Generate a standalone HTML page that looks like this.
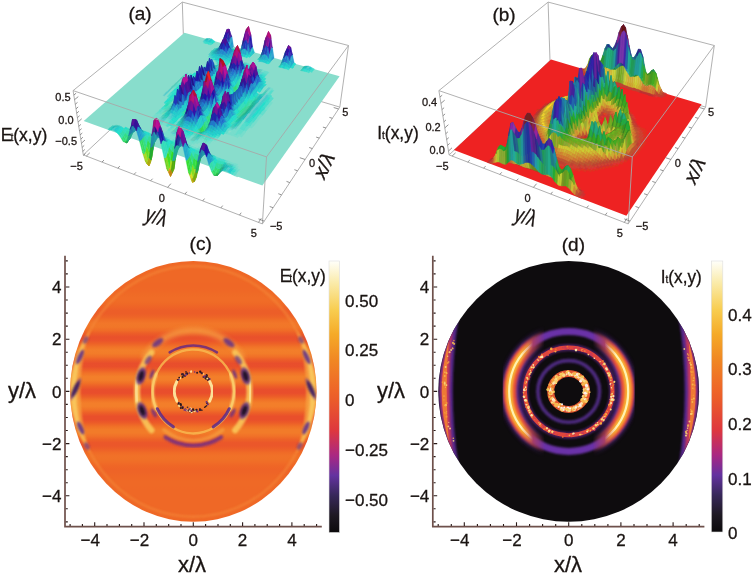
<!DOCTYPE html>
<html><head><meta charset="utf-8"><style>
html,body{margin:0;padding:0;background:#fff;overflow:hidden}
svg{display:block}
text{stroke:#1a1412;stroke-width:.3px}
.a0{fill:#3cb;stroke:#3cb}.a1{fill:#2bb;stroke:#2bb}.a2{fill:#4bb;stroke:#4bb}.a3{fill:#4cc;stroke:#4cc}.a4{fill:#2cc;stroke:#2cc}.a5{fill:#2dc;stroke:#2dc}.a6{fill:#5cc;stroke:#5cc}.a7{fill:#3cc;stroke:#3cc}.a8{fill:#4dc;stroke:#4dc}.a9{fill:#3dc;stroke:#3dc}.aa{fill:#2aa;stroke:#2aa}.ab{fill:#27a;stroke:#27a}.ac{fill:#2cb;stroke:#2cb}.ad{fill:#28a;stroke:#28a}.ae{fill:#29a;stroke:#29a}.af{fill:#29c;stroke:#29c}.ag{fill:#2ac;stroke:#2ac}.ah{fill:#218;stroke:#218}.ai{fill:#4cb;stroke:#4cb}.aj{fill:#27b;stroke:#27b}.ak{fill:#239;stroke:#239}.al{fill:#26c;stroke:#26c}.am{fill:#27c;stroke:#27c}.an{fill:#319;stroke:#319}.ao{fill:#2ab;stroke:#2ab}.ap{fill:#5dc;stroke:#5dc}.aq{fill:#518;stroke:#518}.ar{fill:#23a;stroke:#23a}.as{fill:#419;stroke:#419}.at{fill:#31a;stroke:#31a}.au{fill:#2bc;stroke:#2bc}.av{fill:#619;stroke:#619}.aw{fill:#29b;stroke:#29b}.ax{fill:#26a;stroke:#26a}.ay{fill:#6cc;stroke:#6cc}.az{fill:#259;stroke:#259}.a10{fill:#6dc;stroke:#6dc}.a11{fill:#22a;stroke:#22a}.a12{fill:#229;stroke:#229}.a13{fill:#24b;stroke:#24b}.a14{fill:#28c;stroke:#28c}.a15{fill:#21a;stroke:#21a}.a16{fill:#23b;stroke:#23b}.a17{fill:#318;stroke:#318}.a18{fill:#24a;stroke:#24a}.a19{fill:#28b;stroke:#28b}.a1a{fill:#228;stroke:#228}.a1b{fill:#916;stroke:#916}.a1c{fill:#918;stroke:#918}.a1d{fill:#719;stroke:#719}.a1e{fill:#819;stroke:#819}.a1f{fill:#519;stroke:#519}.a1g{fill:#b18;stroke:#b18}.a1h{fill:#7dc;stroke:#7dc}.a1i{fill:#5cb;stroke:#5cb}.a1j{fill:#7cc;stroke:#7cc}.a1k{fill:#2ba;stroke:#2ba}.a1l{fill:#3bb;stroke:#3bb}.a1m{fill:#618;stroke:#618}.a1n{fill:#6db;stroke:#6db}.a1o{fill:#917;stroke:#917}.a1p{fill:#5db;stroke:#5db}.a1q{fill:#4db;stroke:#4db}.a1r{fill:#b17;stroke:#b17}.a1s{fill:#219;stroke:#219}.a1t{fill:#3db;stroke:#3db}.a1u{fill:#5bb;stroke:#5bb}.a1v{fill:#9d2;stroke:#9d2}.a1w{fill:#8a1;stroke:#8a1}.a1x{fill:#2db;stroke:#2db}.a1y{fill:#ad2;stroke:#ad2}.a1z{fill:#9a1;stroke:#9a1}.a20{fill:#4d2;stroke:#4d2}.a21{fill:#4b2;stroke:#4b2}.a22{fill:#7d2;stroke:#7d2}.a23{fill:#7db;stroke:#7db}.a24{fill:#6cb;stroke:#6cb}.a25{fill:#4ca;stroke:#4ca}.a26{fill:#3d6;stroke:#3d6}.a27{fill:#2c5;stroke:#2c5}.a28{fill:#6b2;stroke:#6b2}.a29{fill:#3d9;stroke:#3d9}.a2a{fill:#2a9;stroke:#2a9}.a2b{fill:#3d3;stroke:#3d3}.a2c{fill:#3d4;stroke:#3d4}.a2d{fill:#3a1;stroke:#3a1}.a2e{fill:#3d7;stroke:#3d7}.a2f{fill:#3c9;stroke:#3c9}.a2g{fill:#6a1;stroke:#6a1}.a2h{fill:#5a1;stroke:#5a1}.a2i{fill:#4a1;stroke:#4a1}.a2j{fill:#249;stroke:#249}.a2k{fill:#2a4;stroke:#2a4}.a2l{fill:#3ca;stroke:#3ca}.a2m{fill:#2a3;stroke:#2a3}.a2n{fill:#3d8;stroke:#3d8}.a2o{fill:#2a5;stroke:#2a5}.a2p{fill:#3d5;stroke:#3d5}.a2q{fill:#4da;stroke:#4da}.a2r{fill:#8dc;stroke:#8dc}.a2s{fill:#2a8;stroke:#2a8}.a2t{fill:#2b8;stroke:#2b8}.a2u{fill:#2a2;stroke:#2a2}.a2v{fill:#3c5;stroke:#3c5}.a2w{fill:#3da;stroke:#3da}.a2x{fill:#2b3;stroke:#2b3}.a2y{fill:#25a;stroke:#25a}.a2z{fill:#3c8;stroke:#3c8}.a30{fill:#26b;stroke:#26b}.a31{fill:#25c;stroke:#25c}.a32{fill:#5b2;stroke:#5b2}.a33{fill:#2b4;stroke:#2b4}.a34{fill:#2b6;stroke:#2b6}.a35{fill:#2b2;stroke:#2b2}.a36{fill:#5d2;stroke:#5d2}.a37{fill:#2a6;stroke:#2a6}.a38{fill:#3b2;stroke:#3b2}.a39{fill:#3c2;stroke:#3c2}.a3a{fill:#2c9;stroke:#2c9}.a3b{fill:#2a7;stroke:#2a7}.a3c{fill:#25b;stroke:#25b}.a3d{fill:#818;stroke:#818}.a3e{fill:#4c2;stroke:#4c2}.a3f{fill:#2b5;stroke:#2b5}.a3g{fill:#915;stroke:#915}.a3h{fill:#a19;stroke:#a19}.a3i{fill:#7a1;stroke:#7a1}.a3j{fill:#7c2;stroke:#7c2}.a3k{fill:#a16;stroke:#a16}.a3l{fill:#913;stroke:#913}.a3m{fill:#2c8;stroke:#2c8}.a3n{fill:#b14;stroke:#b14}.a3o{fill:#2b7;stroke:#2b7}.a3p{fill:#2b9;stroke:#2b9}.a3q{fill:#7b1;stroke:#7b1}.a3r{fill:#3c4;stroke:#3c4}.a3s{fill:#3d2;stroke:#3d2}.a3t{fill:#418;stroke:#418}.a3u{fill:#3c3;stroke:#3c3}.a3v{fill:#b19;stroke:#b19}.a3w{fill:#2ca;stroke:#2ca}.a3x{fill:#9c2;stroke:#9c2}.a3y{fill:#919;stroke:#919}.a3z{fill:#4c9;stroke:#4c9}.a40{fill:#3c6;stroke:#3c6}.a41{fill:#912;stroke:#912}.a42{fill:#718;stroke:#718}.a43{fill:#a18;stroke:#a18}.a44{fill:#b12;stroke:#b12}.a45{fill:#7b2;stroke:#7b2}.a46{fill:#2c3;stroke:#2c3}.a47{fill:#8d2;stroke:#8d2}.a48{fill:#b16;stroke:#b16}.a49{fill:#e22;stroke:#e22}.a4a{fill:#ea2;stroke:#ea2}.a4b{fill:#bd2;stroke:#bd2}.a4c{fill:#b91;stroke:#b91}.a4d{fill:#ba1;stroke:#ba1}.a4e{fill:#6d2;stroke:#6d2}.a4f{fill:#aa1;stroke:#aa1}.a4g{fill:#e92;stroke:#e92}.a4h{fill:#b71;stroke:#b71}.a4i{fill:#c92;stroke:#c92}.a4j{fill:#ac2;stroke:#ac2}.a4k{fill:#b81;stroke:#b81}.a4l{fill:#b13;stroke:#b13}.a4m{fill:#6c2;stroke:#6c2}.a4n{fill:#d92;stroke:#d92}.a4o{fill:#dd2;stroke:#dd2}.a4p{fill:#bc2;stroke:#bc2}.a4q{fill:#a17;stroke:#a17}.b0{fill:#c32;stroke:#c32}.b1{fill:#a32;stroke:#a32}.b2{fill:#c33;stroke:#c33}.b3{fill:#a42;stroke:#a42}.b4{fill:#a43;stroke:#a43}.b5{fill:#b43;stroke:#b43}.b6{fill:#b73;stroke:#b73}.b7{fill:#b63;stroke:#b63}.b8{fill:#b53;stroke:#b53}.b9{fill:#b93;stroke:#b93}.ba{fill:#d33;stroke:#d33}.bb{fill:#b83;stroke:#b83}.bc{fill:#b33;stroke:#b33}.bd{fill:#9b3;stroke:#9b3}.be{fill:#c73;stroke:#c73}.bf{fill:#c83;stroke:#c83}.bg{fill:#bb3;stroke:#bb3}.bh{fill:#682;stroke:#682}.bi{fill:#ab3;stroke:#ab3}.bj{fill:#c63;stroke:#c63}.bk{fill:#792;stroke:#792}.bl{fill:#382;stroke:#382}.bm{fill:#bc3;stroke:#bc3}.bn{fill:#7a2;stroke:#7a2}.bo{fill:#592;stroke:#592}.bp{fill:#5a2;stroke:#5a2}.bq{fill:#c93;stroke:#c93}.br{fill:#8a3;stroke:#8a3}.bs{fill:#392;stroke:#392}.bt{fill:#283;stroke:#283}.bu{fill:#482;stroke:#482}.bv{fill:#ca3;stroke:#ca3}.bw{fill:#294;stroke:#294}.bx{fill:#cb3;stroke:#cb3}.by{fill:#cc3;stroke:#cc3}.bz{fill:#284;stroke:#284}.b10{fill:#293;stroke:#293}.b11{fill:#288;stroke:#288}.b12{fill:#286;stroke:#286}.b13{fill:#296;stroke:#296}.b14{fill:#2a8;stroke:#2a8}.b15{fill:#2a7;stroke:#2a7}.b16{fill:#d32;stroke:#d32}.b17{fill:#297;stroke:#297}.b18{fill:#282;stroke:#282}.b19{fill:#258;stroke:#258}.b1a{fill:#a33;stroke:#a33}.b1b{fill:#285;stroke:#285}.b1c{fill:#238;stroke:#238}.b1d{fill:#582;stroke:#582}.b1e{fill:#249;stroke:#249}.b1f{fill:#299;stroke:#299}.b1g{fill:#a52;stroke:#a52}.b1h{fill:#248;stroke:#248}.b1i{fill:#2a6;stroke:#2a6}.b1j{fill:#295;stroke:#295}.b1k{fill:#4a2;stroke:#4a2}.b1l{fill:#2a9;stroke:#2a9}.b1m{fill:#ba3;stroke:#ba3}.b1n{fill:#259;stroke:#259}.b1o{fill:#428;stroke:#428}.b1p{fill:#2a5;stroke:#2a5}.b1q{fill:#6a2;stroke:#6a2}.b1r{fill:#278;stroke:#278}.b1s{fill:#279;stroke:#279}.b1t{fill:#26a;stroke:#26a}.b1u{fill:#492;stroke:#492}.b1v{fill:#3a2;stroke:#3a2}.b1w{fill:#429;stroke:#429}.b1x{fill:#42a;stroke:#42a}.b1y{fill:#329;stroke:#329}.b1z{fill:#289;stroke:#289}.b20{fill:#828;stroke:#828}.b21{fill:#73a;stroke:#73a}.b22{fill:#228;stroke:#228}.b23{fill:#229;stroke:#229}.b24{fill:#929;stroke:#929}.b25{fill:#ec3;stroke:#ec3}.b26{fill:#a53;stroke:#a53}.b27{fill:#2a4;stroke:#2a4}.b28{fill:#723;stroke:#723}.b29{fill:#ed2;stroke:#ed2}.b2a{fill:#dc3;stroke:#dc3}.b2b{fill:#db3;stroke:#db3}.b2c{fill:#c53;stroke:#c53}.b2d{fill:#611;stroke:#611}.b2e{fill:#c43;stroke:#c43}.b2f{fill:#287;stroke:#287}.b2g{fill:#ed3;stroke:#ed3}.b2h{fill:#9a3;stroke:#9a3}.b2i{fill:#e32;stroke:#e32}.b2j{fill:#27a;stroke:#27a}.b2k{fill:#d42;stroke:#d42}.b2l{fill:#692;stroke:#692}.b2m{fill:#24a;stroke:#24a}.b2n{fill:#fd2;stroke:#fd2}.b2o{fill:#268;stroke:#268}.b2p{fill:#298;stroke:#298}.b2q{fill:#8a2;stroke:#8a2}.b2r{fill:#29a;stroke:#29a}.b2s{fill:#328;stroke:#328}.b2t{fill:#239;stroke:#239}.b2u{fill:#892;stroke:#892}.b2v{fill:#292;stroke:#292}.b2w{fill:#2a3;stroke:#2a3}.b2x{fill:#269;stroke:#269}.b2y{fill:#23a;stroke:#23a}.b2z{fill:#25a;stroke:#25a}.b30{fill:#729;stroke:#729}.b31{fill:#529;stroke:#529}.b32{fill:#528;stroke:#528}.b33{fill:#9b2;stroke:#9b2}.b34{fill:#629;stroke:#629}.b35{fill:#32a;stroke:#32a}.b36{fill:#c42;stroke:#c42}.b37{fill:#22a;stroke:#22a}.b38{fill:#28a;stroke:#28a}.b39{fill:#8b3;stroke:#8b3}.b3a{fill:#6b2;stroke:#6b2}.b3b{fill:#de3;stroke:#de3}.b3c{fill:#6c2;stroke:#6c2}.b3d{fill:#2aa;stroke:#2aa}.b3e{fill:#ac3;stroke:#ac3}.b3f{fill:#2a2;stroke:#2a2}.b3g{fill:#83a;stroke:#83a}.b3h{fill:#82a;stroke:#82a}.b3i{fill:#724;stroke:#724}.b3j{fill:#824;stroke:#824}.b3k{fill:#722;stroke:#722}
</style></head><body>
<svg width="754" height="576" viewBox="0 0 754 576">
<rect width="754" height="576" fill="#fff"/>
<path d="M548.1 2.1L438.9 90.6" stroke="#a8a8a8" stroke-width="0.9" fill="none"/><path d="M548.1 2.1L714.3 45.5" stroke="#a8a8a8" stroke-width="0.9" fill="none"/><path d="M548.1 2.1L550.0 60.7" stroke="#a8a8a8" stroke-width="0.9" fill="none"/><path d="M550.0 60.7L449.1 154.9" stroke="#a8a8a8" stroke-width="0.9" fill="none"/><path d="M550.0 60.7L705.6 107.1" stroke="#a8a8a8" stroke-width="0.9" fill="none"/><polygon points="453.9,150.0 626.4,215.7 701.6,104.2 551.0,59.4" fill="#e22"/><g stroke-width=".8" transform="scale(.5)"><path class="b0" d="M1163 139l 2-2 4 1-2 1z"/><path class="b1" d="M1167 139l 2-1 3 1-2-1z"/><path class="b2" d="M1161 141l 2-2 4 0-2 2z"/><path class="b3" d="M1170 138l 2 1 4-1-2-4z"/><path class="b4" d="M1165 141l 2-2 3-1-2 2z"/><path class="b2" d="M1159 143l 2-2 4 0-2 3z"/><path class="b5" d="M1163 144l 2-3 3-1-2 4z"/><path class="b6" d="M1174 134l 2 4 3-1-1-9z"/><path class="b7" d="M1168 140l 2-2 4-4-2 1z"/><path class="b2" d="M1161 146l 2-2 3 0-2 3z"/><path class="b8" d="M1166 144l 2-4 4-5-2 8z"/><path class="b5" d="M1164 147l 2-3 4-1-2 5z"/><path class="b9" d="M1178 128l 1 9 4-2-2-16z"/><path class="b5" d="M1168 148l 2-5 4-2-2 8z"/><path class="ba" d="M1166 151l 2-3 4 1-2 3z"/><path class="b9" d="M1172 135l 2-1 4-6-2 0z"/><path class="b2" d="M1170 152l 2-3 3 1-2 3z"/><path class="bb" d="M1170 143l 2-8 4-7-2 13z"/><path class="b8" d="M1172 149l 2-8 3-3-2 12z"/><path class="bc" d="M1173 153l 2-3 4 0-2 4z"/><path class="bd" d="M1181 119l 2 16 4-1-2-21z"/><path class="bc" d="M1177 154l 2-4 4 1-2 4z"/><path class="be" d="M1175 150l 2-12 4-2-2 14z"/><path class="bc" d="M1181 155l 2-4 3 1-2 4z"/><path class="bf" d="M1179 150l 2-14 4 0-2 15z"/><path class="bc" d="M1184 156l 2-4 4 2-2 3z"/><path class="bg" d="M1174 141l 2-13 3-10-2 20z"/><path class="bh" d="M1176 128l 2 0 3-9-2-1z"/><path class="bf" d="M1183 151l 2-15 3 3-2 13z"/><path class="bh" d="M1185 113l 2 21 3 0-1-23z"/><path class="be" d="M1186 152l 2-13 4 3-2 12z"/><path class="b2" d="M1188 157l 2-3 4 1-2 3z"/><path class="bi" d="M1196 123l 2 16 3 2-1-15z"/><path class="bj" d="M1190 154l 2-12 4 2-2 11z"/><path class="bd" d="M1193 116l 1 20 4 3-2-16z"/><path class="bh" d="M1189 111l 1 23 4 2-1-20z"/><path class="bi" d="M1200 126l 1 15 4 0-1-18z"/><path class="b2" d="M1192 158l 2-3 3 1-2 4z"/><path class="be" d="M1194 155l 2-11 3-1-2 13z"/><path class="bc" d="M1195 160l 2-4 4 1-2 4z"/><path class="bk" d="M1177 138l 2-20 4-7-2 25z"/><path class="b5" d="M1199 161l 2-4 4 0-2 5z"/><path class="bh" d="M1204 123l 1 18 4-3-1-26z"/><path class="be" d="M1197 156l 2-13 4-3-2 17z"/><path class="b5" d="M1203 162l 2-5 3 1-1 5z"/><path class="bl" d="M1179 118l 2 1 4-6-2-2z"/><path class="bm" d="M1192 142l 2-21 4 4-2 19z"/><path class="bn" d="M1188 139l 3-25 3 7-2 21z"/><path class="b5" d="M1207 163l 1-5 4 1-2 5z"/><path class="bo" d="M1181 136l 2-25 4-2-2 27z"/><path class="bp" d="M1185 136l 2-27 4 5-3 25z"/><path class="bq" d="M1201 157l 2-17 4-4-2 21z"/><path class="b5" d="M1210 164l 2-5 4 1-2 5z"/><path class="bo" d="M1194 121l 2 2 4 3-2-1z"/><path class="br" d="M1196 144l 2-19 4-4-3 22z"/><path class="b5" d="M1214 165l 2-5 4 1-2 5z"/><path class="bs" d="M1191 114l 2 2 3 7-2-2z"/><path class="bt" d="M1183 111l 2 2 4-2-2-2z"/><path class="bu" d="M1198 125l 2 1 4-3-2-2z"/><path class="bl" d="M1208 112l 1 26 4-2-1-35z"/><path class="bv" d="M1205 157l 2-21 4-2-3 24z"/><path class="b5" d="M1218 166l 2-5 3 1-2 5z"/><path class="bw" d="M1187 109l 2 2 4 5-2-2z"/><path class="bx" d="M1208 158l 3-24 4 1-3 24z"/><path class="b5" d="M1221 167l 2-5 4 1-2 5z"/><path class="bx" d="M1212 159l 3-24 3 2-2 23z"/><path class="b5" d="M1225 168l 2-5 4 0-2 7z"/><path class="bv" d="M1216 160l 2-23 4 2-2 22z"/><path class="bo" d="M1199 143l 3-22 4-11-3 30z"/><path class="b5" d="M1229 170l 2-7 4 1-2 7z"/><path class="bx" d="M1220 161l 2-22 4-1-3 24z"/><path class="bt" d="M1212 101l 1 35 3-1 0-41zM1202 121l 2 2 4-11-2-2z"/><path class="b5" d="M1233 171l 2-7 4 1-2 7zM1237 172l 2-7 3 1-2 7z"/><path class="by" d="M1223 162l 3-24 4-4-3 29z"/><path class="b5" d="M1240 173l 2-7 4 2-2 6z"/><path class="bz" d="M1216 94l 0 41 4 1 0-41z"/><path class="b5" d="M1244 174l 2-6 4 2-2 5z"/><path class="bz" d="M1220 95l 0 41 4 2-1-39z"/><path class="b10" d="M1203 140l 3-30 4-13-3 39z"/><path class="bt" d="M1223 99l 1 39 4 1-1-38z"/><path class="b5" d="M1248 175l 2-5 4 1-2 5z"/><path class="bm" d="M1227 163l 3-29 4-5-3 34z"/><path class="b5" d="M1252 176l 2-5 4 2-2 5z"/><path class="bz" d="M1227 101l 1 38 3 0 0-42z"/><path class="b5" d="M1256 178l 2-5 3 1-2 5z"/><path class="br" d="M1231 163l 3-34 4-3-3 38z"/><path class="b5" d="M1259 179l 2-5 4 1-2 5z"/><path class="b11" d="M1206 110l 2 2 4-11-2-4z"/><path class="bx" d="M1250 170l 3-28 4 6-3 23z"/><path class="bv" d="M1254 171l 3-23 3 5-2 20z"/><path class="b12" d="M1231 97l 0 42 4-3 0-50z"/><path class="b13" d="M1207 136l 3-39 4-8-3 45z"/><path class="b5" d="M1263 180l 2-5 4 0-2 6z"/><path class="bm" d="M1246 168l 3-34 4 8-3 28z"/><path class="bk" d="M1235 164l 3-38 4-1-3 40z"/><path class="br" d="M1242 166l 4-38 3 6-3 34z"/><path class="bv" d="M1258 173l 2-20 4 0-3 21z"/><path class="bn" d="M1239 165l 3-40 4 3-4 38z"/><path class="b5" d="M1267 181l 2-6 4 2-2 5z"/><path class="b14" d="M1211 134l 3-45 4 0-3 46z"/><path class="b5" d="M1271 182l 2-5 4 1-2 5z"/><path class="b14" d="M1215 135l 3-46 4 5-4 43z"/><path class="b15" d="M1218 137l 4-43 3 3-3 42z"/><path class="bv" d="M1261 174l 3-21 4-2-3 24z"/><path class="b5" d="M1275 183l 2-5 4 2-2 5z"/><path class="b0" d="M1178 184l 2-2 3 1-2 1z"/><path class="b16" d="M1187 184l 2-2 4 1-2 1z"/><path class="b0" d="M1197 184l 2-2 3 1-2 2z"/><path class="bc" d="M1279 185l 2-5 4 2-2 4z"/><path class="b1" d="M1181 184l 2-1 4 1-2-1z"/><path class="bc" d="M1191 184l 2-1 4 1-2 1z"/><path class="b2" d="M1200 185l 2-2 4 1-2 1z"/><path class="b11" d="M1235 86l 0 50 4-3 1-60z"/><path class="bc" d="M1283 186l 2-4 3 1-1 4z"/><path class="bx" d="M1265 175l 3-24 4-2-3 26z"/><path class="b17" d="M1222 139l 3-42 4-5-3 46z"/><path class="b18" d="M1266 119l-1 33 4 1 1-34z"/><path class="b2" d="M1176 186l 2-2 3 0-2 2z"/><path class="b19" d="M1210 97l 2 4 4-7-2-5z"/><path class="bf" d="M1281 180l 3-18 3 6-2 14z"/><path class="bc" d="M1204 185l 2-1 4 2-2 0z"/><path class="bt" d="M1262 111l 0 38 3 3 1-33z"/><path class="bv" d="M1277 178l 3-23 4 7-3 18z"/><path class="be" d="M1285 182l 2-14 4 3-3 12z"/><path class="b1a" d="M1195 185l 2-1 3 1-1 0z"/><path class="bc" d="M1287 187l 1-4 4 1-2 4z"/><path class="b16" d="M1170 187l 2-2 4 1-2 1z"/><path class="by" d="M1269 175l 3-26 4 1-3 27z"/><path class="b3" d="M1185 183l 2 1 4 0-2-5z"/><path class="bx" d="M1273 177l 3-27 4 5-3 23z"/><path class="bd" d="M1292 145l 0 20 4 3 0-18z"/><path class="bc" d="M1208 186l 2 0 4 1-2 1z"/><path class="bd" d="M1296 150l 0 18 4 0 0-20z"/><path class="b5" d="M1325 184l 2 1 4 1-2 2z"/><path class="bt" d="M1270 119l-1 34 4-1 1-40z"/><path class="bc" d="M1290 188l 2-4 4 1-2 4z"/><path class="b4" d="M1179 186l 2-2 4-1-2 2z"/><path class="be" d="M1288 183l 3-12 4 0-3 13z"/><path class="b4" d="M1199 185l 1 0 4 0-2 0z"/><path class="b5" d="M1322 178l 1 4 4 3-2-1z"/><path class="b1a" d="M1174 187l 2-1 3 0-2 1z"/><path class="ba" d="M1329 188l 2-2 3 2-1 2z"/><path class="bc" d="M1212 188l 2-1 4 1-2 1z"/><path class="b0" d="M1168 189l 2-2 4 0-2 2z"/><path class="bc" d="M1294 189l 2-4 4 1-2 5z"/><path class="b1b" d="M1259 95l-1 49 4 5 0-38z"/><path class="b7" d="M1189 179l 2 5 4 1-2-12z"/><path class="b4" d="M1202 185l 2 0 4 1-2 0z"/><path class="b6" d="M1318 169l 1 9 4 4-1-4z"/><path class="b1c" d="M1214 89l 2 5 4 1-2-6z"/><path class="b1d" d="M1289 132l-1 29 4 4 0-20z"/><path class="b2" d="M1216 189l 2-1 3 1-1 2z"/><path class="b19" d="M1222 94l 1 5 4 2-2-4z"/><path class="be" d="M1292 184l 3-13 4-2-3 16z"/><path class="b0" d="M1162 190l 2-2 4 1-2 1z"/><path class="b1e" d="M1218 89l 2 6 3 4-1-5z"/><path class="bh" d="M1300 148l 0 20 4-1 0-24z"/><path class="bc" d="M1298 191l 2-5 4 2-2 4z"/><path class="b5" d="M1324 186l 1-2 4 4-2 2z"/><path class="b3" d="M1177 187l 2-1 4-1-2-1z"/><path class="b2" d="M1327 190l 2-2 4 2-2 2z"/><path class="b1f" d="M1226 138l 3-46 5-12-4 54z"/><path class="b0" d="M1147 191l 2-2 3 1-2 1z"/><path class="b4" d="M1206 186l 2 0 4 2-2-1zM1172 189l 2-2 3 0-2 2z"/><path class="b1g" d="M1183 185l 2-2 4-4-2 2z"/><path class="b19" d="M1240 73l-1 60 4-2 1-68z"/><path class="b0" d="M1156 191l 2-2 4 1-2 1z"/><path class="bj" d="M1320 180l 2-2 3 6-1 2z"/><path class="bc" d="M1302 192l 2-4 4 1-2 4z"/><path class="bf" d="M1296 185l 3-16 4 1-3 16z"/><path class="bc" d="M1166 190l 2-1 4 0-2 1z"/><path class="b5" d="M1210 187l 2 1 4 1-2 0z"/><path class="b0" d="M1141 192l 2-2 4 1-3 1z"/><path class="b1b" d="M1274 112l-1 40 4-2 1-46z"/><path class="b9" d="M1315 157l 0 17 4 4-1-9z"/><path class="b5" d="M1322 191l 2-5 3 4-1 3z"/><path class="b8" d="M1318 188l 2-8 4 6-2 5z"/><path class="b1h" d="M1225 97l 2 4 4-4-2-5z"/><path class="b8" d="M1308 189l 3-12 3 6-2 8z"/><path class="bf" d="M1300 186l 3-16 4 2-3 16z"/><path class="b5" d="M1312 191l 2-8 4 5-2 5z"/><path class="bc" d="M1150 191l 2-1 4 1-2 1z"/><path class="be" d="M1304 188l 3-16 4 5-3 12z"/><path class="b2" d="M1306 193l 2-4 4 2-2 3zM1326 193l 1-3 4 2-2 2z"/><path class="bc" d="M1160 191l 2-1 4 0-2 1z"/><path class="b5" d="M1214 189l 2 0 4 2-2 0z"/><path class="b1i" d="M1257 148l 4-42 3 9-4 38z"/><path class="b5" d="M1316 193l 2-5 4 3-2 3z"/><path class="bn" d="M1287 168l 3-25 4 6-3 22z"/><path class="b0" d="M1135 193l 2-2 4 1-2 1z"/><path class="bb" d="M1193 173l 2 12 4 0-2-20z"/><path class="b1d" d="M1304 143l 0 24 4 1 0-26z"/><path class="bf" d="M1314 183l 3-14 3 11-2 8z"/><path class="b11" d="M1256 79l-2 59 4 6 1-49z"/><path class="bc" d="M1144 192l 3-1 3 0-2 1z"/><path class="ba" d="M1310 194l 2-3 4 2-2 2z"/><path class="b18" d="M1286 115l-1 40 3 6 1-29z"/><path class="b4" d="M1170 190l 2-1 3 0-2 1z"/><path class="b1j" d="M1260 153l 4-38 4 0-4 38z"/><path class="bc" d="M1218 191l 2 0 3 1-1 2z"/><path class="b2" d="M1320 194l 2-3 4 2-2 3z"/><path class="b1g" d="M1175 189l 2-2 4-3-2 2z"/><path class="b1a" d="M1154 192l 2-1 4 0-2 1z"/><path class="bv" d="M1317 169l 1 0 4 9-2 2z"/><path class="b0" d="M1129 194l 2-2 4 1-2 1z"/><path class="bk" d="M1312 147l 0 23 3 4 0-17z"/><path class="b6" d="M1181 184l 2 1 4-4-2-4z"/><path class="b1k" d="M1284 162l 3-34 3 15-3 25z"/><path class="b4" d="M1164 191l 2-1 4 0-3 1z"/><path class="b2" d="M1222 194l 1-2 4 2-2 1z"/><path class="bc" d="M1139 193l 2-1 3 0-2 1z"/><path class="bk" d="M1291 171l 3-22 4-2-3 24z"/><path class="b1d" d="M1308 142l 0 26 4 2 0-23z"/><path class="b0" d="M1123 195l 2-2 4 1-2 1z"/><path class="b4" d="M1148 192l 2-1 4 1-2 0z"/><path class="b12" d="M1278 104l-1 46 4 1 1-46z"/><path class="b1l" d="M1253 142l 4-53 4 17-4 42z"/><path class="bb" d="M1187 181l 2-2 4-6-2 2z"/><path class="b1c" d="M1244 63l-1 68 4 0 1-71z"/><path class="bc" d="M1133 194l 2-1 4 0-3 1z"/><path class="b4" d="M1158 192l 2-1 4 0-2 0z"/><path class="by" d="M1311 177l 3-20 3 12-3 14z"/><path class="bs" d="M1290 143l 2 2 4 5-2-1z"/><path class="b1b" d="M1282 105l-1 46 4 4 1-40z"/><path class="b1g" d="M1173 190l 2-1 4-3-2 0z"/><path class="b4" d="M1142 193l 2-1 4 0-2 1z"/><path class="bc" d="M1127 195l 2-1 4 0-2 1z"/><path class="b19" d="M1252 65l-1 69 3 4 2-59z"/><path class="bl" d="M1294 149l 2 1 4-2-2-1z"/><path class="b3" d="M1167 191l 3-1 3 0-2-1z"/><path class="b1m" d="M1197 165l 2 20 3 0-1-28z"/><path class="b3" d="M1152 192l 2 0 4 0-2-1z"/><path class="b13" d="M1264 153l 4-38 5-8-5 44z"/><path class="b1n" d="M1230 134l 4-54 4-15-4 64z"/><path class="b4" d="M1136 194l 3-1 3 0-2 1z"/><path class="bc" d="M1121 197l 2-2 4 0-2 2z"/><path class="b1c" d="M1248 60l-1 71 4 3 1-69z"/><path class="b3" d="M1162 191l 2 0 3 0-2-1z"/><path class="bo" d="M1295 171l 3-24 5-6-4 28z"/><path class="b1o" d="M1229 92l 2 5 4-11-1-6z"/><path class="bn" d="M1314 157l 1 0 3 12-1 0z"/><path class="bb" d="M1179 186l 2-2 4-7-2 3z"/><path class="b0" d="M1115 198l 2-2 4 1-2 1z"/><path class="b3" d="M1146 193l 2-1 4 0-2 0z"/><path class="b4" d="M1131 195l 2-1 3 0-2 1z"/><path class="b1p" d="M1280 155l 5-44 2 17-3 34z"/><path class="b1q" d="M1307 172l 4-27 3 12-3 20z"/><path class="b5" d="M1224 193l 1 2 4 2-2 0z"/><path class="b1r" d="M1264 115l 2 4 4 0-2-4z"/><path class="b1g" d="M1156 191l 2 1 4-1-2-1z"/><path class="b4" d="M1125 197l 2-2 4 0-3 1z"/><path class="b0" d="M1109 199l 2-2 4 1-2 2z"/><path class="bc" d="M1227 197l 2 0 4 1-2 2z"/><path class="b3" d="M1220 186l 2 8 3 1-1-2z"/><path class="b1p" d="M1287 128l 2 4 3 13-2-2z"/><path class="b3" d="M1140 194l 2-1 4 0-2-1z"/><path class="bi" d="M1185 177l 2 4 4-6-2-11z"/><path class="b1s" d="M1261 106l 1 5 4 8-2-4z"/><path class="b6" d="M1171 189l 2 1 4-4-2-1z"/><path class="b1t" d="M1249 134l 5-64 3 19-4 53z"/><path class="b1a" d="M1119 198l 2-1 4 0-3 1z"/><path class="b7" d="M1165 190l 2 1 4-2-2 0z"/><path class="bt" d="M1298 147l 2 1 4-5-1-2z"/><path class="b3" d="M1134 195l 2-1 4 0-2-1z"/><path class="b1u" d="M1299 169l 4-28 4-2-4 31z"/><path class="bb" d="M1177 186l 2 0 4-6-2-1z"/><path class="b7" d="M1150 192l 2 0 4-1-2 0z"/><path class="b6" d="M1216 176l 2 15 4 3-2-8z"/><path class="bd" d="M1201 157l 1 28 4 1-1-32z"/><path class="bc" d="M1113 200l 2-2 4 0-2 2z"/><path class="b1k" d="M1303 170l 4-31 4 6-4 27z"/><path class="bk" d="M1191 175l 2-2 4-8-2 2z"/><path class="b3" d="M1128 196l 3-1 3 0-2 0z"/><path class="b7" d="M1160 190l 2 1 3-1-2-1z"/><path class="b2" d="M1107 201l 2-2 4 1-2 1z"/><path class="b5" d="M1225 199l 2-2 4 3-2 2z"/><path class="b1f" d="M1268 151l 5-44 4-9-5 51z"/><path class="b8" d="M1222 195l 2-2 3 4-2 2z"/><path class="b7" d="M1144 192l 2 1 4-1-2-1z"/><path class="b3" d="M1122 198l 3-1 3-1-2 1z"/><path class="b9" d="M1213 165l 1 24 4 2-2-15z"/><path class="b0" d="M1101 202l 2-2 4 1-2 2z"/><path class="b16" d="M1229 202l 2-2 4 2-2 1z"/><path class="b1v" d="M1311 145l 1 2 3 10-1 0z"/><path class="b1l" d="M1276 150l 5-51 4 12-5 44z"/><path class="b4" d="M1117 200l 2-2 3 0-2 1z"/><path class="b19" d="M1268 115l 2 4 4-7-1-5z"/><path class="b7" d="M1138 193l 2 1 4-2-2 0z"/><path class="bf" d="M1218 188l 2-2 4 7-2 2z"/><path class="bk" d="M1205 154l 1 32 4 1-1-30z"/><path class="b6" d="M1154 191l 2 0 4-1-3-1z"/><path class="b1w" d="M1234 129l 4-64 5-12-5 73z"/><path class="b4" d="M1111 201l 2-1 4 0-3 1z"/><path class="bi" d="M1209 157l 1 30 4 2-1-24z"/><path class="b1m" d="M1169 189l 2 0 4-4-2-18z"/><path class="b7" d="M1132 195l 2 0 4-2-2 0z"/><path class="bc" d="M1105 203l 2-2 4 0-3 2z"/><path class="b1f" d="M1272 149l 5-51 4 1-5 51z"/><path class="b1b" d="M1303 141l 1 2 4-1-1-3z"/><path class="bb" d="M1163 189l 2 1 4-1-2-3z"/><path class="b6" d="M1148 191l 2 1 4-1-2-1z"/><path class="b1x" d="M1246 128l 5-73 3 15-5 64z"/><path class="b1y" d="M1257 89l 2 6 3 16-1-5z"/><path class="b1m" d="M1175 185l 2 1 4-7-2-3z"/><path class="b7" d="M1126 197l 2-1 4-1-2 0z"/><path class="b0" d="M1099 205l 2-3 4 1-3 2z"/><path class="b5" d="M1224 199l 1 0 4 3-2 0z"/><path class="bk" d="M1183 180l 2-3 4-13-2 6z"/><path class="b1j" d="M1307 139l 1 3 4 5-1-2z"/><path class="b5" d="M1227 202l 2 0 4 1-2 2z"/><path class="b1g" d="M1120 199l 2-1 4-1-2 0z"/><path class="bj" d="M1220 192l 2 3 3 4-1 0z"/><path class="bb" d="M1157 189l 3 1 3-1-2-1z"/><path class="by" d="M1214 178l 2-2 4 10-2 2z"/><path class="b6" d="M1142 192l 2 0 4-1-2-1z"/><path class="b3" d="M1114 201l 3-1 3-1-2 0z"/><path class="b1z" d="M1285 111l 1 4 3 17-2-4z"/><path class="b2" d="M1231 205l 2-2 4 2-2 1z"/><path class="b4" d="M1108 203l 3-2 3 0-2 1z"/><path class="b20" d="M1234 80l 1 6 5-13-2-8z"/><path class="b4" d="M1102 205l 3-2 3 0-2 1z"/><path class="b6" d="M1136 193l 2 0 4-1-2-1z"/><path class="b21" d="M1238 126l 5-73 4-4-5 76z"/><path class="b0" d="M1235 206l 2-1 4 1-2 2z"/><path class="bk" d="M1181 179l 2 1 4-10-2-2z"/><path class="bb" d="M1152 190l 2 1 3-2-2 0z"/><path class="bu" d="M1189 164l 2 11 4-8-2-19z"/><path class="bc" d="M1096 207l 3-2 3 0-2 2z"/><path class="b21" d="M1242 125l 5-76 4 6-5 73z"/><path class="bu" d="M1195 167l 2-2 4-8-2 2z"/><path class="b6" d="M1130 195l 2 0 4-2-2 0z"/><path class="b0" d="M1090 208l 3-2 3 1-2 2z"/><path class="b8" d="M1222 199l 2 0 3 3-1 0z"/><path class="b9" d="M1216 180l 2 8 4 7-2-3z"/><path class="b6" d="M1124 197l 2 0 4-2-2 0z"/><path class="b5" d="M1226 202l 1 0 4 3-2 0z"/><path class="bb" d="M1146 190l 2 1 4-1-3-1z"/><path class="b7" d="M1118 199l 2 0 4-2-2 0z"/><path class="b9" d="M1161 188l 2 1 4-3-2 1z"/><path class="b22" d="M1273 107l 1 5 4-8-1-6z"/><path class="bf" d="M1218 193l 2-1 4 7-2 0z"/><path class="b1g" d="M1112 202l 2-1 4-2-2 1z"/><path class="b5" d="M1229 205l 2 0 4 1-2 1z"/><path class="b3" d="M1106 204l 2-1 4-1-2 0z"/><path class="b4" d="M1100 207l 2-2 4-1-2 1z"/><path class="b1q" d="M1211 167l 2-2 3 11-2 2z"/><path class="b9" d="M1155 189l 2 0 4-1-2 0z"/><path class="bb" d="M1140 191l 2 1 4-2-3 0z"/><path class="bc" d="M1094 209l 2-2 4 0-2 1z"/><path class="b5" d="M1233 207l 2-1 4 2-2 1z"/><path class="b0" d="M1088 210l 2-2 4 1-2 2z"/><path class="bb" d="M1134 193l 2 0 4-2-3 0z"/><path class="b9" d="M1149 189l 3 1 3-1-2 1z"/><path class="b2" d="M1237 209l 2-1 4 2-2 1z"/><path class="bb" d="M1128 195l 2 0 4-2-3 0z"/><path class="b23" d="M1281 99l 1 6 4 10-1-4z"/><path class="by" d="M1214 183l 2-3 4 12-2 1z"/><path class="bb" d="M1122 197l 2 0 4-2-3 0z"/><path class="b24" d="M1254 70l 2 9 3 16-2-6z"/><path class="b2" d="M1241 211l 2-1 4 1-2 2z"/><path class="b1m" d="M1159 188l 2 0 4-1-2 0zM1143 190l 3 0 3-1-2 2z"/><path class="b6" d="M1116 200l 2-1 4-2-3 0z"/><path class="b1g" d="M1104 205l 2-1 4-2-2 1z"/><path class="b7" d="M1110 202l 2 0 4-2-3 0z"/><path class="b3" d="M1098 208l 2-1 4-2-2 2z"/><path class="b1d" d="M1179 176l 2 3 4-11-2-6z"/><path class="b4" d="M1092 211l 2-2 4-1-2 2z"/><path class="bi" d="M1165 187l 2-1 4-5-2 4z"/><path class="bt" d="M1199 159l 2-2 4-3-2 1z"/><path class="b1o" d="M1277 98l 1 6 4 1-1-6z"/><path class="bk" d="M1213 164l 1 14 4 10-2-8z"/><path class="b2" d="M1086 212l 2-2 4 1-2 2z"/><path class="bx" d="M1153 190l 2-1 4-1-2 3z"/><path class="bd" d="M1167 186l 2 3 4-22-2 14z"/><path class="b16" d="M1245 213l 2-2 4 1-2 2z"/><path class="b1m" d="M1137 191l 3 0 3-1-2 2z"/><path class="b1v" d="M1207 158l 2-1 4 8-2 2z"/><path class="bb" d="M1220 192l 2 7 4 3-2-12z"/><path class="b25" d="M1147 191l 2-2 4 1-2 2z"/><path class="b9" d="M1131 193l 3 0 3-2-2 2z"/><path class="bu" d="M1173 167l 2 18 4-9-2-23z"/><path class="bt" d="M1187 170l 2-6 4-16-2 9z"/><path class="b7" d="M1228 199l 1 6 4 2-1-4z"/><path class="b26" d="M1232 203l 1 4 4 2-1-2z"/><path class="b27" d="M1203 155l 2-1 4 3-2 1z"/><path class="b5" d="M1236 207l 1 2 4 2-2 0z"/><path class="b28" d="M1238 65l 2 8 4-10-1-10z"/><path class="b9" d="M1125 195l 3 0 3-2-2 1z"/><path class="bd" d="M1163 187l 2 0 4-2-2-2z"/><path class="b3" d="M1096 210l 2-2 4-1-3 1z"/><path class="b29" d="M1141 192l 2-2 4 1-2 2z"/><path class="by" d="M1157 191l 2-3 4-1-2 5z"/><path class="b4" d="M1090 213l 2-2 4-1-3 2z"/><path class="b2a" d="M1151 192l 2-2 4 1-2 3z"/><path class="b7" d="M1102 207l 2-2 4-2-3 1z"/><path class="b5" d="M1239 211l 2 0 4 2-2 0z"/><path class="bb" d="M1119 197l 3 0 3-2-2 1z"/><path class="bc" d="M1084 215l 2-3 4 1-3 2z"/><path class="b6" d="M1108 203l 2-1 3-2-2 1z"/><path class="bb" d="M1113 200l 3 0 3-3-2 1z"/><path class="b6" d="M1224 190l 2 12 3 3-1-6z"/><path class="bk" d="M1212 181l 2 2 4 10-1-16z"/><path class="b1b" d="M1193 148l 2 19 4-8-1-27z"/><path class="b5" d="M1243 213l 2 0 4 1-2 1z"/><path class="bx" d="M1145 193l 2-2 4 1-2 4z"/><path class="b29" d="M1135 193l 2-2 4 1-2 2z"/><path class="bt" d="M1185 168l 2 2 4-13-2-4z"/><path class="b2a" d="M1155 194l 2-3 4 1-2 3z"/><path class="bv" d="M1149 196l 2-4 4 2-2 6z"/><path class="b2" d="M1247 215l 2-1 4 2-2 1z"/><path class="bp" d="M1211 170l 2-6 3 16-2 3z"/><path class="bx" d="M1139 194l 2-2 4 1-2 5z"/><path class="b2a" d="M1129 194l 2-1 4 0-2 2z"/><path class="bg" d="M1217 177l 1 16 4 6-2-7z"/><path class="bq" d="M1147 201l 2-5 4 4-2 5z"/><path class="bv" d="M1153 200l 2-6 4 1-2 8zM1143 198l 2-5 4 3-2 5z"/><path class="bf" d="M1151 205l 2-5 4 3-2 3z"/><path class="bg" d="M1159 195l 2-3 4 1-2 0z"/><path class="b4" d="M1087 215l 3-2 3-1-2 1z"/><path class="bm" d="M1161 192l 2-5 4-4-2 10z"/><path class="b1g" d="M1093 212l 3-2 3-2-2 2z"/><path class="bc" d="M1081 217l 3-2 3 0-2 2z"/><path class="be" d="M1145 207l 2-6 4 4-2 5z"/><path class="b1m" d="M1123 196l 2-1 4-1-2 2z"/><path class="b16" d="M1251 217l 2-1 4 1-2 2z"/><path class="bq" d="M1141 202l 2-4 4 3-2 6z"/><path class="b7" d="M1099 208l 3-1 3-3-2 1z"/><path class="b2b" d="M1133 195l 2-2 4 1-2 4z"/><path class="bv" d="M1137 198l 2-4 4 4-2 4z"/><path class="be" d="M1149 210l 2-5 4 1-3 6z"/><path class="b9" d="M1117 198l 2-1 4-1-2 1z"/><path class="bb" d="M1155 206l 2-3 4 1-3 0z"/><path class="b28" d="M1251 55l 1 10 4 14-2-9z"/><path class="b6" d="M1105 204l 3-1 3-2-2 1z"/><path class="b7" d="M1143 211l 2-4 4 3-3 4z"/><path class="bb" d="M1111 201l 2-1 4-2-2 1z"/><path class="be" d="M1139 207l 2-5 4 5-2 4z"/><path class="bv" d="M1157 203l 2-8 4-2-2 11z"/><path class="bt" d="M1209 145l 2 22 3 11-1-14z"/><path class="b2c" d="M1146 214l 3-4 3 2-2 3z"/><path class="b25" d="M1127 196l 2-2 4 1-2 4z"/><path class="bq" d="M1135 203l 2-5 4 4-2 5z"/><path class="bv" d="M1131 199l 2-4 4 3-2 5z"/><path class="b7" d="M1137 212l 2-5 4 4-3 4z"/><path class="b8" d="M1140 215l 3-4 3 3-2 4zM1242 211l 1 2 4 2-2 0z"/><path class="b5" d="M1245 215l 2 0 4 2-2 1z"/><path class="b4" d="M1085 217l 2-2 4-2-2 2z"/><path class="bc" d="M1079 219l 2-2 4 0-2 2z"/><path class="b7" d="M1238 205l 1 6 4 2-1-2z"/><path class="bz" d="M1171 181l 2-14 4-14-2-3z"/><path class="bf" d="M1133 207l 2-4 4 4-2 5z"/><path class="be" d="M1152 212l 3-6 3-2-2 8z"/><path class="b1g" d="M1091 213l 2-1 4-2-2 1z"/><path class="b29" d="M1121 197l 2-1 4 0-2 3z"/><path class="bd" d="M1163 193l 2 0 4-2-2-6z"/><path class="b2d" d="M1243 53l 1 10 4-3-1-11z"/><path class="b1u" d="M1209 166l 2 4 3 13-2-2z"/><path class="b0" d="M1073 221l 2-3 4 1-2 2z"/><path class="b5" d="M1249 218l 2-1 4 2-2 1z"/><path class="b1d" d="M1167 183l 2 2 4-11-2 0z"/><path class="bq" d="M1129 203l 2-4 4 4-2 4z"/><path class="b6" d="M1097 210l 2-2 4-3-2 2z"/><path class="b1g" d="M1150 215l 2-3 4 0-2 0z"/><path class="b5" d="M1144 218l 2-4 4 1-2 4z"/><path class="b8" d="M1134 216l 3-4 3 3-2 4z"/><path class="bx" d="M1125 199l 2-3 4 3-2 4z"/><path class="b1m" d="M1115 199l 2-1 4-1-2 2z"/><path class="be" d="M1131 212l 2-5 4 5-3 4z"/><path class="bb" d="M1103 205l 2-1 4-2-2 1z"/><path class="b2e" d="M1138 219l 2-4 4 3-2 3z"/><path class="b9" d="M1158 204l 3 0 3-2-2-7z"/><path class="b2" d="M1253 220l 2-1 4 2-2 1z"/><path class="bb" d="M1234 196l 2 11 3 4-1-6z"/><path class="b9" d="M1109 202l 2-1 4-2-2 2z"/><path class="bk" d="M1165 193l 2-10 4-9-2 17z"/><path class="b2d" d="M1247 49l 1 11 4 5-1-10z"/><path class="bf" d="M1127 207l 2-4 4 4-2 5z"/><path class="b1b" d="M1183 162l 2 6 4-15-2-9z"/><path class="b4" d="M1083 219l 2-2 4-2-3 3z"/><path class="bc" d="M1077 221l 2-2 4 0-3 2z"/><path class="b2a" d="M1119 199l 2-2 4 2-2 3z"/><path class="b2e" d="M1142 221l 2-3 4 1-2 2z"/><path class="bv" d="M1123 202l 2-3 4 4-2 4z"/><path class="b5" d="M1132 219l 2-3 4 3-2 3z"/><path class="b8" d="M1128 215l 3-3 3 4-2 3z"/><path class="bg" d="M1161 204l 2-11 4-8-3 17z"/><path class="b11" d="M1198 132l 1 27 4-4-1-30z"/><path class="b16" d="M1071 223l 2-2 4 0-3 3z"/><path class="b7" d="M1089 215l 2-2 4-2-3 2z"/><path class="bl" d="M1169 185l 2-4 4-31-2 24z"/><path class="be" d="M1124 211l 3-4 4 5-3 3z"/><path class="ba" d="M1136 222l 2-3 4 2-2 2z"/><path class="b26" d="M1148 219l 2-4 4-3-2 5z"/><path class="b6" d="M1095 211l 2-1 4-3-3 1z"/><path class="b1b" d="M1177 153l 2 23 4-14-2-16z"/><path class="b29" d="M1113 201l 2-2 4 0-2 3z"/><path class="b1m" d="M1231 184l 1 19 4 4-2-11z"/><path class="b1i" d="M1207 154l 2-9 4 19-2 6z"/><path class="b2f" d="M1206 130l 1 28 4 9-2-22z"/><path class="b11" d="M1191 157l 2-9 5-16-3 12z"/><path class="bq" d="M1120 206l 3-4 4 5-3 4z"/><path class="bk" d="M1227 180l 1 19 4 4-1-19z"/><path class="bb" d="M1101 207l 2-2 4-2-3 2z"/><path class="b1m" d="M1107 203l 2-1 4-1-3 2z"/><path class="b8" d="M1126 219l 2-4 4 4-2 3z"/><path class="bx" d="M1117 202l 2-3 4 3-3 4z"/><path class="b5" d="M1248 216l 1 2 4 2-2 1zM1251 221l 2-1 4 2-2 2z"/><path class="b26" d="M1244 211l 1 4 4 3-1-2z"/><path class="b2e" d="M1130 222l 2-3 4 3-2 3z"/><path class="bb" d="M1154 212l 2 0 4-4-2-4z"/><path class="b9" d="M1156 212l 2-8 4-9-2 13z"/><path class="bc" d="M1074 224l 3-3 3 0-2 3z"/><path class="be" d="M1122 215l 2-4 4 4-2 4z"/><path class="b4" d="M1080 221l 3-2 3-1-2 2z"/><path class="b5" d="M1140 223l 2-2 4 0-2 2z"/><path class="b3" d="M1146 221l 2-2 4-2-2 2z"/><path class="bt" d="M1171 174l 2 0 4 0-2-16z"/><path class="b2" d="M1255 224l 2-2 4 2-2 2z"/><path class="b16" d="M1134 225l 2-3 4 1-2 3z"/><path class="b7" d="M1086 218l 3-3 3-2-2 2z"/><path class="b11" d="M1189 153l 2 4 4-13-2-5z"/><path class="bq" d="M1118 209l 2-3 4 5-2 4z"/><path class="bl" d="M1219 174l 1 18 4-2-1-31z"/><path class="b1r" d="M1202 125l 1 30 4 3-1-28z"/><path class="bu" d="M1167 185l 2 6 4-4-2-19z"/><path class="b2g" d="M1110 203l 3-2 4 1-3 3z"/><path class="bz" d="M1211 173l 1 8 5-4-1-34z"/><path class="b5" d="M1124 222l 2-3 4 3-2 3z"/><path class="b16" d="M1259 226l 2-2 4 2-2 2z"/><path class="bv" d="M1114 205l 3-3 3 4-2 3z"/><path class="b6" d="M1092 213l 3-2 3-3-2 2z"/><path class="b7" d="M1120 218l 2-3 4 4-2 3z"/><path class="b2" d="M1128 225l 2-3 4 3-2 2z"/><path class="bq" d="M1208 215l 2-9 4 4-2 7z"/><path class="bv" d="M1204 211l 2-13 4 8-2 9z"/><path class="bx" d="M1104 205l 3-2 3 0-2 2z"/><path class="b9" d="M1098 208l 3-1 3-2-2 2z"/><path class="bc" d="M1138 226l 2-3 4 0-2 3z"/><path class="b1i" d="M1173 174l 2-24 4 5-2 19z"/><path class="bc" d="M1072 226l 2-2 4 0-2 2z"/><path class="b2h" d="M1208 198l 2-11 4 6-2 10z"/><path class="b13" d="M1205 149l 2 5 4 16-2-4z"/><path class="b4" d="M1078 224l 2-3 4-1-2 2z"/><path class="bf" d="M1116 213l 2-4 4 6-2 3z"/><path class="bh" d="M1162 195l 2 7 4-5-2-18z"/><path class="b3" d="M1144 223l 2-2 4-2-2 2z"/><path class="bb" d="M1240 196l 2 15 3 4-1-4z"/><path class="b2i" d="M1132 227l 2-2 4 1-2 2z"/><path class="bx" d="M1210 206l 2-3 4-1-2 8z"/><path class="be" d="M1206 217l 2-2 4 2-2 4z"/><path class="b7" d="M1084 220l 2-2 4-3-2 2z"/><path class="bf" d="M1212 217l 2-7 4 1-2 6z"/><path class="by" d="M1206 198l 2 0 4 5-2 3z"/><path class="bv" d="M1112 208l 2-3 4 4-2 4z"/><path class="bb" d="M1152 217l 2-5 4-8-2 8z"/><path class="bx" d="M1108 205l 2-2 4 2-2 3z"/><path class="b5" d="M1122 225l 2-3 4 3-2 3z"/><path class="b8" d="M1118 221l 2-3 4 4-2 3zM1204 224l 2-7 4 4-2 5zM1250 219l 1 2 4 3-1-1z"/><path class="b7" d="M1210 221l 2-4 4 0-2 6z"/><path class="b5" d="M1254 223l 1 1 4 2-1 1z"/><path class="bs" d="M1169 191l 2-17 4-16-2 29z"/><path class="be" d="M1200 220l 2-11 4 8-2 7z"/><path class="bx" d="M1214 210l 2-8 4 0-2 9z"/><path class="bp" d="M1204 191l 3-17 3 13-2 11z"/><path class="bf" d="M1202 209l 2 2 4 4-2 2z"/><path class="ba" d="M1126 228l 2-3 4 2-2 3z"/><path class="be" d="M1114 216l 2-3 4 5-2 3z"/><path class="bb" d="M1090 215l 2-2 4-3-2 2z"/><path class="b2" d="M1258 227l 1-1 4 2-1 1z"/><path class="bi" d="M1237 189l 1 16 4 6-2-15z"/><path class="bm" d="M1200 205l 3-22 3 15-2 13z"/><path class="b8" d="M1208 226l 2-5 4 2-2 4z"/><path class="b6" d="M1150 219l 2-2 4-5-2 0z"/><path class="bc" d="M1136 228l 2-2 4 0-2 2z"/><path class="bu" d="M1223 159l 1 31 4 9-1-19z"/><path class="bc" d="M1070 229l 2-3 4 0-3 3z"/><path class="b2a" d="M1102 207l 2-2 4 0-2 3z"/><path class="b4" d="M1076 226l 2-2 4-2-2 3z"/><path class="b9" d="M1096 210l 2-2 4-1-2 2z"/><path class="b4" d="M1142 226l 2-3 4-2-2 4z"/><path class="bo" d="M1164 202l 3-17 4-17-3 29z"/><path class="ba" d="M1262 229l 1-1 4 1-1 2z"/><path class="bq" d="M1110 211l 2-3 4 5-2 3zM1216 217l 2-6 4-1-2 7z"/><path class="b16" d="M1130 230l 2-3 4 1-3 3z"/><path class="be" d="M1214 223l 2-6 4 0-2 6z"/><path class="b8" d="M1116 224l 2-3 4 4-2 3z"/><path class="b7" d="M1082 222l 2-2 4-3-3 3z"/><path class="bx" d="M1106 208l 2-3 4 3-2 3z"/><path class="b5" d="M1120 228l 2-3 4 3-3 3zM1202 224l 2 0 4 2-2 3z"/><path class="b1r" d="M1179 155l 2-9 4 10-2-22z"/><path class="b2j" d="M1203 142l 3-12 3 15-2 9z"/><path class="b8" d="M1212 227l 2-4 4 0-2 5z"/><path class="be" d="M1112 219l 2-3 4 5-2 3z"/><path class="b2k" d="M1206 229l 2-3 4 1-2 4z"/><path class="bn" d="M1212 203l 2-10 5-11-3 20z"/><path class="b16" d="M1123 231l 3-3 4 2-3 2z"/><path class="bd" d="M1158 204l 2 4 4-7-2-12z"/><path class="by" d="M1196 212l 2-19 4 16-2 11z"/><path class="bb" d="M1246 205l 2 11 3 5-1-2zM1088 217l 2-2 4-3-3 3z"/><path class="b2l" d="M1203 183l 1 8 4 7-2 0z"/><path class="b1n" d="M1195 144l 3-12 4-7-3 13z"/><path class="by" d="M1218 211l 2-9 4-4-2 12z"/><path class="bj" d="M1198 216l 2 4 4 4-2 0z"/><path class="bc" d="M1067 231l 3-2 3 0-2 2z"/><path class="b27" d="M1210 187l 3-34 4 22-3 18z"/><path class="b4" d="M1073 229l 3-3 4-1-3 3z"/><path class="bc" d="M1133 231l 3-3 4 0-3 4z"/><path class="b29" d="M1100 209l 2-2 4 1-2 2z"/><path class="bq" d="M1108 214l 2-3 4 5-2 3z"/><path class="b3" d="M1140 228l 2-2 4-1-3 0z"/><path class="bt" d="M1216 143l 1 34 3 15-1-18z"/><path class="b1m" d="M1242 200l 2 11 4 5-2-11z"/><path class="b5" d="M1200 229l 2-5 4 5-2 3z"/><path class="b1q" d="M1216 202l 3-20 4 3-3 17z"/><path class="b2e" d="M1210 231l 2-4 4 1-2 4z"/><path class="b6" d="M1148 221l 2-2 4-7-2 2z"/><path class="b9" d="M1094 212l 2-2 4-1-2 2z"/><path class="be" d="M1218 223l 2-6 4 0-2 6z"/><path class="b16" d="M1127 232l 3-2 3 1-2 2z"/><path class="b5" d="M1256 227l 2 0 4 2-2 1z"/><path class="b2l" d="M1160 208l 2-13 4-16-2 22z"/><path class="bg" d="M1198 193l 2 12 4 6-2-2z"/><path class="bv" d="M1220 217l 2-7 4-1-2 8z"/><path class="b8" d="M1113 227l 3-3 4 4-3 3z"/><path class="bx" d="M1104 210l 2-2 4 3-2 3z"/><path class="b1f" d="M1175 150l 2 3 4-7-2 9z"/><path class="b7" d="M1080 225l 2-3 3-2-2 2z"/><path class="b2e" d="M1117 231l 3-3 3 3-2 2z"/><path class="b11" d="M1181 146l 2 16 4-18-2 12z"/><path class="b2" d="M1204 232l 2-3 4 2-2 3z"/><path class="b8" d="M1216 228l 2-5 4 0-2 5z"/><path class="b5" d="M1260 230l 2-1 4 2-2 2z"/><path class="be" d="M1196 224l 2-8 4 8-2 5z"/><path class="b1j" d="M1208 137l 1 29 3 15-1-8z"/><path class="b19" d="M1187 144l 2 9 4-14-1-12z"/><path class="be" d="M1109 222l 3-3 4 5-3 3z"/><path class="b19" d="M1193 139l 2 5 4-6-1-6z"/><path class="b1d" d="M1233 173l 1 23 4 9-1-16z"/><path class="b1s" d="M1202 136l 1 6 4 12-2-5z"/><path class="b16" d="M1121 233l 2-2 4 1-2 3z"/><path class="b27" d="M1201 181l 2-27 4 20-3 17z"/><path class="ba" d="M1264 233l 2-2 4 2-2 2z"/><path class="bj" d="M1252 218l 2 5 4 4-2 0z"/><path class="b5" d="M1214 232l 2-4 4 0-2 5z"/><path class="bb" d="M1085 220l 3-3 3-2-2 2z"/><path class="ba" d="M1208 234l 2-3 4 1-2 3z"/><path class="b1a" d="M1131 233l 2-2 4 1-2 1z"/><path class="b2m" d="M1199 138l 3-13 4 5-3 12z"/><path class="b2" d="M1065 234l 2-3 4 0-2 3z"/><path class="b4" d="M1071 231l 2-2 4-1-2 2z"/><path class="bq" d="M1105 217l 3-3 4 5-3 3z"/><path class="b6" d="M1248 213l 2 6 4 4-2-5z"/><path class="b2n" d="M1098 211l 2-2 4 1-3 3z"/><path class="b6" d="M1146 225l 2-4 4-7-3 6z"/><path class="b11" d="M1175 158l 2 16 4-9-2-29z"/><path class="b1v" d="M1196 195l 3-35 4 23-3 22z"/><path class="b1l" d="M1205 153l 3-16 3 36-2 5z"/><path class="b1b" d="M1171 168l 2 19 4-8-2-33z"/><path class="b4" d="M1137 232l 3-4 3-3-2 6z"/><path class="bf" d="M1222 223l 2-6 4-1-2 6z"/><path class="b2o" d="M1203 139l 2 10 4 17-1-29z"/><path class="b1m" d="M1091 215l 3-3 4-1-3 2z"/><path class="b5" d="M1198 230l 2-1 4 3-3 2z"/><path class="bx" d="M1101 213l 3-3 4 4-3 3z"/><path class="b16" d="M1125 235l 2-3 4 1-2 3z"/><path class="b5" d="M1111 229l 2-2 4 4-2 2z"/><path class="b2p" d="M1177 174l 2-19 4-21-2 31z"/><path class="b7" d="M1077 228l 3-3 3-3-2 3z"/><path class="bj" d="M1220 228l 2-5 4-1-2 6z"/><path class="b2" d="M1115 233l 2-2 4 2-2 3z"/><path class="ba" d="M1201 234l 3-2 4 2-3 2z"/><path class="b2q" d="M1222 210l 2-12 5-5-3 16z"/><path class="b1m" d="M1194 201l 2 11 4 8-2-4z"/><path class="bj" d="M1107 224l 2-2 4 5-2 2z"/><path class="bx" d="M1224 217l 2-8 4-3-2 10z"/><path class="b2" d="M1212 235l 2-3 4 1-2 3z"/><path class="bx" d="M1192 216l 2-15 4 15-2 8z"/><path class="b7" d="M1194 222l 2 2 4 5-2 1z"/><path class="b8" d="M1218 233l 2-5 4 0-2 5z"/><path class="b1h" d="M1198 132l 1 6 4 4-1-6z"/><path class="bk" d="M1156 212l 2-8 4-15-2 12z"/><path class="bi" d="M1154 212l 2 0 4-11-2-1z"/><path class="b5" d="M1069 234l 2-3 4-1-2 3z"/><path class="bb" d="M1083 222l 2-2 4-3-2 3z"/><path class="b14" d="M1203 154l 2-1 4 25-2-4z"/><path class="bq" d="M1103 219l 2-2 4 5-2 2z"/><path class="b2" d="M1063 236l 2-2 4 0-3 3z"/><path class="b5" d="M1258 230l 2 0 4 3-2 1z"/><path class="b6" d="M1143 225l 3 0 3-5-2-3z"/><path class="bt" d="M1166 179l 2 18 4-9-2-31z"/><path class="b3" d="M1135 233l 2-1 4-1-2-2z"/><path class="b2e" d="M1262 234l 2-1 4 2-2 2z"/><path class="b19" d="M1185 156l 2-12 5-17-3 15z"/><path class="b8" d="M1254 225l 2 2 4 3-2 0z"/><path class="bc" d="M1129 236l 2-3 4 0-2 4z"/><path class="b2n" d="M1095 213l 3-2 3 2-2 2z"/><path class="b1b" d="M1225 168l 2 12 4 4-2-21z"/><path class="bp" d="M1192 202l 3-32 3 23-2 19z"/><path class="b5" d="M1195 234l 3-4 3 4-2 3z"/><path class="bt" d="M1229 163l 2 21 3 12-1-23z"/><path class="b1g" d="M1075 230l 2-2 4-3-2 3z"/><path class="bv" d="M1099 215l 2-2 4 4-2 2z"/><path class="b16" d="M1123 237l 2-2 4 1-2 2z"/><path class="b1m" d="M1089 217l 2-2 4-2-2 3z"/><path class="b5" d="M1216 236l 2-3 4 0-2 4zM1109 232l 2-3 4 4-2 2z"/><path class="b1u" d="M1220 202l 3-17 4-11-3 24z"/><path class="ba" d="M1266 237l 2-2 4 2-2 2z"/><path class="b2" d="M1199 237l 2-3 4 2-2 3z"/><path class="b16" d="M1209 238l 3-3 4 1-3 3z"/><path class="b2" d="M1113 235l 2-2 4 3-2 2z"/><path class="be" d="M1224 228l 2-6 4-1-2 6z"/><path class="b2f" d="M1209 178l 2-5 5-30-3 10z"/><path class="bj" d="M1105 227l 2-3 4 5-2 3z"/><path class="bq" d="M1226 222l 2-6 4-3-2 8z"/><path class="be" d="M1192 228l 2-6 4 8-3 4z"/><path class="b1l" d="M1213 153l 3-10 3 31-2 1z"/><path class="b2f" d="M1217 175l 2-1 4-15-1-8z"/><path class="b10" d="M1199 160l 2 21 3 10-1-8z"/><path class="b17" d="M1173 187l 2-29 4-22-2 43z"/><path class="b8" d="M1222 233l 2-5 4-1-2 5z"/><path class="b5" d="M1066 237l 3-3 4-1-3 3z"/><path class="b6" d="M1081 225l 2-3 4-2-2 3z"/><path class="b0" d="M1060 239l 3-3 3 1-2 2z"/><path class="bq" d="M1101 221l 2-2 4 5-2 3z"/><path class="bz" d="M1214 193l 3-18 5-24-3 31z"/><path class="b1a" d="M1127 238l 2-2 4 1-2 1z"/><path class="b2l" d="M1226 209l 3-16 4-3-3 16z"/><path class="bo" d="M1239 174l 1 22 4 15-2-11z"/><path class="bu" d="M1195 170l 1 25 4 10-2-12z"/><path class="b2" d="M1213 239l 3-3 4 1-2 3z"/><path class="b26" d="M1073 233l 2-3 4-2-3 4z"/><path class="b2n" d="M1093 216l 2-3 4 2-2 2z"/><path class="bv" d="M1190 209l 2 7 4 8-2-2z"/><path class="b15" d="M1219 182l 3-31 3 17-2 17z"/><path class="b5" d="M1220 237l 2-4 4-1-2 5z"/><path class="b6" d="M1141 231l 2-6 4-8-2 10z"/><path class="b1m" d="M1087 220l 2-3 4-1-2 2z"/><path class="bv" d="M1097 217l 2-2 4 4-2 2z"/><path class="b5" d="M1193 235l 2-1 4 3-2 2zM1133 237l 2-4 4-4-2 7z"/><path class="b16" d="M1121 240l 2-3 4 1-2 3z"/><path class="bk" d="M1152 214l 2-2 4-12-2 2z"/><path class="bw" d="M1207 174l 2 4 4-25-3 34z"/><path class="b5" d="M1260 234l 2 0 4 3-2 1z"/><path class="b1j" d="M1168 197l 3-29 4-22-3 42z"/><path class="ba" d="M1197 239l 2-2 4 2-2 2z"/><path class="b8" d="M1107 234l 2-2 4 3-2 3z"/><path class="b2e" d="M1111 238l 2-3 4 3-3 2z"/><path class="b2" d="M1264 238l 2-1 4 2-2 2z"/><path class="bt" d="M1235 177l 2 12 3 7-1-22z"/><path class="be" d="M1103 229l 2-2 4 5-2 2z"/><path class="bq" d="M1228 227l 2-6 4-2-2 6z"/><path class="bi" d="M1228 216l 2-10 5-9-3 16z"/><path class="b6" d="M1079 228l 2-3 4-2-3 3z"/><path class="b18" d="M1162 189l 2 12 4-11-2-20z"/><path class="bc" d="M1064 239l 2-2 4-1-2 3z"/><path class="b2p" d="M1222 151l 1 8 4 21-2-12z"/><path class="bj" d="M1189 227l 3 1 3 6-2 1z"/><path class="bx" d="M1230 221l 2-8 4-2-2 8z"/><path class="b16" d="M1114 240l 3-2 4 2-3 2z"/><path class="b6" d="M1139 229l 2 2 4-4-2-9z"/><path class="b5" d="M1218 240l 2-3 4 0-2 4z"/><path class="be" d="M1226 232l 2-5 4-2-2 6z"/><path class="b2r" d="M1197 168l 3-38 3 24-2 27z"/><path class="bx" d="M1188 218l 2-9 4 13-2 6z"/><path class="b16" d="M1268 241l 2-2 4 1-2 3z"/><path class="b26" d="M1070 236l 3-3 3-1-2 3z"/><path class="b3" d="M1131 238l 2-1 4-1-2-2z"/><path class="b10" d="M1224 198l 3-24 4-3-2 22z"/><path class="bj" d="M1256 225l 2 5 4 4-2 0z"/><path class="bq" d="M1098 223l 3-2 4 6-2 2z"/><path class="bi" d="M1149 220l 3-6 4-12-3 9z"/><path class="b2n" d="M1091 218l 2-2 4 1-2 3z"/><path class="bc" d="M1125 241l 2-3 4 0-3 4z"/><path class="bp" d="M1188 204l 2-26 4 23-2 15z"/><path class="b8" d="M1224 237l 2-5 4-1-2 5z"/><path class="b2s" d="M1192 127l 1 12 5-7-2-13z"/><path class="bn" d="M1245 184l 1 21 4 14-2-6z"/><path class="b9" d="M1085 223l 2-3 4-2-3 3z"/><path class="b1d" d="M1190 178l 2 24 4 10-2-11z"/><path class="b1m" d="M1251 203l 1 15 4 9-2-2z"/><path class="bl" d="M1241 191l 1 9 4 5-1-21z"/><path class="b2t" d="M1200 123l 2 13 3 13-2-10z"/><path class="b13" d="M1223 185l 2-17 4-5-2 11z"/><path class="bx" d="M1095 220l 2-3 4 4-3 2z"/><path class="bk" d="M1247 205l 1 8 4 5-1-15z"/><path class="b14" d="M1192 184l 3-50 4 26-3 35z"/><path class="b1j" d="M1231 171l 2 2 4 16-2-12z"/><path class="bb" d="M1253 219l 1 6 4 5-2-5z"/><path class="b1n" d="M1201 154l 2-15 5-2-3 16z"/><path class="b22" d="M1183 134l 2 22 4-14-1-28z"/><path class="b6" d="M1076 232l 3-4 3-2-2 3z"/><path class="b8" d="M1104 236l 3-2 4 4-3 2z"/><path class="b5" d="M1108 240l 3-2 3 2-2 3z"/><path class="b2" d="M1215 243l 3-3 4 1-2 3z"/><path class="bc" d="M1062 242l 2-3 4 0-2 3z"/><path class="b2m" d="M1197 143l 3-20 3 16-2 15z"/><path class="b5" d="M1195 240l 2-1 4 2-2 3z"/><path class="b1q" d="M1232 213l 3-16 4 1-3 13z"/><path class="b5" d="M1222 241l 2-4 4-1-2 4z"/><path class="bw" d="M1164 201l 2-22 4-22-2 33z"/><path class="b1p" d="M1229 193l 2-22 4 6-2 13z"/><path class="b4" d="M1068 239l 2-3 4-1-2 3z"/><path class="be" d="M1100 230l 3-1 4 5-3 2z"/><path class="b16" d="M1112 243l 2-3 4 2-2 2z"/><path class="b5" d="M1262 238l 2 0 4 3-2 1z"/><path class="b2u" d="M1147 217l 2 3 4-9-2-11z"/><path class="b1a" d="M1122 243l 3-2 3 1-2 1z"/><path class="b8" d="M1258 233l 2 1 4 4-2 0z"/><path class="b2" d="M1266 242l 2-1 4 2-2 2z"/><path class="b9" d="M1082 226l 3-3 3-2-2 3z"/><path class="bf" d="M1230 231l 2-6 4-2-2 6z"/><path class="b29" d="M1088 221l 3-3 4 2-3 2z"/><path class="b14" d="M1227 174l 2-11 4 10-2-2z"/><path class="bq" d="M1096 225l 2-2 5 6-3 1z"/><path class="bv" d="M1186 215l 2 3 4 10-3-1z"/><path class="b8" d="M1191 230l 2 5 4 4-2 1z"/><path class="b7" d="M1074 235l 2-3 4-3-2 4z"/><path class="be" d="M1228 236l 2-5 4-2-2 6z"/><path class="b5" d="M1128 242l 3-4 4-4-3 7z"/><path class="b1m" d="M1232 225l 2-6 5-6-3 10z"/><path class="b5" d="M1220 244l 2-3 4-1-2 4z"/><path class="bx" d="M1092 222l 3-2 3 3-2 2z"/><path class="b1e" d="M1181 165l 2-31 5-20-3 43z"/><path class="b1c" d="M1179 136l 2 29 4-8-2-42z"/><path class="b1y" d="M1189 142l 3-15 4-8-3 20z"/><path class="b1o" d="M1196 119l 2 13 4 4-2-13z"/><path class="b15" d="M1188 190l 3-47 4 27-3 32z"/><path class="b2" d="M1059 245l 3-3 4 0-3 3z"/><path class="b2o" d="M1175 146l 2 33 4-6-2-49z"/><path class="b5" d="M1066 242l 2-3 4-1-3 4z"/><path class="b6" d="M1137 236l 2-7 4-11-2 14z"/><path class="b5" d="M1106 242l 2-2 4 3-2 2z"/><path class="b2l" d="M1186 189l 2 15 4 12-2-7z"/><path class="b8" d="M1102 237l 2-1 4 4-2 2zM1226 240l 2-4 4-1-2 5z"/><path class="b18" d="M1158 200l 2 1 4-13-2-4z"/><path class="bb" d="M1135 234l 2 2 4-4-3-12z"/><path class="b2v" d="M1230 206l 3-16 5-15-3 22z"/><path class="b2w" d="M1235 197l 3-22 3 16-2 7z"/><path class="b1j" d="M1238 175l 1-1 3 26-1-9z"/><path class="ba" d="M1110 245l 2-2 4 1-2 3z"/><path class="b9" d="M1080 229l 2-3 4-2-2 3z"/><path class="be" d="M1098 232l 2-2 4 6-2 1z"/><path class="b3" d="M1126 243l 2-1 4-1-2-2z"/><path class="b7" d="M1072 238l 2-3 4-2-3 3z"/><path class="b1w" d="M1193 139l 3-20 4 4-3 20z"/><path class="b2a" d="M1086 224l 2-3 4 1-2 2z"/><path class="bc" d="M1197 244l 2 0 4 1-2 3zM1120 246l 2-3 4 0-2 3z"/><path class="b2" d="M1217 247l 3-3 4 0-2 3z"/><path class="b11" d="M1195 134l 2 34 4 13-2-21z"/><path class="bt" d="M1160 201l 2-12 4-19-2 18z"/><path class="b5" d="M1264 243l 2-1 4 3-2 1zM1224 244l 2-4 4 0-2 4z"/><path class="bq" d="M1094 227l 2-2 4 5-2 2z"/><path class="bv" d="M1234 229l 2-6 4-2-2 7z"/><path class="b11" d="M1170 157l 2 31 4-7-1-45z"/><path class="b5" d="M1063 245l 3-3 3 0-2 3z"/><path class="b12" d="M1233 190l 2-13 4-3-1 1z"/><path class="bp" d="M1184 203l 2-14 4 20-2 9z"/><path class="bx" d="M1090 224l 2-2 4 3-2 2z"/><path class="b8" d="M1261 237l 1 1 4 4-2 1z"/><path class="b16" d="M1057 247l 2-2 4 0-2 3z"/><path class="b9" d="M1188 217l 1 10 4 8-2-5z"/><path class="bm" d="M1236 223l 3-10 4 0-3 8z"/><path class="b2" d="M1268 246l 2-1 4 1-2 3z"/><path class="bb" d="M1232 235l 2-6 4-1-2 5z"/><path class="bd" d="M1145 227l 2-10 4-17-2 16z"/><path class="b12" d="M1191 143l 1 41 4 11-1-25z"/><path class="b8" d="M1193 234l 2 6 4 4-2 0z"/><path class="bh" d="M1234 219l 2-8 5-16-2 18z"/><path class="bb" d="M1078 233l 2-4 4-2-3 3z"/><path class="b2x" d="M1177 179l 2-43 4-21-2 58z"/><path class="b26" d="M1069 242l 3-4 3-2-2 4z"/><path class="bv" d="M1255 214l 1 11 4 9-2-1z"/><path class="b5" d="M1104 243l 2-1 4 3-2 2z"/><path class="b7" d="M1100 238l 2-1 4 5-2 1z"/><path class="b19" d="M1200 130l 1 24 4-1-2 1z"/><path class="b6" d="M1230 240l 2-5 4-2-2 5z"/><path class="be" d="M1257 230l 1 3 4 5-1-1z"/><path class="b5" d="M1222 247l 2-3 4 0-2 4z"/><path class="b2y" d="M1193 158l 3-47 4 19-3 38z"/><path class="b2" d="M1108 247l 2-2 4 2-2 2z"/><path class="bc" d="M1118 248l 2-2 4 0-2 2z"/><path class="bx" d="M1084 227l 2-3 4 0-3 2z"/><path class="b16" d="M1215 249l 2-2 5 0-2 3z"/><path class="bp" d="M1239 213l 2-18 4 10-2 8z"/><path class="bd" d="M1251 214l 2 5 3 6-1-11z"/><path class="bf" d="M1095 233l 3-1 4 5-2 1z"/><path class="bc" d="M1061 248l 2-3 4 0-2 4z"/><path class="b10" d="M1244 178l 1 6 3 29-1-8z"/><path class="b1d" d="M1143 218l 2 9 4-11-3-30z"/><path class="b4" d="M1124 246l 2-3 4-4-2 6z"/><path class="b8" d="M1228 244l 2-4 4-2-2 5z"/><path class="b2i" d="M1112 249l 2-2 4 1-3 2z"/><path class="bz" d="M1239 198l 2-7 4-7-1-6z"/><path class="bb" d="M1075 236l 3-3 3-3-2 4z"/><path class="b26" d="M1067 245l 2-3 4-2-2 4z"/><path class="bb" d="M1189 224l 2 6 4 10-2-6z"/><path class="bv" d="M1091 229l 3-2 4 5-3 1z"/><path class="bx" d="M1087 226l 3-2 4 3-3 2z"/><path class="bt" d="M1156 202l 2-2 4-16-3 1z"/><path class="b15" d="M1184 190l 3-37 3 25-2 26z"/><path class="b2l" d="M1182 198l 2 5 4 15-2-3z"/><path class="b1b" d="M1187 153l 1 37 4 12-2-24z"/><path class="b5" d="M1263 244l 1-1 4 3-1 2z"/><path class="bl" d="M1245 205l 2 0 4-2-1-14z"/><path class="bc" d="M1199 248l 2 0 4 1-2 3z"/><path class="b2z" d="M1189 174l 3-62 3 22-3 50z"/><path class="b1s" d="M1172 188l 3-42 4-22-3 57z"/><path class="b2e" d="M1267 248l 1-2 4 3-1 1z"/><path class="b2w" d="M1241 195l 3-17 3 27-2 0z"/><path class="b2l" d="M1250 189l 1 14 3 22-1-6z"/><path class="b6" d="M1130 239l 2 2 4-4-2-8z"/><path class="b2" d="M1220 250l 2-3 4 1-2 3z"/><path class="b30" d="M1188 114l 1 28 4-3-1-34z"/><path class="b1m" d="M1081 230l 3-3 3-1-2 3z"/><path class="bb" d="M1132 241l 3-7 3-14-2 17z"/><path class="b5" d="M1226 248l 2-4 4-1-2 4z"/><path class="bl" d="M1153 211l 3-9 3-17-2 11z"/><path class="b3" d="M1122 248l 2-2 4-1-2 0z"/><path class="b11" d="M1166 170l 2 20 4-10-2-29z"/><path class="b1o" d="M1196 111l 1 32 4 11-1-24z"/><path class="b8" d="M1101 244l 3-1 4 4-3 1z"/><path class="b2" d="M1271 250l 1-1 5 1-2 2zM1058 251l 3-3 4 1-3 3z"/><path class="b6" d="M1073 240l 2-4 4-2-2 4z"/><path class="bc" d="M1115 250l 3-2 4 0-3 3z"/><path class="b2e" d="M1105 248l 3-1 4 2-3 2z"/><path class="b5" d="M1065 249l 2-4 4-1-3 4z"/><path class="b18" d="M1236 211l 3-13 5-20-3 17z"/><path class="be" d="M1097 239l 3-1 4 5-3 1z"/><path class="b31" d="M1185 157l 3-43 4-9-3 49z"/><path class="bb" d="M1234 238l 2-5 4-3-2 6z"/><path class="b1m" d="M1236 233l 2-5 5-6-3 8z"/><path class="be" d="M1259 233l 2 4 3 6-1 1z"/><path class="bm" d="M1185 218l 3-1 3 13-2-6z"/><path class="b16" d="M1109 251l 3-2 3 1-2 3z"/><path class="bq" d="M1093 234l 2-1 5 5-3 1z"/><path class="b2l" d="M1184 200l 2 15 3 12-1-10z"/><path class="b16" d="M1275 252l 2-2 4 2-2 2z"/><path class="b2g" d="M1085 229l 2-3 4 3-2 1z"/><path class="b6" d="M1232 243l 2-5 4-2-2 5z"/><path class="b5" d="M1224 251l 2-3 4-1-2 3z"/><path class="b0" d="M1217 253l 3-3 4 1-2 3z"/><path class="b26" d="M1195 234l 2 10 4 4-2 0z"/><path class="b1m" d="M1079 234l 2-4 4-1-2 3z"/><path class="bv" d="M1089 230l 2-1 4 4-2 1z"/><path class="b7" d="M1071 244l 2-4 4-2-3 4z"/><path class="b31" d="M1189 154l 3-49 4 6-3 47z"/><path class="b1b" d="M1182 166l 2 24 4 14-2-15z"/><path class="b5" d="M1197 248l 2 0 4 4-2 2z"/><path class="b1t" d="M1184 181l 3-60 4 22-3 47z"/><path class="b5" d="M1062 252l 3-3 3-1-2 4z"/><path class="b16" d="M1056 254l 2-3 4 1-2 3z"/><path class="b2u" d="M1238 228l 2-7 5-13-2 14z"/><path class="b32" d="M1183 115l 2 42 4-3-1-49z"/><path class="b5" d="M1265 248l 2 0 4 2-2 1z"/><path class="bj" d="M1179 239l 2 3 4 2-2 2z"/><path class="bc" d="M1113 253l 2-3 4 1-2 2z"/><path class="b22" d="M1179 124l 2 49 4-3-2-57z"/><path class="b8" d="M1261 243l 2 1 4 4-2 0z"/><path class="b1m" d="M1255 226l 2 4 4 7-2-4z"/><path class="b7" d="M1230 247l 2-4 4-2-2 4z"/><path class="b1z" d="M1168 190l 2-33 5-21-3 44z"/><path class="b30" d="M1192 105l 1 34 4 4-1-32z"/><path class="b22" d="M1192 112l 1 46 4 10-2-34z"/><path class="b4" d="M1119 251l 3-3 4-3-3 5z"/><path class="bx" d="M1177 235l 2-17 4 8-2 16z"/><path class="b5" d="M1269 251l 2-1 4 2-2 2z"/><path class="b7" d="M1177 248l 2-9 4 7-2 6z"/><path class="b5" d="M1103 249l 2-1 4 3-2 2z"/><path class="b8" d="M1099 245l 2-1 4 4-2 1z"/><path class="b26" d="M1068 248l 3-4 3-2-2 4z"/><path class="b1y" d="M1181 173l 2-58 5-10-3 65z"/><path class="b9" d="M1077 238l 2-4 4-2-3 4z"/><path class="bz" d="M1151 200l 2 11 4-15-2-28z"/><path class="b5" d="M1222 254l 2-3 4-1-2 4z"/><path class="bm" d="M1240 230l 3-8 4 0-2 6z"/><path class="b6" d="M1128 245l 2-6 4-10-2 13z"/><path class="b19" d="M1187 121l 2 53 3 10-1-41z"/><path class="be" d="M1095 240l 2-1 4 5-2 1z"/><path class="b2g" d="M1083 232l 2-3 4 1-2 3z"/><path class="b1v" d="M1248 192l 2-3 3 30-2-5z"/><path class="ba" d="M1107 253l 2-2 4 2-2 2z"/><path class="b6" d="M1126 245l 2 0 4-3-3-4z"/><path class="b1q" d="M1243 222l 2-14 4 8-2 6z"/><path class="b1m" d="M1238 236l 2-6 5-2-2 6z"/><path class="br" d="M1254 205l 1 9 3 19-1-3z"/><path class="b7" d="M1183 246l 2-2 4-5-2 3z"/><path class="b1x" d="M1185 170l 3-65 4 7-3 62z"/><path class="b2" d="M1273 254l 2-2 4 2-2 1z"/><path class="bv" d="M1181 242l 2-16 4-3-2 21z"/><path class="bc" d="M1060 255l 2-3 4 0-2 3z"/><path class="b26" d="M1228 250l 2-3 4-2-2 4z"/><path class="bu" d="M1249 216l 2-2 4 0-1-9z"/><path class="bf" d="M1193 237l 2-3 4 14-2 0z"/><path class="b15" d="M1180 187l 2-21 4 23-2 14z"/><path class="b33" d="M1183 226l 2-8 4 6-2-1z"/><path class="bt" d="M1243 213l 2-8 5-16-2 3z"/><path class="bq" d="M1091 235l 2-1 4 5-2 1z"/><path class="b1v" d="M1245 208l 3-16 3 22-2 2z"/><path class="b2u" d="M1187 223l 2 1 4 10-1-15z"/><path class="b2f" d="M1162 184l 2 4 4-13-2-5z"/><path class="bx" d="M1087 233l 2-3 4 4-2 1z"/><path class="b1h" d="M1175 136l 1 45 4-4-1-52z"/><path class="bp" d="M1181 212l 3-12 4 17-3 1z"/><path class="b8" d="M1066 252l 2-4 4-2-2 5z"/><path class="b9" d="M1236 241l 2-5 5-2-3 4z"/><path class="bu" d="M1138 220l 3 12 4-15-3-35z"/><path class="b9" d="M1192 219l 1 15 4 10-2-10z"/><path class="bu" d="M1240 221l 3-8 5-21-3 16z"/><path class="b3" d="M1117 253l 2-2 4-1-2 1z"/><path class="bb" d="M1074 242l 3-4 3-2-2 4z"/><path class="bv" d="M1173 241l 2-16 4 14-2 9z"/><path class="bc" d="M1199 254l 2 0 4 1-2 3z"/><path class="b9" d="M1175 225l 2 10 4 7-2-3z"/><path class="b16" d="M1277 255l 2-1 4 1-2 2z"/><path class="b2" d="M1111 255l 2-2 4 0-2 2z"/><path class="b8" d="M1181 252l 2-6 4-4-2 11z"/><path class="bc" d="M1220 256l 2-2 4 0-2 3z"/><path class="b34" d="M1188 105l 1 49 4 4-1-46z"/><path class="by" d="M1189 239l 3-20 3 15-2 3z"/><path class="b2o" d="M1183 132l 1 49 4 9-1-37z"/><path class="b4" d="M1226 254l 2-4 4-1-2 4z"/><path class="bb" d="M1234 245l 2-4 4-3-2 4z"/><path class="b4" d="M1179 252l 2 0 4 1-2 0z"/><path class="bx" d="M1080 236l 3-4 4 1-3 2z"/><path class="bv" d="M1257 228l 2 5 4 11-2-1z"/><path class="b2t" d="M1176 181l 3-57 4-11-3 64z"/><path class="b1j" d="M1178 179l 2 8 4 16-2-5z"/><path class="b8" d="M1263 248l 2 0 4 3-2 1z"/><path class="b2" d="M1057 257l 3-2 4 0-3 3z"/><path class="b2s" d="M1183 113l 2 57 4 4-2-53z"/><path class="b8" d="M1100 250l 3-1 4 4-2 1z"/><path class="b5" d="M1267 252l 2-1 4 3-2 1z"/><path class="bn" d="M1179 218l 2-6 4 6-2 8z"/><path class="b16" d="M1281 257l 2-2 4 2-2 2z"/><path class="b1q" d="M1173 224l 2-24 4 18-2 17z"/><path class="b5" d="M1064 255l 2-3 4-1-3 4z"/><path class="b6" d="M1072 246l 2-4 4-2-2 4z"/><path class="b8" d="M1175 244l 2 4 4 4-2 0z"/><path class="be" d="M1096 245l 3 0 4 4-3 1z"/><path class="b11" d="M1164 188l 2-18 4-19-2 24z"/><path class="by" d="M1185 244l 2-21 5-4-3 20z"/><path class="b1d" d="M1141 232l 2-14 3-32-1 31z"/><path class="b2e" d="M1105 254l 2-1 4 2-2 2zM1271 255l 2-1 4 1-2 2z"/><path class="be" d="M1259 240l 2 3 4 5-2 0z"/><path class="bf" d="M1092 241l 3-1 4 5-3 0z"/><path class="b35" d="M1180 177l 3-64 4 8-3 60z"/><path class="b1t" d="M1180 180l 3-48 4 21-3 37z"/><path class="bc" d="M1197 257l 2-3 4 4-2 2z"/><path class="b2a" d="M1084 235l 3-2 4 2-3 2z"/><path class="b6" d="M1232 249l 2-4 4-3-2 4z"/><path class="b16" d="M1285 259l 2-2 4 1-1 2z"/><path class="b6" d="M1123 250l 3-5 3-7-2 7z"/><path class="bv" d="M1088 237l 3-2 4 5-3 1z"/><path class="b3" d="M1115 255l 2-2 4-2-2 3z"/><path class="b7" d="M1172 253l 3-9 4 8-3 5zM1070 251l 2-5 4-2-2 5z"/><path class="b1m" d="M1187 242l 2-3 4-2-2-13z"/><path class="bi" d="M1253 225l 2 1 4 7-2-5z"/><path class="b36" d="M1109 257l 2-2 4 0-2 3z"/><path class="b4" d="M1224 257l 2-3 4-1-2 3z"/><path class="b1m" d="M1078 240l 2-4 4-1-2 3z"/><path class="b2" d="M1217 259l 3-3 4 1-2 2z"/><path class="b2e" d="M1275 257l 2-2 4 2-2 2z"/><path class="bw" d="M1180 182l 2 16 4 17-2-15z"/><path class="b5" d="M1061 258l 3-3 3 0-2 3z"/><path class="b0" d="M1201 260l 2-2 4 1-2 2z"/><path class="b5" d="M1176 257l 3-5 4 1-3 5z"/><path class="b19" d="M1170 151l 2 29 4-4-2-34z"/><path class="b1c" d="M1179 125l 1 52 4 4-1-49z"/><path class="b1d" d="M1134 229l 2 8 4-14-3-26z"/><path class="bp" d="M1252 206l 2-1 3 25-2-4z"/><path class="b7" d="M1195 237l 2 11 4 6-2 0z"/><path class="b1a" d="M1211 260l 2-2 4 1-2 0z"/><path class="b7" d="M1121 251l 2-1 4-5-2 0z"/><path class="bl" d="M1247 222l 2-6 5-11-2 1z"/><path class="b1r" d="M1178 148l 2 32 4 10-2-24z"/><path class="b16" d="M1279 259l 2-2 4 2-2 2z"/><path class="b8" d="M1067 255l 3-4 4-2-3 5z"/><path class="b7" d="M1230 253l 2-4 4-3-2 4z"/><path class="bf" d="M1193 247l 2-10 4 17-2 3z"/><path class="b9" d="M1076 244l 2-4 4-2-2 4z"/><path class="bn" d="M1169 232l 2-27 4 20-2 16z"/><path class="b9" d="M1171 230l 2 11 4 7-2-4z"/><path class="b6" d="M1183 253l 2 0 4-7-2-10z"/><path class="b8" d="M1265 252l 2 0 4 3-2 1z"/><path class="bi" d="M1240 238l 3-4 4-8-2 8z"/><path class="b7" d="M1098 250l 2 0 5 4-3 1z"/><path class="b11" d="M1159 185l 3-1 4-14-3-2z"/><path class="bv" d="M1168 247l 3-17 4 14-3 9z"/><path class="b8" d="M1102 255l 3-1 4 3-3 1z"/><path class="b29" d="M1082 238l 2-3 4 2-2 2z"/><path class="b1a" d="M1205 261l 2-2 4 1-2 1z"/><path class="be" d="M1261 247l 2 1 4 4-2 0z"/><path class="b2" d="M1059 261l 2-3 4 0-2 4z"/><path class="b16" d="M1283 261l 2-2 5 1-2 3z"/><path class="bf" d="M1094 246l 2-1 4 5-2 0z"/><path class="b4" d="M1113 258l 2-3 4-1-3 3z"/><path class="b8" d="M1269 256l 2-1 4 2-2 1z"/><path class="b9" d="M1238 242l 2-4 5-4-2 5z"/><path class="b3" d="M1222 259l 2-2 4-1-2 1z"/><path class="bk" d="M1243 234l 2-6 5-13-3 11z"/><path class="b2t" d="M1172 180l 3-44 4-11-3 51z"/><path class="b5" d="M1065 258l 2-3 4-1-2 4z"/><path class="bq" d="M1090 241l 2 0 4 4-2 1z"/><path class="bz" d="M1149 216l 2-16 4-32-2 29z"/><path class="bx" d="M1086 239l 2-2 4 4-2 0z"/><path class="b5" d="M1106 258l 3-1 4 1-3 1z"/><path class="b1p" d="M1177 200l 3-18 4 18-3 12z"/><path class="bp" d="M1250 215l 2-9 3 20-2-1z"/><path class="bu" d="M1245 228l 2-6 5-16-2 9z"/><path class="b11" d="M1157 196l 2-11 4-17-2 9z"/><path class="b5" d="M1195 256l 2 1 4 3-2 2z"/><path class="b2l" d="M1171 205l 2 19 4 11-2-10z"/><path class="b2e" d="M1273 258l 2-1 4 2-2 2z"/><path class="bb" d="M1074 249l 2-5 4-2-3 5z"/><path class="b1g" d="M1174 256l 2 1 4 1-2-6zM1228 256l 2-3 4-3-2 4z"/><path class="b4" d="M1215 259l 2 0 5 0-2 0z"/><path class="bi" d="M1129 238l 3 4 4-11-3-9z"/><path class="b8" d="M1170 250l 2 3 4 4-2-1z"/><path class="b1v" d="M1175 200l 2 0 4 12-2 6z"/><path class="b1" d="M1199 262l 2-2 4 1-2-2z"/><path class="b16" d="M1288 263l 2-3 4 2-2 2z"/><path class="bm" d="M1256 224l 1 4 4 15-2-3z"/><path class="b9" d="M1236 246l 2-4 5-3-2 4z"/><path class="bv" d="M1257 238l 2 2 4 8-2-1z"/><path class="b1h" d="M1174 142l 2 34 4 4-2-32z"/><path class="b1q" d="M1247 226l 3-11 3 10-2 3z"/><path class="bg" d="M1191 224l 2 13 4 11-2-11z"/><path class="b2e" d="M1277 261l 2-2 4 2-1 2z"/><path class="b35" d="M1176 176l 3-51 4 7-3 48z"/><path class="b6" d="M1119 254l 2-3 4-6-2 3z"/><path class="bx" d="M1080 242l 2-4 4 1-3 3z"/><path class="b6" d="M1071 254l 3-5 3-2-2 5z"/><path class="b5" d="M1063 262l 2-4 4 0-2 4z"/><path class="b9" d="M1185 253l 2-11 4-18-2 22z"/><path class="b16" d="M1056 264l 3-3 4 1-3 3z"/><path class="b1t" d="M1176 174l 2-26 4 18-2 21z"/><path class="bh" d="M1251 228l 2-3 4 3-1-4z"/><path class="b19" d="M1166 170l 2 5 4-5-2-8z"/><path class="b3" d="M1209 261l 2-1 4-1-1-6z"/><path class="br" d="M1245 234l 2-8 4 2-2 4z"/><path class="b1z" d="M1174 166l 2 8 4 13-2-8z"/><path class="b5" d="M1193 262l 2-6 4 6-2 1z"/><path class="by" d="M1189 246l 2-22 4 13-2 10z"/><path class="b3" d="M1110 259l 3-1 3-1-2 0z"/><path class="ba" d="M1282 263l 1-2 5 2-2 2z"/><path class="b27" d="M1169 212l 2-35 4 23-2 24z"/><path class="bb" d="M1234 250l 2-4 5-3-2 4z"/><path class="bj" d="M1168 257l 2-7 4 6-2 3z"/><path class="be" d="M1263 253l 2-1 4 4-2 1z"/><path class="b7" d="M1069 258l 2-4 4-2-2 5z"/><path class="b8" d="M1267 257l 2-1 4 2-2 2zM1100 255l 2 0 4 3-2 0z"/><path class="be" d="M1096 250l 2 0 4 5-2 0z"/><path class="b25" d="M1083 242l 3-3 4 2-3 2z"/><path class="b7" d="M1226 257l 2-1 4-2-2 2z"/><path class="bi" d="M1243 239l 2-5 4-2-2 4z"/><path class="b7" d="M1220 259l 2 0 4-2-2-7z"/><path class="bv" d="M1077 247l 3-5 3 0-2 3z"/><path class="b16" d="M1286 265l 2-2 4 1-2 3z"/><path class="bq" d="M1091 246l 3 0 4 4-2 0z"/><path class="bu" d="M1136 237l 2-17 4-38-2 41z"/><path class="b8" d="M1271 260l 2-2 4 3-1 1z"/><path class="b2" d="M1060 265l 3-3 4 0-3 4z"/><path class="bv" d="M1087 243l 3-2 4 5-3 0z"/><path class="b2c" d="M1104 258l 2 0 4 1-2 2z"/><path class="b3" d="M1203 259l 2 2 4 0-2-3z"/><path class="bb" d="M1166 236l 2 11 4 6-2-3z"/><path class="b7" d="M1116 257l 3-3 4-6-3 4z"/><path class="bq" d="M1259 245l 2 2 4 5-2 1z"/><path class="bn" d="M1164 238l 3-28 4 20-3 17z"/><path class="b8" d="M1067 262l 2-4 4-1-3 4z"/><path class="b2t" d="M1168 175l 2-24 4-9-2 28z"/><path class="b6" d="M1232 254l 2-4 5-3-2 3z"/><path class="b2e" d="M1276 262l 1-1 5 2-2 2z"/><path class="b11" d="M1146 186l 3 30 4-19-3-43z"/><path class="bv" d="M1164 250l 2-14 4 14-2 7z"/><path class="bq" d="M1189 253l 2-20 4 23-2 6z"/><path class="b1m" d="M1125 245l 2 0 4-8-2-3z"/><path class="bg" d="M1241 243l 2-4 4-3-2 4z"/><path class="b6" d="M1180 258l 3-5 4-17-2 15z"/><path class="b9" d="M1075 252l 2-5 4-2-2 5z"/><path class="bi" d="M1127 245l 2-7 4-16-2 15z"/><path class="bh" d="M1167 210l 2 22 4 9-2-11z"/><path class="b19" d="M1170 162l 2 8 4 4-2-8z"/><path class="b1g" d="M1197 263l 2-1 4-3-2-5z"/><path class="b2e" d="M1280 265l 2-2 4 2-2 2z"/><path class="b3" d="M1191 265l 2-3 4 1-2-2z"/><path class="bh" d="M1132 242l 2-13 3-32-1 34z"/><path class="br" d="M1254 224l 2 0 3 16-2-2z"/><path class="b7" d="M1172 259l 2-3 4-4-2 2z"/><path class="b2a" d="M1081 245l 2-3 4 1-2 2z"/><path class="b8" d="M1108 261l 2-2 4-2-2 4z"/><path class="b16" d="M1058 268l 2-3 4 1-2 3z"/><path class="b5" d="M1064 266l 3-4 3-1-2 5z"/><path class="b1s" d="M1176 163l 2 16 4 19-2-16z"/><path class="by" d="M1256 238l 1 0 4 9-2-2z"/><path class="b1d" d="M1249 232l 2-4 5-4-2 0z"/><path class="b27" d="M1165 222l 2-40 4 23-2 27z"/><path class="b6" d="M1073 257l 2-5 4-2-2 5z"/><path class="b9" d="M1178 252l 2 6 5-7-2-17z"/><path class="bi" d="M1187 236l 2 10 4 1-2-14z"/><path class="bf" d="M1191 233l 2 14 4 10-2-1z"/><path class="b16" d="M1284 267l 2-2 4 2-2 2z"/><path class="b37" d="M1172 170l 2-28 4 6-2 26z"/><path class="bj" d="M1265 258l 2-1 4 3-1 1z"/><path class="b7" d="M1214 253l 1 6 5 0-2-3z"/><path class="b6" d="M1114 257l 2 0 4-5-2-1z"/><path class="b1m" d="M1239 247l 2-4 4-3-2 4z"/><path class="bf" d="M1261 253l 2 0 4 4-2 1z"/><path class="b8" d="M1270 261l 1-1 5 2-2 2z"/><path class="bb" d="M1230 256l 2-2 5-4-2-1z"/><path class="b2b" d="M1085 245l 2-2 4 3-2 1z"/><path class="be" d="M1097 254l 3 1 4 3-3 0zM1184 263l 3-16 4 18-3 4z"/><path class="bj" d="M1070 261l 3-4 4-2-3 5z"/><path class="bf" d="M1093 250l 3 0 4 5-3-1z"/><path class="b16" d="M1288 269l 2-2 4 1-2 3z"/><path class="bv" d="M1089 247l 2-1 5 4-3 0z"/><path class="b7" d="M1101 258l 3 0 4 3-3-1z"/><path class="b2c" d="M1274 264l 2-2 4 3-2 1z"/><path class="b2" d="M1062 269l 2-3 4 0-2 3z"/><path class="bv" d="M1079 250l 2-5 4 0-2 4zM1258 245l 1 0 4 8-2 0z"/><path class="b2e" d="M1278 266l 2-1 4 2-2 2z"/><path class="bz" d="M1167 182l 2 30 4 12-2-19z"/><path class="b8" d="M1068 266l 2-5 4-1-2 5z"/><path class="b5" d="M1182 268l 2-5 4 6-2 3z"/><path class="b38" d="M1174 184l 2-21 4 19-3 18z"/><path class="b1g" d="M1188 269l 3-4 4-4-2-2z"/><path class="b1d" d="M1247 236l 2-4 5-8-2 4z"/><path class="b1c" d="M1163 168l 3 2 4-8-2-7z"/><path class="b1m" d="M1237 250l 2-3 4-3-2 3z"/><path class="bi" d="M1123 248l 2-3 4-11-3 4z"/><path class="b6" d="M1224 250l 2 7 4-1-2-2z"/><path class="bb" d="M1207 258l 2 3 5-8-2-12z"/><path class="b7" d="M1105 260l 3 1 4 0-3-2z"/><path class="be" d="M1187 247l 2 6 4 9-2 3z"/><path class="b1f" d="M1171 177l 3 7 3 16-2 0z"/><path class="b1q" d="M1252 228l 2-4 3 14-1 0z"/><path class="b9" d="M1166 247l 2 10 4 2-2-16z"/><path class="b2e" d="M1282 269l 2-2 4 2-2 2z"/><path class="bq" d="M1077 255l 2-5 4-1-3 4z"/><path class="bk" d="M1162 217l 2 21 4 9-2-11z"/><path class="bn" d="M1160 240l 2-23 4 19-2 14z"/><path class="b9" d="M1162 240l 2 10 4 7-2-10z"/><path class="ba" d="M1059 272l 3-3 4 0-3 4z"/><path class="b2g" d="M1083 249l 2-4 4 2-2 2z"/><path class="b2f" d="M1142 182l 3 35 3-7-2-44z"/><path class="b5" d="M1066 269l 2-3 4-1-2 5z"/><path class="b6" d="M1112 261l 2-4 4-6-2 8z"/><path class="b1h" d="M1155 168l 2 28 4-19-2-40z"/><path class="be" d="M1264 258l 1 0 5 3-2 1z"/><path class="by" d="M1185 251l 2-15 4-3-2 20z"/><path class="b16" d="M1286 271l 2-2 4 2-2 2z"/><path class="bm" d="M1254 238l 2 0 3 7-1 0z"/><path class="b7" d="M1268 262l 2-1 4 3-2 1z"/><path class="b2r" d="M1165 202l 2-48 4 23-2 35z"/><path class="bc" d="M1180 273l 2-5 4 4-2 2z"/><path class="bf" d="M1074 260l 3-5 3-2-2 6z"/><path class="bh" d="M1245 240l 2-4 5-8-2 6z"/><path class="b6" d="M1201 254l 2 5 4-1-2-4z"/><path class="b8" d="M1176 269l 2-15 4 14-2 5z"/><path class="bq" d="M1260 253l 1 0 4 5-1 0z"/><path class="b1m" d="M1120 252l 3-4 3-10-2 6zM1218 256l 2 3 4-9-1-14z"/><path class="b8" d="M1272 265l 2-1 4 2-2 2z"/><path class="bx" d="M1087 249l 2-2 4 3-2 1z"/><path class="b27" d="M1160 228l 2-42 5 24-3 28z"/><path class="b2e" d="M1276 268l 2-2 4 3-2 2z"/><path class="bv" d="M1091 251l 2-1 4 4-2 0z"/><path class="bj" d="M1072 265l 2-5 4-1-2 5z"/><path class="bb" d="M1195 261l 2 2 4-9-2-7z"/><path class="bq" d="M1095 254l 2 0 4 4-2 0z"/><path class="bc" d="M1174 274l 2-5 4 4-2 3z"/><path class="b2p" d="M1145 217l 1-31 4-32-2 56z"/><path class="b2" d="M1063 273l 3-4 4 1-3 4z"/><path class="b2f" d="M1137 197l 3 26 4-8-3-49z"/><path class="b1q" d="M1250 234l 2-6 4 10-2 0z"/><path class="b8" d="M1170 270l 2-11 4 10-2 5z"/><path class="bk" d="M1243 244l 2-4 5-6-3 5z"/><path class="bf" d="M1099 258l 2 0 4 2-2 1z"/><path class="bv" d="M1080 253l 3-4 4 0-3 3z"/><path class="b2e" d="M1280 271l 2-2 4 2-2 2z"/><path class="b1c" d="M1161 177l 2-9 5-13-3 9z"/><path class="b1m" d="M1228 254l 2 2 5-7-2-12z"/><path class="by" d="M1256 245l 2 0 3 8-1 0z"/><path class="b1m" d="M1235 249l 2 1 4-3-2 1z"/><path class="bb" d="M1109 259l 3 2 4-2-3-7z"/><path class="b22" d="M1172 152l 2 14 4 13-2-16z"/><path class="b8" d="M1070 270l 2-5 4-1-3 5z"/><path class="bf" d="M1178 254l 2-2 4 11-2 5z"/><path class="bt" d="M1162 186l 3 36 4 10-2-22z"/><path class="b7" d="M1186 272l 2-3 5-10-2-2z"/><path class="ba" d="M1284 273l 2-2 4 2-2 2z"/><path class="bz" d="M1133 222l 3 9 3-18-2-21z"/><path class="bc" d="M1167 274l 3-4 4 4-3 3z"/><path class="b8" d="M1163 271l 2-10 5 9-3 4z"/><path class="bi" d="M1118 251l 2 1 4-8-2-5z"/><path class="bq" d="M1078 259l 2-6 4-1-2 5z"/><path class="b1l" d="M1161 214l 2-51 4 19-2 40z"/><path class="bg" d="M1183 234l 2 17 4 2-2-6z"/><path class="bd" d="M1241 247l 2-3 4-5-2 4z"/><path class="be" d="M1266 263l 2-1 4 3-2 2z"/><path class="bf" d="M1262 259l 2-1 4 4-2 1zM1103 261l 2-1 4-1-2 4z"/><path class="b1o" d="M1168 155l 2 7 4 4-2-14z"/><path class="ba" d="M1061 276l 2-3 4 1-2 3z"/><path class="b8" d="M1270 267l 2-2 4 3-2 2z"/><path class="b5" d="M1067 274l 3-4 3-1-2 5z"/><path class="b2n" d="M1084 252l 3-3 4 2-3 2z"/><path class="by" d="M1180 252l 3-18 4 13-3 16z"/><path class="b2h" d="M1252 240l 2-2 4 7-2 0z"/><path class="b16" d="M1288 275l 2-2 5 2-2 2z"/><path class="bn" d="M1247 239l 3-5 4 4-2 2z"/><path class="bu" d="M1129 234l 2 3 4-13-3-4z"/><path class="bv" d="M1258 254l 2-1 4 5-2 1z"/><path class="b1m" d="M1170 243l 2 16 4-5-2-15z"/><path class="b8" d="M1274 270l 2-2 4 3-2 2z"/><path class="bf" d="M1076 264l 2-5 4-2-2 6z"/><path class="bh" d="M1158 223l 2 17 4 10-2-10z"/><path class="b2p" d="M1140 223l 2-41 4-16-2 49z"/><path class="b1m" d="M1176 254l 2-2 5-18-3 18z"/><path class="b2e" d="M1278 273l 2-2 4 2-2 2z"/><path class="b5" d="M1161 274l 2-3 4 3-2 3z"/><path class="bx" d="M1088 253l 3-2 4 3-3 1z"/><path class="bj" d="M1073 269l 3-5 4-1-3 6z"/><path class="bq" d="M1165 261l 3-12 4 10-2 11z"/><path class="b11" d="M1163 163l 2 39 4 10-2-30z"/><path class="b1m" d="M1212 241l 2 12 4 3-2-3z"/><path class="b7" d="M1157 269l 2-6 4 8-2 3z"/><path class="b2j" d="M1148 210l 2-56 4 2-2 56z"/><path class="bv" d="M1092 255l 3-1 4 4-3-1z"/><path class="b16" d="M1165 277l 2-3 4 3-2 2z"/><path class="b2" d="M1065 277l 2-3 4 0-2 4z"/><path class="bx" d="M1172 259l 2-20 4 15-2 15z"/><path class="b2e" d="M1282 275l 2-2 4 2-1 3z"/><path class="by" d="M1254 246l 2-1 4 8-2 1z"/><path class="bx" d="M1082 257l 2-5 4 1-2 4z"/><path class="bq" d="M1159 263l 2-16 4 14-2 10z"/><path class="b9" d="M1096 257l 3 1 4 3-3-2z"/><path class="bd" d="M1239 248l 2-1 4-4-2 0z"/><path class="b1r" d="M1146 166l 2 44 4 2-2-45z"/><path class="b8" d="M1071 274l 2-5 4 0-2 5z"/><path class="b2q" d="M1245 243l 2-4 5 1-2 3z"/><path class="b2y" d="M1169 168l 3-16 4 11-2 21zM1161 197l 2-61 4 18-2 48z"/><path class="bg" d="M1116 259l 2-8 4-12-2 14z"/><path class="b16" d="M1287 278l 1-3 5 2-2 3z"/><path class="b6" d="M1184 274l 2-2 5-15-3 0z"/><path class="bt" d="M1158 194l 2 34 4 10-2-21z"/><path class="b27" d="M1156 229l 2-35 4 23-2 23z"/><path class="be" d="M1264 265l 2-2 4 4-2 1z"/><path class="bj" d="M1268 268l 2-1 4 3-2 2z"/><path class="bq" d="M1260 260l 2-1 4 4-2 2z"/><path class="b1e" d="M1153 197l 2-29 4-31-2 55z"/><path class="b2x" d="M1152 212l 2-56 5 0-2 55z"/><path class="br" d="M1250 243l 2-3 4 5-2 1z"/><path class="bq" d="M1080 263l 2-6 4 0-2 5z"/><path class="bb" d="M1100 259l 3 2 4 2-3-5z"/><path class="b9" d="M1107 263l 2-4 4-7-2 10z"/><path class="b8" d="M1272 272l 2-2 4 3-2 2z"/><path class="bk" d="M1159 238l 3 2 4 7-2-3z"/><path class="b1h" d="M1150 154l 3 43 4-5-3-36z"/><path class="b5" d="M1069 278l 2-4 4 0-2 4z"/><path class="b2j" d="M1157 211l 2-55 4 7-2 51z"/><path class="b16" d="M1062 280l 3-3 4 1-3 3z"/><path class="b5" d="M1159 276l 2-2 4 3-2 2z"/><path class="b1h" d="M1154 156l 3 36 4 5-2-41z"/><path class="bx" d="M1256 255l 2-1 4 5-2 1z"/><path class="b2e" d="M1276 275l 2-2 4 2-2 3z"/><path class="b2g" d="M1086 257l 2-4 4 2-2 2z"/><path class="b2u" d="M1205 254l 2 4 5-17-2-6z"/><path class="b1m" d="M1199 247l 2 7 4 0-2-1z"/><path class="bi" d="M1223 236l 1 14 4 4-2-5z"/><path class="bf" d="M1077 269l 3-6 4-1-3 5z"/><path class="b19" d="M1159 156l 2 41 4 5-2-39z"/><path class="bg" d="M1174 239l 2 15 4-2-2 2z"/><path class="bv" d="M1153 260l 2-8 4 11-2 6z"/><path class="b2o" d="M1150 167l 2 45 5-1-3-50z"/><path class="ba" d="M1163 279l 2-2 4 2-2 3z"/><path class="be" d="M1209 272l 2-7 5-2-3 9z"/><path class="b1l" d="M1156 220l 2-53 4 19-2 42z"/><path class="b2t" d="M1167 154l 2 14 5 16-3-7z"/><path class="bl" d="M1126 238l 3-4 3-14-2 5z"/><path class="bi" d="M1193 259l 2 2 4-14-2-4zM1113 252l 3 7 4-6-3-14z"/><path class="b2e" d="M1280 278l 2-3 5 3-2 2z"/><path class="b7" d="M1155 269l 2 0 4 5-2 2z"/><path class="b38" d="M1144 215l 2-49 4 1-2 50z"/><path class="b1w" d="M1165 164l 3-9 4-3-3 16z"/><path class="b8" d="M1207 276l 2-4 4 0-2 3z"/><path class="bt" d="M1131 237l 2-15 4-30-2 32z"/><path class="bj" d="M1075 274l 2-5 4-2-2 6z"/><path class="bf" d="M1203 268l 2-11 4 15-2 4z"/><path class="b11" d="M1158 167l 3 47 4 8-3-36z"/><path class="bm" d="M1252 249l 2-3 4 8-2 1z"/><path class="bf" d="M1213 272l 3-9 4 5-2 3z"/><path class="b2a" d="M1090 257l 2-2 4 2-2 1z"/><path class="b2q" d="M1164 244l 2 3 4-4-2 6z"/><path class="bu" d="M1124 244l 2-6 4-13-2 8z"/><path class="b16" d="M1285 280l 2-2 4 2-2 2z"/><path class="b2" d="M1066 281l 3-3 4 0-3 4z"/><path class="bn" d="M1243 243l 2 0 5 0-2 3z"/><path class="bk" d="M1233 237l 2 12 4-1-2-5z"/><path class="bx" d="M1216 263l 2-17 4 15-2 7z"/><path class="bv" d="M1084 262l 2-5 4 0-3 4z"/><path class="b8" d="M1073 278l 2-4 4-1-2 5z"/><path class="b7" d="M1201 274l 2-6 4 8-2 2z"/><path class="b17" d="M1136 231l 1-34 4-31-2 47z"/><path class="b39" d="M1248 246l 2-3 4 3-2 3z"/><path class="b5" d="M1157 280l 2-4 4 3-2 3z"/><path class="b1m" d="M1104 258l 3 5 4-1-3-11z"/><path class="be" d="M1266 270l 2-2 4 4-2 2z"/><path class="b6" d="M1182 277l 2-3 4-17-2 1z"/><path class="bh" d="M1216 253l 2 3 5-20-2-5z"/><path class="bx" d="M1205 257l 3-14 3 22-2 7z"/><path class="b8" d="M1270 274l 2-2 4 3-2 2z"/><path class="bm" d="M1161 247l 3-3 4 5-3 12z"/><path class="b8" d="M1152 275l 3-6 4 7-2 4z"/><path class="bf" d="M1262 265l 2 0 4 3-2 2z"/><path class="bx" d="M1094 258l 2-1 4 2-2 1z"/><path class="b1k" d="M1155 228l 3-5 4 17-3-2z"/><path class="b8" d="M1274 277l 2-2 4 3-1 2z"/><path class="b1x" d="M1157 192l 2-55 4-1-2 61z"/><path class="b16" d="M1161 282l 2-3 4 3-2 2z"/><path class="bq" d="M1081 267l 3-5 3-1-2 5z"/><path class="b1d" d="M1226 249l 2 5 5-17-1-13z"/><path class="bv" d="M1258 260l 2 0 4 5-2 0z"/><path class="b2h" d="M1168 249l 2-6 4-4-2 20z"/><path class="b2o" d="M1154 161l 3 50 4 3-3-47z"/><path class="b4" d="M1205 278l 2-2 4-1-2 2z"/><path class="b2e" d="M1279 280l 1-2 5 2-2 3z"/><path class="b5" d="M1070 282l 3-4 4 0-3 5z"/><path class="br" d="M1155 252l 2-20 4 15-2 16z"/><path class="b1d" d="M1237 243l 2 5 4-5-1-11z"/><path class="b7" d="M1211 275l 2-3 5-1-2 1z"/><path class="b1m" d="M1211 265l 3-8 4-11-2 17z"/><path class="bq" d="M1150 257l 3 3 4 9-2 0z"/><path class="be" d="M1079 273l 2-6 4-1-2 6z"/><path class="bf" d="M1197 269l 2-6 4 5-2 6z"/><path class="bt" d="M1153 202l 3 27 4 11-2-17z"/><path class="b2a" d="M1087 261l 3-4 4 1-3 2z"/><path class="b1s" d="M1148 217l 2-50 4-6-2 55z"/><path class="ba" d="M1283 283l 2-3 4 2-2 3z"/><path class="b16" d="M1165 284l 2-2 4 1-2 2z"/><path class="b2c" d="M1199 278l 2-4 4 4-2 2z"/><path class="b1r" d="M1141 166l 3 49 4 2-3-48z"/><path class="b0" d="M1175 284l 3-2 4 1-3 2z"/><path class="bn" d="M1210 235l 2 6 4 12-2 4z"/><path class="b8" d="M1077 278l 2-5 4-1-2 6z"/><path class="bq" d="M1148 268l 2-11 5 12-3 6z"/><path class="by" d="M1254 252l 2 3 4 5-2 0z"/><path class="be" d="M1194 273l 3-4 4 5-2 4z"/><path class="bx" d="M1098 260l 2-1 4-1-2 3z"/><path class="bl" d="M1122 239l 2 5 4-11-3-11z"/><path class="bx" d="M1199 263l 2-6 4 0-2 11z"/><path class="b2j" d="M1152 216l 2-55 4 6-2 53z"/><path class="b2f" d="M1154 176l 2 44 4 8-2-34z"/><path class="br" d="M1208 243l 2-8 4 22-3 8z"/><path class="b16" d="M1287 285l 2-3 4 2-2 3z"/><path class="bb" d="M1218 271l 2-3 4-5-2 4z"/><path class="b1g" d="M1180 280l 2-3 4-19-2 23z"/><path class="b9" d="M1220 268l 2-7 5-8-3 10z"/><path class="b2" d="M1068 285l 2-3 4 1-2 3z"/><path class="b5" d="M1154 280l 3 0 4 2-3 2z"/><path class="bn" d="M1149 247l 2-10 4 15-2 8z"/><path class="b7" d="M1268 275l 2-1 4 3-2 2z"/><path class="b5" d="M1074 283l 3-5 4 0-3 5z"/><path class="be" d="M1264 271l 2-1 4 4-2 1z"/><path class="bn" d="M1218 246l 3-15 3 21-2 9z"/><path class="b8" d="M1272 279l 2-2 5 3-2 2z"/><path class="b0" d="M1169 285l 2-2 4 1-2 2z"/><path class="bv" d="M1085 266l 2-5 4-1-2 5z"/><path class="bg" d="M1091 260l 3-2 4 2-3 0z"/><path class="b2h" d="M1197 243l 2 4 4 6-2 4z"/><path class="bi" d="M1111 262l 2-10 4-13-2 19z"/><path class="b2" d="M1158 284l 3-2 4 2-2 2z"/><path class="b2o" d="M1145 169l 3 48 4-1-3-46z"/><path class="b2e" d="M1277 282l 2-2 4 3-2 2z"/><path class="b1l" d="M1152 220l 2-44 4 18-2 35z"/><path class="b8" d="M1150 272l 2 3 5 5-3 0z"/><path class="bh" d="M1203 253l 2 1 5-19-2 8z"/><path class="bp" d="M1157 232l 2 6 5 6-3 3z"/><path class="b1g" d="M1203 280l 2-2 4-1-2 0z"/><path class="bq" d="M1083 272l 2-6 4-1-2 6z"/><path class="bk" d="M1191 257l 2 2 4-16-2 1z"/><path class="bh" d="M1214 257l 2-4 5-22-3 15z"/><path class="bd" d="M1201 257l 2-4 5-10-3 14z"/><path class="bq" d="M1260 263l 2 2 4 5-2 1z"/><path class="b7" d="M1209 277l 2-2 5-3-2 1z"/><path class="bk" d="M1250 243l 2 6 4 6-2-3z"/><path class="b2" d="M1281 285l 2-2 4 2-2 2z"/><path class="b1q" d="M1221 231l 2 5 3 13-2 3z"/><path class="be" d="M1192 276l 2-3 5 5-3 2z"/><path class="b30" d="M1159 137l 2 40 4-13-2-28z"/><path class="b1r" d="M1149 170l 3 46 4 4-2-44z"/><path class="b2e" d="M1072 286l 2-3 4 0-2 4z"/><path class="be" d="M1081 278l 2-6 4-1-3 6z"/><path class="b1d" d="M1246 240l 2 6 4 3-2-6z"/><path class="bc" d="M1163 286l 2-2 4 1-2 2zM1173 286l 2-2 4 1-2 1z"/><path class="b8" d="M1196 280l 3-2 4 2-2 1z"/><path class="bk" d="M1108 251l 3 11 4-4-3-20z"/><path class="b2o" d="M1137 192l 2 21 4-4-3-47z"/><path class="b1u" d="M1120 253l 2-14 3-17-2 22z"/><path class="b16" d="M1285 287l 2-2 4 2-2 2z"/><path class="bi" d="M1095 260l 3 0 4 1-3-4z"/><path class="b8" d="M1078 283l 3-5 3-1-2 6z"/><path class="bb" d="M1216 272l 2-1 4-4-2 1z"/><path class="b5" d="M1152 284l 2-4 4 4-2 2z"/><path class="b30" d="M1163 136l 2 28 4 4-2-14z"/><path class="b7" d="M1148 280l 2-8 4 8-2 4z"/><path class="b12" d="M1132 220l 3 4 4-17-3-2z"/><path class="bm" d="M1224 263l 3-10 4 2-2 5z"/><path class="br" d="M1195 244l 2-1 4 14-2 6z"/><path class="bu" d="M1242 232l 1 11 5 3-2-6z"/><path class="bi" d="M1102 261l 2-3 4-7-2 9z"/><path class="b8" d="M1270 281l 2-2 5 3-2 3z"/><path class="bx" d="M1089 265l 2-5 4 0-2 4z"/><path class="bg" d="M1256 255l 2 5 4 5-2-2z"/><path class="be" d="M1266 276l 2-1 4 4-2 2z"/><path class="bi" d="M1184 281l 2-23 5-6-3 3z"/><path class="b2e" d="M1275 285l 2-3 4 3-2 2z"/><path class="b1n" d="M1139 213l 2-47 4 3-2 40z"/><path class="b4" d="M1167 287l 2-2 4 1-2 1z"/><path class="b2e" d="M1156 286l 2-2 5 2-3 1z"/><path class="b2h" d="M1144 257l 2-17 4 17-2 11z"/><path class="b16" d="M1069 289l 3-3 4 1-3 4z"/><path class="b5" d="M1076 287l 2-4 4 0-2 5z"/><path class="bh" d="M1222 261l 2-9 5-20-2 21z"/><path class="bk" d="M1146 240l 3 7 4 13-3-3z"/><path class="b9" d="M1146 260l 2 8 4 7-2-3z"/><path class="bl" d="M1117 239l 3 14 3-9-3-23z"/><path class="bm" d="M1193 248l 2-4 4 19-2 6z"/><path class="bf" d="M1262 270l 2 1 4 4-2 1z"/><path class="b1m" d="M1087 271l 2-6 4-1-2 5z"/><path class="b2e" d="M1279 287l 2-2 4 2-2 3z"/><path class="b1m" d="M1222 267l 2-4 5-3-2 2z"/><path class="bv" d="M1144 274l 2-14 4 12-2 8z"/><path class="b15" d="M1151 212l 2-10 5 21-3 5z"/><path class="b7" d="M1201 281l 2-1 4-3-2 1z"/><path class="bl" d="M1224 252l 2-3 6-25-3 8z"/><path class="bf" d="M1084 277l 3-6 4-2-3 7z"/><path class="b16" d="M1283 290l 2-3 4 2-2 3z"/><path class="by" d="M1191 252l 2-4 4 21-3 4z"/><path class="bp" d="M1227 253l 2-21 4 13-2 10z"/><path class="b6" d="M1207 277l 2 0 5-4-3 1z"/><path class="b2w" d="M1151 237l 2-22 4 17-2 20z"/><path class="be" d="M1190 276l 2 0 4 4-2 0z"/><path class="bh" d="M1188 257l 3 0 4-13-2 4z"/><path class="bj" d="M1082 283l 2-6 4-1-2 6z"/><path class="b4" d="M1160 287l 3-1 4 1-3 0z"/><path class="b1b" d="M1128 233l 2-8 4-13-2 10z"/><path class="b2" d="M1073 291l 3-4 4 1-3 4z"/><path class="bw" d="M1153 215l 2 13 4 10-2-6z"/><path class="b2j" d="M1147 214l 2-44 5 6-2 44z"/><path class="b4" d="M1171 287l 2-1 4 0-2 1z"/><path class="bs" d="M1232 224l 1 13 4 6-2-4z"/><path class="bk" d="M1099 257l 3 4 4-1-3-10z"/><path class="b12" d="M1130 225l 2-5 4-15-2 7z"/><path class="b8" d="M1268 283l 2-2 5 4-2 2z"/><path class="b11" d="M1149 180l 3 40 4 9-3-27z"/><path class="b7" d="M1194 280l 2 0 5 1-2 0z"/><path class="b9" d="M1214 273l 2-1 4-4-2 1zM1182 283l 2-2 4-26-2 1z"/><path class="b5" d="M1273 287l 2-2 4 2-2 3z"/><path class="b8" d="M1080 288l 2-5 4-1-2 6z"/><path class="b2l" d="M1253 243l 1 9 4 8-2-5z"/><path class="bi" d="M1093 264l 2-4 4-3-2 6z"/><path class="b2w" d="M1144 233l 3-12 4 16-2 10z"/><path class="b2z" d="M1143 209l 2-40 4 1-2 44z"/><path class="b2e" d="M1277 290l 2-3 4 3-2 2z"/><path class="b26" d="M1150 282l 2 2 4 2-2-1z"/><path class="bt" d="M1235 239l 2 4 5-11-1-13z"/><path class="by" d="M1188 255l 3-3 3 21-2 3z"/><path class="bf" d="M1265 275l 1 1 4 5-2 2z"/><path class="b3" d="M1164 287l 3 0 4 0-2 0z"/><path class="b5" d="M1077 292l 3-4 4 0-3 5z"/><path class="b6" d="M1145 274l 3 6 4 4-2-2z"/><path class="bx" d="M1259 256l 1 7 4 8-2-1z"/><path class="bi" d="M1091 269l 2-5 4-1-2 1zM1220 268l 2-1 5-5-3 1z"/><path class="b16" d="M1281 292l 2-2 4 2-2 3z"/><path class="bh" d="M1186 258l 2-1 5-9-2 4z"/><path class="b1g" d="M1154 285l 2 1 4 1-2-1z"/><path class="b2w" d="M1229 232l 3-8 3 15-2 6z"/><path class="bb" d="M1086 282l 2-6 4-3-2 5z"/><path class="bv" d="M1261 267l 1 3 4 6-1-1z"/><path class="b6" d="M1199 281l 2 0 4-3-2-1z"/><path class="b5" d="M1271 289l 2-2 4 3-2 3z"/><path class="b7" d="M1267 285l 1-2 5 4-2 2z"/><path class="br" d="M1139 265l 2-24 5 19-2 14z"/><path class="bh" d="M1229 260l 2-5 5-10-3 10z"/><path class="b1m" d="M1088 276l 3-7 4-5-3 9z"/><path class="bb" d="M1205 278l 2-1 4-3-2 0z"/><path class="ba" d="M1075 295l 2-3 4 1-2 3z"/><path class="b1u" d="M1115 258l 2-19 3-18-1 31z"/><path class="b2l" d="M1106 260l 2-9 4-13-2 19z"/><path class="b2e" d="M1275 293l 2-3 4 2-2 3z"/><path class="b1m" d="M1179 285l 3-2 4-27-2-1z"/><path class="b12" d="M1125 222l 3 11 4-11-3-15z"/><path class="bj" d="M1084 288l 2-6 4-4-2 9z"/><path class="bk" d="M1227 262l 2-2 4-5-2 3z"/><path class="b1g" d="M1158 286l 2 1 4 0-2-1z"/><path class="b2l" d="M1141 241l 3 16 4 11-2-8z"/><path class="b5" d="M1081 293l 3-5 4-1-3 6z"/><path class="bb" d="M1188 275l 2 1 4 4-2-3z"/><path class="b1g" d="M1169 287l 2 0 4 0-2-1z"/><path class="b1m" d="M1211 274l 3-1 4-4-2 0z"/><path class="b1v" d="M1140 246l 2-25 4 19-2 17z"/><path class="bt" d="M1244 232l 2 8 4 3-1-13z"/><path class="b18" d="M1112 238l 3 20 4-6-4-32z"/><path class="b2x" d="M1135 224l 2-32 3-30-1 45z"/><path class="bs" d="M1249 230l 1 13 4 9-1-9z"/><path class="b16" d="M1279 295l 2-3 4 3-2 2z"/><path class="by" d="M1186 256l 2-1 4 21-2 0z"/><path class="b9" d="M1141 261l 3 13 4 6-3-6z"/><path class="b2l" d="M1255 246l 1 9 4 8-1-7z"/><path class="bq" d="M1143 280l 2-6 5 8-3 1z"/><path class="b2" d="M1079 296l 2-3 4 0-2 4z"/><path class="be" d="M1147 283l 3-1 4 3-3-1z"/><path class="bb" d="M1192 277l 2 3 5 1-3-1z"/><path class="bi" d="M1218 269l 2-1 4-5-2 2z"/><path class="bu" d="M1103 250l 3 10 4-3-3-21z"/><path class="b10" d="M1142 221l 2 12 5 14-3-7z"/><path class="b2l" d="M1097 263l 2-6 4-7-2 10z"/><path class="b2p" d="M1149 199l 2 13 4 16-2-13z"/><path class="b1c" d="M1140 162l 3 47 4 5-2-51z"/><path class="b1j" d="M1123 244l 2-22 4-15-2 29z"/><path class="b19" d="M1145 163l 2 51 5 6-3-40z"/><path class="b8" d="M1269 291l 2-2 4 4-2 2z"/><path class="b7" d="M1162 286l 2 1 5 0-3-2z"/><path class="bq" d="M1263 271l 2 4 3 8-1 2z"/><path class="b2e" d="M1273 295l 2-2 4 2-2 3z"/><path class="bh" d="M1095 264l 2-1 4-3-3-4z"/><path class="bl" d="M1231 255l 2-10 5-19-2 19z"/><path class="bj" d="M1265 286l 2-1 4 4-2 2z"/><path class="by" d="M1139 274l 2-13 4 13-2 6z"/><path class="bh" d="M1224 263l 3-1 4-4-2 2z"/><path class="b6" d="M1151 284l 3 1 4 1-2-2z"/><path class="b2p" d="M1132 222l 2-10 4-6-2 12z"/><path class="bw" d="M1241 219l 1 13 4 8-2-8z"/><path class="b1k" d="M1233 255l 3-10 4 1-2 8z"/><path class="b14" d="M1140 222l 2-13 5 12-3 12z"/><path class="b1l" d="M1147 221l 2-22 4 16-2 22z"/><path class="b8" d="M1085 293l 3-6 4-3-2 9z"/><path class="b5" d="M1083 297l 2-4 5 0-3 5z"/><path class="b16" d="M1277 298l 2-3 4 2-2 3z"/><path class="b19" d="M1136 205l 3 2 4-13-3-1z"/><path class="b2z" d="M1147 198l 2-18 4 22-2 10z"/><path class="bz" d="M1233 245l 2-6 6-20-3 7z"/><path class="bo" d="M1231 258l 2-3 5-1-3 3z"/><path class="bi" d="M1177 286l 2-1 5-30-2 0z"/><path class="b9" d="M1203 277l 2 1 4-4-2-1zM1196 280l 3 1 4-4-2-1z"/><path class="b1m" d="M1090 278l 2-5 4-5-2 4z"/><path class="b12" d="M1120 221l 3 23 4-8-3-32z"/><path class="bg" d="M1209 274l 2 0 5-5-2 1z"/><path class="b9" d="M1088 287l 2-9 4-6-2 12z"/><path class="b2v" d="M1251 235l 2 8 3 12-1-9z"/><path class="ba" d="M1081 301l 2-4 4 1-2 4z"/><path class="br" d="M1184 255l 2 1 4 20-2-1z"/><path class="bi" d="M1259 263l 2 4 4 8-2-4z"/><path class="b8" d="M1267 293l 2-2 4 4-2 3z"/><path class="b2e" d="M1271 298l 2-3 4 3-2 3z"/><path class="b2l" d="M1257 246l 2 10 3 14-1-3z"/><path class="b6" d="M1156 284l 2 2 4 0-2-3z"/><path class="b5" d="M1087 298l 3-5 4 0-3 6z"/><path class="bd" d="M1216 269l 2 0 4-4-2 1z"/><path class="b2u" d="M1092 273l 3-9 3-8-2 12z"/><path class="b6" d="M1166 285l 3 2 4-1-2-2z"/><path class="b27" d="M1236 245l 2-19 4 8-2 12z"/><path class="b2r" d="M1136 218l 2-12 4 3-2 13z"/><path class="b2o" d="M1134 212l 2-7 4-12-2 13z"/><path class="b2w" d="M1135 255l 2-36 4 22-2 24z"/><path class="b16" d="M1275 301l 2-3 4 2-2 3z"/><path class="be" d="M1263 287l 2-1 4 5-2 2z"/><path class="bh" d="M1222 265l 2-2 5-3-2 2z"/><path class="bo" d="M1229 260l 2-2 4-1-2 3z"/><path class="bh" d="M1137 241l 2 24 5 9-3-13z"/><path class="bi" d="M1186 271l 2 4 4 2-2-7z"/><path class="b2" d="M1085 302l 2-4 4 1-2 4z"/><path class="b1n" d="M1144 190l 3 8 4 14-2-13z"/><path class="be" d="M1090 293l 2-9 4-5-2 14z"/><path class="b15" d="M1135 236l 2-31 5 16-2 25z"/><path class="bo" d="M1235 257l 3-3 4-3-2 7z"/><path class="b1q" d="M1135 266l 2-25 4 20-2 13z"/><path class="b15" d="M1238 226l 3-7 3 13-2 2z"/><path class="bt" d="M1137 219l 3 27 4 11-3-16z"/><path class="b8" d="M1091 299l 3-6 4-1-3 8z"/><path class="b9" d="M1145 277l 2 6 4 1-2-4z"/><path class="b2e" d="M1269 301l 2-3 4 3-2 2z"/><path class="b1m" d="M1141 271l 2 9 4 3-2-6z"/><path class="bx" d="M1261 266l 2 5 4 14-2 1z"/><path class="b12" d="M1242 234l 2-2 5-2-2-4z"/><path class="b8" d="M1265 295l 2-2 4 5-2 3z"/><path class="bb" d="M1160 283l 2 3 4-1-2-3z"/><path class="b31" d="M1139 207l 1-45 5 1-2 31z"/><path class="b2v" d="M1238 254l 2-8 5-8-3 13z"/><path class="bi" d="M1175 287l 2-1 5-31-2 3z"/><path class="b1m" d="M1190 270l 2 7 4 3-2-2z"/><path class="b1r" d="M1129 207l 3 15 4-4-3-18z"/><path class="b1c" d="M1140 193l 3 1 4 4-3-8z"/><path class="b2" d="M1089 303l 2-4 4 1-2 5z"/><path class="b3a" d="M1233 260l 2-3 5 1-2 4z"/><path class="b11" d="M1137 205l 3 17 4 11-2-12z"/><path class="b16" d="M1273 303l 2-2 4 2-2 3z"/><path class="b10" d="M1110 257l 2-19 3-18-1 32z"/><path class="bi" d="M1201 276l 2 1 4-4-2 0z"/><path class="bb" d="M1171 284l 2 2 4-2-2-3z"/><path class="bd" d="M1207 273l 2 1 5-4-2 0z"/><path class="b2v" d="M1253 242l 2 4 4 10-2-10z"/><path class="b1f" d="M1127 236l 2-29 4-7-2 33z"/><path class="b1w" d="M1143 194l 2-31 4 17-2 18z"/><path class="b13" d="M1247 226l 2 4 4 13-2-8zM1119 252l 1-31 4-17-1 42z"/><path class="bs" d="M1101 260l 2-10 4-14-2 18z"/><path class="b9" d="M1149 280l 2 4 5 0-3-3z"/><path class="bl" d="M1098 256l 3 4 4-6-3-13z"/><path class="bk" d="M1214 270l 2-1 4-3-2 1z"/><path class="b2l" d="M1227 262l 2-2 4 0-2 3z"/><path class="b1m" d="M1194 278l 2 2 5-4-2-1z"/><path class="b1t" d="M1142 209l 2-19 5 9-2 22z"/><path class="bf" d="M1261 288l 2-1 4 6-2 2z"/><path class="b1k" d="M1240 258l 2-7 4-1-2 10z"/><path class="bh" d="M1220 266l 2-1 5-3-2 2z"/><path class="bz" d="M1107 236l 3 21 4-5-4-34z"/><path class="b1q" d="M1238 262l 2-4 4 2-2 6z"/><path class="b7" d="M1095 300l 3-8 4 0-3 9z"/><path class="b5" d="M1093 305l 2-5 4 1-2 5z"/><path class="b1q" d="M1182 255l 2 0 4 20-2-4z"/><path class="b1b" d="M1240 246l 2-12 5-8-2 12z"/><path class="b12" d="M1115 220l 4 32 4-6-4-44z"/><path class="bd" d="M1136 258l 3 16 4 6-2-9z"/><path class="b2e" d="M1267 304l 2-3 4 2-2 3z"/><path class="b2r" d="M1131 233l 2-33 4 5-2 31z"/><path class="b1q" d="M1231 263l 2-3 5 2-3 4z"/><path class="b1p" d="M1249 238l 2-3 4 11-2-4z"/><path class="b8" d="M1263 297l 2-2 4 6-2 3z"/><path class="b2m" d="M1138 206l 2-13 4-3-2 19z"/><path class="bn" d="M1235 266l 3-4 4 4-2 4z"/><path class="b27" d="M1242 251l 3-13 4 0-3 12z"/><path class="b16" d="M1271 306l 2-3 4 3-2 2z"/><path class="b2l" d="M1257 261l 2 2 4 8-2-5z"/><path class="b9" d="M1164 282l 2 3 5-1-3-3z"/><path class="b2o" d="M1133 200l 3 18 4 4-3-17z"/><path class="b1d" d="M1094 272l 2-4 4-9-3 1z"/><path class="bi" d="M1092 284l 2-12 3-12-1 19z"/><path class="b5" d="M1097 306l 2-5 5 1-3 5z"/><path class="b1m" d="M1153 281l 3 3 4-1-2-3z"/><path class="bv" d="M1094 293l 2-14 3-7-1 20z"/><path class="bo" d="M1242 266l 2-6 5-3-3 9z"/><path class="bs" d="M1256 242l 1 4 4 21-2-4z"/><path class="b1m" d="M1173 286l 2 1 5-29-3 26z"/><path class="be" d="M1099 301l 3-9 4 0-2 10z"/><path class="bn" d="M1240 270l 2-4 4 0-2 6z"/><path class="b3a" d="M1225 264l 2-2 4 1-2 3z"/><path class="b15" d="M1245 238l 2-12 4 9-2 3z"/><path class="bs" d="M1244 260l 2-10 5-3-2 10z"/><path class="bo" d="M1177 284l 3-26 4 8-2-2z"/><path class="bf" d="M1259 290l 2-2 4 7-2 2z"/><path class="b27" d="M1246 250l 3-12 4 4-2 5z"/><path class="b14" d="M1131 247l 1-45 5 17-2 36z"/><path class="b1r" d="M1124 204l 3 32 4-3-3-37z"/><path class="bo" d="M1218 267l 2-1 5-2-2 3z"/><path class="bn" d="M1233 269l 2-3 5 4-3 4z"/><path class="b2e" d="M1265 307l 2-3 4 2-2 3z"/><path class="b1q" d="M1229 266l 2-3 4 3-2 3z"/><path class="b2h" d="M1237 274l 3-4 4 2-2 5z"/><path class="b5" d="M1101 307l 3-5 4 2-3 5z"/><path class="bh" d="M1212 270l 2 0 4-3-2 1z"/><path class="b2h" d="M1138 273l 3-2 4 6-2-1z"/><path class="bk" d="M1205 273l 2 0 5-3-2 1z"/><path class="bm" d="M1260 261l 1 5 4 20-2 1z"/><path class="b8" d="M1261 300l 2-3 4 7-2 3z"/><path class="be" d="M1104 302l 2-10 4 1-2 11z"/><path class="b27" d="M1130 257l 2-38 5 22-2 25z"/><path class="bk" d="M1199 275l 2 1 4-3-2 0z"/><path class="bt" d="M1132 219l 3 36 4 10-2-24z"/><path class="bl" d="M1096 268l 2-12 4-15-2 18z"/><path class="bi" d="M1143 276l 2 1 4 3-2-3z"/><path class="b16" d="M1269 309l 2-3 4 2-2 3z"/><path class="b11" d="M1132 202l 3 34 5 10-3-27z"/><path class="bw" d="M1251 247l 2-5 4 4-1-4z"/><path class="bg" d="M1158 280l 2 3 4-1-2-3z"/><path class="b5" d="M1105 309l 3-5 4 1-3 5z"/><path class="b1d" d="M1184 266l 2 5 4-1-2-12z"/><path class="b1k" d="M1180 258l 2-3 4 16-2-5z"/><path class="be" d="M1108 304l 2-11 4 3-2 9z"/><path class="b1q" d="M1134 267l 2-9 5 13-3 2z"/><path class="bm" d="M1235 278l 2-4 5 3-2 4z"/><path class="b16" d="M1099 311l 2-4 4 2-2 3z"/><path class="b3a" d="M1223 267l 2-3 4 2-2 3z"/><path class="bi" d="M1168 281l 3 3 4-3-2-2z"/><path class="br" d="M1231 273l 2-4 4 5-2 4z"/><path class="bf" d="M1257 293l 2-3 4 7-2 3z"/><path class="b1q" d="M1227 269l 2-3 4 3-2 4z"/><path class="b2" d="M1263 310l 2-3 4 2-2 3z"/><path class="bi" d="M1147 277l 2 3 4 1-2-3z"/><path class="b1f" d="M1123 246l 1-42 4-8-1 47z"/><path class="bk" d="M1192 273l 2 5 5-3-2-4z"/><path class="bu" d="M1132 239l 3 27 4 8-3-16z"/><path class="b8" d="M1259 304l 2-4 4 7-2 3z"/><path class="b2w" d="M1253 247l 3-5 3 21-2-2z"/><path class="b1q" d="M1216 268l 2-1 5 0-3 2z"/><path class="bm" d="M1098 292l 1-20 4-6-1 26z"/><path class="b16" d="M1103 312l 2-3 4 1-2 4z"/><path class="b2o" d="M1128 196l 3 37 4 3-3-34z"/><path class="b16" d="M1267 312l 2-3 4 2-2 3z"/><path class="bu" d="M1244 272l 2-6 5-10-2 9z"/><path class="bh" d="M1242 277l 2-5 5-7-3 7z"/><path class="bm" d="M1233 282l 2-4 5 3-3 4z"/><path class="b1d" d="M1210 271l 2-1 4-2-2 2z"/><path class="b2h" d="M1229 277l 2-4 4 5-2 4z"/><path class="b38" d="M1127 243l 1-47 4 6-1 45z"/><path class="bz" d="M1249 257l 2-10 5-5-3 5z"/><path class="bu" d="M1255 263l 2-2 4 5-1-5z"/><path class="b18" d="M1246 266l 3-9 4-10-2 9z"/><path class="b2l" d="M1188 258l 2 12 4 8-2-5z"/><path class="b1q" d="M1220 269l 3-2 4 2-2 4z"/><path class="bn" d="M1225 273l 2-4 4 4-2 4z"/><path class="bh" d="M1203 273l 2 0 5-2-3 1z"/><path class="bf" d="M1254 297l 3-4 4 7-2 4z"/><path class="bk" d="M1240 281l 2-4 4-5-2 5z"/><path class="bd" d="M1162 279l 2 3 4-1-2-3z"/><path class="bn" d="M1258 260l 2 1 3 26-2 1z"/><path class="b2u" d="M1151 278l 2 3 5-1-3-2z"/><path class="b2p" d="M1114 252l 1-32 4-18-1 45z"/><path class="b8" d="M1256 308l 3-4 4 6-2 3z"/><path class="b2w" d="M1251 256l 2-9 4 14-2 2z"/><path class="ba" d="M1261 313l 2-3 4 2-2 3z"/><path class="bh" d="M1175 281l 2 3 5-20-3 3z"/><path class="b12" d="M1102 241l 3 13 4-7-4-24z"/><path class="b1r" d="M1119 202l 4 44 4-3-4-49z"/><path class="b13" d="M1105 254l 2-18 3-18-1 29z"/><path class="bm" d="M1227 281l 2-4 4 5-2 3z"/><path class="b3b" d="M1231 285l 2-3 4 3-2 2z"/><path class="b3c" d="M1214 270l 2-2 4 1-2 4z"/><path class="bb" d="M1112 305l 2-9 4-8-2 9z"/><path class="b11" d="M1110 218l 4 34 4-5-4-46z"/><path class="b2w" d="M1130 259l 2-20 4 19-2 9z"/><path class="b1k" d="M1249 265l 2-9 4 7-2 4z"/><path class="b7" d="M1109 310l 3-5 4-8-3 6z"/><path class="bn" d="M1222 277l 3-4 4 4-2 4z"/><path class="bh" d="M1197 271l 2 4 4-2-2 0z"/><path class="be" d="M1252 302l 2-5 5 7-3 4z"/><path class="br" d="M1102 292l 1-26 4-2-1 28z"/><path class="b1q" d="M1218 273l 2-4 5 4-3 4z"/><path class="bk" d="M1237 285l 3-4 4-4-2 2z"/><path class="b1u" d="M1096 279l 1-19 4-14-2 26z"/><path class="bp" d="M1246 272l 3-7 4 2-2 5z"/><path class="b11" d="M1128 201l 3 46 4 8-3-36z"/><path class="b5" d="M1254 312l 2-4 5 5-2 3z"/><path class="b1q" d="M1207 272l 3-1 4-1-2 3z"/><path class="b1d" d="M1136 266l 2 7 5 3-3-4z"/><path class="bh" d="M1140 272l 3 4 4 1-3-2z"/><path class="b3" d="M1107 314l 2-4 4-7-2 5z"/><path class="bk" d="M1155 278l 3 2 4-1-3-1z"/><path class="b16" d="M1259 316l 2-3 4 2-2 3z"/><path class="bt" d="M1097 260l 3-1 4-11-3-2z"/><path class="bm" d="M1224 285l 3-4 4 4-2 3z"/><path class="b3d" d="M1126 249l 2-48 4 18-2 38z"/><path class="b0" d="M983 317l 3-3 4 2-3 2z"/><path class="bk" d="M1166 278l 2 3 5-2-3-1z"/><path class="b7" d="M1250 307l 2-5 4 6-2 4z"/><path class="b2h" d="M1110 293l 2-27 4 7-2 23z"/><path class="bn" d="M1106 292l 1-28 5 2-2 27z"/><path class="br" d="M1220 281l 2-4 5 4-3 4z"/><path class="bo" d="M1201 273l 2 0 4-1-2 2z"/><path class="b1q" d="M1212 273l 2-3 4 3-2 4z"/><path class="bl" d="M1253 267l 2-4 5-2-2-1z"/><path class="bn" d="M1216 277l 2-4 4 4-2 4z"/><path class="b1q" d="M1256 261l 2-1 3 28-2 2z"/><path class="b2l" d="M1244 277l 2-5 5 0-2 4z"/><path class="bh" d="M1144 275l 3 2 4 1-2-1z"/><path class="bi" d="M1229 288l 2-3 4 2-2 0z"/><path class="b1b" d="M1127 219l 3 38 5 9-3-27z"/><path class="b2o" d="M1123 194l 4 49 4 4-3-46z"/><path class="b1d" d="M1173 279l 2 2 4-14-2 5z"/><path class="b8" d="M1248 312l 2-5 4 5-2 4z"/><path class="b5" d="M1252 316l 2-4 5 4-3 3z"/><path class="b3" d="M1105 317l 2-3 4-6-2 5z"/><path class="bl" d="M1131 254l 3 13 4 6-2-7z"/><path class="b0" d="M998 318l 3-2 4 1-3 2z"/><path class="b1a" d="M987 318l 3-2 4 1-3 1z"/><path class="bk" d="M1235 287l 2-2 5-6-2-1z"/><path class="b2h" d="M1218 285l 2-4 4 4-2 2z"/><path class="b3a" d="M1205 274l 2-2 5 1-3 4z"/><path class="b2q" d="M1114 296l 2-23 4-2-2 17z"/><path class="bh" d="M1159 278l 3 1 4-1-2 0z"/><path class="b16" d="M1256 319l 3-3 4 2-2 3z"/><path class="bn" d="M1214 280l 2-3 4 4-2 4z"/><path class="bl" d="M1190 266l 2 7 5-2-2-10z"/><path class="b1q" d="M1209 277l 3-4 4 4-2 3z"/><path class="bt" d="M1182 264l 2 2 4-8-2-13z"/><path class="bh" d="M1149 277l 2 1 4 0-2 0z"/><path class="b3e" d="M1222 287l 2-2 5 3-2 0z"/><path class="by" d="M1116 297l 2-9 4 2-2 7z"/><path class="bq" d="M1113 303l 3-6 4 0-2 7z"/><path class="b1a" d="M980 319l 3-2 4 1-3 1z"/><path class="b2l" d="M1242 279l 2-2 5-1-2 3z"/><path class="bc" d="M1002 319l 3-2 4 2-3 1z"/><path class="b5" d="M1246 317l 2-5 4 4-2 4z"/><path class="b1s" d="M1118 247l 1-45 4-8-1 51z"/><path class="b1q" d="M1254 264l 2-3 3 29-2 3z"/><path class="b13" d="M1100 259l 2-18 3-18-1 25z"/><path class="b1" d="M1102 319l 3-2 4-4-3 5z"/><path class="bf" d="M1111 308l 2-5 5 1-3 5z"/><path class="b1" d="M991 318l 3-1 4 1-3-2z"/><path class="b18" d="M1251 272l 2-5 5-7-2 1z"/><path class="b2" d="M1250 320l 2-4 4 3-2 3z"/><path class="b1k" d="M1133 270l 3-4 4 6-2 2z"/><path class="b14" d="M1125 251l 2-32 5 20-2 20z"/><path class="bp" d="M1138 274l 2-2 4 3-2 1z"/><path class="b2j" d="M1122 245l 1-51 5 7-2 48z"/><path class="bu" d="M1199 273l 2 0 4 1-2-1z"/><path class="b1d" d="M1170 278l 3 1 4-7-2 5z"/><path class="by" d="M1120 297l 2-7 4 1-2 7z"/><path class="bo" d="M1153 278l 2 0 4 0-2 1zM1164 278l 2 0 4 0-2 1z"/><path class="bj" d="M1109 313l 2-5 4 1-2 5z"/><path class="bv" d="M1118 304l 2-7 4 1-2 6z"/><path class="bc" d="M1006 320l 3-1 4 1-3 1z"/><path class="b1q" d="M1207 280l 2-3 5 3-2 1z"/><path class="bn" d="M1118 288l 2-17 4 6-2 13z"/><path class="b1q" d="M1142 276l 2-1 5 2-3 2z"/><path class="bf" d="M1242 307l 2-11 4 16-2 5z"/><path class="bn" d="M1212 281l 2-1 4 5-2 1z"/><path class="bk" d="M1227 288l 2 0 4-1-2-3zM1216 286l 2-1 4 2-2-3z"/><path class="b2e" d="M1243 321l 3-4 4 3-2 3z"/><path class="bn" d="M1252 269l 2-5 3 29-3 4z"/><path class="b2w" d="M1129 263l 2-9 5 12-3 4z"/><path class="bn" d="M1122 290l 2-13 5 4-3 10z"/><path class="bf" d="M1115 309l 3-5 4 0-3 6z"/><path class="b3" d="M984 319l 3-1 4 0-3-2z"/><path class="b8" d="M1239 316l 3-9 4 10-3 4z"/><path class="bp" d="M1203 273l 2 1 4 3-2 3z"/><path class="b1a" d="M1100 322l 2-3 4-1-2 4z"/><path class="b1u" d="M1195 261l 2 10 4 2-2 0z"/><path class="bx" d="M1244 296l 3-11 3 22-2 5z"/><path class="b10" d="M1186 245l 2 13 4 15-2-7z"/><path class="b19" d="M1114 201l 4 46 4-2-4-52z"/><path class="b3" d="M995 316l 3 2 4 1-4-5z"/><path class="b8" d="M1106 318l 3-5 4 1-3 5z"/><path class="bh" d="M1233 287l 2 0 5-9-2-2z"/><path class="bc" d="M977 322l 3-3 4 0-3 3z"/><path class="bz" d="M1127 237l 3 22 4 8-3-13z"/><path class="bc" d="M1010 321l 3-1 4 2-3 1z"/><path class="b16" d="M1248 323l 2-3 4 2-2 3z"/><path class="by" d="M1124 298l 2-7 5 1-3 7z"/><path class="b3a" d="M1146 279l 3-2 4 1-3 2z"/><path class="b1q" d="M1157 279l 2-1 5 0-3 3z"/><path class="br" d="M1249 275l 3-6 2 28-2 5z"/><path class="be" d="M1113 314l 2-5 4 1-2 5z"/><path class="bl" d="M1249 276l 2-4 5-11-2 3z"/><path class="bm" d="M1247 285l 2-10 3 27-2 5z"/><path class="br" d="M1126 291l 3-10 4 3-2 8z"/><path class="bv" d="M1122 304l 2-6 4 1-2 6z"/><path class="bo" d="M1240 278l 2 1 5 0-3 2z"/><path class="bp" d="M1135 277l 3-3 4 2-2 4z"/><path class="b1k" d="M1131 272l 2-2 5 4-3 3z"/><path class="b5" d="M1237 321l 2-5 4 5-2 3z"/><path class="b2o" d="M1105 223l 4 24 4-6-4-35z"/><path class="bo" d="M1168 279l 2-1 5-1-3 4z"/><path class="b1r" d="M1123 200l 3 49 4 8-3-38z"/><path class="bf" d="M1119 310l 3-6 4 1-2 6z"/><path class="b1j" d="M1099 272l 2-26 4-13-2 33z"/><path class="b1s" d="M1109 247l 1-29 4-17-1 40z"/><path class="bp" d="M1129 281l 2-9 4 5-2 7z"/><path class="b7" d="M1233 317l 2-7 4 6-2 5z"/><path class="b1q" d="M1140 280l 2-4 4 3-2 4z"/><path class="ba" d="M1241 324l 2-3 5 2-2 3z"/><path class="bc" d="M1014 323l 3-1 4 1-3 2z"/><path class="b3a" d="M1150 280l 3-2 4 1-2 4z"/><path class="b2e" d="M1104 322l 2-4 4 1-2 4z"/><path class="b8" d="M1110 319l 3-5 4 1-2 5z"/><path class="bc" d="M1097 325l 3-3 4 0-3 4z"/><path class="b1q" d="M1133 284l 2-7 5 3-3 6z"/><path class="br" d="M1131 292l 2-8 4 2-2 7z"/><path class="b1k" d="M1124 277l 3-14 4 9-2 9z"/><path class="b3c" d="M1161 281l 3-3 4 1-2 4z"/><path class="by" d="M1128 299l 3-7 4 1-2 7z"/><path class="bq" d="M1235 310l 3-10 4 7-3 9z"/><path class="bh" d="M1220 284l 2 3 5 1-2-5z"/><path class="be" d="M1117 315l 2-5 5 1-3 6z"/><path class="b3f" d="M1127 263l 2 0 4 7-2 2z"/><path class="bx" d="M1126 305l 2-6 5 1-3 6z"/><path class="b1q" d="M1144 283l 2-4 4 1-2 5z"/><path class="b5" d="M1230 322l 3-5 4 4-2 4z"/><path class="bc" d="M975 325l 2-3 4 0-2 4z"/><path class="bn" d="M1137 286l 3-6 4 3-2 6z"/><path class="b1g" d="M998 314l 4 5 4 1-4-8z"/><path class="be" d="M1226 318l 3-11 4 10-3 5z"/><path class="b1q" d="M1155 283l 2-4 4 2-2 4z"/><path class="bl" d="M1247 279l 2-3 5-12-2 5z"/><path class="b7" d="M988 316l 3 2 4-2-4-5z"/><path class="b2h" d="M1135 293l 2-7 5 3-3 7z"/><path class="bq" d="M1124 311l 2-6 4 1-2 6z"/><path class="bc" d="M1018 325l 3-2 4 2-3 1z"/><path class="b2e" d="M1235 325l 2-4 4 3-2 3z"/><path class="bu" d="M1205 278l 2 2 5 1-2-7z"/><path class="b1q" d="M1166 283l 2-4 4 2-2 4z"/><path class="b5" d="M1108 323l 2-4 5 1-3 5z"/><path class="b19" d="M1118 193l 4 52 4 4-3-49z"/><path class="b8" d="M1115 320l 2-5 4 2-2 5z"/><path class="b3" d="M981 322l 3-3 4-3-3 4z"/><path class="by" d="M1133 300l 2-7 4 3-2 6z"/><path class="b1q" d="M1148 285l 2-5 5 3-3 5z"/><path class="bn" d="M1142 289l 2-6 4 2-2 7z"/><path class="b11" d="M1101 246l 3 2 3-10-2-5z"/><path class="b2e" d="M1101 326l 3-4 4 1-2 4z"/><path class="b15" d="M1125 253l 2-16 4 17-2 9z"/><path class="be" d="M1121 317l 3-6 4 1-3 6z"/><path class="b1q" d="M1159 285l 2-4 5 2-3 5z"/><path class="b1b" d="M1179 267l 3-3 4-19-2-2z"/><path class="bv" d="M1130 306l 3-6 4 2-3 6z"/><path class="b18" d="M1197 269l 2 4 4 0-2-10z"/><path class="bm" d="M1139 296l 3-7 4 3-3 6z"/><path class="b5" d="M1224 323l 2-5 4 4-2 4z"/><path class="bv" d="M1229 307l 2-15 4 18-2 7z"/><path class="b7" d="M1220 320l 2-8 4 6-2 5z"/><path class="b16" d="M1239 327l 2-3 5 2-2 3z"/><path class="br" d="M1146 292l 2-7 4 3-2 6z"/><path class="bn" d="M1152 288l 3-5 4 2-2 6z"/><path class="by" d="M1238 300l 2-9 4 5-2 11z"/><path class="b2" d="M1095 328l 2-3 4 1-2 3z"/><path class="b27" d="M1120 271l 2-21 5 13-3 14z"/><path class="by" d="M1137 302l 2-6 4 2-2 6z"/><path class="b1q" d="M1170 285l 2-4 5 1-3 6z"/><path class="bq" d="M1128 312l 2-6 4 2-2 6z"/><path class="b1u" d="M1172 281l 3-4 4-5-2 10z"/><path class="bn" d="M1163 288l 3-5 4 2-2 6z"/><path class="b1t" d="M1121 242l 2-42 4 19-2 32z"/><path class="b2e" d="M1228 326l 2-4 5 3-2 3z"/><path class="b1a" d="M1022 326l 3-1 4 2-3 0z"/><path class="bm" d="M1143 298l 3-6 4 2-2 7z"/><path class="bn" d="M1157 291l 2-6 4 3-2 6zM1174 288l 3-6 4 3-2 7z"/><path class="b2h" d="M1150 294l 2-6 5 3-3 6z"/><path class="bv" d="M1134 308l 3-6 4 2-2 6z"/><path class="b5" d="M1112 325l 3-5 4 2-3 4z"/><path class="b8" d="M1119 322l 2-5 4 1-2 5z"/><path class="bn" d="M1168 291l 2-6 4 3-2 6z"/><path class="b8" d="M1213 321l 2-6 5 5-3 5z"/><path class="bp" d="M1238 276l 2 2 4 3-2 4z"/><path class="bq" d="M1215 315l 3-12 4 9-2 8z"/><path class="bx" d="M1141 304l 2-6 5 3-3 6z"/><path class="bl" d="M1244 281l 3-2 5-10-3 6z"/><path class="b2h" d="M1172 294l 2-6 5 4-3 6z"/><path class="b2e" d="M1106 327l 2-4 4 2-2 3z"/><path class="be" d="M1125 318l 3-6 4 2-2 6z"/><path class="b11" d="M1122 222l 3 29 5 8-3-22z"/><path class="b2h" d="M1161 294l 2-6 5 3-3 6z"/><path class="b5" d="M1217 325l 3-5 4 3-2 4z"/><path class="be" d="M1209 318l 2-10 4 7-2 6z"/><path class="b5" d="M979 326l 2-4 4-2-2 7z"/><path class="by" d="M1148 301l 2-7 4 3-2 6z"/><path class="b1i" d="M1116 273l 2-30 4 7-2 21z"/><path class="bm" d="M1154 297l 3-6 4 3-2 6z"/><path class="b7" d="M1002 312l 4 8 4 1-4-9z"/><path class="b1b" d="M1188 261l 2 5 5-5-2-15z"/><path class="b1k" d="M1177 282l 2-10 4 3-2 10z"/><path class="bf" d="M1132 314l 2-6 5 2-3 6z"/><path class="by" d="M1181 301l 2-6 4 4-2 6z"/><path class="ba" d="M1233 328l 2-3 4 2-2 3z"/><path class="bv" d="M1222 312l 3-14 4 9-3 11z"/><path class="bm" d="M1176 298l 3-6 4 3-2 6z"/><path class="b1u" d="M1210 274l 2 7 4 5-2-4z"/><path class="bm" d="M1165 297l 3-6 4 3-2 6z"/><path class="bv" d="M1139 310l 2-6 4 3-2 6zM1189 309l 3-8 4 5-2 6z"/><path class="bf" d="M1198 316l 2-7 4 5-2 6z"/><path class="by" d="M1170 300l 2-6 4 4-2 6zM1159 300l 2-6 4 3-2 6z"/><path class="bx" d="M1145 307l 3-6 4 2-2 6z"/><path class="b16" d="M1099 329l 2-3 5 1-3 3z"/><path class="bu" d="M1214 282l 2 4 4-2-1-8z"/><path class="be" d="M1202 320l 2-6 5 4-3 5z"/><path class="b2e" d="M1222 327l 2-4 4 3-2 4z"/><path class="by" d="M1152 303l 2-6 5 3-3 6z"/><path class="bs" d="M1201 263l 2 10 4 7-2-2z"/><path class="br" d="M1183 295l 2-12 5 7-3 9z"/><path class="by" d="M1174 304l 2-6 5 3-3 6z"/><path class="bx" d="M1185 305l 2-6 5 2-3 8z"/><path class="bq" d="M1194 312l 2-6 4 3-2 7z"/><path class="b18" d="M1175 277l 2-5 4-16-2 16z"/><path class="b8" d="M1206 323l 3-5 4 3-2 5z"/><path class="bq" d="M1204 314l 3-10 4 4-2 10z"/><path class="b1d" d="M1225 283l 2 5 4-4-2-3z"/><path class="bn" d="M1240 291l 2-6 5 0-3 11z"/><path class="bx" d="M1178 307l 3-6 4 4-2 6z"/><path class="bu" d="M1231 284l 2 3 5-11-2-2z"/><path class="by" d="M1163 303l 2-6 5 3-3 6z"/><path class="b1a" d="M1026 327l 3 0 4 1-3 0z"/><path class="b1i" d="M1122 250l 3 3 4 10-2 0z"/><path class="b8" d="M1123 323l 2-5 5 2-3 5z"/><path class="b5" d="M1116 326l 3-4 4 1-2 5z"/><path class="be" d="M1130 320l 2-6 4 2-2 6z"/><path class="bv" d="M1183 311l 2-6 4 4-2 5z"/><path class="bf" d="M1136 316l 3-6 4 3-2 6z"/><path class="bx" d="M1156 306l 3-6 4 3-2 6z"/><path class="bo" d="M1242 285l 2-4 5-6-2 10z"/><path class="bf" d="M1187 314l 2-5 5 3-3 6z"/><path class="bq" d="M1143 313l 2-6 5 2-3 6z"/><path class="bx" d="M1200 309l 3-15 4 10-3 10z"/><path class="bv" d="M1150 309l 2-6 4 3-2 6z"/><path class="bx" d="M1167 306l 3-6 4 4-2 6z"/><path class="b5" d="M1211 326l 2-5 4 4-2 3z"/><path class="bn" d="M1179 292l 2-7 4-2-2 12z"/><path class="be" d="M1191 318l 3-6 4 4-2 5z"/><path class="b2e" d="M1110 328l 2-3 4 1-2 4z"/><path class="bv" d="M1172 310l 2-6 4 3-2 6z"/><path class="ba" d="M1226 330l 2-4 5 2-3 4z"/><path class="bm" d="M1192 301l 2-16 4 11-2 10z"/><path class="bj" d="M1196 321l 2-5 4 4-2 4z"/><path class="bv" d="M1161 309l 2-6 4 3-2 6z"/><path class="b17" d="M1184 243l 2 2 4 21-2-5z"/><path class="bz" d="M1177 272l 2-5 5-24-3 13z"/><path class="b15" d="M1112 266l 1-36 5 13-2 30z"/><path class="bq" d="M1176 313l 2-6 5 4-3 5zM1154 312l 2-6 5 3-3 6zM1147 315l 3-6 4 3-2 6z"/><path class="b2e" d="M1215 328l 2-3 5 2-3 4z"/><path class="b8" d="M1200 324l 2-4 4 3-2 4z"/><path class="bf" d="M1141 319l 2-6 4 2-2 6z"/><path class="bq" d="M1165 312l 2-6 5 4-3 5z"/><path class="b16" d="M1103 330l 3-3 4 1-3 4z"/><path class="bf" d="M1180 316l 3-5 4 3-2 5z"/><path class="b27" d="M1179 272l 2-16 5 9-3 10z"/><path class="be" d="M1134 322l 2-6 5 3-3 5z"/><path class="b2p" d="M1103 266l 2-33 4-7-2 38z"/><path class="b7" d="M1006 312l 4 9 4 2-4-10z"/><path class="b8" d="M1127 325l 3-5 4 2-2 5z"/><path class="br" d="M1231 292l 3-13 4 21-3 10z"/><path class="by" d="M1211 308l 3-17 4 12-3 12z"/><path class="be" d="M1185 319l 2-5 4 4-2 5z"/><path class="b5" d="M1121 328l 2-5 4 2-2 4z"/><path class="bq" d="M1158 315l 3-6 4 3-2 6zM1169 315l 3-5 4 3-2 5z"/><path class="b5" d="M1204 327l 2-4 5 3-2 4z"/><path class="bb" d="M991 311l 4 5 3-2-4-12z"/><path class="b2t" d="M1113 241l 1-40 4-8-1 45z"/><path class="bf" d="M1152 318l 2-6 4 3-2 6z"/><path class="b1" d="M1030 328l 3 0 4 2-3-2z"/><path class="b2x" d="M1104 248l 1-25 4-17-2 32z"/><path class="b7" d="M1189 323l 2-5 5 3-3 5z"/><path class="b16" d="M1230 332l 3-4 4 2-2 3z"/><path class="bf" d="M1174 318l 2-5 4 3-2 5z"/><path class="b2e" d="M1114 330l 2-4 5 2-3 4z"/><path class="by" d="M1196 306l 2-10 5-2-3 15z"/><path class="be" d="M1145 321l 2-6 5 3-3 5z"/><path class="b2" d="M1219 331l 3-4 4 3-2 3z"/><path class="b6" d="M985 320l 3-4 3-5-3 4z"/><path class="bf" d="M1163 318l 2-6 4 3-2 6z"/><path class="b38" d="M1120 248l 2-26 5 15-2 16z"/><path class="b7" d="M1138 324l 3-5 4 2-2 5z"/><path class="br" d="M1187 299l 3-9 4-5-2 16z"/><path class="b8" d="M1193 326l 3-5 4 3-2 4z"/><path class="be" d="M1178 321l 2-5 5 3-3 5z"/><path class="b2e" d="M1209 330l 2-4 4 2-2 4z"/><path class="b8" d="M1132 327l 2-5 4 2-2 5z"/><path class="be" d="M1156 321l 2-6 5 3-3 5z"/><path class="bm" d="M1218 303l 3-16 4 11-3 14z"/><path class="be" d="M1167 321l 2-6 5 3-3 6z"/><path class="b16" d="M1107 332l 3-4 4 2-2 4z"/><path class="b1j" d="M1193 246l 2 15 4 12-2-4z"/><path class="b7" d="M1010 313l 4 10 4 2-4-10z"/><path class="b1k" d="M1236 274l 2 2 4 9-2 6z"/><path class="b15" d="M1181 256l 3-13 4 18-2 4z"/><path class="b2y" d="M1117 238l 1-45 5 7-2 42z"/><path class="be" d="M1149 323l 3-5 4 3-2 5z"/><path class="b7" d="M1182 324l 3-5 4 4-2 4z"/><path class="b1c" d="M1109 206l 4 35 4-3-4-39z"/><path class="b5" d="M1125 329l 2-4 5 2-3 4zM1198 328l 2-4 4 3-2 4z"/><path class="b2p" d="M1118 243l 2 5 5 5-3-3z"/><path class="b8" d="M983 327l 2-7 3-5-1 11z"/><path class="b1v" d="M1185 283l 3-21 4 15-2 13z"/><path class="bj" d="M1171 324l 3-6 4 3-2 5z"/><path class="be" d="M1160 323l 3-5 4 3-2 5z"/><path class="b16" d="M1224 333l 2-3 4 2-2 3z"/><path class="b8" d="M1143 326l 2-5 4 2-2 5z"/><path class="b1l" d="M1107 264l 2-38 4 4-1 36z"/><path class="b2" d="M1213 332l 2-4 4 3-2 3z"/><path class="b2e" d="M1118 332l 3-4 4 1-2 4z"/><path class="b8" d="M1187 327l 2-4 4 3-2 4z"/><path class="b1" d="M1034 328l 3 2 5 1-3-1z"/><path class="b8" d="M1136 329l 2-5 5 2-3 5z"/><path class="b7" d="M1154 326l 2-5 4 2-2 5z"/><path class="b2e" d="M1202 331l 2-4 5 3-3 3z"/><path class="b8" d="M1176 326l 2-5 4 3-2 5z"/><path class="b2h" d="M1207 304l 2-14 5 1-3 17z"/><path class="b7" d="M1165 326l 2-5 4 3-2 4z"/><path class="bp" d="M1234 279l 2-5 4 17-2 9z"/><path class="br" d="M1225 298l 2-13 4 7-2 15z"/><path class="b19" d="M1118 204l 3 38 4 9-3-29z"/><path class="b7" d="M1014 315l 4 10 4 1-4-10z"/><path class="b2e" d="M1129 331l 3-4 4 2-2 4z"/><path class="b5" d="M1191 330l 2-4 5 2-3 4z"/><path class="b16" d="M1112 334l 2-4 4 2-2 3z"/><path class="b8" d="M1147 328l 2-5 5 3-3 4zM1180 329l 2-5 5 3-3 5z"/><path class="b16" d="M1217 334l 2-3 5 2-2 3z"/><path class="b8" d="M1158 328l 2-5 5 3-3 4zM1169 328l 2-4 5 2-3 5z"/><path class="bl" d="M1219 276l 1 8 5-1-2-4z"/><path class="b5" d="M1140 331l 3-5 4 2-2 5z"/><path class="b2" d="M1206 333l 3-3 4 2-2 3z"/><path class="bt" d="M1203 276l 2 2 5-4-2-11z"/><path class="b2e" d="M1123 333l 2-4 4 2-2 4z"/><path class="bs" d="M1181 285l 2-10 5-13-3 21z"/><path class="b2e" d="M1195 332l 3-4 4 3-2 4z"/><path class="b19" d="M1105 233l 2 5 5-4-3-8z"/><path class="b1" d="M1039 330l 3 1 4 2-3-1z"/><path class="b8" d="M1151 330l 3-4 4 2-2 5z"/><path class="bp" d="M1203 294l 2-22 4 18-2 14z"/><path class="b5" d="M1184 332l 3-5 4 3-2 4z"/><path class="b2e" d="M1134 333l 2-4 4 2-2 4z"/><path class="b8" d="M1162 330l 3-4 4 2-2 5zM1173 331l 3-5 4 3-2 4z"/><path class="b1b" d="M1194 268l 3 1 4-6-2-11z"/><path class="b1v" d="M1194 285l 3-24 4 21-3 14z"/><path class="b16" d="M1116 335l 2-3 5 1-3 4zM1211 335l 2-3 4 2-2 3z"/><path class="b2e" d="M1145 333l 2-5 4 2-2 5z"/><path class="bl" d="M1229 281l 2 3 5-10-2 5z"/><path class="b2" d="M1200 335l 2-4 4 2-2 4z"/><path class="b6" d="M1018 316l 4 10 4 1-4-15z"/><path class="b1s" d="M1113 230l 3 7 4 11-2-5z"/><path class="b2" d="M1127 335l 2-4 5 2-3 4z"/><path class="b2e" d="M1189 334l 2-4 4 2-2 4z"/><path class="b5" d="M1156 333l 2-5 4 2-2 5z"/><path class="b1c" d="M1113 199l 4 39 4 4-3-38z"/><path class="b2e" d="M1178 333l 2-4 4 3-2 3z"/><path class="b5" d="M1167 333l 2-5 4 3-2 4z"/><path class="b1a" d="M1043 332l 3 1 4 1-3 0z"/><path class="bs" d="M1223 279l 2 4 4-2-2 4z"/><path class="b2e" d="M1138 335l 2-4 5 2-3 4zM1149 335l 2-5 5 3-3 4z"/><path class="b16" d="M1120 337l 3-4 4 2-3 3zM1204 337l 2-4 5 2-3 4z"/><path class="bp" d="M1221 287l 2-8 4 6-2 13z"/><path class="b2" d="M1193 336l 2-4 5 3-3 3z"/><path class="b2e" d="M1160 335l 2-5 5 3-3 4z"/><path class="b11" d="M1186 265l 2-4 5-15-3-3z"/><path class="b2e" d="M1182 335l 2-3 5 2-3 4z"/><path class="bp" d="M1214 291l 2-16 5 12-3 16z"/><path class="b2e" d="M1171 335l 2-4 5 2-3 4z"/><path class="ba" d="M1131 337l 3-4 4 2-3 3z"/><path class="bi" d="M994 302l 4 12 4-2-5-18z"/><path class="b2m" d="M1116 237l 2-33 4 18-2 26z"/><path class="b18" d="M1212 280l 2 2 5-6-3-1z"/><path class="b1k" d="M1227 285l 2-4 5-2-3 13z"/><path class="b1u" d="M1198 296l 3-14 4-10-2 22z"/><path class="b1a" d="M1047 334l 3 0 4 2-3-1z"/><path class="b2e" d="M1142 337l 3-4 4 2-3 3z"/><path class="bf" d="M987 326l 1-11 4-7-2 17z"/><path class="b15" d="M1188 262l 2-19 4 25-2 9z"/><path class="b2e" d="M1153 337l 3-4 4 2-2 3z"/><path class="b19" d="M1109 226l 3 8 4 3-3-7z"/><path class="b2v" d="M1190 290l 2-13 5-16-3 24z"/><path class="b1j" d="M1199 252l 2 11 4 15-2-2z"/><path class="b10" d="M1208 263l 2 11 4 8-2-2z"/><path class="b2e" d="M1164 337l 3-4 4 2-2 4z"/><path class="b16" d="M1197 338l 3-3 4 2-2 3zM1124 338l 3-3 4 2-2 3z"/><path class="ba" d="M1186 338l 3-4 4 2-2 4z"/><path class="b2e" d="M1175 337l 3-4 4 2-2 4z"/><path class="bi" d="M988 315l 3-4 3-9-2 6z"/><path class="ba" d="M1135 338l 3-3 4 2-2 3z"/><path class="bs" d="M1209 290l 3-10 4-5-2 16z"/><path class="b14" d="M1190 243l 3 3 4 23-3-1z"/><path class="ba" d="M1146 338l 3-3 4 2-2 3z"/><path class="b1" d="M1051 335l 3 1 4 1-3-1z"/><path class="b12" d="M1183 275l 3-10 4-22-2 19z"/><path class="b2" d="M1158 338l 2-3 4 2-2 3z"/><path class="b9" d="M1022 312l 4 15 4 1-4-22z"/><path class="b2" d="M1169 339l 2-4 4 2-2 4z"/><path class="b1y" d="M1107 238l 2-32 4-7-1 35z"/><path class="ba" d="M1180 339l 2-4 4 3-2 3z"/><path class="b16" d="M1191 340l 2-4 4 2-2 3zM1129 340l 2-3 4 1-2 4zM1140 340l 2-3 4 1-2 4z"/><path class="b2w" d="M1216 275l 3 1 4 3-2 8z"/><path class="b16" d="M1151 340l 2-3 5 1-3 4z"/><path class="bz" d="M1201 282l 2-6 5-13-3 9z"/><path class="b16" d="M1162 340l 2-3 5 2-3 3z"/><path class="b1i" d="M1197 261l 2-9 4 24-2 6z"/><path class="b16" d="M1173 341l 2-4 5 2-3 3z"/><path class="b27" d="M1205 272l 3-9 4 17-3 10z"/><path class="b12" d="M1192 277l 2-9 5-16-2 9z"/><path class="b16" d="M1184 341l 2-3 5 2-3 3z"/><path class="b1" d="M1055 336l 3 1 4 2-2-2z"/><path class="b16" d="M1144 342l 2-4 5 2-3 3z"/><path class="b1x" d="M1112 234l 1-35 5 5-2 33z"/><path class="b16" d="M1155 342l 3-4 4 2-3 4zM1166 342l 3-3 4 2-2 3zM1177 342l 3-3 4 2-2 3z"/><path class="b3" d="M1060 337l 2 2 5 1-3-2z"/><path class="bh" d="M997 294l 5 18 4 0-5-22z"/><path class="bx" d="M990 325l 2-17 3-8-1 24z"/><path class="b1m" d="M1026 306l 4 22 4 0-5-26z"/><path class="b3" d="M1064 338l 3 2 4 2-3-2zM1068 340l 3 2 4 2-3-3z"/><path class="b1d" d="M1001 290l 5 22 4 1-5-21zM992 308l 2-6 3-8-2 6z"/><path class="b3e" d="M994 324l 1-24 4-3-1 27z"/><path class="bi" d="M1029 302l 5 26 5 2-5-27z"/><path class="b1d" d="M1005 292l 5 21 4 2-4-20z"/><path class="b3" d="M1072 341l 3 3 4 1-2-2z"/><path class="b1d" d="M1010 295l 4 20 4 1-5-23z"/><path class="bi" d="M1034 303l 5 27 4 2-5-25z"/><path class="b3" d="M1077 343l 2 2 5 2-3-2z"/><path class="br" d="M998 324l 1-27 4 1-1 28z"/><path class="b1m" d="M1038 307l 5 25 4 2-4-23zM1043 311l 4 23 4 1-4-23z"/><path class="br" d="M1002 326l 1-28 4 4-1 26z"/><path class="b1" d="M1081 345l 3 2 4 1-3-1z"/><path class="b1a" d="M1085 347l 3 1 4 2-3-1z"/><path class="b1m" d="M1047 312l 4 23 4 1-4-26z"/><path class="br" d="M1006 328l 1-26 4-2 0 29z"/><path class="bs" d="M995 300l 2-6 4-4-2 7z"/><path class="bl" d="M1013 293l 5 23 4-4-6-31z"/><path class="b1a" d="M1089 349l 3 1 4 2-2-1zM1094 351l 2 1 5 1-3 0z"/><path class="bi" d="M1051 310l 4 26 5 1-5-30z"/><path class="b2w" d="M999 297l 2-7 4 2-2 6z"/><path class="b1a" d="M1098 353l 3 0 4 2-3-1z"/><path class="b2w" d="M1003 298l 2-6 5 3-3 7z"/><path class="b1" d="M1102 354l 3 1 4 1-2 0z"/><path class="bk" d="M1055 307l 5 30 4 1-5-34z"/><path class="bo" d="M1011 329l 0-29 3-10 0 37z"/><path class="b10" d="M1007 302l 3-7 3-2-2 7z"/><path class="b1" d="M1107 356l 2 0 5 2-3-1z"/><path class="b1a" d="M1111 357l 3 1 4 2-2 0z"/><path class="bh" d="M1059 304l 5 34 4 2-5-37z"/><path class="b1b" d="M1016 281l 6 31 4-6-7-45z"/><path class="b1a" d="M1116 360l 2 0 4 1-2 1z"/><path class="bc" d="M1120 362l 2-1 5 2-3 1z"/><path class="bh" d="M1063 303l 5 37 4 1-5-37z"/><path class="bc" d="M1124 364l 3-1 4 2-2 1z"/><path class="bh" d="M1067 304l 5 37 5 2-5-35z"/><path class="b1m" d="M1086 327l 3 22 5 2-4-20z"/><path class="bg" d="M1081 321l 4 26 4 2-3-22z"/><path class="b1b" d="M1011 300l 2-7 3-12-2 9z"/><path class="bd" d="M1076 314l 5 31 4 2-4-26z"/><path class="bk" d="M1072 308l 5 35 4 2-5-31z"/><path class="bc" d="M1129 366l 2-1 5 1-3 2z"/><path class="b9" d="M1090 331l 4 20 4 2-3-21z"/><path class="b10" d="M1014 327l 0-37 3-18 1 51z"/><path class="bc" d="M1133 368l 3-2 4 2-2 1z"/><path class="b1m" d="M1095 332l 3 21 4 1-3-23z"/><path class="bc" d="M1138 369l 2-1 4 2-2 1z"/><path class="b1m" d="M1099 331l 3 23 5 2-4-26z"/><path class="bc" d="M1142 371l 2-1 5 1-3 1z"/><path class="b1r" d="M1019 261l 7 45 3-4-7-56z"/><path class="b7" d="M1121 355l 3 9 5 2-3-8z"/><path class="bc" d="M1146 372l 3-1 4 2-2 2z"/><path class="b6" d="M1117 348l 3 14 4 2-3-9z"/><path class="bg" d="M1103 330l 4 26 4 1-3-24z"/><path class="b7" d="M1126 358l 3 8 4 2-3-9z"/><path class="bb" d="M1112 339l 4 21 4 2-3-14z"/><path class="b2" d="M1151 375l 2-2 5 2-3 2z"/><path class="b1m" d="M1108 333l 3 24 5 3-4-21z"/><path class="b17" d="M1018 323l-1-51 3-13 2 61z"/><path class="b16" d="M1155 377l 3-2 4 1-2 3z"/><path class="b6" d="M1130 359l 3 9 5 1-3-12z"/><path class="b15" d="M1031 325l-2-58 5 9 1 52z"/><path class="b11" d="M1036 264l 7 47 4 1-7-47z"/><path class="b2o" d="M1014 290l 2-9 3-20-2 11z"/><path class="b6" d="M1135 357l 3 12 4 2-3-13z"/><path class="b11" d="M1031 255l 7 52 5 4-7-47z"/><path class="b1l" d="M1026 321l-2-63 5 9 2 58z"/><path class="b13" d="M1035 328l-1-52 4 0 1 53z"/><path class="b19" d="M1022 246l 7 56 5 1-8-58z"/><path class="b1f" d="M1022 320l-2-61 4-1 2 63z"/><path class="b6" d="M1139 358l 3 13 4 1-2-11z"/><path class="b2o" d="M1026 245l 8 58 4 4-7-52z"/><path class="b4" d="M1153 374l 2 3 5 2-3 0z"/><path class="b1r" d="M1040 265l 7 47 4-2-7-54z"/><path class="b1g" d="M1148 367l 3 8 4 2-2-3z"/><path class="b7" d="M1144 361l 2 11 5 3-3-8z"/><path class="bc" d="M1157 379l 3 0 4 2-2 2z"/><path class="b2" d="M1162 383l 2-2 5 2-3 3z"/><path class="b17" d="M1039 329l-1-53 4-7 1 59z"/><path class="b5" d="M1159 383l 3 0 4 3-2 2z"/><path class="b2" d="M1164 388l 2-2 5 2-2 3z"/><path class="b8" d="M1155 376l 2 3 5 4-3 0z"/><path class="bh" d="M1118 334l 3 21 5 3-3-18z"/><path class="b1h" d="M1044 256l 7 54 4-3-7-64z"/><path class="bh" d="M1123 340l 3 18 4 1-3-21z"/><path class="b5" d="M1157 387l 2-4 5 5-2 3z"/><path class="b6" d="M1150 365l 3 9 4 5-2-3z"/><path class="b2" d="M1162 391l 2-3 5 3-3 3z"/><path class="b1f" d="M1043 328l-1-59 4-11 1 69z"/><path class="bm" d="M1114 368l 2-27 4 6-2 24z"/><path class="bj" d="M1152 380l 3-4 4 7-2 4z"/><path class="b8" d="M1150 390l 2-10 5 7-2 6z"/><path class="b1q" d="M1109 363l 2-37 5 15-2 27z"/><path class="b5" d="M1155 393l 2-6 5 4-3 4z"/><path class="b1o" d="M1017 272l 2-11 3-15-2 13z"/><path class="bu" d="M1113 317l 4 31 4 7-3-21z"/><path class="b1d" d="M1127 338l 3 21 5-2-3-25z"/><path class="bf" d="M1145 385l 3-15 4 10-2 10z"/><path class="ba" d="M1159 395l 3-4 4 3-2 3z"/><path class="bm" d="M1118 371l 2-24 5-2-2 27z"/><path class="b1i" d="M1078 344l 0-53 5 8 0 49z"/><path class="b2f" d="M1085 288l 5 43 5 1-5-44z"/><path class="b1m" d="M1146 350l 2 17 5 7-3-9z"/><path class="b2f" d="M1081 279l 5 48 4 4-5-43z"/><path class="bv" d="M1148 370l 2-5 5 11-3 4z"/><path class="b1j" d="M1083 348l 0-49 5 0-1 50z"/><path class="b14" d="M1074 339l-1-61 5 13 0 53z"/><path class="bx" d="M1141 380l 2-23 5 13-3 15z"/><path class="b35" d="M1034 276l 2-12 4 1-2 11z"/><path class="b1w" d="M1029 267l 2-12 5 9-2 12z"/><path class="b2s" d="M1048 243l 7 64 4-3-8-72z"/><path class="b11" d="M1090 288l 5 44 4-1-5-49z"/><path class="b2w" d="M1105 356l 1-49 5 19-2 37z"/><path class="b2x" d="M1047 327l-1-69 3-10 2 77z"/><path class="b1v" d="M1116 341l 2-7 5 6-3 7z"/><path class="bl" d="M1132 332l 3 25 4 1-3-27z"/><path class="bk" d="M1123 372l 2-27 4-5-2 32z"/><path class="b1r" d="M1075 265l 6 56 5 6-5-48z"/><path class="bh" d="M1141 337l 3 24 4 6-2-17z"/><path class="b2r" d="M1069 334l-1-71 5 15 1 61z"/><path class="b13" d="M1087 349l 1-50 4-5-1 55z"/><path class="bs" d="M1120 347l 3-7 4-2-2 7z"/><path class="b2h" d="M1136 375l 2-30 5 12-2 23z"/><path class="bz" d="M1108 297l 4 42 5 9-4-31z"/><path class="b3g" d="M1024 258l 2-13 5 10-2 12z"/><path class="bu" d="M1136 331l 3 27 5 3-3-24z"/><path class="b3h" d="M1020 259l 2-13 4-1-2 13z"/><path class="bn" d="M1143 357l 3-7 4 15-2 5z"/><path class="b2l" d="M1127 372l 2-32 5-1-2 33z"/><path class="b1o" d="M1038 276l 2-11 4-9-2 13z"/><path class="b1q" d="M1132 372l 2-33 4 6-2 30z"/><path class="b1r" d="M1094 282l 5 49 4-1-5-53z"/><path class="b1e" d="M1051 325l-2-77 4-5 3 82z"/><path class="b1i" d="M1100 351l 1-58 5 14-1 49z"/><path class="b1p" d="M1111 326l 2-9 5 17-2 7z"/><path class="b1t" d="M1064 329l-1-78 5 12 1 71z"/><path class="b1h" d="M1070 248l 6 66 5 7-6-56z"/><path class="b32" d="M1051 232l 8 72 4-1-8-77z"/><path class="b17" d="M1091 349l 1-55 4-4 0 59z"/><path class="b11" d="M1103 281l 5 52 4 6-4-42z"/><path class="bt" d="M1125 345l 2-7 5-6-3 8z"/><path class="b2m" d="M1060 326l-2-83 5 8 1 78z"/><path class="b2t" d="M1056 325l-3-82 5 0 2 83z"/><path class="b14" d="M1096 349l 0-59 5 3-1 58z"/><path class="b1r" d="M1098 277l 5 53 5 3-5-52z"/><path class="b2s" d="M1065 235l 7 73 4 6-6-66z"/><path class="b1v" d="M1138 345l 3-8 5 13-3 7z"/><path class="b34" d="M1055 226l 8 77 4 1-7-77z"/><path class="b32" d="M1060 227l 7 77 5 4-7-73z"/><path class="b1j" d="M1129 340l 3-8 4-1-2 8z"/><path class="b2m" d="M1083 299l 2-11 5 0-2 11z"/><path class="b2y" d="M1078 291l 3-12 4 9-2 11z"/><path class="b1p" d="M1134 339l 2-8 5 6-3 8z"/><path class="b20" d="M1042 269l 2-13 4-13-2 15z"/><path class="b38" d="M1106 307l 2-10 5 20-2 9z"/><path class="b23" d="M1088 299l 2-11 4-6-2 12z"/><path class="b31" d="M1073 278l 2-13 6 14-3 12z"/><path class="b35" d="M1101 293l 2-12 5 16-2 10z"/><path class="b3i" d="M1046 258l 2-15 3-11-2 16z"/><path class="b1w" d="M1092 294l 2-12 4-5-2 13z"/><path class="b24" d="M1068 263l 2-15 5 17-2 13z"/><path class="b31" d="M1096 290l 2-13 5 4-2 12z"/><path class="b3j" d="M1063 251l 2-16 5 13-2 15z"/><path class="b3k" d="M1049 248l 2-16 4-6-2 17zM1058 243l 2-16 5 8-2 16zM1053 243l 2-17 5 1-2 16z"/></g><path d="M438.9 90.6L632.3 156.9" stroke="#a8a8a8" stroke-width="0.9" fill="none"/><path d="M632.3 156.9L714.3 45.5" stroke="#a8a8a8" stroke-width="0.9" fill="none"/><path d="M438.9 90.6L449.1 154.9" stroke="#a8a8a8" stroke-width="0.9" fill="none"/><path d="M632.3 156.9L628.2 223.9" stroke="#a8a8a8" stroke-width="0.9" fill="none"/><path d="M714.3 45.5L705.6 107.1" stroke="#a8a8a8" stroke-width="0.9" fill="none"/><path d="M449.1 154.9L628.2 223.9" stroke="#a8a8a8" stroke-width="0.9" fill="none"/><path d="M628.2 223.9L705.6 107.1" stroke="#a8a8a8" stroke-width="0.9" fill="none"/><path d="M452.1 156.1L455.6 152.8M630.0 221.1L624.3 218.9M467.7 162.1L469.8 160.1M638.9 207.7L635.5 206.5M483.6 168.2L485.6 166.1M647.4 194.9L644.1 193.7M499.8 174.4L501.8 172.3M655.6 182.6L652.3 181.4M516.4 180.8L518.4 178.7M663.4 170.8L660.2 169.7M533.4 187.4L536.6 183.7M671.0 159.5L665.6 157.7M550.8 194.1L552.6 191.8M678.2 148.6L675.0 147.5M568.5 200.9L570.3 198.6M685.1 138.1L682.0 137.1M586.7 207.9L588.5 205.6M691.8 128.0L688.7 127.1M605.3 215.1L607.0 212.7M698.2 118.3L695.2 117.4M624.3 222.4L627.1 218.3M704.4 109.0L699.5 107.5M448.5 151.0L452.0 147.8M447.6 145.3L449.7 143.4M446.6 139.6L448.8 137.6M445.7 133.8L447.9 131.8M444.8 127.9L448.4 124.7M443.8 121.9L446.0 119.9M442.9 115.8L445.1 113.9M441.9 109.6L444.1 107.7M440.9 103.4L444.7 100.2M439.9 97.1L442.2 95.2" stroke="#777" stroke-width="0.8" fill="none"/>
<path d="M182.3 2.1L73.1 90.6" stroke="#a8a8a8" stroke-width="0.9" fill="none"/><path d="M182.3 2.1L348.5 45.5" stroke="#a8a8a8" stroke-width="0.9" fill="none"/><path d="M182.3 2.1L184.2 60.7" stroke="#a8a8a8" stroke-width="0.9" fill="none"/><path d="M184.2 60.7L83.3 154.9" stroke="#a8a8a8" stroke-width="0.9" fill="none"/><path d="M184.2 60.7L339.8 107.1" stroke="#a8a8a8" stroke-width="0.9" fill="none"/><polygon points="83.7,121.0 262.4,185.6 339.6,76.3 184.4,32.8" fill="#8dc"/><g stroke-width=".8" transform="scale(.5)"><path class="a0" d="M410 79l 2-2 3 0-2 2z"/><path class="a1" d="M413 79l 2-2 4 0-2 2z"/><path class="a0" d="M408 81l 2-2 3 0-2 2z"/><path class="a2" d="M417 79l 2-2 4 1-2 1z"/><path class="a1" d="M411 81l 2-2 4 0-2 2z"/><path class="a3" d="M406 83l 2-2 3 0-2 2z"/><path class="a4" d="M421 79l 2-1 3 2-2 1z"/><path class="a5" d="M424 81l 2-1 4 3-2 2z"/><path class="a6" d="M415 81l 2-2 4 0-2 2z"/><path class="a4" d="M409 83l 2-2 4 0-2 3zM419 81l 2-2 3 2-2 3z"/><path class="a5" d="M422 84l 2-3 4 4-2 2z"/><path class="a7" d="M413 84l 2-3 4 0-3 3z"/><path class="a8" d="M407 86l 2-3 4 1-2 3z"/><path class="a4" d="M416 84l 3-3 3 3-2 2z"/><path class="a5" d="M420 86l 2-2 4 3-2 1z"/><path class="a9" d="M411 87l 2-3 3 0-2 3zM414 87l 2-3 4 2-2 3z"/><path class="aa" d="M443 89l 2-2 3-2-2 2z"/><path class="a8" d="M418 89l 2-3 4 2-2 2z"/><path class="aa" d="M441 91l 2-2 3-2-2 2z"/><path class="a1" d="M439 93l 2-2 3-2-2 3z"/><path class="ab" d="M446 87l 2-2 4-12-2-2z"/><path class="ac" d="M437 95l 2-2 3-1-2 3z"/><path class="ab" d="M444 89l 2-2 4-16-2 4z"/><path class="ad" d="M442 92l 2-3 4-14-2 8z"/><path class="ae" d="M440 95l 2-3 4-9-2 8z"/><path class="a1" d="M433 97l 2-1 3 1-2 0z"/><path class="aa" d="M438 97l 2-2 4-4-2 4z"/><path class="af" d="M462 72l 2 2 3 19-2 2z"/><path class="ac" d="M461 98l 2-1 4 1-2 0z"/><path class="a0" d="M427 99l 2-2 4 0-2 2z"/><path class="ac" d="M465 98l 2 0 4 1-2 1z"/><path class="af" d="M460 76l 2-4 3 23-2 2z"/><path class="aa" d="M436 97l 2 0 4-2-2 1z"/><path class="ag" d="M458 84l 2-8 3 21-2 1z"/><path class="ah" d="M450 71l 2 2 4-8-2-6z"/><path class="a1" d="M431 99l 2-2 3 0-2 2z"/><path class="a0" d="M469 100l 2-1 3 1-1 1z"/><path class="ae" d="M442 95l 2-4 4-3-2 5z"/><path class="ai" d="M425 101l 2-2 4 0-2 2z"/><path class="a1" d="M459 97l 2 1 4 0-2 1z"/><path class="aj" d="M444 91l 2-8 4-6-2 11z"/><path class="ag" d="M456 91l 2-7 3 14-2-1z"/><path class="ac" d="M463 99l 2-1 4 2-2 0z"/><path class="ae" d="M440 96l 2-1 4-2-2 2z"/><path class="aa" d="M434 99l 2-2 4-1-2 1z"/><path class="a1" d="M429 101l 2-2 3 0-2 1z"/><path class="af" d="M446 93l 2-5 4-1-2 6z"/><path class="a7" d="M467 100l 2 0 4 1-2 1z"/><path class="a0" d="M423 102l 2-1 4 0-3 2z"/><path class="ak" d="M446 83l 2-8 4-10-2 12z"/><path class="ab" d="M484 100l 2-2 4-17-2-3z"/><path class="ah" d="M448 75l 2-4 4-12-2 6z"/><path class="al" d="M448 88l 2-11 4 0-2 10z"/><path class="ag" d="M454 94l 2-3 3 6-2-1z"/><path class="am" d="M452 87l 2-10 4 7-2 7z"/><path class="a3" d="M471 102l 2-1 3 2-2 1z"/><path class="af" d="M450 93l 2-6 4 4-2 3z"/><path class="an" d="M458 58l 2 6 4 10-2-2z"/><path class="ae" d="M444 95l 2-2 4 0-2 0z"/><path class="ao" d="M457 96l 2 1 4 2-2-1z"/><path class="ae" d="M438 97l 2-1 4-1-2 0z"/><path class="ap" d="M474 104l 2-1 4 1-2 2z"/><path class="ae" d="M432 100l 2-1 4-2-2 1z"/><path class="a1" d="M426 103l 3-2 3-1-2 2z"/><path class="aq" d="M454 59l 2 6 4-1-2-6z"/><path class="a1" d="M461 98l 2 1 4 1-2 0z"/><path class="a0" d="M421 105l 2-3 3 1-2 2z"/><path class="ar" d="M454 77l 2-13 4 12-2 8z"/><path class="a1" d="M465 100l 2 0 4 2-2 1z"/><path class="ad" d="M448 93l 2 0 4 1-2-2z"/><path class="a4" d="M469 103l 2-1 3 2-2 1z"/><path class="as" d="M456 64l 2-6 4 14-2 4z"/><path class="at" d="M450 77l 2-12 4-1-2 13z"/><path class="a1" d="M424 105l 2-2 4-1-2 2z"/><path class="ab" d="M482 102l 2-2 4-22-2 4z"/><path class="a8" d="M472 105l 2-1 4 2-2 1z"/><path class="ae" d="M430 102l 2-2 4-2-2 2z"/><path class="ai" d="M419 107l 2-2 3 0-2 2z"/><path class="ab" d="M442 95l 2 0 4-2-2-2z"/><path class="ad" d="M452 92l 2 2 3 2-2-3zM436 98l 2-1 4-2-2-1z"/><path class="au" d="M504 94l 1 0 4 11-2 2z"/><path class="av" d="M452 65l 2-6 4-1-2 6z"/><path class="ad" d="M455 93l 2 3 4 2-2-2zM480 104l 2-2 4-20-2 10z"/><path class="aw" d="M459 96l 2 2 4 2-2-1z"/><path class="a1" d="M422 107l 2-2 4-1-2 3z"/><path class="ae" d="M478 106l 2-2 4-12-2 9z"/><path class="a1" d="M463 99l 2 1 4 3-2 0z"/><path class="a4" d="M467 103l 2 0 3 2-1 1z"/><path class="a6" d="M417 109l 2-2 3 0-2 2z"/><path class="aa" d="M428 104l 2-2 4-2-2 3zM476 107l 2-1 4-5-2 6z"/><path class="au" d="M502 97l 2-3 3 13-2 2z"/><path class="a4" d="M471 106l 1-1 4 2-2 2z"/><path class="ad" d="M434 100l 2-2 4-4-2 2z"/><path class="ax" d="M446 91l 2 2 4-1-2-6z"/><path class="a4" d="M500 103l 2-6 3 12-2 2z"/><path class="ay" d="M474 109l 2-2 4 0-2 3z"/><path class="a0" d="M420 109l 2-2 4 0-2 3z"/><path class="ao" d="M426 107l 2-3 4-1-2 3z"/><path class="ax" d="M440 94l 2 1 4-4-2-4z"/><path class="a4" d="M498 109l 2-6 3 8-2 2zM478 110l 2-3 4 0-2 4z"/><path class="au" d="M465 103l 2 0 4 3-2 1z"/><path class="a4" d="M469 107l 2-1 3 3-2 1z"/><path class="ao" d="M480 107l 2-6 4-4-2 10z"/><path class="ad" d="M432 103l 2-3 4-4-2 3z"/><path class="ao" d="M461 97l 2 2 4 4-2 0z"/><path class="a3" d="M418 112l 2-3 4 1-2 2z"/><path class="a1" d="M424 110l 2-3 4-1-2 3z"/><path class="a8" d="M472 110l 2-1 4 1-2 2z"/><path class="ae" d="M522 111l 2-2 5-8-2-1z"/><path class="az" d="M450 86l 2 6 3 1-2-7z"/><path class="a4" d="M482 111l 2-4 4 1-2 5z"/><path class="a5" d="M496 113l 2-4 3 4-2 2z"/><path class="a10" d="M476 112l 2-2 4 1-2 3z"/><path class="aj" d="M457 90l 2 6 4 3-2-2z"/><path class="a4" d="M492 110l 2-9 4 8-2 4z"/><path class="ae" d="M430 106l 2-3 4-4-2 5z"/><path class="az" d="M453 86l 2 7 4 3-2-6z"/><path class="ag" d="M484 107l 2-10 4 0-2 11z"/><path class="a4" d="M486 113l 2-5 4 2-2 4z"/><path class="af" d="M494 101l 2-14 4 16-2 6z"/><path class="a4" d="M422 112l 2-2 4-1-2 4z"/><path class="ag" d="M488 108l 2-11 4 4-2 9z"/><path class="ap" d="M416 114l 2-2 4 0-2 3z"/><path class="ax" d="M482 101l 2-9 5-11-3 16z"/><path class="a5" d="M490 114l 2-4 4 3-2 3z"/><path class="a4" d="M467 108l 2-1 3 3-2 2z"/><path class="aq" d="M488 78l 2 3 5-15-2-8z"/><path class="az" d="M438 96l 2-2 4-7-2 1z"/><path class="a4" d="M470 112l 2-2 4 2-2 2z"/><path class="ao" d="M428 109l 2-3 4-2-2 5z"/><path class="au" d="M463 103l 2 0 4 4-2 1z"/><path class="a11" d="M501 67l 1 6 3 21-1 0z"/><path class="ap" d="M474 114l 2-2 4 2-2 2z"/><path class="ae" d="M521 113l 1-2 5-11-2 3z"/><path class="a12" d="M444 87l 2 4 4-5-2-7z"/><path class="a3" d="M420 115l 2-3 4 1-2 3z"/><path class="a13" d="M496 87l 3-15 3 25-2 6z"/><path class="a4" d="M426 113l 2-4 4 0-2 4z"/><path class="a14" d="M459 95l 2 2 4 6-2 0z"/><path class="a4" d="M465 110l 2-2 3 4-2 2z"/><path class="az" d="M436 99l 2-3 4-8-2 5z"/><path class="a4" d="M468 114l 2-2 4 2-2 2z"/><path class="a15" d="M499 72l 2-5 3 27-2 3z"/><path class="ae" d="M519 115l 2-2 4-10-2 7z"/><path class="a4" d="M424 116l 2-3 4 0-2 3z"/><path class="ab" d="M434 104l 2-5 4-6-2 8z"/><path class="ag" d="M461 105l 2-2 4 5-2 2z"/><path class="aw" d="M432 109l 2-5 4-3-3 7z"/><path class="a13" d="M490 97l 3-18 3 8-2 14z"/><path class="a8" d="M472 116l 2-2 4 2-2 2z"/><path class="a16" d="M486 97l 3-16 4-2-3 18z"/><path class="a17" d="M484 92l 2-10 5-18-2 17z"/><path class="au" d="M430 113l 2-4 3-1-2 5z"/><path class="aa" d="M517 117l 2-2 4-5-2 5z"/><path class="a18" d="M455 85l 2 5 4 7-2-2z"/><path class="aq" d="M486 82l 2-4 5-20-2 6z"/><path class="a4" d="M428 116l 2-3 3 0-2 4zM463 112l 2-2 3 4-2 2z"/><path class="a8" d="M422 118l 2-2 4 0-3 3z"/><path class="a4" d="M466 116l 2-2 4 2-2 3z"/><path class="a14" d="M457 96l 2-1 4 8-2 2z"/><path class="ag" d="M459 108l 2-3 4 5-2 2z"/><path class="ah" d="M448 79l 2 7 3 0-1-8z"/><path class="a8" d="M470 119l 2-3 4 2-2 3z"/><path class="ac" d="M515 119l 2-2 4-2-2 5z"/><path class="au" d="M433 113l 2-5 4-1-2 6z"/><path class="a19" d="M435 108l 3-7 3-3-2 9z"/><path class="a9" d="M425 119l 3-3 3 1-2 3z"/><path class="ah" d="M452 78l 1 8 4 4-2-5zM442 88l 2-1 4-8-2 0z"/><path class="a4" d="M431 117l 2-4 4 0-2 5zM461 115l 2-3 3 4-2 3z"/><path class="a14" d="M455 101l 2-5 4 9-2 3z"/><path class="au" d="M457 112l 2-4 4 4-2 3z"/><path class="a4" d="M464 119l 2-3 4 3-2 2z"/><path class="ag" d="M437 113l 2-6 4 1-2 6z"/><path class="a18" d="M438 101l 2-8 4-6-3 11z"/><path class="af" d="M453 107l 2-6 4 7-2 4z"/><path class="a4" d="M429 120l 2-3 4 1-2 3zM435 118l 2-5 4 1-2 4z"/><path class="af" d="M543 93l 2 3 3 20-2 2z"/><path class="a1a" d="M527 100l 2 1 5-20-2-6z"/><path class="a14" d="M439 107l 2-9 4 0-2 10z"/><path class="ag" d="M441 114l 2-6 4 2-2 5z"/><path class="a1b" d="M493 58l 2 8 4-4-2-9z"/><path class="ah" d="M440 93l 2-5 4-9-2 8z"/><path class="a11" d="M453 84l 2 1 4 10-2 1z"/><path class="au" d="M455 116l 2-4 4 3-2 3z"/><path class="ag" d="M451 113l 2-6 4 5-2 4z"/><path class="a1c" d="M497 53l 2 9 3 11-1-6z"/><path class="a1d" d="M493 79l 2-19 4 12-3 15z"/><path class="a4" d="M459 118l 2-3 3 4-2 2z"/><path class="af" d="M447 110l 2-8 4 5-2 6z"/><path class="ao" d="M519 120l 2-5 4-5-2 9z"/><path class="a14" d="M443 108l 2-10 4 4-2 8z"/><path class="a4" d="M433 121l 2-3 4 0-2 4z"/><path class="a5" d="M462 121l 2-2 4 2-2 3z"/><path class="a4" d="M517 123l 2-3 4-1-2 4zM439 118l 2-4 4 1-2 4z"/><path class="au" d="M445 115l 2-5 4 3-2 4z"/><path class="al" d="M449 102l 2-10 4 9-2 6z"/><path class="a1e" d="M489 81l 2-17 4-4-2 19z"/><path class="au" d="M449 117l 2-4 4 3-2 3z"/><path class="af" d="M541 98l 2-5 3 25-2 2z"/><path class="a16" d="M451 92l 2-8 4 12-2 5z"/><path class="ag" d="M539 107l 2-9 3 22-2 2z"/><path class="a4" d="M453 119l 2-3 4 2-3 3zM443 119l 2-4 4 2-2 3z"/><path class="au" d="M537 117l 2-10 3 15-1 2z"/><path class="ab" d="M521 115l 2-5 5-14-3 14z"/><path class="a4" d="M437 122l 2-4 4 1-2 4z"/><path class="a11" d="M441 98l 3-11 3-2-2 13z"/><path class="a4" d="M456 121l 3-3 3 3-2 3zM521 123l 2-4 4 0-2 5z"/><path class="a8" d="M431 124l 2-3 4 1-2 3z"/><path class="a16" d="M445 98l 2-13 4 7-2 10z"/><path class="aq" d="M446 79l 2 0 4-1-2-1z"/><path class="a5" d="M460 124l 2-3 4 3-2 2z"/><path class="a4" d="M447 120l 2-3 4 2-2 3zM535 123l 2-6 4 7-2 2z"/><path class="a1f" d="M450 77l 2 1 3 7-2-1z"/><path class="ag" d="M523 119l 2-9 4-2-2 11z"/><path class="a1g" d="M495 60l 2-7 4 14-2 5z"/><path class="a3" d="M441 123l 2-4 4 1-2 3z"/><path class="a4" d="M525 124l 2-5 4 1-2 5z"/><path class="a7" d="M451 122l 2-3 3 2-2 3z"/><path class="a8" d="M435 125l 2-3 4 1-2 2z"/><path class="au" d="M531 120l 2-10 4 7-2 6z"/><path class="ah" d="M525 103l 2-3 5-25-2 6z"/><path class="a1b" d="M491 64l 2-6 4-5-2 7z"/><path class="ak" d="M523 110l 2-7 5-22-2 15z"/><path class="a1f" d="M444 87l 2-8 4-2-3 8z"/><path class="a5" d="M454 124l 2-3 4 3-2 2z"/><path class="as" d="M447 85l 3-8 3 7-2 8z"/><path class="ag" d="M527 119l 2-11 4 2-2 10z"/><path class="a4" d="M529 125l 2-5 4 3-2 4z"/><path class="a6" d="M445 123l 2-3 4 2-2 3z"/><path class="a5" d="M533 127l 2-4 4 3-2 2z"/><path class="a6" d="M439 125l 2-2 4 0-2 3z"/><path class="ab" d="M566 123l 2-2 5-16-1-3z"/><path class="a3" d="M449 125l 2-3 3 2-2 2z"/><path class="am" d="M533 110l 3-16 3 13-2 10z"/><path class="ay" d="M488 126l 2-1 4 1-2 1z"/><path class="a3" d="M433 127l 2-2 4 0-2 3z"/><path class="a9" d="M452 126l 2-2 4 2-2 3z"/><path class="a1h" d="M443 126l 2-3 4 2-3 2z"/><path class="ai" d="M482 128l 2-2 4 0-2 2z"/><path class="a18" d="M525 110l 3-14 4-6-3 18z"/><path class="a10" d="M492 127l 2-1 4 1-2 2z"/><path class="a1i" d="M437 128l 2-3 4 1-2 2z"/><path class="a0" d="M476 129l 2-2 4 1-2 1z"/><path class="a5" d="M586 126l 2-1 4 3-2 2z"/><path class="ap" d="M446 127l 3-2 3 1-2 2z"/><path class="a10" d="M415 131l 2-2 4 1-2 3z"/><path class="a13" d="M529 108l 3-18 4 4-3 16z"/><path class="a1i" d="M486 128l 2-2 4 1-2 2z"/><path class="a9" d="M450 128l 2-2 4 3-2 2z"/><path class="a1j" d="M441 128l 2-2 3 1-2 2z"/><path class="a1f" d="M541 70l 1 8 3 18-2-3z"/><path class="ab" d="M564 126l 2-3 6-21-2 4z"/><path class="at" d="M536 94l 3-17 2 21-2 9z"/><path class="a1h" d="M419 133l 2-3 4 1-2 3z"/><path class="a1" d="M480 129l 2-1 4 0-2 1z"/><path class="a6" d="M490 129l 2-2 4 2-2 1z"/><path class="ai" d="M435 130l 2-2 4 0-3 2z"/><path class="a5" d="M585 128l 1-2 4 4-2 2z"/><path class="a1k" d="M474 131l 2-2 4 0-2 1z"/><path class="ap" d="M444 129l 2-2 4 1-2 2z"/><path class="a10" d="M413 134l 2-3 4 2-2 2z"/><path class="a0" d="M429 132l 2-2 4 0-3 2z"/><path class="a8" d="M494 130l 2-1 4 1-2 2z"/><path class="a1c" d="M532 75l 2 6 4-8-1-10z"/><path class="a1k" d="M468 133l 2-2 4 0-2 1z"/><path class="ai" d="M423 134l 2-3 4 1-3 2z"/><path class="ad" d="M562 128l 2-2 6-20-3 10z"/><path class="a9" d="M448 130l 2-2 4 3-2 2z"/><path class="a1l" d="M484 129l 2-1 4 1-2 1z"/><path class="ae" d="M561 130l 1-2 5-12-2 9z"/><path class="ay" d="M438 130l 3-2 3 1-2 1z"/><path class="a1h" d="M417 135l 2-2 4 1-3 2z"/><path class="a1k" d="M559 132l 2-2 4-5-2 6z"/><path class="a1d" d="M539 77l 2-7 2 23-2 5z"/><path class="ap" d="M407 134l 2-2 4 2-2 2z"/><path class="af" d="M584 108l 1 2 3 15-2 1z"/><path class="a5" d="M583 132l 2-4 3 4-1 3z"/><path class="a1k" d="M478 130l 2-1 4 0-2 1z"/><path class="a1l" d="M432 132l 3-2 3 0-2 1z"/><path class="a7" d="M488 130l 2-1 4 1-2 1z"/><path class="a1m" d="M528 96l 2-15 5-10-3 19z"/><path class="a10" d="M411 136l 2-2 4 1-3 3z"/><path class="a6" d="M442 130l 2-1 4 1-2 2z"/><path class="ac" d="M426 134l 3-2 3 0-2 1zM557 134l 2-2 4-1-2 4z"/><path class="aa" d="M472 132l 2-1 4-1-2 1z"/><path class="a0" d="M420 136l 3-2 3 0-2 2z"/><path class="a4" d="M492 131l 2-1 4 2-2 2z"/><path class="a5" d="M446 132l 2-2 4 3-2 2z"/><path class="aa" d="M466 134l 2-1 4-1-2 1z"/><path class="a1k" d="M606 135l 2-2 4-1-1 2z"/><path class="a1n" d="M414 138l 3-3 3 1-2 3z"/><path class="af" d="M582 112l 2-4 2 18-1 2z"/><path class="a8" d="M405 136l 2-2 4 2-3 2z"/><path class="a5" d="M496 134l 2-2 4 2-2 2z"/><path class="a1i" d="M436 131l 2-1 4 0-2 2z"/><path class="a1o" d="M537 63l 1 10 4 5-1-8z"/><path class="a1k" d="M460 136l 2-2 4 0-2 1z"/><path class="a5" d="M581 135l 2-3 4 3-2 2z"/><path class="a1" d="M482 130l 2-1 4 1-2 0z"/><path class="au" d="M563 131l 2-6 4-2-2 8z"/><path class="ag" d="M579 121l 3-9 3 16-2 4z"/><path class="a1e" d="M532 90l 3-19 4 6-3 17z"/><path class="a5" d="M561 135l 2-4 4 0-2 5z"/><path class="au" d="M577 129l 2-8 4 11-2 3z"/><path class="a1p" d="M408 138l 3-2 3 2-2 2z"/><path class="a1" d="M430 133l 2-1 4-1-2 2z"/><path class="a1o" d="M530 81l 2-6 5-12-2 8z"/><path class="a1" d="M424 136l 2-2 4-1-2 2z"/><path class="a6" d="M440 132l 2-2 4 2-2 2z"/><path class="ac" d="M418 139l 2-3 4 0-2 2z"/><path class="a1" d="M486 130l 2 0 4 1-2 1z"/><path class="ae" d="M476 131l 2-1 4 0-2 0z"/><path class="a1h" d="M504 139l 2-3 3 2-1 2z"/><path class="au" d="M567 131l 2-8 4 2-2 8z"/><path class="a17" d="M572 102l 1 3 5-9-1-5z"/><path class="a4" d="M575 135l 2-6 4 6-2 2zM565 136l 2-5 4 2-2 4z"/><path class="a1" d="M611 134l 1-2 5 0-2 2z"/><path class="a4" d="M571 133l 2-8 4 4-2 6z"/><path class="a1p" d="M412 140l 2-2 4 1-2 2z"/><path class="a5" d="M444 134l 2-2 4 3-2 2z"/><path class="aj" d="M565 125l 2-9 5-6-3 13z"/><path class="a1k" d="M605 137l 1-2 5-1-2 2z"/><path class="a9" d="M402 139l 3-3 3 2-2 3z"/><path class="a4" d="M490 132l 2-1 4 3-2 1z"/><path class="ae" d="M470 133l 2-1 4-1-2-1z"/><path class="a1i" d="M434 133l 2-2 4 1-2 2z"/><path class="a5" d="M494 135l 2-1 4 2-2 2z"/><path class="aa" d="M464 135l 2-1 4-1-2 0z"/><path class="a5" d="M569 137l 2-4 4 2-2 3z"/><path class="a1n" d="M508 140l 1-2 4 0-1 3z"/><path class="a1k" d="M458 138l 2-2 4-1-2 1z"/><path class="af" d="M573 125l 3-13 3 9-2 8z"/><path class="a1q" d="M406 141l 2-3 4 2-2 3z"/><path class="a3" d="M615 134l 2-2 4 2-2 1z"/><path class="a1" d="M428 135l 2-2 4 0-2 2z"/><path class="a9" d="M573 138l 2-3 4 2-2 3z"/><path class="ae" d="M480 130l 2 0 4 0-2 0z"/><path class="a1k" d="M422 138l 2-2 4-1-2 2z"/><path class="a1r" d="M535 71l 2-8 4 7-2 7z"/><path class="ac" d="M416 141l 2-2 4-1-2 2z"/><path class="a1s" d="M581 94l 1 5 3 11-1-2z"/><path class="am" d="M569 123l 3-13 4 2-3 13z"/><path class="a10" d="M502 141l 2-2 4 1-2 2z"/><path class="a3" d="M438 134l 2-2 4 2-2 2z"/><path class="a4" d="M619 135l 2-1 4 2-2 2z"/><path class="a1p" d="M410 143l 2-3 4 1-2 2z"/><path class="a1" d="M609 136l 2-2 4 0-2 2z"/><path class="ai" d="M512 141l 1-3 5 1-2 2z"/><path class="a1t" d="M400 141l 2-2 4 2-2 2z"/><path class="ac" d="M603 139l 2-2 4-1-2 3z"/><path class="a4" d="M442 136l 2-2 4 3-2 2z"/><path class="a8" d="M623 138l 2-2 4 2-2 2z"/><path class="a12" d="M567 116l 3-10 5-10-3 14z"/><path class="ao" d="M484 130l 2 0 4 2-2 0z"/><path class="a1n" d="M506 142l 2-2 4 1-2 2z"/><path class="a1q" d="M404 143l 2-2 4 2-2 2z"/><path class="ae" d="M474 130l 2 1 4-1-2-2z"/><path class="a13" d="M576 112l 3-13 3 13-3 9z"/><path class="a1u" d="M432 135l 2-2 4 1-2 1z"/><path class="a17" d="M570 106l 2-4 5-11-2 5z"/><path class="au" d="M488 132l 2 0 4 3-2 0z"/><path class="a4" d="M492 135l 2 0 4 3-2 1z"/><path class="aa" d="M456 140l 2-2 4-2-2 1z"/><path class="a5" d="M496 139l 2-1 4 3-2 1z"/><path class="a6" d="M613 136l 2-2 4 1-2 3z"/><path class="aq" d="M577 91l 1 5 4 3-1-5z"/><path class="a1v" d="M435 184l 2-8 4 12-2 9z"/><path class="aa" d="M426 137l 2-2 4 0-2 1z"/><path class="ae" d="M462 136l 2-1 4-2-2-1zM468 133l 2 0 4-3-2-2z"/><path class="a1i" d="M516 141l 2-2 4 0-2 2z"/><path class="a1k" d="M414 143l 2-2 4-1-2 2z"/><path class="aa" d="M420 140l 2-2 4-1-2 1z"/><path class="ap" d="M500 142l 2-1 4 1-2 3z"/><path class="a1w" d="M439 197l 2-9 4-9-2 8z"/><path class="ai" d="M408 145l 2-2 4 0-2 3z"/><path class="a4" d="M607 139l 2-3 4 0-2 3z"/><path class="at" d="M579 99l 2-5 3 14-2 4z"/><path class="a3" d="M436 135l 2-1 4 2-2 2z"/><path class="a4" d="M617 138l 2-3 4 3-2 2z"/><path class="a0" d="M601 141l 2-2 4 0-2 3z"/><path class="ai" d="M510 143l 2-2 4 0-2 2z"/><path class="a1x" d="M398 143l 2-2 4 2-2 3z"/><path class="a1y" d="M433 184l 2 0 4 13-2 0z"/><path class="a4" d="M440 138l 2-2 4 3-2 2z"/><path class="a9" d="M621 140l 2-2 4 2-2 2z"/><path class="a5" d="M444 141l 2-2 4 2-2 3z"/><path class="a1q" d="M402 146l 2-3 4 2-2 3z"/><path class="a1n" d="M504 145l 2-3 4 1-2 2z"/><path class="at" d="M572 110l 3-14 4 3-3 13z"/><path class="ay" d="M520 141l 2-2 4 1-2 2z"/><path class="ad" d="M478 128l 2 2 4 0-2-2z"/><path class="a7" d="M611 139l 2-3 4 2-1 3z"/><path class="a1z" d="M437 197l 2 0 4-10-2 0z"/><path class="a2" d="M430 136l 2-1 4 0-2 2z"/><path class="a9" d="M605 142l 2-3 4 0-1 4z"/><path class="aa" d="M454 142l 2-2 4-3-2 2z"/><path class="a1k" d="M412 146l 2-3 4-1-2 2z"/><path class="a20" d="M437 176l 2-10 4 7-2 15z"/><path class="ai" d="M514 143l 2-2 4 0-2 2z"/><path class="a7" d="M616 141l 1-3 4 2-1 3z"/><path class="a21" d="M441 188l 2-15 4-5-2 11z"/><path class="ai" d="M406 148l 2-3 4 1-2 2z"/><path class="a5" d="M494 140l 2-1 4 3-2 2z"/><path class="aa" d="M418 142l 2-2 4-2-2 1z"/><path class="a5" d="M498 144l 2-2 4 3-2 1z"/><path class="ae" d="M424 138l 2-1 4-1-2 0z"/><path class="a1t" d="M396 145l 2-2 4 3-2 2z"/><path class="a1h" d="M524 142l 2-2 4 2-2 1z"/><path class="a0" d="M508 145l 2-2 4 0-2 2z"/><path class="ad" d="M482 128l 2 2 4 2-2-2z"/><path class="a4" d="M434 137l 2-2 4 3-2 2zM490 135l 2 0 4 4-2 1z"/><path class="a1d" d="M575 96l 2-5 4 3-2 5z"/><path class="a8" d="M620 143l 1-3 4 2-1 3z"/><path class="a4" d="M438 140l 2-2 4 3-2 2z"/><path class="a5" d="M442 143l 2-2 4 3-2 3z"/><path class="ao" d="M486 130l 2 2 4 3-2 0z"/><path class="a9" d="M610 143l 1-4 5 2-2 3z"/><path class="ae" d="M460 137l 2-1 4-4-2-1z"/><path class="a1v" d="M487 189l 2-2 4 7-2 1z"/><path class="a1q" d="M400 148l 2-2 4 2-2 2z"/><path class="ab" d="M472 128l 2 2 4-2-2-3z"/><path class="a22" d="M489 187l 2-11 4 7-2 11z"/><path class="a23" d="M502 146l 2-1 4 0-2 2z"/><path class="a1t" d="M446 147l 2-3 4 1-2 3z"/><path class="a10" d="M528 143l 2-1 4 1-2 2z"/><path class="a24" d="M518 143l 2-2 4 1-2 2z"/><path class="ab" d="M466 132l 2 1 4-5-2-3z"/><path class="a8" d="M614 144l 2-3 4 2-2 3z"/><path class="aa" d="M452 145l 2-3 4-3-2 3z"/><path class="a25" d="M404 150l 2-2 4 0-3 2z"/><path class="a0" d="M512 145l 2-2 4 0-2 2z"/><path class="a1k" d="M410 148l 2-2 4-2-2 3z"/><path class="ao" d="M428 136l 2 0 4 1-2 0z"/><path class="a10" d="M532 145l 2-2 4 2-2 2z"/><path class="a26" d="M439 166l 2-9 4 4-2 12z"/><path class="a1t" d="M394 148l 2-3 4 3-3 3z"/><path class="a1x" d="M440 146l 2-3 4 4-2 4z"/><path class="ac" d="M506 147l 2-2 4 0-2 2z"/><path class="a1h" d="M522 144l 2-2 4 1-2 2z"/><path class="a5" d="M496 145l 2-1 4 2-2 2z"/><path class="a1t" d="M444 151l 2-4 4 1-2 5z"/><path class="a4" d="M436 141l 2-1 4 3-2 3z"/><path class="a1q" d="M397 151l 3-3 4 2-3 3z"/><path class="a27" d="M443 173l 2-12 4-3-2 10z"/><path class="ae" d="M416 144l 2-2 4-3-2-6z"/><path class="a4" d="M492 139l 2 1 4 4-2 1z"/><path class="a28" d="M431 179l 2 5 4 13-2-9z"/><path class="a4" d="M432 137l 2 0 4 3-2 1z"/><path class="a29" d="M441 157l 3-6 4 2-3 8z"/><path class="ae" d="M422 139l 2-1 4-2-2-1z"/><path class="a1h" d="M500 148l 2-2 4 1-2 3z"/><path class="a1k" d="M450 148l 2-3 4-3-2 4z"/><path class="a10" d="M526 145l 2-2 4 2-2 2z"/><path class="ax" d="M476 125l 2 3 4 0-2-4z"/><path class="a1i" d="M516 145l 2-2 4 1-2 2z"/><path class="a1t" d="M438 150l 2-4 4 5-3 6z"/><path class="ad" d="M458 139l 2-2 4-6-2 0z"/><path class="a2a" d="M407 150l 3-2 4-1-3 1z"/><path class="ag" d="M488 133l 2 2 4 5-2-1z"/><path class="a2b" d="M491 176l 2-12 4 4-2 15z"/><path class="a25" d="M401 153l 3-3 3 0-2 3z"/><path class="a5" d="M387 147l 3-2 4 3-3 2z"/><path class="a2c" d="M431 162l 2-3 4 17-2 8z"/><path class="a2d" d="M493 194l 2-11 4-13-2 6z"/><path class="ac" d="M510 147l 2-2 4 0-2 2z"/><path class="a1t" d="M391 150l 3-2 3 3-2 2z"/><path class="a2e" d="M433 159l 2-5 4 12-2 10z"/><path class="a2f" d="M445 161l 3-8 4-2-3 7z"/><path class="a1k" d="M448 153l 2-5 4-2-2 5z"/><path class="a10" d="M530 147l 2-2 4 2-2 2z"/><path class="a29" d="M435 154l 3-4 3 7-2 9z"/><path class="ac" d="M504 150l 2-3 4 0-2 2z"/><path class="a2g" d="M435 188l 2 9 4-10-2-5z"/><path class="a1q" d="M395 153l 2-2 4 2-2 2z"/><path class="a4" d="M434 143l 2-2 4 5-2 4z"/><path class="ay" d="M520 146l 2-2 4 1-2 2z"/><path class="a19" d="M484 127l 2 3 4 5-2-2z"/><path class="ax" d="M480 124l 2 4 4 2-2-3z"/><path class="a2c" d="M429 164l 2-2 4 22-2 0z"/><path class="a2h" d="M485 185l 2 4 4 6-2-8z"/><path class="a5" d="M494 146l 2-1 4 3-2 3z"/><path class="a10" d="M498 151l 2-3 4 2-2 3z"/><path class="aw" d="M426 135l 2 1 4 1-2 1z"/><path class="ay" d="M371 148l 3-2 3 0-2 2z"/><path class="a2i" d="M491 195l 2-1 4-18-2-1z"/><path class="au" d="M430 138l 2-1 4 4-2 2z"/><path class="ap" d="M524 147l 2-2 4 2-2 2z"/><path class="a2j" d="M470 125l 2 3 4-3-2-7z"/><path class="a2k" d="M495 183l 2-15 5-7-3 9z"/><path class="az" d="M464 131l 2 1 4-7-2-6z"/><path class="a2l" d="M399 155l 2-2 4 0-2 2z"/><path class="ai" d="M514 147l 2-2 4 1-2 1z"/><path class="a2b" d="M483 168l 2-4 4 23-2 2z"/><path class="a5" d="M385 149l 2-2 4 3-2 2z"/><path class="a4" d="M490 138l 2 1 4 6-2 1z"/><path class="a2m" d="M443 187l 2-8 4-15-2 4z"/><path class="a1k" d="M405 153l 2-3 4-2-2 3z"/><path class="a2n" d="M493 164l 3-9 4 3-3 10z"/><path class="ad" d="M456 142l 2-3 4-8-2 2z"/><path class="a1t" d="M389 152l 2-2 4 3-2 2z"/><path class="a2o" d="M445 179l 2-11 4-10-2 6z"/><path class="a2p" d="M485 164l 3-6 3 18-2 11z"/><path class="a1" d="M508 149l 2-2 4 0-2 2z"/><path class="ap" d="M528 149l 2-2 4 2-2 2z"/><path class="a1t" d="M496 155l 2-4 4 2-2 5z"/><path class="ac" d="M502 153l 2-3 4-1-2 3z"/><path class="ae" d="M414 147l 2-3 4-11-3 10z"/><path class="a2q" d="M393 155l 2-2 4 2-2 3z"/><path class="a2r" d="M375 148l 2-2 4 1-2 2z"/><path class="ae" d="M411 148l 3-1 3-4-2-9z"/><path class="ay" d="M518 147l 2-1 4 1-2 2z"/><path class="a5" d="M492 148l 2-2 4 5-2 4z"/><path class="a4" d="M431 143l 3 0 4 7-3 4z"/><path class="a2s" d="M447 168l 2-10 4-7-2 7z"/><path class="a6" d="M369 150l 2-2 4 0-2 2z"/><path class="a2t" d="M497 168l 3-10 4-3-2 6z"/><path class="a8" d="M379 149l 2-2 4 2-2 3z"/><path class="a2n" d="M488 158l 2-6 3 12-2 12z"/><path class="ad" d="M454 146l 2-4 4-9-2 6z"/><path class="a2l" d="M397 158l 2-3 4 0-2 3z"/><path class="a1k" d="M500 158l 2-5 4-1-2 3z"/><path class="a2a" d="M403 155l 2-2 4-2-2 1z"/><path class="ax" d="M420 133l 2 6 4-4-3-17z"/><path class="a8" d="M522 149l 2-2 4 2-2 2z"/><path class="a19" d="M486 129l 2 4 4 6-2-1z"/><path class="a5" d="M429 148l 2-5 4 11-2 5zM383 152l 2-3 4 3-2 3z"/><path class="a2u" d="M441 187l 2 0 4-19-2 2z"/><path class="a2v" d="M427 164l 2 0 4 20-2-5z"/><path class="a1l" d="M512 149l 2-2 4 0-2 2z"/><path class="a1t" d="M490 152l 2-4 4 7-3 9z"/><path class="a2c" d="M481 170l 2-2 4 21-2-4z"/><path class="aa" d="M449 158l 3-7 4-6-3 6z"/><path class="a1t" d="M387 155l 2-3 4 3-2 3z"/><path class="ae" d="M452 151l 2-5 4-7-2 6z"/><path class="a1k" d="M506 152l 2-3 4 0-2 1z"/><path class="a2w" d="M391 158l 2-3 4 3-2 2z"/><path class="a8" d="M526 151l 2-2 4 2-2 2z"/><path class="a2r" d="M373 150l 2-2 4 1-2 3z"/><path class="au" d="M488 137l 2 1 4 8-2 2z"/><path class="a1a" d="M474 118l 2 7 4-1-2-9z"/><path class="a6" d="M516 149l 2-2 4 2-2 1z"/><path class="a2x" d="M429 174l 2 5 4 9-2-8z"/><path class="a1i" d="M367 152l 2-2 4 0-3 2z"/><path class="a8" d="M377 152l 2-3 4 3-2 2z"/><path class="a2l" d="M395 160l 2-2 4 0-2 2z"/><path class="a5" d="M381 154l 2-2 4 3-2 2z"/><path class="a2y" d="M482 119l 2 8 4 6-2-4z"/><path class="ak" d="M462 131l 2 0 4-12-2-3z"/><path class="a2a" d="M401 158l 2-3 4-3-2 3z"/><path class="a1t" d="M385 157l 2-2 4 3-2 2z"/><path class="a7" d="M520 150l 2-1 4 2-2 2z"/><path class="a5" d="M427 147l 2 1 4 11-2 3z"/><path class="af" d="M425 142l 2-16 4 17-2 5z"/><path class="aa" d="M504 155l 2-3 4-2-2 2z"/><path class="a1" d="M510 150l 2-1 4 0-2 1z"/><path class="a2w" d="M389 160l 2-2 4 2-3 3z"/><path class="a2u" d="M489 187l 2 8 4-20-1-5z"/><path class="a9" d="M524 153l 2-2 4 2-2 2z"/><path class="a2u" d="M483 181l 2 4 4 2-2-7z"/><path class="a1a" d="M478 115l 2 9 4 3-2-8z"/><path class="a2r" d="M370 152l 3-2 4 2-3 2z"/><path class="a19" d="M427 126l 3 12 4 5-3 0z"/><path class="a5" d="M425 152l 2-5 4 15-2 2z"/><path class="ae" d="M407 152l 2-1 4-4-2-7z"/><path class="a2u" d="M433 180l 2 8 4-6-2-6z"/><path class="ae" d="M409 151l 2-3 4-14-2 13z"/><path class="a2l" d="M392 163l 3-3 4 0-3 3z"/><path class="aa" d="M502 161l 2-6 4-3-2 2z"/><path class="a17" d="M468 119l 2 6 4-7-1-11z"/><path class="a1i" d="M364 154l 3-2 3 0-2 3z"/><path class="a9" d="M374 154l 3-2 4 2-3 2z"/><path class="ag" d="M486 137l 2 0 4 11-2 4z"/><path class="a0" d="M514 150l 2-1 4 1-2 2z"/><path class="a2a" d="M399 160l 2-2 4-3-3 2z"/><path class="a2p" d="M479 172l 2-2 4 15-2-4z"/><path class="a5" d="M378 156l 3-2 4 3-3 2z"/><path class="a2k" d="M439 182l 2 5 4-17-2-1z"/><path class="a1t" d="M382 159l 3-2 4 3-3 3z"/><path class="a2z" d="M425 164l 2 0 4 15-2-5z"/><path class="a2a" d="M499 170l 3-9 4-7-2 1z"/><path class="a2w" d="M386 163l 3-3 3 3-2 2z"/><path class="a2j" d="M423 118l 3 17 4 3-3-12z"/><path class="ax" d="M417 143l 3-10 3-15-2 22z"/><path class="a30" d="M484 123l 2 6 4 9-2-1z"/><path class="az" d="M415 134l 2 9 4-3-2-24z"/><path class="a4" d="M518 152l 2-2 4 3-2 1z"/><path class="aa" d="M508 152l 2-2 4 0-2 1z"/><path class="a2r" d="M368 155l 2-3 4 2-2 2z"/><path class="a5" d="M522 154l 2-1 4 2-2 2z"/><path class="a31" d="M421 140l 2-22 4 8-2 16z"/><path class="au" d="M484 140l 2-3 4 15-2 6z"/><path class="a1a" d="M460 133l 2-2 4-15-2 3z"/><path class="ae" d="M451 158l 2-7 5-7-3 6z"/><path class="a4" d="M482 146l 2-6 4 18-3 6z"/><path class="a5" d="M480 152l 2-6 3 18-2 4z"/><path class="a9" d="M526 157l 2-2 4 2-2 3z"/><path class="ad" d="M453 151l 3-6 4-9-2 8z"/><path class="aa" d="M449 164l 2-6 4-8-2 4z"/><path class="a2f" d="M390 165l 2-2 4 0-2 2z"/><path class="a2s" d="M497 176l 2-6 5-15-2 1z"/><path class="a1i" d="M362 156l 2-2 4 1-2 2z"/><path class="a9" d="M372 156l 2-2 4 2-2 2z"/><path class="a32" d="M477 204l 2-9 4-5-2 9z"/><path class="a2a" d="M396 163l 3-3 3-3-2 2z"/><path class="a5" d="M376 158l 2-2 4 3-2 3z"/><path class="a1t" d="M380 162l 2-3 4 4-2 2z"/><path class="ax" d="M456 145l 2-6 4-12-2 9z"/><path class="a5" d="M423 151l 2 1 4 12-2 0z"/><path class="a2w" d="M384 165l 2-2 4 2-2 3z"/><path class="ak" d="M458 139l 2-6 4-14-2 8z"/><path class="a1t" d="M478 157l 2-5 3 16-2 2z"/><path class="a1" d="M512 151l 2-1 4 2-2 0z"/><path class="a2a" d="M447 168l 2-4 4-10-2 3z"/><path class="a33" d="M481 185l 2-4 4-1-2 2z"/><path class="a20" d="M473 189l 2-6 4 12-2 9z"/><path class="a2g" d="M475 205l 2-1 4-5-2 1z"/><path class="a26" d="M477 176l 2-4 4 9-2 4z"/><path class="a14" d="M421 145l 2-19 4 21-2 5z"/><path class="a2r" d="M366 157l 2-2 4 1-2 2z"/><path class="a34" d="M426 172l 3 2 4 6-3-5z"/><path class="a35" d="M479 195l 2-10 4-3-2 8z"/><path class="a4" d="M516 152l 2 0 4 2-2 1z"/><path class="ae" d="M405 155l 2-3 4-12-2 8zM506 154l 2-2 4-1-2 0z"/><path class="a2c" d="M475 183l 2-7 4 9-2 10z"/><path class="a36" d="M471 190l 2-1 4 15-2 1z"/><path class="a2f" d="M388 168l 2-3 4 0-2 2z"/><path class="a4" d="M520 155l 2-1 4 3-2 1z"/><path class="a5" d="M524 158l 2-1 4 3-2 1z"/><path class="a1i" d="M360 158l 2-2 4 1-2 2z"/><path class="a9" d="M370 158l 2-2 4 2-2 2z"/><path class="ae" d="M402 157l 3-2 4-7-3 0z"/><path class="aj" d="M423 126l 2 16 4 6-2-1z"/><path class="a2a" d="M394 165l 2-2 4-4-2 3z"/><path class="a1t" d="M378 164l 2-2 4 3-2 3z"/><path class="a5" d="M374 160l 2-2 4 4-2 2z"/><path class="a1t" d="M475 162l 3-5 3 13-2 2z"/><path class="a2w" d="M382 168l 2-3 4 3-2 2z"/><path class="a4" d="M421 155l 2-4 4 13-2 0z"/><path class="a2a" d="M445 170l 2-2 4-11-2 2z"/><path class="a2w" d="M422 165l 3-1 4 10-3-2z"/><path class="a17" d="M481 108l 1 11 4 10-2-6z"/><path class="az" d="M411 140l 2 7 4-4-2-20z"/><path class="a37" d="M430 175l 3 5 4-4-3-3z"/><path class="a2a" d="M495 175l 2 1 5-20-2-3z"/><path class="a16" d="M483 119l 1 4 4 14-2 0z"/><path class="a1m" d="M473 107l 1 11 4-3-1-13z"/><path class="a37" d="M487 180l 2 7 5-17-2-4zM437 176l 2 6 4-13-2-2z"/><path class="a2r" d="M364 159l 2-2 4 1-3 2z"/><path class="aw" d="M510 151l 2 0 4 1-2 0z"/><path class="a2f" d="M386 170l 2-2 4-1-2 3z"/><path class="a2w" d="M473 166l 2-4 4 10-2 4z"/><path class="a9" d="M367 160l 3-2 4 2-3 3z"/><path class="a1i" d="M357 161l 3-3 4 1-3 2z"/><path class="a2a" d="M392 167l 2-2 4-3-2 1z"/><path class="a1m" d="M466 116l 2 3 5-12-2-8z"/><path class="a2w" d="M375 167l 3-3 4 4-3 3z"/><path class="ae" d="M504 155l 2-1 4-3-1-1z"/><path class="a5" d="M371 163l 3-3 4 4-3 3z"/><path class="ak" d="M419 116l 2 24 4 2-2-16z"/><path class="ao" d="M514 152l 2 0 4 3-1 0z"/><path class="a2w" d="M379 171l 3-3 4 2-3 3z"/><path class="ab" d="M455 150l 3-6 4-6-2 7z"/><path class="a4" d="M519 155l 1 0 4 3-1 1z"/><path class="a5" d="M523 159l 1-1 4 3-1 2z"/><path class="a2y" d="M413 147l 2-13 4-18-2 27z"/><path class="a16" d="M417 143l 2-27 4 10-2 19z"/><path class="a9" d="M527 163l 1-2 4 2-1 2z"/><path class="a1m" d="M477 102l 1 13 4 4-1-11z"/><path class="ae" d="M400 159l 2-2 4-9-2 1z"/><path class="ad" d="M453 154l 2-4 5-5-3 4z"/><path class="a38" d="M371 202l 2-11 4-2-2 8z"/><path class="a18" d="M458 144l 2-8 4-8-2 10z"/><path class="a20" d="M364 195l 3-4 4 11-2 5z"/><path class="a2h" d="M369 207l 2-5 4-5-3 4z"/><path class="a29" d="M471 170l 2-4 4 10-2 7z"/><path class="ag" d="M474 148l 2-8 4 12-2 5z"/><path class="am" d="M476 140l 2-10 4 16-2 6z"/><path class="a39" d="M469 187l 2 3 4 15-2-6z"/><path class="a2f" d="M424 172l 2 0 4 3-2 0z"/><path class="a2r" d="M361 161l 3-2 3 1-2 2z"/><path class="a2b" d="M367 191l 2-8 4 8-2 11z"/><path class="a2i" d="M473 199l 2 6 4-5-2-5z"/><path class="a11" d="M480 122l 3-3 3 18-2 3z"/><path class="a4" d="M418 156l 3-1 4 9-3 1z"/><path class="a2f" d="M383 173l 3-3 4 0-3 2z"/><path class="a2a" d="M443 169l 2 1 4-11-2 1z"/><path class="au" d="M472 153l 2-5 4 9-3 5z"/><path class="a13" d="M478 130l 2-8 4 18-2 6z"/><path class="a2w" d="M373 170l 2-3 4 4-2 3z"/><path class="a2e" d="M469 173l 2-3 4 13-2 6z"/><path class="a19" d="M419 132l 2 13 4 7-2-1z"/><path class="a29" d="M377 174l 2-3 4 2-2 3z"/><path class="a1t" d="M420 166l 2-1 4 7-2 0z"/><path class="a2v" d="M373 191l 2-10 4 1-2 7z"/><path class="a5" d="M365 162l 2-2 4 3-2 2z"/><path class="a1i" d="M355 163l 2-2 4 0-2 2z"/><path class="a1x" d="M369 165l 2-2 4 4-2 3z"/><path class="ad" d="M451 157l 2-3 4-5-2 3z"/><path class="a2a" d="M390 170l 2-3 4-4-3 4z"/><path class="a14" d="M416 145l 3-13 4 19-2 4z"/><path class="a26" d="M369 183l 2-8 4 6-2 10z"/><path class="a2n" d="M375 181l 2-7 4 2-2 6z"/><path class="a4" d="M469 158l 3-5 3 9-2 4z"/><path class="a29" d="M371 175l 2-5 4 4-2 7z"/><path class="a2s" d="M485 182l 2-2 5-14-2 1z"/><path class="ah" d="M460 136l 2-9 4-12-2 13z"/><path class="ad" d="M509 150l 1 1 4 1-1-2z"/><path class="a2s" d="M428 175l 2 0 4-2-2-1z"/><path class="ae" d="M398 162l 2-3 4-10-2 7z"/><path class="a2o" d="M481 199l 2-9 5-17-2 5z"/><path class="a5" d="M525 164l 2-1 4 2-2 2z"/><path class="a3a" d="M381 176l 2-3 4-1-2 3z"/><path class="a2s" d="M434 173l 3 3 4-9-3-1z"/><path class="a2e" d="M467 174l 2-1 4 16-2 1z"/><path class="a4" d="M521 159l 2 0 4 4-2 1z"/><path class="a39" d="M362 193l 2 2 5 12-3-3z"/><path class="a2r" d="M359 163l 2-2 4 1-2 3z"/><path class="a3b" d="M483 190l 2-8 5-15-2 6z"/><path class="ad" d="M502 156l 2-1 5-5-2-3z"/><path class="a3c" d="M460 145l 2-7 4-2-2 7z"/><path class="a1t" d="M367 169l 2-4 4 5-2 5z"/><path class="ao" d="M517 154l 2 1 4 4-2 0z"/><path class="aw" d="M513 150l 1 2 5 3-2-1z"/><path class="a14" d="M468 146l 2-6 4 8-2 5z"/><path class="az" d="M406 148l 3 0 3-8-2-5z"/><path class="ak" d="M415 123l 2 20 4 2-2-13z"/><path class="a2i" d="M366 204l 3 3 3-6-2-1z"/><path class="aa" d="M494 170l 1 5 5-22-1-4z"/><path class="a5" d="M363 165l 2-3 4 3-2 4z"/><path class="a2a" d="M387 172l 3-2 3-3-2 1z"/><path class="aj" d="M457 149l 3-4 4-2-3 5z"/><path class="a4" d="M467 161l 2-3 4 8-2 4zM416 157l 2-1 4 9-2 1z"/><path class="a3c" d="M470 140l 2-10 4 10-2 8z"/><path class="ad" d="M449 159l 2-2 4-5-2 2z"/><path class="a1i" d="M353 165l 2-2 4 0-3 3z"/><path class="ae" d="M396 163l 2-1 4-6-3-6z"/><path class="a2w" d="M422 174l 2-2 4 3-2 1z"/><path class="a3d" d="M464 119l 2-3 5-17-2 3z"/><path class="a1t" d="M418 168l 2-2 4 6-2 2z"/><path class="a2t" d="M379 182l 2-6 4-1-2 3z"/><path class="af" d="M466 151l 2-5 4 7-3 5z"/><path class="a11" d="M462 138l 2-10 4-3-2 11z"/><path class="a2j" d="M409 148l 2-8 4-17-3 17z"/><path class="a2w" d="M365 173l 2-4 4 6-2 8z"/><path class="al" d="M464 143l 2-7 4 4-2 6z"/><path class="a1m" d="M462 127l 2-8 5-17-3 13z"/><path class="a2k" d="M479 200l 2-1 5-21-3 2z"/><path class="a1e" d="M479 100l 2 8 3 15-1-4z"/><path class="aa" d="M441 167l 2 2 4-9-2-1z"/><path class="a2n" d="M362 177l 3-4 4 10-2 8z"/><path class="a37" d="M377 189l 2-7 4-4-2 4z"/><path class="a14" d="M414 142l 2 3 5 10-3 1z"/><path class="am" d="M461 148l 3-5 4 3-2 5z"/><path class="aj" d="M455 152l 2-3 4-1-2 3z"/><path class="a1h" d="M356 166l 3-3 4 2-3 2z"/><path class="a2o" d="M375 197l 2-8 4-7-3 4z"/><path class="at" d="M472 130l 2-14 4 14-2 10z"/><path class="a11" d="M466 136l 2-11 4 5-2 10z"/><path class="a2e" d="M360 179l 2-2 5 14-3 4z"/><path class="a5" d="M465 163l 2-2 4 9-2 3zM360 167l 3-2 4 4-2 4z"/><path class="a4" d="M414 161l 2-4 4 9-2 2z"/><path class="ag" d="M463 154l 3-3 3 7-2 3z"/><path class="a4" d="M523 164l 2 0 4 3-2 1z"/><path class="a2s" d="M426 176l 2-1 4-3-2 0z"/><path class="a11" d="M412 140l 3-17 4 9-3 13z"/><path class="a1i" d="M350 167l 3-2 3 1-2 2z"/><path class="a9" d="M527 168l 2-1 4 2-2 2z"/><path class="a1v" d="M407 212l 2-2 4 11-2 4z"/><path class="a2a" d="M385 175l 2-3 4-4-2 4z"/><path class="a2n" d="M465 174l 2 0 4 16-2-3z"/><path class="a3e" d="M413 221l 2-24 4 8-2 2z"/><path class="a14" d="M459 151l 2-3 5 3-3 3z"/><path class="a2q" d="M420 176l 2-2 4 2-2 2z"/><path class="a2k" d="M372 201l 3-4 3-11-2 3z"/><path class="au" d="M519 157l 2 2 4 5-2 0z"/><path class="a1x" d="M416 170l 2-2 4 6-2 2z"/><path class="ad" d="M447 160l 2-1 4-5-2 0z"/><path class="a3f" d="M467 184l 2 3 4 12-2-8z"/><path class="a3g" d="M471 99l 2 8 4-5-2-11z"/><path class="aa" d="M432 172l 2 1 4-7-2-2z"/><path class="ax" d="M507 147l 2 3 4 0-2-4z"/><path class="ab" d="M453 154l 2-2 4-1-2 2z"/><path class="a10" d="M354 168l 2-2 4 1-2 3z"/><path class="a5" d="M358 170l 2-3 5 6-3 4z"/><path class="a18" d="M410 135l 2 5 4 5-2-3z"/><path class="av" d="M464 128l 2-13 4-6-2 16z"/><path class="a2e" d="M357 181l 3-2 4 16-2-2z"/><path class="a2k" d="M471 191l 2 8 4-4-2-7z"/><path class="a1e" d="M474 116l 3-13 3 19-2 8z"/><path class="a2a" d="M383 178l 2-3 4-3-2 1z"/><path class="a19" d="M515 150l 2 4 4 5-2-2z"/><path class="ae" d="M391 168l 2-1 4-5-2-9z"/><path class="ak" d="M404 149l 2-1 4-13-2 0z"/><path class="ae" d="M393 167l 3-4 3-13-2 12z"/><path class="ag" d="M461 156l 2-2 4 7-2 2z"/><path class="a4" d="M463 163l 2 0 4 10-2 1z"/><path class="az" d="M500 153l 2 3 5-9-2-7z"/><path class="am" d="M412 142l 2 0 4 14-2 1z"/><path class="a33" d="M359 190l 3 3 4 11-3-7z"/><path class="a3h" d="M477 103l 2-3 4 19-3 3z"/><path class="a1i" d="M348 170l 2-3 4 1-2 2z"/><path class="a3i" d="M411 225l 2-4 4-14-2 8z"/><path class="a1d" d="M468 125l 2-16 4 7-2 14z"/><path class="ax" d="M511 146l 2 4 4 4-2-4z"/><path class="a14" d="M410 152l 2-10 4 15-2 4z"/><path class="a2v" d="M411 193l 2-4 4 15-2-7z"/><path class="a14" d="M457 153l 2-2 4 3-2 2z"/><path class="a2q" d="M418 179l 2-3 4 2-2 3z"/><path class="a2a" d="M424 178l 2-2 4-4-2 2z"/><path class="a5" d="M525 169l 2-1 4 3-2 1z"/><path class="a3g" d="M475 91l 2 11 4 6-2-8z"/><path class="a4" d="M412 160l 2 1 4 7-2 2z"/><path class="ae" d="M438 166l 3 1 4-8-2-2z"/><path class="a1t" d="M413 173l 3-3 4 6-2 3z"/><path class="a2o" d="M477 195l 2 5 4-20-2-2z"/><path class="a4" d="M521 163l 2 1 4 4-2 1z"/><path class="a1x" d="M356 172l 2-2 4 7-2 2z"/><path class="a2m" d="M363 197l 3 7 4-4-3-4z"/><path class="ad" d="M492 166l 2 4 5-21-2-2z"/><path class="a20" d="M409 210l 2-17 4 4-2 24z"/><path class="ap" d="M352 170l 2-2 4 2-2 2z"/><path class="az" d="M402 156l 2-7 4-14-2 14z"/><path class="a3j" d="M404 208l 3 4 4 13-3-5z"/><path class="a2k" d="M370 200l 2 1 4-12-2 1z"/><path class="a2a" d="M381 182l 2-4 4-5-3 3z"/><path class="ab" d="M445 159l 2 1 4-6-2-1z"/><path class="ax" d="M451 154l 2 0 4-1-2 0z"/><path class="a4" d="M409 166l 3-6 4 10-3 3z"/><path class="a25" d="M415 182l 3-3 4 2-3 0z"/><path class="a1i" d="M345 172l 3-2 4 0-3 3z"/><path class="ae" d="M430 172l 2 0 4-8-2-1z"/><path class="ag" d="M459 156l 2 0 4 7-2 0z"/><path class="a2l" d="M463 172l 2 2 4 13-2-3z"/><path class="a1t" d="M411 176l 2-3 5 6-3 3z"/><path class="a2w" d="M422 181l 2-3 4-4-2 10z"/><path class="a3i" d="M408 220l 3 5 4-10-3 2z"/><path class="aw" d="M517 153l 2 4 4 7-2-1z"/><path class="ak" d="M399 150l 3 6 4-7-3-18z"/><path class="a2z" d="M355 181l 2 0 5 12-3-3z"/><path class="a1x" d="M353 174l 3-2 4 7-3 2z"/><path class="a3k" d="M466 115l 3-13 4-8-3 15z"/><path class="a4" d="M461 163l 2 0 4 11-2 0zM523 171l 2-2 4 3-2 2z"/><path class="a2s" d="M378 186l 3-4 3-6-2 3z"/><path class="a13" d="M406 149l 2-14 4 7-2 10z"/><path class="am" d="M455 153l 2 0 4 3-2 0z"/><path class="a11" d="M408 135l 2 0 4 7-2 0z"/><path class="a3b" d="M417 204l 2-23 4-6-2 9z"/><path class="ap" d="M349 173l 3-3 4 2-3 2z"/><path class="a3l" d="M469 102l 2-3 4-8-2 3z"/><path class="a2a" d="M419 181l 3 0 4 3-3-9z"/><path class="a2e" d="M413 189l 2-7 4-1-2 23z"/><path class="a1r" d="M470 109l 3-15 4 9-3 13z"/><path class="au" d="M519 163l 2 0 4 6-2 2z"/><path class="a2w" d="M409 179l 2-3 4 6-2 7z"/><path class="ae" d="M387 173l 2-1 4-6-3-6z"/><path class="a2c" d="M402 192l 3-4 4 22-2 2z"/><path class="a14" d="M405 160l 2-19 5 19-3 6z"/><path class="ab" d="M490 167l 2-1 5-19-2 4z"/><path class="ae" d="M389 172l 2-4 4-15-2 13z"/><path class="a3m" d="M465 182l 2 2 4 7-2-4z"/><path class="a1i" d="M343 174l 2-2 4 1-2 2z"/><path class="a29" d="M407 183l 2-4 4 10-2 4z"/><path class="ab" d="M436 164l 2 2 5-9-3-5z"/><path class="a2i" d="M406 223l 2-3 4-3-2-14z"/><path class="a4" d="M407 165l 2 1 4 7-2 3z"/><path class="a3n" d="M473 94l 2-3 4 9-2 3z"/><path class="a1a" d="M505 140l 2 7 4-1-2-10z"/><path class="a2s" d="M376 189l 2-3 4-7-2 2z"/><path class="ab" d="M488 173l 2-6 5-16-3 6z"/><path class="a4" d="M521 173l 2-2 4 3-2 3z"/><path class="a2y" d="M513 142l 2 8 4 7-2-4z"/><path class="a3b" d="M469 187l 2 4 4-3-2-2z"/><path class="a2o" d="M367 196l 3 4 4-10-3 0z"/><path class="aj" d="M407 141l 3 11 4 9-2-1z"/><path class="az" d="M449 153l 2 1 4-1-2-2z"/><path class="a3o" d="M357 188l 2 2 4 7-2-4z"/><path class="a5" d="M351 177l 2-3 4 7-2 0z"/><path class="a36" d="M402 210l 2-2 4 12-2 3z"/><path class="a10" d="M347 175l 2-2 4 1-2 3z"/><path class="ad" d="M428 174l 2-2 4-9-2-4z"/><path class="a26" d="M405 188l 2-5 4 10-2 17z"/><path class="ae" d="M486 178l 2-5 4-16-2 4z"/><path class="a1a" d="M499 149l 1 4 5-13-2-8z"/><path class="a14" d="M457 155l 2 1 4 7-2 0z"/><path class="az" d="M443 157l 2 2 4-6-2-4z"/><path class="a4" d="M405 171l 2-6 4 11-2 3z"/><path class="ay" d="M535 177l 2-2 5 1-2 2z"/><path class="a2j" d="M395 153l 2 9 4-4-2-25z"/><path class="a2s" d="M475 188l 2 7 4-17-1-2z"/><path class="a2k" d="M415 197l 2 7 4-20-2 21z"/><path class="a2o" d="M361 193l 2 4 4-1-2-2z"/><path class="a1i" d="M341 177l 2-3 4 1-2 2z"/><path class="au" d="M517 164l 2-1 4 8-2 2z"/><path class="a2p" d="M400 193l 2-1 5 20-3-4z"/><path class="a1a" d="M509 136l 2 10 4 4-2-8z"/><path class="a1k" d="M421 184l 2-9 4 13-2-13z"/><path class="a3c" d="M453 151l 2 2 4 3-2-1z"/><path class="a2w" d="M353 182l 2-1 4 9-2-2z"/><path class="ag" d="M459 160l 2 3 4 11-2-2z"/><path class="a2y" d="M397 162l 2-12 4-19-2 27z"/><path class="am" d="M515 149l 2 4 4 10-2 0z"/><path class="a4" d="M461 170l 2 2 4 12-2-2zM519 176l 2-3 4 4-2 3z"/><path class="a1h" d="M540 178l 2-2 4 1-2 2z"/><path class="ad" d="M426 184l 2-10 4-15-2 1z"/><path class="a2s" d="M374 190l 2-1 4-8-3 2z"/><path class="a16" d="M401 158l 2-27 4 10-2 19z"/><path class="ae" d="M483 180l 3-2 4-17-2 0z"/><path class="a1h" d="M345 177l 2-2 4 2-3 2z"/><path class="a2k" d="M415 215l 2-8 4-14-2 4z"/><path class="a2o" d="M417 207l 2-2 4-17-2 5z"/><path class="a5" d="M348 179l 3-2 4 4-2 1z"/><path class="a2s" d="M419 205l 2-21 4-9-2 13z"/><path class="ae" d="M384 176l 3-3 3-13-2 8z"/><path class="ah" d="M403 131l 3 18 4 3-3-11z"/><path class="ay" d="M533 179l 2-2 5 1-2 2z"/><path class="au" d="M515 168l 2-4 4 9-2 3z"/><path class="a4" d="M403 171l 2 0 4 8-2 4z"/><path class="a1i" d="M338 179l 3-2 4 0-3 3z"/><path class="am" d="M401 164l 2-20 4 21-2 6z"/><path class="ae" d="M382 179l 2-3 4-8-2 0z"/><path class="a0" d="M463 180l 2 2 4 5-2 0z"/><path class="a5" d="M517 179l 2-3 4 4-2 3z"/><path class="a3b" d="M365 194l 2 2 4-6-2 1z"/><path class="a2s" d="M467 187l 2 0 4-1-2 1z"/><path class="az" d="M434 163l 2 1 4-12-2-4z"/><path class="a1h" d="M538 180l 2-2 4 1-2 2z"/><path class="a5" d="M400 175l 3-4 4 12-2 5z"/><path class="a2m" d="M412 217l 3-2 4-18-3 1z"/><path class="a2f" d="M354 188l 3 0 4 5-3-1z"/><path class="au" d="M513 172l 2-4 4 8-2 3z"/><path class="ax" d="M403 144l 2 16 4 6-2-1z"/><path class="a2r" d="M342 180l 3-3 3 2-2 2z"/><path class="a1y" d="M451 232l 2-6 5 7-3 4z"/><path class="a12" d="M447 149l 2 4 4-2-2-5z"/><path class="a2s" d="M371 190l 3 0 3-7-2 1z"/><path class="a30" d="M455 151l 2 4 4 8-2-3z"/><path class="a2j" d="M390 160l 3 6 4-5-3-19z"/><path class="a2k" d="M399 201l 3 9 4 13-3-26z"/><path class="a1t" d="M350 184l 3-2 4 6-3 0z"/><path class="al" d="M514 149l 1 0 4 14-2 1z"/><path class="a4" d="M459 173l 2-3 4 12-2-2z"/><path class="a10" d="M542 181l 2-2 4 2-2 2z"/><path class="ay" d="M531 181l 2-2 5 1-2 2z"/><path class="a2t" d="M358 192l 3 1 4 1-3-1z"/><path class="aa" d="M473 186l 2 2 5-12-3 1z"/><path class="a5" d="M346 181l 2-2 5 3-3 2z"/><path class="a6" d="M336 182l 2-3 4 1-2 2z"/><path class="a5" d="M515 182l 2-3 4 4-2 2z"/><path class="a26" d="M398 193l 2 0 4 15-2 2z"/><path class="a3p" d="M465 194l 2-7 4 0-2 2z"/><path class="a17" d="M497 147l 2 2 4-17-2-1z"/><path class="ad" d="M481 178l 2 2 5-19-2 0z"/><path class="a5" d="M398 177l 2-2 5 13-3 4z"/><path class="a1t" d="M458 191l 3-19 4 22-3 5z"/><path class="a1a" d="M440 152l 3 5 4-8-2-8z"/><path class="a4" d="M511 176l 2-4 4 7-2 3z"/><path class="a12" d="M451 146l 2 5 4 4-2-4z"/><path class="ae" d="M380 181l 2-2 4-11-3 0z"/><path class="an" d="M512 133l 1 9 4 11-2-4z"/><path class="a1h" d="M536 182l 2-2 4 1-2 2z"/><path class="a19" d="M457 156l 2 4 4 12-2-2z"/><path class="al" d="M511 155l 3-6 3 15-2 4z"/><path class="a2r" d="M340 182l 2-2 4 1-2 2z"/><path class="a2s" d="M462 199l 3-5 4-5-2-3z"/><path class="a18" d="M393 166l 2-13 4-20-2 28z"/><path class="a1a" d="M399 133l 2 25 4 2-2-16z"/><path class="a2a" d="M456 195l 2-4 4 8-1-17z"/><path class="a1m" d="M503 132l 2 8 4-4-1-10z"/><path class="a1k" d="M423 175l 3 9 4-24-3 28z"/><path class="a2s" d="M362 193l 3 1 4-3-3 1z"/><path class="a2u" d="M458 233l 2-22 4 5-2-3z"/><path class="am" d="M509 162l 2-7 4 13-2 4z"/><path class="a3q" d="M449 230l 2 2 4 5-2-4z"/><path class="a1i" d="M529 184l 2-3 5 1-2 2z"/><path class="a11" d="M397 161l 2-28 4 11-2 20z"/><path class="ap" d="M540 183l 2-2 4 2-2 2z"/><path class="a2n" d="M458 209l 3-27 3 23-2 6z"/><path class="ae" d="M457 178l 2-5 4 7-2-8z"/><path class="a6" d="M333 184l 3-2 4 0-3 3z"/><path class="a9" d="M344 183l 2-2 4 3-2 2z"/><path class="a1t" d="M352 189l 2-1 4 4-2 1z"/><path class="a5" d="M348 186l 2-2 4 4-2 1z"/><path class="a2a" d="M369 191l 2-1 4-6-2 3z"/><path class="a3r" d="M456 214l 2-5 4 2-2 0z"/><path class="aa" d="M471 187l 2-1 4-9-2 4z"/><path class="a5" d="M396 179l 2-2 4 15-2 1z"/><path class="aj" d="M398 151l 3 13 4 7-2 0z"/><path class="a20" d="M453 226l 3-12 4-3-2 22z"/><path class="a4" d="M509 178l 2-2 4 6-2 3z"/><path class="a2f" d="M356 193l 2-1 4 1-2 1z"/><path class="af" d="M507 166l 2-4 4 10-2 4z"/><path class="a2z" d="M395 193l 3 0 4 17-3-9z"/><path class="a17" d="M495 151l 2-4 4-16-2 8z"/><path class="ah" d="M492 157l 3-6 4-12-2 8z"/><path class="am" d="M396 163l 2-12 5 20-3 4z"/><path class="a1h" d="M534 184l 2-2 4 1-2 3z"/><path class="ae" d="M377 183l 3-2 3-13-2 8z"/><path class="a12" d="M490 161l 2-4 5-10-2 5z"/><path class="a2r" d="M337 185l 3-3 4 1-3 3z"/><path class="a5" d="M461 172l 2 8 4 7-2 7z"/><path class="a1m" d="M508 126l 1 10 4 6-1-9z"/><path class="a3s" d="M447 214l 3-4 3 16-2 6z"/><path class="a2j" d="M432 159l 2 4 4-15-2 9zM427 188l 3-28 4-15-2 11z"/><path class="a2e" d="M452 203l 2-7 4 13-2 5z"/><path class="a5" d="M511 188l 2-3 4 3-2 3z"/><path class="ai" d="M527 186l 2-2 5 0-2 2z"/><path class="ap" d="M538 186l 2-3 4 2-2 3z"/><path class="ab" d="M480 176l 1 2 5-17-2 0z"/><path class="a6" d="M331 186l 2-2 4 1-2 2z"/><path class="a9" d="M341 186l 3-3 4 3-3 2z"/><path class="a2c" d="M450 210l 2-7 4 11-3 12z"/><path class="aa" d="M469 189l 2-2 4-6-2 4z"/><path class="ae" d="M375 184l 2-1 4-7-3-7z"/><path class="a2s" d="M360 194l 2-1 4-1-2 1z"/><path class="az" d="M386 168l 2 0 4-9-3-3z"/><path class="a2i" d="M455 237l 3-4 4-20-2 8z"/><path class="ad" d="M423 188l 2-13 4-5-2 7z"/><path class="a5" d="M345 188l 3-2 4 3-3 2z"/><path class="a1a" d="M430 160l 2-1 4-2-2-12z"/><path class="a5" d="M393 182l 3-3 4 14-2 0z"/><path class="a1t" d="M349 191l 3-2 4 4-3 2z"/><path class="a12" d="M394 142l 3 19 4 3-3-13z"/><path class="ai" d="M515 191l 2-3 4 1-2 2z"/><path class="a2a" d="M366 192l 3-1 4-4-3-1z"/><path class="a4" d="M507 180l 2-2 4 7-2 3z"/><path class="a3b" d="M462 211l 2-6 5-7-2-9z"/><path class="aa" d="M421 193l 2-5 4-11-2 5z"/><path class="af" d="M505 167l 2-1 4 10-2 2z"/><path class="a3s" d="M445 215l 2-1 4 18-2-2z"/><path class="a2l" d="M464 205l 3-19 4 3-2 9z"/><path class="a1a" d="M488 161l 2 0 5-9-2-7z"/><path class="a12" d="M453 142l 2 9 4 9-2-4z"/><path class="ak" d="M388 168l 2-8 4-18-2 17z"/><path class="a1h" d="M532 186l 2-2 4 2-2 2z"/><path class="a37" d="M410 203l 2 14 4-19-2-2z"/><path class="av" d="M510 132l 2 1 3 16-1 0z"/><path class="a25" d="M353 195l 3-2 4 1-3 2z"/><path class="a2r" d="M335 187l 2-2 4 1-2 2z"/><path class="a14" d="M394 162l 2 1 4 12-2 2z"/><path class="a3t" d="M445 141l 2 8 4-3-2-10z"/><path class="au" d="M452 178l 3-11 3 24-2 4z"/><path class="a15" d="M505 151l 3-11 3 15-2 7z"/><path class="a5" d="M509 190l 2-2 4 3-2 3z"/><path class="a13" d="M503 156l 2-5 4 11-2 4z"/><path class="aa" d="M419 197l 2-4 4-11-2 3z"/><path class="a2n" d="M401 209l 2-12 5 12-3-1z"/><path class="ai" d="M525 188l 2-2 5 0-2 3z"/><path class="a6" d="M328 189l 3-3 4 1-3 3z"/><path class="ap" d="M536 188l 2-2 4 2-2 2z"/><path class="a5" d="M450 186l 2-8 4 17-2 1z"/><path class="a8" d="M339 188l 2-2 4 2-2 3z"/><path class="a1f" d="M508 140l 2-8 4 17-3 6z"/><path class="ac" d="M519 191l 2-2 4-1-2 3z"/><path class="aq" d="M438 148l 2 4 5-11-2-14z"/><path class="a3c" d="M455 147l 2 9 4 14-2 3z"/><path class="ai" d="M513 194l 2-3 4 0-2 3z"/><path class="a5" d="M343 191l 2-3 4 3-2 3z"/><path class="a4" d="M505 182l 2-2 4 8-2 2z"/><path class="a2i" d="M453 233l 2 4 5-16-2 3z"/><path class="a1t" d="M347 194l 2-3 4 4-2 2z"/><path class="a15" d="M392 159l 2-17 4 9-2 12z"/><path class="ax" d="M477 177l 3-1 4-15-2 5z"/><path class="a2k" d="M403 197l 3 26 4-20-2 6z"/><path class="a2a" d="M357 196l 3-2 4-1-3 1z"/><path class="a3t" d="M449 136l 2 10 4 5-2-9z"/><path class="aa" d="M467 186l 2 3 4-4-2 4z"/><path class="a32" d="M447 226l 2 4 4 3-2 0z"/><path class="a2r" d="M332 190l 3-3 4 1-3 3z"/><path class="a1j" d="M530 189l 2-3 4 2-2 2z"/><path class="a1c" d="M501 131l 2 1 5-6-2-2z"/><path class="a1x" d="M507 194l 2-4 4 4-2 3z"/><path class="ab" d="M425 175l 2 13 5-32-3 14z"/><path class="a3b" d="M408 209l 2-6 4-7-2 3z"/><path class="a1i" d="M351 197l 2-2 4 1-2 2z"/><path class="a14" d="M503 166l 2 1 4 11-2 2z"/><path class="aa" d="M364 193l 2-1 4-6-2 2z"/><path class="a1x" d="M448 191l 2-5 4 10-2 7z"/><path class="a3t" d="M495 152l 2-5 4-4-2 7z"/><path class="ar" d="M389 156l 3 3 4 4-2-1z"/><path class="aa" d="M416 198l 3-1 4-12-3 2z"/><path class="a1t" d="M393 194l 2-1 4 8-2 0z"/><path class="a4" d="M391 181l 2 1 5 11-3 0z"/><path class="ay" d="M326 191l 2-2 4 1-2 2z"/><path class="a0" d="M523 191l 2-3 5 1-2 2z"/><path class="ak" d="M383 168l 3 0 3-12-2-3z"/><path class="a2w" d="M445 196l 3-5 4 12-2 7z"/><path class="a1m" d="M497 147l 2-8 5-6-3 10z"/><path class="a8" d="M336 191l 3-3 4 3-3 2z"/><path class="ap" d="M534 190l 2-2 4 2-2 2z"/><path class="am" d="M391 161l 3 1 4 15-2 2z"/><path class="as" d="M499 150l 2-7 4 8-2 5z"/><path class="a1" d="M517 194l 2-3 4 0-2 2z"/><path class="ab" d="M475 181l 2-4 5-11-2 6z"/><path class="a4" d="M503 186l 2-4 4 8-2 4z"/><path class="a14" d="M389 173l 2-12 5 18-3 3z"/><path class="a0" d="M511 197l 2-3 4 0-2 3z"/><path class="a2w" d="M454 196l 2-1 5-13-3 27z"/><path class="ad" d="M373 187l 2-3 3-15-2 12z"/><path class="a5" d="M340 193l 3-2 4 3-3 2z"/><path class="ar" d="M450 157l 3-11 4 32-2-11z"/><path class="a16" d="M501 152l 2 4 4 10-2 1z"/><path class="ad" d="M370 186l 3 1 3-6-2-10z"/><path class="a8" d="M538 192l 2-2 4 2-2 2z"/><path class="a1d" d="M501 143l 3-10 4 7-3 11z"/><path class="a3u" d="M443 213l 2 2 4 15-2-4z"/><path class="a29" d="M397 201l 2 0 4-4-2 12z"/><path class="a3v" d="M506 124l 2 2 4 7-2-1z"/><path class="a29" d="M443 199l 2-3 5 14-3 4z"/><path class="a1t" d="M344 196l 3-2 4 3-2 2zM504 198l 3-4 4 3-2 3z"/><path class="ad" d="M473 185l 2-4 5-9-2 6z"/><path class="a1c" d="M499 139l 2-8 5-7-2 9z"/><path class="a2u" d="M451 233l 2 0 5-9-2-15z"/><path class="a1t" d="M461 182l 1 17 5-13-3 19z"/><path class="a2z" d="M395 201l 2 0 4 8-2-5z"/><path class="a2r" d="M330 192l 2-2 4 1-2 2z"/><path class="ag" d="M455 167l 2 11 4-6-3 19z"/><path class="a1j" d="M528 191l 2-2 4 1-2 2z"/><path class="a16" d="M453 146l 2 1 4 26-2 5z"/><path class="a5" d="M500 191l 3-5 4 8-3 4z"/><path class="a2a" d="M355 198l 2-2 4-2-2 1z"/><path class="a17" d="M486 161l 2 0 5-16-2 1z"/><path class="ae" d="M469 198l 2-9 4-6-2 4z"/><path class="a1i" d="M349 199l 2-2 4 1-2 2z"/><path class="a34" d="M460 211l 2 0 5-22-3 27z"/><path class="ad" d="M471 189l 2-4 5-7-3 5z"/><path class="a2j" d="M381 176l 2-8 4-15-2 16z"/><path class="a4" d="M389 186l 2-5 4 12-2 1z"/><path class="a2a" d="M405 208l 3 1 4-10-3-21z"/><path class="a0" d="M521 193l 2-2 5 0-2 2z"/><path class="a3h" d="M504 133l 2-9 4 8-2 8z"/><path class="ap" d="M334 193l 2-2 4 2-2 3z"/><path class="a2l" d="M509 200l 2-3 4 0-2 3z"/><path class="a1k" d="M464 216l 3-27 4 1-2 9z"/><path class="aa" d="M361 194l 3-1 4-5-3-1z"/><path class="a1" d="M515 197l 2-3 4-1-2 3z"/><path class="a3" d="M532 192l 2-2 4 2-2 2z"/><path class="a14" d="M501 167l 2-1 4 14-2 2z"/><path class="a2s" d="M399 204l 2 5 4-1-2-13z"/><path class="a1t" d="M502 201l 2-3 5 2-2 3z"/><path class="a5" d="M498 196l 2-5 4 7-2 3z"/><path class="ab" d="M425 182l 2-5 4-7-2 6z"/><path class="a5" d="M338 196l 2-3 4 3-2 2z"/><path class="a3d" d="M436 157l 2-9 5-21-3-10z"/><path class="a29" d="M441 201l 2-2 4 15-2 1z"/><path class="az" d="M427 177l 2-7 4-9-2 9z"/><path class="ag" d="M444 181l 2-7 4 12-2 5z"/><path class="aq" d="M493 145l 2 7 4-2-1-12z"/><path class="a1x" d="M390 194l 3 0 4 7-2 0z"/><path class="a8" d="M536 194l 2-2 4 2-2 3z"/><path class="ak" d="M378 169l 3 7 4-7-3-19z"/><path class="a1t" d="M342 198l 2-2 5 3-3 2z"/><path class="a14" d="M446 174l 2-10 4 14-2 8z"/><path class="aa" d="M414 196l 2 2 4-11-2 0z"/><path class="a16" d="M385 169l 2-16 4 8-2 12z"/><path class="a1j" d="M526 193l 2-2 4 1-2 3z"/><path class="au" d="M441 186l 3-5 4 10-3 5z"/><path class="ab" d="M423 185l 2-3 4-6-2 3z"/><path class="a1m" d="M451 132l 2 10 4 14-2-9z"/><path class="a14" d="M499 173l 2-6 4 15-2 4z"/><path class="ap" d="M540 197l 2-3 5 2-2 3z"/><path class="a1s" d="M387 153l 2 3 5 6-3-1z"/><path class="a1t" d="M496 201l 2-5 4 5-2 4z"/><path class="a2a" d="M353 200l 2-2 4-3-3 2z"/><path class="a3w" d="M507 203l 2-3 4 0-2 2z"/><path class="a1n" d="M346 201l 3-2 4 1-3 2z"/><path class="ah" d="M429 170l 3-14 4-7-3 12z"/><path class="a3b" d="M462 213l 2 3 5-17-2-2z"/><path class="a2w" d="M500 205l 2-4 5 2-3 3z"/><path class="af" d="M497 180l 2-7 4 13-3 5z"/><path class="a1" d="M519 196l 2-3 5 0-2 3z"/><path class="a1k" d="M513 200l 2-3 4-1-2 2z"/><path class="a15" d="M499 150l 2 2 4 15-2-1z"/><path class="au" d="M494 188l 3-8 3 11-2 5z"/><path class="a3" d="M530 195l 2-3 4 2-2 3z"/><path class="am" d="M384 179l 2-19 5 21-2 5z"/><path class="a13" d="M448 164l 2-7 5 10-3 11z"/><path class="a3t" d="M484 161l 2 0 5-15-2-5z"/><path class="a5" d="M335 198l 3-2 4 2-3 3z"/><path class="aq" d="M498 138l 1 12 4 6-2-4z"/><path class="a2k" d="M445 215l 2 11 4 7-2-17z"/><path class="a4" d="M439 189l 2-3 4 10-2 3z"/><path class="a9" d="M534 197l 2-3 4 3-1 2z"/><path class="a4" d="M492 193l 2-5 4 8-2 5z"/><path class="a1t" d="M339 201l 3-3 4 3-2 3zM392 203l 3-2 4 3-3 2z"/><path class="a3x" d="M383 255l 2-12 4-1-2 10z"/><path class="a2w" d="M494 204l 2-3 4 4-2 4z"/><path class="ae" d="M359 195l 2-1 4-7-2 0zM412 199l 2-3 4-9-2-2z"/><path class="a34" d="M441 212l 2 1 4 13-2-11z"/><path class="a30" d="M386 160l 3 13 4 9-2-1z"/><path class="ab" d="M420 187l 3-2 4-6-3 2z"/><path class="a1z" d="M381 256l 2-1 4-3-2 2z"/><path class="a2w" d="M439 202l 2-1 4 14-2-2z"/><path class="a1j" d="M524 196l 2-3 4 2-2 2z"/><path class="au" d="M386 183l 3 3 4 8-3 0z"/><path class="a3p" d="M504 206l 3-3 4-1-2 3z"/><path class="a2q" d="M498 209l 2-4 4 1-2 4z"/><path class="a2s" d="M460 221l 2-8 5-16-3 6z"/><path class="ap" d="M539 199l 1-2 5 2-2 2z"/><path class="a5" d="M388 195l 2-1 5 7-3 2z"/><path class="a1k" d="M350 202l 3-2 3-3-2 4z"/><path class="a1o" d="M443 127l 2 14 4-5-2-9z"/><path class="a1n" d="M344 204l 2-3 4 1-2 3z"/><path class="a31" d="M440 172l 2-9 4 11-2 7z"/><path class="a1k" d="M511 202l 2-2 4-2-2 3z"/><path class="ab" d="M368 188l 2-2 4-15-3 9z"/><path class="a3c" d="M429 176l 2-6 4-2-2 6z"/><path class="a14" d="M437 178l 3-6 4 9-3 5z"/><path class="a1o" d="M447 127l 2 9 4 6-2-10z"/><path class="ae" d="M467 189l 2 9 4-11-2 3z"/><path class="a1m" d="M432 156l 2-11 4-6-2 10z"/><path class="a1" d="M517 198l 2-2 5 0-2 2z"/><path class="a5" d="M490 197l 2-4 4 8-2 3z"/><path class="a3" d="M528 197l 2-2 4 2-2 2z"/><path class="a11" d="M431 170l 2-9 5-3-3 10z"/><path class="a5" d="M333 201l 2-3 4 3-2 2z"/><path class="a4" d="M437 191l 2-2 4 10-2 2z"/><path class="a2w" d="M492 208l 2-4 4 5-2 3z"/><path class="a37" d="M458 224l 2-3 4-18-2 6z"/><path class="a15" d="M442 163l 2-14 4 15-2 10z"/><path class="a30" d="M427 179l 2-3 4-2-2 4z"/><path class="a9" d="M532 199l 2-2 5 2-2 3z"/><path class="a1t" d="M337 203l 2-2 5 3-3 2z"/><path class="ak" d="M374 171l 2 10 4-4-3-27zM478 178l 2-6 4-13-2 8z"/><path class="a3c" d="M433 174l 2-6 5 4-3 6z"/><path class="af" d="M435 182l 2-4 4 8-2 3z"/><path class="ax" d="M365 187l 3 1 3-8-3-11z"/><path class="az" d="M475 183l 3-5 4-11-2 9z"/><path class="a2q" d="M496 212l 2-3 4 1-2 2z"/><path class="a3p" d="M502 210l 2-4 5-1-2 3z"/><path class="ah" d="M480 172l 2-6 5-16-3 9z"/><path class="a11" d="M435 168l 3-10 4 5-2 9z"/><path class="af" d="M488 183l 2-7 4 12-2 5z"/><path class="ax" d="M473 187l 2-4 5-7-2 0z"/><path class="a1t" d="M390 204l 2-1 4 3-2 2z"/><path class="a36" d="M378 235l 3-7 4 15-2 12z"/><path class="a5" d="M488 201l 2-4 4 7-2 4z"/><path class="a22" d="M376 237l 2-2 5 20-2 1z"/><path class="a1k" d="M348 205l 2-3 4-1-2 3z"/><path class="a1j" d="M522 198l 2-2 4 1-2 2z"/><path class="a2j" d="M376 181l 2-12 4-19-2 27z"/><path class="ap" d="M537 202l 2-3 4 2-2 3z"/><path class="a3t" d="M482 166l 2-5 5-20-2 9z"/><path class="ag" d="M384 186l 2-3 4 11-2 1z"/><path class="a39" d="M385 243l 2-14 4-1-2 14z"/><path class="al" d="M490 176l 3-10 4 14-3 8z"/><path class="ae" d="M356 197l 3-2 4-8-3 3z"/><path class="a1n" d="M341 206l 3-2 4 1-3 3z"/><path class="a37" d="M443 233l 2-18 4 1-2-5z"/><path class="a1k" d="M509 205l 2-3 4-1-2 2z"/><path class="a11" d="M380 177l 2-27 4 10-2 19z"/><path class="am" d="M431 178l 2-4 4 4-2 4z"/><path class="a1" d="M515 201l 2-3 5 0-2 2z"/><path class="ab" d="M418 187l 2 0 4-6-2 0z"/><path class="ah" d="M382 150l 3 19 4 4-3-13z"/><path class="as" d="M497 147l 2 3 4 16-2 1z"/><path class="a2a" d="M396 206l 3-2 4-9-2 7z"/><path class="a3y" d="M495 139l 3-1 3 14-2-2z"/><path class="a3d" d="M491 146l 2-1 5-7-3 1z"/><path class="a4" d="M386 196l 2-1 4 8-2 1z"/><path class="a2w" d="M490 211l 2-3 4 4-2 3z"/><path class="a3" d="M526 199l 2-2 4 2-2 2z"/><path class="ar" d="M493 166l 2-11 4 18-2 7z"/><path class="a1d" d="M444 149l 2-15 4 23-2 7z"/><path class="a5" d="M330 203l 3-2 4 2-3 3z"/><path class="ad" d="M469 199l 2-9 4-4-2-4z"/><path class="ag" d="M486 186l 2-3 4 10-2 4z"/><path class="ax" d="M424 181l 3-2 4-1-2 2z"/><path class="a1f" d="M433 161l 3-12 4-7-2 16z"/><path class="a9" d="M530 201l 2-2 5 3-2 2z"/><path class="af" d="M433 183l 2-1 4 7-2 2z"/><path class="a1t" d="M334 206l 3-3 4 3-2 2zM437 201l 2 1 4 11-2-1z"/><path class="a3z" d="M494 215l 2-3 4 0-2 3z"/><path class="a2a" d="M394 208l 2-2 5-4-3 3z"/><path class="a3p" d="M500 212l 2-2 5-2-2 3z"/><path class="as" d="M495 155l 2-8 4 20-2 6z"/><path class="a1x" d="M486 204l 2-3 4 7-2 3z"/><path class="a3w" d="M345 208l 3-3 4-1-3 3z"/><path class="a4" d="M435 191l 2 0 4 10-2 1z"/><path class="a2c" d="M381 228l 2-9 4 10-2 14z"/><path class="au" d="M484 193l 2-7 4 11-2 4z"/><path class="a1t" d="M388 207l 2-3 4 4-2 4z"/><path class="ae" d="M354 201l 2-4 4-7-2 4z"/><path class="a1j" d="M520 200l 2-2 4 1-2 2z"/><path class="a3v" d="M449 127l 2 5 4 15-2-1z"/><path class="ab" d="M471 190l 2-3 5-11-3 10z"/><path class="av" d="M438 158l 2-16 4 7-2 14z"/><path class="a8" d="M535 204l 2-2 4 2-2 2z"/><path class="a1p" d="M339 208l 2-2 4 2-2 2z"/><path class="a1k" d="M507 208l 2-3 4-2-2 3z"/><path class="aa" d="M401 202l 2-7 4 4-2-3z"/><path class="am" d="M429 180l 2-2 4 4-2 1z"/><path class="a3i" d="M378 249l 3 7 4-2-3-7z"/><path class="a1" d="M513 203l 2-2 5-1-2 3z"/><path class="a3d" d="M434 145l 2 12 4-40-2 22z"/><path class="a29" d="M488 214l 2-3 4 4-2 2z"/><path class="a40" d="M387 229l 2-11 5-1-3 11z"/><path class="a1h" d="M539 206l 2-2 4 1-2 3z"/><path class="a3" d="M524 201l 2-2 4 2-2 3z"/><path class="a2y" d="M381 161l 3 18 5 7-3-3z"/><path class="a9" d="M328 206l 2-3 4 3-2 2z"/><path class="a13" d="M484 174l 2-11 4 13-2 7zM379 177l 2-16 5 22-2 3z"/><path class="a2w" d="M385 212l 3-5 4 5-3 6z"/><path class="a3p" d="M392 212l 2-4 4-3-2 5z"/><path class="a4" d="M383 198l 3-2 4 8-2 3z"/><path class="a2n" d="M383 219l 2-7 4 6-2 11z"/><path class="aa" d="M352 204l 2-3 4-7-3 6z"/><path class="a3e" d="M374 235l 2 2 5 19-3-7z"/><path class="a3z" d="M492 217l 2-2 4 0-2 3z"/><path class="a1t" d="M483 207l 3-3 4 7-2 3z"/><path class="a2u" d="M387 252l 2-10 4-16-2 6z"/><path class="a2l" d="M343 210l 2-2 4-1-2 4z"/><path class="a2t" d="M498 215l 2-3 5-1-2 2z"/><path class="a9" d="M528 204l 2-3 5 3-3 2z"/><path class="a1x" d="M332 208l 2-2 5 2-3 3z"/><path class="a3v" d="M446 134l 3-7 4 19-3 11z"/><path class="a12" d="M480 176l 2-9 4-4-2 11z"/><path class="a2f" d="M389 218l 3-6 4-2-2 7z"/><path class="af" d="M381 182l 3 4 4 9-2 1z"/><path class="a3p" d="M436 206l 3 1 4 26-3-22z"/><path class="az" d="M422 181l 2 0 5-1-3-1z"/><path class="a8" d="M532 206l 3-2 4 2-2 3z"/><path class="a1j" d="M518 203l 2-3 4 1-2 3z"/><path class="a3p" d="M505 211l 2-3 4-2-2 3z"/><path class="a1p" d="M336 211l 3-3 4 2-3 3z"/><path class="az" d="M416 185l 2 2 4-6-2-3z"/><path class="au" d="M482 192l 2 1 4 8-2 3z"/><path class="a14" d="M430 183l 3 0 4 8-2 0z"/><path class="a2s" d="M456 209l 2 15 4-15-2-8z"/><path class="a2o" d="M449 216l 2 17 5-24-3 16z"/><path class="aa" d="M349 207l 3-3 3-4-2 4z"/><path class="ak" d="M478 176l 2 0 4-2-2-2z"/><path class="ax" d="M407 199l 2-21 4 8-2-4z"/><path class="am" d="M480 185l 2-13 4 14-2 7z"/><path class="a1" d="M511 206l 2-3 5 0-2 2z"/><path class="an" d="M486 163l 3-9 4 12-3 10z"/><path class="a1o" d="M489 141l 2 5 4-7-1-9z"/><path class="a2n" d="M439 207l 2 5 4 3-2 18z"/><path class="a2s" d="M447 211l 2 5 4 9-2-15z"/><path class="a29" d="M485 216l 3-2 4 3-2 3z"/><path class="a3t" d="M482 167l 2-8 5-5-3 9z"/><path class="a2o" d="M389 242l 2-14 4-11-2 9z"/><path class="a2d" d="M385 254l 2-2 4-20-3 2z"/><path class="a3c" d="M482 172l 2 2 4 9-2 3z"/><path class="ad" d="M464 203l 3-6 4-4-2-6z"/><path class="a1h" d="M537 209l 2-3 4 2-2 2z"/><path class="a41" d="M438 139l 2-22 5 3-3 3z"/><path class="ac" d="M434 201l 3 0 4 11-2-5z"/><path class="a3" d="M522 204l 2-3 4 3-2 2z"/><path class="a4" d="M381 201l 2-3 5 9-3 5z"/><path class="au" d="M479 199l 3-7 4 12-3 3z"/><path class="ag" d="M432 190l 3 1 4 11-2-1z"/><path class="a3c" d="M426 179l 3 1 4 3-3 0z"/><path class="a2j" d="M363 187l 2 0 3-18-2 2z"/><path class="ah" d="M377 150l 3 27 4 2-3-18z"/><path class="ae" d="M398 205l 3-3 4-6-3-1z"/><path class="a3l" d="M445 120l 2 7 4 5-2-5z"/><path class="a2l" d="M340 213l 3-3 4 1-3 2z"/><path class="a1o" d="M436 149l 2-10 4-16-2 19z"/><path class="a41" d="M440 117l 3 10 4 0-2-7z"/><path class="a3z" d="M490 220l 2-3 4 1-2 2z"/><path class="a2t" d="M496 218l 2-3 5-2-3 3z"/><path class="a1t" d="M481 209l 2-2 5 7-3 2z"/><path class="ad" d="M467 197l 2 2 4-17-2 11z"/><path class="a2a" d="M453 225l 3-16 4-8-2 8z"/><path class="a5" d="M526 206l 2-2 4 2-2 3z"/><path class="a1x" d="M329 211l 3-3 4 3-2 2z"/><path class="ae" d="M403 195l 2 13 4-30-2 21z"/><path class="a3c" d="M475 186l 3-10 4-4-2 13z"/><path class="a1r" d="M440 142l 2-19 4 11-2 15z"/><path class="a1d" d="M489 154l 2-12 4 13-2 11z"/><path class="a42" d="M484 159l 3-9 4-8-2 12z"/><path class="a1k" d="M347 211l 2-4 4-3-2 5z"/><path class="a5" d="M378 206l 3-5 4 11-2 7z"/><path class="a2a" d="M503 213l 2-2 4-2-2 2z"/><path class="a8" d="M530 209l 2-3 5 3-2 2z"/><path class="a43" d="M494 130l 1 9 4 11-2-3z"/><path class="a1j" d="M516 205l 2-2 4 1-2 2z"/><path class="a1q" d="M334 213l 2-2 4 2-2 2z"/><path class="a2w" d="M376 211l 2-5 5 13-2 9z"/><path class="a2n" d="M374 216l 2-5 5 17-3 7z"/><path class="ah" d="M371 180l 3-9 3-21-2 24z"/><path class="ab" d="M409 178l 3 21 4-14-3 1z"/><path class="a1k" d="M509 209l 2-3 5-1-3 3z"/><path class="a29" d="M483 219l 2-3 5 4-3 2z"/><path class="a14" d="M379 183l 2-1 5 14-3 2z"/><path class="a2s" d="M391 228l 3-11 4-9-3 9z"/><path class="a2j" d="M473 182l 2 4 5-1-2-8z"/><path class="a17" d="M368 169l 3 11 4-6-3-26z"/><path class="a1h" d="M535 211l 2-2 4 1-2 3z"/><path class="a2e" d="M371 220l 3-4 4 19-2 2z"/><path class="a3" d="M520 206l 2-2 4 2-2 3z"/><path class="as" d="M375 174l 2-24 4 11-2 16z"/><path class="ak" d="M360 190l 3-3 3-16-2 1z"/><path class="a1t" d="M479 212l 2-3 4 7-2 3z"/><path class="a3v" d="M491 142l 3-12 3 17-2 8z"/><path class="a25" d="M338 215l 2-2 4 0-2 3z"/><path class="aa" d="M344 213l 3-2 4-2-3 2z"/><path class="a3z" d="M487 222l 3-2 4 0-2 3z"/><path class="a2t" d="M494 220l 2-2 4-2-2 3z"/><path class="am" d="M475 193l 3-16 4 15-3 7z"/><path class="a1b" d="M487 150l 2-9 5-11-3 12z"/><path class="a5" d="M524 209l 2-3 4 3-2 2z"/><path class="ae" d="M396 210l 2-5 4-10-2 6z"/><path class="ak" d="M413 186l 3-1 4-7-3-8z"/><path class="a1t" d="M327 213l 2-2 5 2-3 2z"/><path class="aa" d="M394 217l 2-7 4-9-2 7z"/><path class="ak" d="M420 178l 2 3 4-2-2-3z"/><path class="a30" d="M478 177l 2 8 4 8-2-1z"/><path class="ae" d="M462 209l 2-6 5-16-3 12z"/><path class="a30" d="M428 180l 2 3 5 8-3-1z"/><path class="au" d="M477 197l 2 2 4 8-2 2z"/><path class="a2a" d="M500 216l 3-3 4-2-2 3z"/><path class="a8" d="M528 211l 2-2 5 2-2 3z"/><path class="ac" d="M434 223l 2-17 4 5-2 4z"/><path class="ay" d="M513 208l 3-3 4 1-2 3z"/><path class="a1q" d="M331 215l 3-2 4 2-3 2z"/><path class="a1k" d="M445 225l 2-14 4-1-2 5zM507 211l 2-2 4-1-2 2z"/><path class="au" d="M432 205l 2-4 5 6-3-1z"/><path class="ab" d="M353 204l 2-4 4-7-3-4z"/><path class="a1t" d="M438 215l 2-4 5 14-3-5z"/><path class="a29" d="M481 221l 2-2 4 3-2 3z"/><path class="a44" d="M442 123l 3-3 4 7-3 7z"/><path class="a4" d="M475 205l 2-8 4 12-2 3z"/><path class="a1h" d="M533 214l 2-3 4 2-2 2z"/><path class="a14" d="M376 185l 3-2 4 15-2 3z"/><path class="a2j" d="M358 194l 2-4 4-18-3 6zM405 196l 2 3 4-17-3-19z"/><path class="a33" d="M371 232l 3 3 4 14-3-9z"/><path class="a3" d="M518 209l 2-3 4 3-2 2z"/><path class="ak" d="M424 176l 2 3 4 4-2-3z"/><path class="a2n" d="M369 221l 2-1 5 17-2-2z"/><path class="a2u" d="M382 247l 3 7 3-20-2-2z"/><path class="a30" d="M471 193l 2-11 5-5-3 16z"/><path class="a14" d="M430 186l 2 4 5 11-3 0z"/><path class="a2t" d="M492 223l 2-3 4-1-2 2z"/><path class="ai" d="M335 217l 3-2 4 1-3 2z"/><path class="a3z" d="M485 225l 2-3 5 1-2 2z"/><path class="a2u" d="M375 240l 3 9 4-2-3-9z"/><path class="a3b" d="M440 211l 3 22 4-22-2 14z"/><path class="a1t" d="M477 214l 2-2 4 7-2 2z"/><path class="a1k" d="M342 216l 2-3 4-2-2 4z"/><path class="a12" d="M376 159l 3 18 5 9-3-4z"/><path class="ax" d="M355 200l 3-6 3-16-2 15z"/><path class="a45" d="M424 265l 3-7 4-4-2 7z"/><path class="a5" d="M522 211l 2-2 4 2-2 3z"/><path class="a8" d="M324 215l 3-2 4 2-3 3z"/><path class="ad" d="M460 201l 2 8 4-10-2-9z"/><path class="a2a" d="M498 219l 2-3 5-2-2 2z"/><path class="a8" d="M526 214l 2-3 5 3-2 2z"/><path class="af" d="M374 191l 2-6 5 16-3 5z"/><path class="az" d="M469 187l 2 6 4 0-2-12z"/><path class="ag" d="M372 200l 2-9 4 15-2 5z"/><path class="ay" d="M511 210l 2-2 5 1-2 2z"/><path class="a1q" d="M328 218l 3-3 4 2-2 3z"/><path class="a1k" d="M505 214l 2-3 4-1-2 3z"/><path class="ae" d="M348 211l 3-2 4-4-3-8z"/><path class="aa" d="M451 210l 2 15 5-16-2-2z"/><path class="a29" d="M479 223l 2-2 4 4-2 2z"/><path class="a39" d="M427 258l 2-13 4-3-2 12z"/><path class="a36" d="M420 248l 2-5 5 15-3 7z"/><path class="a1h" d="M531 216l 2-2 4 1-2 3z"/><path class="a3" d="M516 211l 2-2 4 2-2 2z"/><path class="a14" d="M471 199l 2-18 4 16-2 8z"/><path class="a1k" d="M339 218l 3-2 4-1-3 1z"/><path class="ad" d="M351 209l 2-5 3-15-1 16z"/><path class="a1t" d="M436 222l 2-7 4 5-2 2z"/><path class="a2t" d="M490 225l 2-2 4-2-2 3z"/><path class="a1t" d="M475 217l 2-3 4 7-2 2z"/><path class="a3z" d="M483 227l 2-2 5 0-3 3z"/><path class="a1i" d="M333 220l 2-3 4 1-2 3z"/><path class="au" d="M369 202l 3-2 4 11-2 5z"/><path class="a2a" d="M442 220l 3 5 4-10-2 1z"/><path class="a5" d="M520 213l 2-2 4 3-2 2z"/><path class="a2g" d="M422 263l 2 2 5-4-3-2z"/><path class="ax" d="M473 181l 2 12 4 6-2-2z"/><path class="a2b" d="M422 243l 3-9 4 11-2 13z"/><path class="a4" d="M367 210l 2-8 5 14-3 4z"/><path class="a8" d="M322 218l 2-3 4 3-2 2z"/><path class="a2a" d="M432 217l 2 6 4-8-2 7zM496 221l 2-2 5-3-2 3z"/><path class="au" d="M473 202l 2 3 4 7-2 2z"/><path class="a9" d="M524 216l 2-2 5 2-2 3z"/><path class="ay" d="M509 213l 2-3 5 1-2 3z"/><path class="aq" d="M372 148l 3 26 4 3-3-18z"/><path class="a36" d="M418 248l 2 0 4 17-2-2z"/><path class="ag" d="M427 198l 3-8 4 33-2-6z"/><path class="a1k" d="M503 216l 2-2 4-1-2 2z"/><path class="a29" d="M366 223l 3-2 5 14-3-3z"/><path class="a1p" d="M326 220l 2-2 5 2-3 2z"/><path class="as" d="M374 163l 2-4 5 23-2 1z"/><path class="aa" d="M393 226l 2-9 4-11-2 6z"/><path class="a1t" d="M429 220l 3-3 4 5-2 4z"/><path class="a1h" d="M529 219l 2-3 4 2-2 3z"/><path class="a2a" d="M391 232l 2-6 4-14-2 5z"/><path class="ae" d="M449 215l 2-5 5-3-3 3z"/><path class="a40" d="M429 245l 2-12 5-1-3 10z"/><path class="au" d="M471 210l 2-8 4 12-2 3z"/><path class="a2w" d="M477 225l 2-2 4 4-2 2z"/><path class="a12" d="M426 173l 2 7 4 10-2-4z"/><path class="a2l" d="M434 226l 2-4 4 0-2 3z"/><path class="a30" d="M466 199l 3-12 4-6-2 18z"/><path class="a3" d="M514 214l 2-3 4 2-2 3z"/><path class="a2e" d="M425 234l 2-8 4 7-2 12z"/><path class="ae" d="M395 217l 3-9 4-10-3 8z"/><path class="a1k" d="M337 221l 2-3 4-2-2 4z"/><path class="ab" d="M458 209l 2-8 4-11-2 14z"/><path class="a2t" d="M487 228l 3-3 4-1-2 2z"/><path class="a3t" d="M411 182l 2 4 4-16-2-16zM417 170l 3 8 4-2-2-9z"/><path class="a2w" d="M427 226l 2-6 5 6-3 7z"/><path class="a3z" d="M481 229l 2-2 4 1-2 2z"/><path class="a5" d="M518 216l 2-3 4 3-2 3z"/><path class="a1i" d="M330 222l 3-2 4 1-3 2z"/><path class="a1x" d="M473 218l 2-1 4 6-2 2z"/><path class="a2f" d="M431 233l 3-7 4-1-2 7z"/><path class="ap" d="M319 220l 3-2 4 2-3 2z"/><path class="aa" d="M440 222l 2-2 5-4-3 1z"/><path class="ab" d="M456 207l 2 2 4-5-2-10z"/><path class="a2a" d="M494 224l 2-3 5-2-3 2z"/><path class="az" d="M464 190l 2 9 5 0-2-15z"/><path class="a16" d="M367 189l 2-20 5 22-2 9z"/><path class="a9" d="M522 219l 2-3 5 3-2 2z"/><path class="al" d="M428 178l 2 8 4 15-2 4z"/><path class="ae" d="M343 216l 3-1 4-4-3-5z"/><path class="ay" d="M507 215l 2-2 5 1-2 2z"/><path class="a4" d="M364 209l 3 1 4 10-2 1z"/><path class="ax" d="M398 208l 2-7 4-13-2 10z"/><path class="ae" d="M346 215l 2-4 4-14-2 14z"/><path class="a1k" d="M501 219l 2-3 4-1-2 3z"/><path class="a2s" d="M388 234l 3-2 4-15-3 2z"/><path class="a3o" d="M368 230l 3 2 4 8-2-6z"/><path class="a10" d="M323 222l 3-2 4 2-3 2z"/><path class="am" d="M363 203l 1-23 5 22-2 8z"/><path class="a3t" d="M422 167l 2 9 4 4-2-7z"/><path class="a10" d="M527 221l 2-2 4 2-2 2z"/><path class="a37" d="M379 238l 3 9 4-15-3-4z"/><path class="au" d="M425 208l 2-10 5 19-3 3z"/><path class="a42" d="M366 171l 2-2 4-21-2 7z"/><path class="au" d="M430 190l 2 15 4 1-2 17z"/><path class="ah" d="M356 189l 3 4 4-7-3-16z"/><path class="a7" d="M512 216l 2-2 4 2-2 3z"/><path class="a2j" d="M400 201l 2-6 4-18-2 11z"/><path class="ae" d="M447 216l 2-1 4-5-2-1z"/><path class="am" d="M466 205l 3-21 4 18-2 8z"/><path class="a2w" d="M475 227l 2-2 4 4-2 2z"/><path class="a1f" d="M371 164l 3-1 5 20-3 2z"/><path class="a1k" d="M334 223l 3-2 4-1-3 2z"/><path class="a2t" d="M485 230l 2-2 5-2-2 2z"/><path class="a4" d="M362 216l 2-7 5 12-3 2z"/><path class="a5" d="M516 219l 2-3 4 3-2 2z"/><path class="a11" d="M425 181l 3-3 4 27-2-15z"/><path class="a24" d="M327 224l 3-2 4 1-2 2z"/><path class="a3z" d="M479 231l 2-2 4 1-2 2z"/><path class="ax" d="M469 184l 2 15 4 6-2-3z"/><path class="a4" d="M423 215l 2-7 4 12-2 6z"/><path class="a37" d="M373 234l 2 6 4-2-2-6z"/><path class="a2j" d="M352 197l 3 8 3-4-3-23z"/><path class="ap" d="M317 223l 2-3 4 2-2 3z"/><path class="aa" d="M438 225l 2-3 4-5-2 2z"/><path class="a5" d="M470 220l 3-2 4 7-2 2z"/><path class="a2a" d="M492 226l 2-2 4-3-2 3z"/><path class="a2w" d="M364 224l 2-1 5 9-3-2z"/><path class="a9" d="M520 221l 2-2 5 2-3 3z"/><path class="a1x" d="M420 221l 3-6 4 11-2 8z"/><path class="a29" d="M418 227l 2-6 5 13-3 9z"/><path class="ay" d="M505 218l 2-3 5 1-3 3z"/><path class="a42" d="M364 172l 2-1 4-16-3 0z"/><path class="au" d="M469 205l 2 5 4 7-2 1z"/><path class="a2n" d="M416 231l 2-4 4 16-2 5z"/><path class="a2k" d="M429 261l 2-7 4-19-2 5z"/><path class="a1k" d="M498 221l 3-2 4-1-2 2z"/><path class="a1a" d="M402 195l 3 1 3-33-2 14z"/><path class="a37" d="M431 254l 2-12 5-14-3 7z"/><path class="a46" d="M415 245l 3 3 4 15-2-8z"/><path class="as" d="M369 169l 2-5 5 21-2 6z"/><path class="a10" d="M321 225l 2-3 4 2-2 2zM524 224l 3-3 4 2-2 3z"/><path class="a2d" d="M420 255l 2 8 4-4-2-7z"/><path class="a17" d="M359 193l 2-15 4-19-2 27z"/><path class="a7" d="M509 219l 3-3 4 3-2 2z"/><path class="a3c" d="M364 180l 3 9 5 11-3 2z"/><path class="ac" d="M332 225l 2-2 4-1-2 3z"/><path class="a2a" d="M436 232l 2-7 4-6-2 3z"/><path class="a2s" d="M433 242l 3-10 4-10-2 6z"/><path class="a3c" d="M462 204l 2-14 5-6-3 21z"/><path class="au" d="M466 213l 3-8 4 13-3 2z"/><path class="a5" d="M514 221l 2-2 4 2-2 3z"/><path class="ae" d="M341 220l 2-4 4-10-3 7z"/><path class="a2t" d="M483 232l 2-2 5-2-2 3z"/><path class="a2w" d="M472 228l 3-1 4 4-2 2z"/><path class="a2a" d="M386 232l 2 2 4-15-2 0z"/><path class="a1n" d="M325 226l 2-2 5 1-3 3z"/><path class="a3v" d="M370 155l 2-7 4 11-2 4z"/><path class="a2e" d="M413 233l 3-2 4 17-2 0z"/><path class="a10" d="M314 225l 3-2 4 2-3 2z"/><path class="a9" d="M518 224l 2-3 4 3-2 3z"/><path class="a14" d="M358 209l 1-20 5 20-2 7z"/><path class="a2a" d="M490 228l 2-2 4-2-2 2z"/><path class="a18" d="M355 205l 1-16 4-19-2 31z"/><path class="ae" d="M444 217l 3-1 4-7-2 2z"/><path class="a1f" d="M363 186l 2-27 4 10-2 20z"/><path class="a3z" d="M477 233l 2-2 4 1-2 2z"/><path class="a42" d="M361 178l 3-6 3-17-2 4z"/><path class="ay" d="M503 220l 2-2 4 1-2 2z"/><path class="a11" d="M358 201l 2-31 4 10-1 23z"/><path class="a4" d="M359 216l 3 0 4 7-2 1z"/><path class="a2j" d="M460 194l 2 10 4 1-2-17z"/><path class="a1k" d="M496 224l 2-3 5-1-2 3z"/><path class="ae" d="M338 222l 3-2 3-7-2 5z"/><path class="ab" d="M453 210l 3-3 4-13-2 13z"/><path class="a5" d="M468 221l 2-1 5 7-3 1z"/><path class="a10" d="M522 227l 2-3 5 2-2 2z"/><path class="a2m" d="M426 259l 3 2 4-21-2 1z"/><path class="a10" d="M318 227l 3-2 4 1-3 3z"/><path class="a3a" d="M366 231l 2-1 5 4-3-1z"/><path class="ab" d="M397 212l 2-6 4-7-2 6z"/><path class="ax" d="M451 209l 2 1 5-3-2-11z"/><path class="a1x" d="M361 226l 3-2 4 6-2 1z"/><path class="a3" d="M507 221l 2-2 5 2-2 3z"/><path class="ax" d="M347 206l 3 5 3-5-3-15z"/><path class="ac" d="M329 228l 3-3 4 0-3 3z"/><path class="aq" d="M423 162l 3 11 4 13-2-8z"/><path class="aj" d="M359 189l 4 14 4 7-3-1z"/><path class="a2j" d="M399 206l 3-8 4-9-3 10z"/><path class="ag" d="M416 210l 2-8 5 13-3 6z"/><path class="ad" d="M395 217l 2-5 4-7-2 5z"/><path class="a5" d="M512 224l 2-3 4 3-2 3z"/><path class="am" d="M418 202l 3-10 4 16-2 7z"/><path class="a3p" d="M481 234l 2-2 5-1-3 2z"/><path class="al" d="M462 208l 2-20 5 17-3 8z"/><path class="a23" d="M322 229l 3-3 4 2-3 2z"/><path class="au" d="M414 215l 2-5 4 11-2 6z"/><path class="a3v" d="M367 155l 3 0 4 8-3 1z"/><path class="aa" d="M336 225l 2-3 4-4-2 4z"/><path class="a10" d="M311 228l 3-3 4 2-3 2z"/><path class="a9" d="M516 227l 2-3 4 3-2 2z"/><path class="a17" d="M360 170l 3 16 4 3-3-9z"/><path class="a2a" d="M488 231l 2-3 4-2-2 3z"/><path class="a4" d="M357 220l 2-4 5 8-3 2z"/><path class="ay" d="M501 223l 2-3 4 1-2 3z"/><path class="ax" d="M464 188l 2 17 5 5-2-5z"/><path class="a1t" d="M470 229l 2-1 5 5-3 1z"/><path class="a2a" d="M377 232l 2 6 4-10-2-4z"/><path class="a1k" d="M494 226l 2-2 5-1-2 3z"/><path class="ad" d="M442 219l 2-2 5-6-2-2z"/><path class="a25" d="M474 234l 3-1 4 1-2 2z"/><path class="a2s" d="M370 233l 3 1 4-2-3-2z"/><path class="a10" d="M520 229l 2-2 5 1-2 3z"/><path class="a13" d="M421 192l 2-6 4 12-2 10z"/><path class="a15" d="M423 186l 2-5 5 9-3 8z"/><path class="a4" d="M411 219l 3-4 4 12-2 4z"/><path class="a1h" d="M315 229l 3-2 4 2-2 2z"/><path class="a3" d="M505 224l 2-3 5 3-2 2z"/><path class="a29" d="M411 233l 2 0 5 15-3-3z"/><path class="a2y" d="M350 211l 2-14 3-19-2 28z"/><path class="ah" d="M402 198l 2-10 4-13-2 14z"/><path class="ad" d="M392 219l 3-2 4-7-3 2z"/><path class="ai" d="M326 230l 3-2 4 0-3 2z"/><path class="a12" d="M355 178l 3 23 5 2-4-14z"/><path class="a1" d="M333 228l 3-3 4-3-3 6z"/><path class="a4" d="M466 221l 2 0 4 7-2 1z"/><path class="ao" d="M464 207l 2 6 4 7-2 1z"/><path class="a5" d="M510 226l 2-2 4 3-2 2z"/><path class="a16" d="M353 206l 2-28 4 11-1 20z"/><path class="a5" d="M359 229l 2-3 5 5-3 1z"/><path class="aa" d="M383 228l 3 4 4-13-3-1z"/><path class="a3d" d="M419 156l 3 11 4 6-3-11z"/><path class="a1o" d="M415 154l 2 16 5-3-3-11z"/><path class="a19" d="M355 199l 3 10 4 7-3 0z"/><path class="a3v" d="M365 159l 2-4 4 9-2 5z"/><path class="a2l" d="M363 232l 3-1 4 2-3 1z"/><path class="a1h" d="M320 231l 2-2 4 1-2 2z"/><path class="a3p" d="M479 236l 2-2 4-1-2 2z"/><path class="a8" d="M514 229l 2-2 4 2-2 3z"/><path class="a3d" d="M406 177l 2-14 5 0-3 1z"/><path class="a4" d="M355 223l 2-3 4 6-2 3z"/><path class="a1h" d="M309 230l 2-2 4 1-2 3z"/><path class="ay" d="M499 226l 2-3 4 1-2 3z"/><path class="a1k" d="M485 233l 3-2 4-2-2 2z"/><path class="a13" d="M458 207l 2-13 4-6-2 20z"/><path class="a34" d="M413 242l 2 3 5 10-3-6z"/><path class="a1k" d="M492 229l 2-3 5 0-3 2z"/><path class="a3c" d="M401 205l 2-6 4-2-2 7z"/><path class="a14" d="M409 208l 3-7 4 9-2 5z"/><path class="a1m" d="M404 188l 2-11 4-13-2 11z"/><path class="a3c" d="M412 201l 2-10 4 11-2 8z"/><path class="a14" d="M352 210l 3-11 4 17-2 4z"/><path class="a4" d="M409 222l 2-3 5 12-3 2z"/><path class="a1h" d="M518 232l 2-3 5 2-2 2z"/><path class="a2l" d="M472 236l 2-2 5 2-2 2z"/><path class="ac" d="M330 230l 3-2 4 0-2 2z"/><path class="a5" d="M468 230l 2-1 4 5-2 2z"/><path class="a1h" d="M313 232l 2-3 5 2-3 3z"/><path class="a3" d="M503 227l 2-3 5 2-3 3z"/><path class="a2o" d="M417 249l 3 6 4-3-2-4z"/><path class="ab" d="M342 218l 2-5 4-8-2 6z"/><path class="a30" d="M399 210l 2-5 4-1-2 4z"/><path class="ab" d="M440 222l 2-3 5-10-3 2z"/><path class="ai" d="M324 232l 2-2 4 0-2 3z"/><path class="a12" d="M403 199l 3-10 4-3-3 11z"/><path class="a2o" d="M424 252l 2 7 5-18-3-1z"/><path class="ak" d="M456 196l 2 11 4 1-2-19z"/><path class="af" d="M407 212l 2-4 5 7-3 4z"/><path class="a2j" d="M350 191l 3 15 5 3-3-10z"/><path class="a5" d="M507 229l 3-3 4 3-2 3z"/><path class="af" d="M462 211l 2-4 4 14-2 0z"/><path class="ag" d="M350 215l 2-5 5 10-2 3z"/><path class="a3c" d="M405 204l 2-7 5 4-3 7z"/><path class="ad" d="M340 222l 2-4 4-7-3 8zM390 219l 2 0 4-7-2 1z"/><path class="a5" d="M356 231l 3-2 4 3-2 3z"/><path class="at" d="M414 191l 2-15 5 16-3 10z"/><path class="az" d="M344 213l 3-7 3-15-2 14z"/><path class="a4" d="M352 227l 3-4 4 6-3 2z"/><path class="aa" d="M367 234l 3-1 4-3-3 1z"/><path class="a8" d="M512 232l 2-3 4 3-2 2z"/><path class="a1" d="M337 228l 3-6 3-3-2 8z"/><path class="a3d" d="M408 163l 3 19 4-28-2 9z"/><path class="a1h" d="M317 234l 3-3 4 1-3 3z"/><path class="ay" d="M496 228l 3-2 4 1-2 2z"/><path class="a1h" d="M306 233l 3-3 4 2-3 2z"/><path class="az" d="M449 211l 2-2 5-13-3 10z"/><path class="a15" d="M407 197l 3-11 4 5-2 10z"/><path class="a3p" d="M477 238l 2-2 4-1-2 3z"/><path class="am" d="M403 208l 2-4 4 4-2 4z"/><path class="a1k" d="M483 235l 2-2 5-2-2 3z"/><path class="a1" d="M490 231l 2-2 4-1-2 3z"/><path class="a1i" d="M361 235l 2-3 4 2-2 2z"/><path class="a22" d="M408 278l 2-9 5 5-3 11z"/><path class="au" d="M348 221l 2-6 5 8-3 4z"/><path class="aa" d="M374 230l 3 2 4-8-3-2z"/><path class="ax" d="M396 212l 3-2 4-2-3 3z"/><path class="a1" d="M335 230l 2-2 4-1-2 3z"/><path class="ad" d="M438 228l 2-6 4-11-2 1z"/><path class="a1h" d="M516 234l 2-2 5 1-3 3z"/><path class="ac" d="M328 233l 2-3 5 0-3 3z"/><path class="au" d="M464 219l 2 2 4 8-2 1z"/><path class="a3" d="M501 229l 2-2 4 2-2 3z"/><path class="am" d="M346 211l 2-6 4 5-2 5z"/><path class="a1h" d="M310 234l 3-2 4 2-3 2z"/><path class="a47" d="M406 278l 2 0 4 7-2 0z"/><path class="af" d="M405 214l 2-2 4 7-2 3z"/><path class="a2l" d="M409 232l 2 1 4 12-2-3z"/><path class="a3l" d="M413 163l 2-9 4 2-2-14z"/><path class="a4" d="M407 223l 2-1 4 11-2 0z"/><path class="au" d="M341 227l 2-8 5 2-3 7z"/><path class="a1t" d="M470 237l 2-1 5 2-3 2z"/><path class="a1i" d="M321 235l 3-3 4 1-3 3z"/><path class="af" d="M343 219l 3-8 4 4-2 6z"/><path class="a2y" d="M460 189l 2 19 4 5-2-6z"/><path class="a1d" d="M416 176l 3-15 4 25-2 6z"/><path class="ak" d="M447 209l 2 2 4-5-2-14z"/><path class="a3h" d="M421 156l 2 6 5 16-3 3z"/><path class="a4" d="M345 228l 3-7 4 6-2 4z"/><path class="a5" d="M505 232l 2-3 5 3-2 2z"/><path class="a4" d="M350 231l 2-4 4 4-2 3z"/><path class="a16" d="M348 205l 2-14 5 8-3 11z"/><path class="a5" d="M466 230l 2 0 4 6-2 1zM354 234l 2-3 5 4-3 2z"/><path class="am" d="M400 211l 3-3 4 4-2 2z"/><path class="ae" d="M435 235l 3-7 4-16-2 7z"/><path class="ad" d="M381 224l 2 4 4-10-3-4z"/><path class="a8" d="M510 234l 2-2 4 2-2 3z"/><path class="a1j" d="M494 231l 2-3 5 1-2 3z"/><path class="av" d="M406 189l 2-14 4-6-2 17z"/><path class="a1h" d="M314 236l 3-2 4 1-3 2zM303 235l 3-2 4 1-2 3z"/><path class="a6" d="M339 230l 2-3 4 1-2 3z"/><path class="a16" d="M458 205l 2-16 4 18-2 4z"/><path class="a1k" d="M481 238l 2-3 5-1-3 2z"/><path class="a1" d="M488 234l 2-3 4 0-2 3z"/><path class="aa" d="M433 240l 2-5 5-16-3 4z"/><path class="a1k" d="M474 240l 3-2 4 0-2 2z"/><path class="ac" d="M332 233l 3-3 4 0-3 4z"/><path class="a3h" d="M419 161l 2-5 4 25-2 5z"/><path class="a10" d="M358 237l 3-2 4 1-3 2z"/><path class="aa" d="M365 236l 2-2 4-3-2 2z"/><path class="a2b" d="M410 269l 3-12 4 2-2 15z"/><path class="a0" d="M325 236l 3-3 4 0-3 3z"/><path class="a1h" d="M514 237l 2-3 4 2-2 3z"/><path class="a1d" d="M410 186l 2-17 4 7-2 15z"/><path class="a3" d="M499 232l 2-3 4 3-2 2z"/><path class="a29" d="M411 242l 2 0 4 7-2 1z"/><path class="ax" d="M387 218l 3 1 4-6-3-2z"/><path class="a7" d="M343 231l 2-3 5 3-3 3z"/><path class="a2y" d="M394 213l 2-1 4-1-2 0z"/><path class="a1h" d="M308 237l 2-3 4 2-2 2z"/><path class="a3b" d="M415 250l 2-1 5-1-3 1z"/><path class="ay" d="M318 237l 3-2 4 1-2 2z"/><path class="a5" d="M503 234l 2-2 5 2-3 3z"/><path class="a1t" d="M468 240l 2-3 4 3-2 2z"/><path class="a4" d="M347 234l 3-3 4 3-3 3z"/><path class="af" d="M402 215l 3-1 4 8-2 1z"/><path class="a5" d="M351 237l 3-3 4 3-2 3z"/><path class="a6" d="M336 234l 3-4 4 1-3 4z"/><path class="a1j" d="M492 234l 2-3 5 1-2 3z"/><path class="a8" d="M507 237l 3-3 4 3-2 3z"/><path class="a5" d="M464 232l 2-2 4 7-2 3z"/><path class="a2s" d="M422 248l 2 4 4-12-2-2z"/><path class="ag" d="M462 218l 2 1 4 11-2 0z"/><path class="a2r" d="M312 238l 2-2 4 1-2 3z"/><path class="ad" d="M371 231l 3-1 4-8-3 0z"/><path class="a0" d="M329 236l 3-3 4 1-3 3z"/><path class="a12" d="M453 206l 3-10 4-7-2 16z"/><path class="aa" d="M431 241l 2-1 4-17-2 4z"/><path class="am" d="M398 211l 2 0 5 3-3 1z"/><path class="a2e" d="M413 257l 2-7 4-1-2 10z"/><path class="a1" d="M485 236l 3-2 4 0-2 2z"/><path class="a1k" d="M479 240l 2-2 4-2-2 3z"/><path class="au" d="M404 222l 3 1 4 10-2-1z"/><path class="a2u" d="M412 285l 3-11 4-18-3 9z"/><path class="a1h" d="M356 240l 2-3 4 1-2 3z"/><path class="a3w" d="M472 242l 2-2 5 0-2 2z"/><path class="ai" d="M323 238l 2-2 4 0-2 3z"/><path class="a30" d="M460 202l 2 9 4 10-2-2z"/><path class="aa" d="M362 238l 3-2 4-3-3 3z"/><path class="a1h" d="M512 240l 2-3 4 2-2 2z"/><path class="a3" d="M340 235l 3-4 4 3-3 3zM497 235l 2-3 4 2-2 3z"/><path class="a2r" d="M305 239l 3-2 4 1-3 3z"/><path class="a4" d="M406 231l 3 1 4 10-2 0z"/><path class="a10" d="M316 240l 2-3 5 1-3 3z"/><path class="a5" d="M344 237l 3-3 4 3-2 3z"/><path class="a9" d="M501 237l 2-3 4 3-2 3z"/><path class="a2p" d="M403 254l 3-5 4 20-2 9z"/><path class="a29" d="M408 244l 3-2 4 8-2 7z"/><path class="a1t" d="M466 242l 2-2 4 2-2 3z"/><path class="ay" d="M333 237l 3-3 4 1-2 3z"/><path class="a2i" d="M403 272l 3 6 4 7-3-8z"/><path class="a2d" d="M410 285l 2 0 4-20-2 3z"/><path class="a5" d="M349 240l 2-3 5 3-3 3z"/><path class="a1j" d="M490 236l 2-2 5 1-3 2z"/><path class="a5" d="M461 236l 3-4 4 8-2 2z"/><path class="a2e" d="M406 249l 2-5 5 13-3 12z"/><path class="a8" d="M505 240l 2-3 5 3-2 2z"/><path class="a2c" d="M401 256l 2-2 5 24-2 0z"/><path class="a3l" d="M417 142l 2 14 4 6-2-6z"/><path class="a3" d="M327 239l 2-3 4 1-2 3z"/><path class="a2o" d="M415 274l 2-15 4-13-2 10z"/><path class="a2r" d="M309 241l 3-3 4 2-3 2z"/><path class="ax" d="M378 222l 3 2 3-10-2-5z"/><path class="a1" d="M483 239l 2-3 5 0-2 3z"/><path class="a1h" d="M353 243l 3-3 4 1-3 3z"/><path class="a1b" d="M408 175l 2-11 4-16-2 21z"/><path class="a1k" d="M477 242l 2-2 4-1-2 3zM360 241l 2-3 4-2-2 4z"/><path class="a48" d="M412 169l 2-21 5 13-3 15z"/><path class="a2j" d="M391 211l 3 2 4-2-3-2z"/><path class="a6" d="M338 238l 2-3 4 2-2 3zM320 241l 3-3 4 1-3 3z"/><path class="a3w" d="M470 245l 2-3 5 0-3 3z"/><path class="af" d="M459 219l 3-1 4 12-2 2z"/><path class="a1h" d="M510 242l 2-2 4 1-2 3z"/><path class="a3" d="M494 237l 3-2 4 2-2 3z"/><path class="a17" d="M451 192l 2 14 5-1-2-21z"/><path class="aj" d="M400 213l 2 2 5 8-3-1z"/><path class="ad" d="M369 233l 2-2 4-9-2 2z"/><path class="a41" d="M410 164l 3-1 4-21-3 6z"/><path class="ae" d="M428 240l 3 1 4-14-2 2z"/><path class="a2a" d="M419 249l 3-1 4-10-3 2z"/><path class="ah" d="M444 211l 3-2 4-17-2 7z"/><path class="a2r" d="M302 242l 3-3 4 2-3 3z"/><path class="a5" d="M342 240l 2-3 5 3-3 3z"/><path class="a1h" d="M313 242l 3-2 4 1-3 3z"/><path class="a9" d="M499 240l 2-3 4 3-2 3z"/><path class="a2j" d="M384 214l 3 4 4-7-3-6z"/><path class="a10" d="M331 240l 2-3 5 1-3 3z"/><path class="a1q" d="M463 245l 3-3 4 3-2 2z"/><path class="a5" d="M346 243l 3-3 4 3-3 3zM459 239l 2-3 5 6-3 3z"/><path class="a2s" d="M417 259l 2-10 4-9-2 6z"/><path class="a1j" d="M488 239l 2-3 4 1-2 3z"/><path class="a18" d="M395 209l 3 2 4 4-2-2z"/><path class="a8" d="M503 243l 2-3 5 2-2 3z"/><path class="a6" d="M324 242l 3-3 4 1-3 3z"/><path class="a13" d="M457 203l 3-1 4 17-2-1z"/><path class="ac" d="M357 244l 3-3 4-1-3 4z"/><path class="ag" d="M457 225l 2-6 5 13-3 4z"/><path class="a2r" d="M306 244l 3-3 4 1-2 3z"/><path class="a10" d="M350 246l 3-3 4 1-2 3z"/><path class="ac" d="M481 242l 2-3 5 0-3 3z"/><path class="ah" d="M442 212l 2-1 5-12-3-7z"/><path class="ap" d="M335 241l 3-3 4 2-3 3z"/><path class="a1" d="M474 245l 3-3 4 0-2 2z"/><path class="aw" d="M402 218l 2 4 5 10-3-1z"/><path class="ay" d="M317 244l 3-3 4 1-2 3z"/><path class="a3" d="M492 240l 2-3 5 3-2 3z"/><path class="a0" d="M468 247l 2-2 4 0-2 3z"/><path class="a1h" d="M508 245l 2-3 4 2-2 3z"/><path class="a4" d="M404 230l 2 1 5 11-3 2z"/><path class="ad" d="M366 236l 3-3 4-9-3 5z"/><path class="a40" d="M398 257l 3-1 5 22-3-6z"/><path class="ah" d="M456 184l 2 21 4 6-2-9z"/><path class="a9" d="M339 243l 3-3 4 3-2 2z"/><path class="a49" d="M414 148l 3-6 4 14-2 5z"/><path class="a10" d="M328 243l 3-3 4 1-3 3z"/><path class="a9" d="M497 243l 2-3 4 3-2 2z"/><path class="ag" d="M455 231l 2-6 4 11-2 3z"/><path class="a1h" d="M311 245l 2-3 4 2-2 2z"/><path class="a5" d="M344 245l 2-2 4 3-2 2zM457 242l 2-3 4 6-2 2z"/><path class="a1q" d="M461 247l 2-2 5 2-3 3z"/><path class="ac" d="M355 247l 2-3 4 0-2 4z"/><path class="a1h" d="M485 242l 3-3 4 1-2 3z"/><path class="ay" d="M322 245l 2-3 4 1-2 3z"/><path class="ap" d="M501 245l 2-2 5 2-3 2z"/><path class="ae" d="M364 240l 2-4 4-7-2 6z"/><path class="a2u" d="M407 277l 3 8 4-17-3-2z"/><path class="a10" d="M348 248l 2-2 5 1-3 3z"/><path class="ad" d="M426 238l 2 2 5-11-3-1z"/><path class="a10" d="M332 244l 3-3 4 2-2 3z"/><path class="a0" d="M479 244l 2-2 4 0-2 3z"/><path class="ak" d="M437 223l 3-4 4-12-2 2z"/><path class="a1" d="M472 248l 2-3 5-1-2 3z"/><path class="a10" d="M315 246l 2-2 5 1-3 2z"/><path class="a3" d="M490 243l 2-3 5 3-3 2z"/><path class="ak" d="M375 222l 3 0 4-13-3-3z"/><path class="a1h" d="M505 247l 3-2 4 2-2 2z"/><path class="au" d="M452 235l 3-4 4 8-2 3z"/><path class="a0" d="M465 250l 3-3 4 1-2 2z"/><path class="aa" d="M361 244l 3-4 4-5-2 6z"/><path class="a9" d="M337 246l 2-3 5 2-3 3z"/><path class="a1h" d="M326 246l 2-3 4 1-2 3z"/><path class="a9" d="M494 245l 3-2 4 2-2 3z"/><path class="au" d="M401 230l 3 0 4 14-2 5z"/><path class="a0" d="M352 250l 3-3 4 1-3 3z"/><path class="ah" d="M388 205l 3 6 4-2-2-7zM440 219l 2-7 4-20-2 15z"/><path class="a9" d="M341 248l 3-3 4 3-3 3z"/><path class="a18" d="M397 207l 3 6 4 9-2-4z"/><path class="a1h" d="M483 245l 2-3 5 1-2 3z"/><path class="a10" d="M319 247l 3-2 4 1-3 3z"/><path class="a5" d="M454 244l 3-2 4 5-2 2z"/><path class="ap" d="M499 248l 2-3 4 2-2 3z"/><path class="a9" d="M459 249l 2-2 4 3-2 2z"/><path class="av" d="M453 194l 3-10 4 18-3 1z"/><path class="a11" d="M455 200l 2 3 5 15-3 1z"/><path class="a1k" d="M359 248l 2-4 5-3-3 5z"/><path class="a2k" d="M400 266l 3 6 4 5-2-8z"/><path class="a10" d="M330 247l 2-3 5 2-3 3z"/><path class="a1p" d="M345 251l 3-3 4 2-2 3z"/><path class="a16" d="M453 212l 2-12 4 19-2 6z"/><path class="a0" d="M477 247l 2-3 4 1-2 3z"/><path class="az" d="M435 227l 2-4 5-14-3 10z"/><path class="ac" d="M470 250l 2-2 5-1-3 3z"/><path class="a8" d="M488 246l 2-3 4 2-2 3z"/><path class="a1h" d="M503 250l 2-3 5 2-2 3z"/><path class="a4" d="M399 233l 2-3 5 19-3 5z"/><path class="a17" d="M382 209l 2 5 4-9-2-10z"/><path class="al" d="M450 218l 3-6 4 13-2 6z"/><path class="a8" d="M334 249l 3-3 4 2-3 3z"/><path class="ah" d="M393 202l 2 7 5 4-3-6z"/><path class="a1h" d="M323 249l 3-3 4 1-3 3z"/><path class="ai" d="M463 252l 2-2 5 0-2 2z"/><path class="au" d="M450 236l 2-1 5 7-3 2z"/><path class="az" d="M433 229l 2-2 4-8-2 3z"/><path class="a30" d="M399 213l 3 5 4 13-2-1z"/><path class="am" d="M448 225l 2-7 5 13-3 4z"/><path class="ab" d="M423 240l 3-2 4-10-2-1z"/><path class="a1m" d="M449 199l 2-7 5-8-3 10z"/><path class="a8" d="M492 248l 2-3 5 3-2 3z"/><path class="a1i" d="M350 253l 2-3 4 1-2 3z"/><path class="a2z" d="M396 258l 2-1 5 15-3-6z"/><path class="a1" d="M356 251l 3-3 4-2-2 4z"/><path class="a8" d="M338 251l 3-3 4 3-2 2z"/><path class="a1h" d="M481 248l 2-3 5 1-3 3z"/><path class="a4" d="M396 238l 3-5 4 21-2 2z"/><path class="ap" d="M497 251l 2-3 4 2-2 3z"/><path class="a1h" d="M327 250l 3-3 4 2-2 3z"/><path class="a1a" d="M373 224l 2-2 4-16-2 3z"/><path class="ai" d="M474 250l 3-3 4 1-2 2z"/><path class="ap" d="M343 253l 2-2 5 2-3 3z"/><path class="a5" d="M456 251l 3-2 4 3-2 2z"/><path class="ap" d="M485 249l 3-3 4 2-2 3z"/><path class="a4" d="M452 245l 2-1 5 5-3 2z"/><path class="ac" d="M468 252l 2-2 4 0-2 3z"/><path class="a1h" d="M501 253l 2-3 5 2-3 2z"/><path class="ap" d="M332 252l 2-3 4 2-2 3z"/><path class="a14" d="M446 228l 2-3 4 10-2 1z"/><path class="ad" d="M366 241l 2-6 4-7-2 9z"/><path class="ac" d="M354 254l 2-3 5-1-3 4z"/><path class="a4" d="M394 244l 2-6 5 18-3 1z"/><path class="ae" d="M363 246l 3-5 4-4-3 6z"/><path class="a8" d="M490 251l 2-3 5 3-3 3z"/><path class="ab" d="M421 246l 2-6 5-13-3 1z"/><path class="ai" d="M461 254l 2-2 5 0-3 3z"/><path class="a23" d="M347 256l 3-3 4 1-3 3z"/><path class="ax" d="M368 235l 2-6 4-11-2 10z"/><path class="ak" d="M370 229l 3-5 4-15-3 9z"/><path class="a42" d="M446 192l 3 7 4-5-2-12z"/><path class="a1h" d="M479 250l 2-2 4 1-2 3z"/><path class="a37" d="M405 269l 2 8 4-11-2-2z"/><path class="az" d="M430 228l 3 1 4-7-2-1z"/><path class="ai" d="M229 252l 3-2 4 1-3 2z"/><path class="aa" d="M361 250l 2-4 4-3-2 6zM416 265l 3-9 4-23-2 9z"/><path class="a10" d="M494 254l 3-3 4 2-2 3z"/><path class="ad" d="M419 256l 2-10 4-18-2 5z"/><path class="ag" d="M448 236l 2 0 4 8-2 1z"/><path class="a11" d="M444 217l 2-14 4 15-2 7z"/><path class="ai" d="M472 253l 2-3 5 0-3 3z"/><path class="a3t" d="M442 209l 2-2 4-4-2 0z"/><path class="ap" d="M340 256l 3-3 4 3-3 2zM483 252l 2-3 5 2-2 3z"/><path class="a2a" d="M414 268l 2-3 5-23-3 7z"/><path class="a4a" d="M294 328l 2-8 5 5-3 7z"/><path class="ai" d="M222 254l 3-3 4 1-3 2z"/><path class="ak" d="M437 222l 2-3 5-2-3 3z"/><path class="a0" d="M465 255l 3-3 4 1-2 2z"/><path class="a1d" d="M448 203l 3-21 4 18-2 12z"/><path class="ac" d="M351 257l 3-3 4 0-2 3z"/><path class="a13" d="M441 220l 3-3 4 8-2 3z"/><path class="a1h" d="M499 256l 2-3 4 1-2 3z"/><path class="a4" d="M391 250l 3-6 4 13-2 1z"/><path class="a5" d="M454 252l 2-1 5 3-2 1z"/><path class="a1" d="M358 254l 3-4 4-1-3 4z"/><path class="an" d="M439 219l 3-10 4-6-2 14z"/><path class="ap" d="M488 254l 2-3 4 3-2 2z"/><path class="a0" d="M233 253l 3-2 4 1-3 2z"/><path class="as" d="M446 203l 2 0 5 9-3 6z"/><path class="a16" d="M396 210l 3 3 5 17-3 0z"/><path class="a23" d="M344 258l 3-2 4 1-2 2z"/><path class="a2w" d="M393 260l 3-2 4 8-2-1z"/><path class="a1h" d="M476 253l 3-3 4 2-2 3z"/><path class="a5" d="M248 257l 3-3 4 2-2 4z"/><path class="a42" d="M451 182l 2 12 4 9-2-3z"/><path class="a4" d="M450 244l 2 1 4 6-2 1z"/><path class="a3b" d="M398 265l 2 1 5 3-3-3z"/><path class="a8" d="M259 258l 3-4 4 1-2 4z"/><path class="a1i" d="M459 255l 2-1 4 1-2 2z"/><path class="a3t" d="M394 197l 3 10 5 11-3-5z"/><path class="a10" d="M492 256l 2-2 5 2-2 2z"/><path class="a1t" d="M253 260l 2-4 4 2-2 5z"/><path class="a42" d="M444 207l 2-15 5-10-3 21z"/><path class="am" d="M443 226l 3 2 4 8-2 0z"/><path class="a6" d="M470 255l 2-2 4 0-2 3z"/><path class="a1" d="M226 254l 3-2 4 1-3 1z"/><path class="a1m" d="M386 195l 2 10 5-3-3-12z"/><path class="a7" d="M237 254l 3-2 4 2-3 2z"/><path class="a19" d="M367 243l 3-6 4-4-3 8z"/><path class="ap" d="M481 255l 2-3 5 2-3 3z"/><path class="ao" d="M365 249l 2-6 4-2-2 6z"/><path class="a10" d="M337 258l 3-2 4 2-2 2z"/><path class="a26" d="M252 279l 3-8 4 2-3 9z"/><path class="a2a" d="M411 266l 3 2 4-19-2 5z"/><path class="ac" d="M356 257l 2-3 4-1-2 4z"/><path class="a8" d="M264 259l 2-4 4 2-2 3z"/><path class="a1t" d="M257 263l 2-5 5 1-3 6z"/><path class="ai" d="M349 259l 2-2 5 0-3 3z"/><path class="a2w" d="M250 266l 3-6 4 3-2 8z"/><path class="a5" d="M389 255l 2-5 5 8-3 2z"/><path class="a1m" d="M379 206l 3 3 4-14-3-7z"/><path class="a0" d="M219 256l 3-2 4 0-3 3z"/><path class="ai" d="M463 257l 2-2 5 0-3 3z"/><path class="a2r" d="M497 258l 2-2 4 1-2 3z"/><path class="a5" d="M241 256l 3-2 4 3-3 3z"/><path class="a2p" d="M249 283l 3-4 4 3-2 4z"/><path class="a29" d="M255 271l 2-8 4 2-2 8z"/><path class="a1t" d="M245 260l 3-3 5 3-3 6z"/><path class="a2n" d="M247 271l 3-5 5 5-3 8z"/><path class="ap" d="M485 257l 3-3 4 2-2 3z"/><path class="a2y" d="M370 237l 2-9 4-7-2 12z"/><path class="a12" d="M428 227l 2 1 5-7-3-5z"/><path class="a4b" d="M296 320l 2-17 4 3-1 19z"/><path class="a1a" d="M435 221l 2 1 4-2-2 0z"/><path class="a1" d="M362 253l 3-4 4-2-3 5z"/><path class="a1h" d="M474 256l 2-3 5 2-2 3z"/><path class="a4" d="M452 253l 2-1 5 3-3 2z"/><path class="a23" d="M342 260l 2-2 5 1-3 3z"/><path class="a2e" d="M245 275l 2-4 5 8-3 4z"/><path class="ar" d="M439 220l 2 0 5 8-3-2z"/><path class="a1l" d="M230 254l 3-1 4 1-3 1z"/><path class="a4c" d="M290 321l 4 7 4 4-3-7z"/><path class="a11" d="M394 213l 2-3 5 20-2 3z"/><path class="af" d="M387 242l 2-9 5 11-3 6z"/><path class="a1t" d="M261 265l 3-6 4 1-3 5z"/><path class="a14" d="M445 232l 3 4 4 9-2-1z"/><path class="am" d="M389 233l 3-11 4 16-2 6z"/><path class="ap" d="M456 257l 3-2 4 2-2 2z"/><path class="a6" d="M268 260l 2-3 5 1-3 2z"/><path class="a10" d="M490 259l 2-3 5 2-3 3z"/><path class="a4d" d="M298 332l 3-7 3-12-2 7z"/><path class="a42" d="M390 190l 3 12 4 5-3-10z"/><path class="a34" d="M256 282l 3-9 4-2-3 7z"/><path class="a2f" d="M259 273l 2-8 4 0-2 6z"/><path class="a2w" d="M243 264l 2-4 5 6-3 5z"/><path class="a2s" d="M402 266l 3 3 4-5-3 0z"/><path class="ay" d="M467 258l 3-3 4 1-2 3z"/><path class="a13" d="M392 222l 2-9 5 20-3 5z"/><path class="au" d="M384 249l 3-7 4 8-2 5z"/><path class="ap" d="M479 258l 2-3 4 2-2 3z"/><path class="ac" d="M353 260l 3-3 4 0-3 3z"/><path class="au" d="M447 245l 3-1 4 8-2 1z"/><path class="a1t" d="M391 263l 2-3 5 5-3 1z"/><path class="a1y" d="M288 308l 3-6 5 18-2 8z"/><path class="a1" d="M223 257l 3-3 4 0-3 3z"/><path class="ag" d="M369 247l 2-6 5 0-3 7z"/><path class="a1" d="M360 257l 2-4 4-1-2 5z"/><path class="a10" d="M335 261l 2-3 5 2-3 3z"/><path class="a5" d="M386 259l 3-4 4 5-2 3z"/><path class="am" d="M371 241l 3-8 4-1-2 9z"/><path class="a4" d="M234 255l 3-1 4 2-3 2z"/><path class="a1i" d="M346 262l 3-3 4 1-3 3z"/><path class="a0" d="M216 259l 3-3 4 1-3 3z"/><path class="a2o" d="M254 286l 2-4 4-4-3 3z"/><path class="a2r" d="M494 261l 3-3 4 2-2 3z"/><path class="a5" d="M238 258l 3-2 4 4-2 4z"/><path class="ay" d="M461 259l 2-2 4 1-2 3z"/><path class="au" d="M366 252l 3-5 4 1-2 5z"/><path class="ap" d="M483 260l 2-3 5 2-2 3z"/><path class="a4" d="M382 254l 2-5 5 6-3 4z"/><path class="a3p" d="M395 266l 3-1 4 1-2 1z"/><path class="a33" d="M246 283l 3 0 5 3-3-1z"/><path class="ah" d="M372 228l 2-10 4-13-2 16z"/><path class="a0" d="M272 260l 3-2 4 1-3 1z"/><path class="a2a" d="M409 264l 2 2 5-12-3 4z"/><path class="a1h" d="M472 259l 2-3 5 2-3 3z"/><path class="af" d="M380 244l 2-9 5 7-3 7z"/><path class="a2w" d="M240 267l 3-3 4 7-2 4z"/><path class="a1k" d="M265 265l 3-5 4 0-3 3z"/><path class="a45" d="M301 325l 1-19 4-6-2 13z"/><path class="ag" d="M373 248l 3-7 4 3-2 6z"/><path class="a1h" d="M339 263l 3-3 4 2-3 2z"/><path class="au" d="M378 250l 2-6 4 5-2 5z"/><path class="a4" d="M449 256l 3-3 4 4-2 3z"/><path class="am" d="M376 241l 2-9 4 3-2 9z"/><path class="a2e" d="M242 276l 3-1 4 8-3 0z"/><path class="a10" d="M488 262l 2-3 4 2-2 3z"/><path class="al" d="M382 235l 3-12 4 10-2 9z"/><path class="a10" d="M454 260l 2-3 5 2-3 3z"/><path class="ai" d="M227 257l 3-3 4 1-3 2z"/><path class="ac" d="M357 260l 3-3 4 0-3 3z"/><path class="au" d="M371 253l 2-5 5 2-3 5z"/><path class="a4" d="M364 257l 2-5 5 1-3 5z"/><path class="a1h" d="M465 261l 2-3 5 1-2 3z"/><path class="a10" d="M476 261l 3-3 4 2-2 3z"/><path class="a0" d="M350 263l 3-3 4 0-2 3z"/><path class="ar" d="M374 233l 2-12 4-3-2 14z"/><path class="a5" d="M384 263l 2-4 5 4-3 3z"/><path class="a4e" d="M291 302l 2-11 5 12-2 17z"/><path class="a4" d="M380 259l 2-5 4 5-2 4z"/><path class="ac" d="M220 260l 3-3 4 0-3 3z"/><path class="a4" d="M375 255l 3-5 4 4-2 5z"/><path class="ag" d="M445 247l 2-2 5 8-3 3z"/><path class="a1h" d="M332 264l 3-3 4 2-3 2z"/><path class="a3x" d="M285 305l 3 3 6 20-4-7z"/><path class="a1q" d="M388 266l 3-3 4 3-2 2z"/><path class="a1" d="M276 260l 3-1 4 1-3 1z"/><path class="a5" d="M235 260l 3-2 5 6-3 3z"/><path class="a24" d="M343 264l 3-2 4 1-2 2z"/><path class="a2a" d="M263 271l 2-6 4-2-3 1z"/><path class="a2r" d="M492 264l 2-3 5 2-2 2z"/><path class="a3d" d="M377 209l 2-3 4-18-3 3z"/><path class="a4" d="M231 257l 3-2 4 3-3 2z"/><path class="ar" d="M441 219l 2 7 5 10-3-4z"/><path class="a1h" d="M458 262l 3-3 4 2-2 2z"/><path class="a10" d="M481 263l 2-3 5 2-3 3z"/><path class="a16" d="M378 232l 2-14 5 5-3 12z"/><path class="a2a" d="M400 267l 2-1 4-2-2 2z"/><path class="a4" d="M368 258l 3-5 4 2-2 5z"/><path class="a1h" d="M470 262l 2-3 4 2-2 3z"/><path class="a2w" d="M237 269l 3-2 5 8-3 1z"/><path class="a17" d="M425 228l 3-1 4-11-2-4z"/><path class="a1m" d="M374 218l 3-9 3-18-2 14z"/><path class="a2o" d="M251 285l 3 1 3-5-3 1z"/><path class="a4" d="M447 259l 2-3 5 4-2 3z"/><path class="a4f" d="M295 325l 3 7 4-12-4-5z"/><path class="am" d="M443 230l 2 2 5 12-3 1z"/><path class="a17" d="M432 216l 3 5 4-1-2-8z"/><path class="a7" d="M361 260l 3-3 4 1-2 3z"/><path class="a1e" d="M392 189l 2 8 5 16-3-3z"/><path class="aa" d="M406 264l 3 0 4-6-2 4z"/><path class="a1h" d="M336 265l 3-2 4 1-2 3z"/><path class="aa" d="M269 263l 3-3 4 0-3-1z"/><path class="a4" d="M373 260l 2-5 5 4-3 4z"/><path class="ai" d="M393 268l 2-2 5 1-3 2z"/><path class="at" d="M385 223l 2-16 5 15-3 11z"/><path class="a0" d="M355 263l 2-3 4 0-2 4z"/><path class="a5" d="M377 263l 3-4 4 4-3 3z"/><path class="a1h" d="M485 265l 3-3 4 2-2 2z"/><path class="a3" d="M224 260l 3-3 4 0-3 4z"/><path class="a2b" d="M298 303l 2-17 4 2-2 18z"/><path class="a10" d="M452 263l 2-3 4 2-2 3z"/><path class="a1" d="M280 261l 3-1 4 2-3 0z"/><path class="a1h" d="M463 263l 2-2 5 1-3 3z"/><path class="a10" d="M474 264l 2-3 5 2-2 3z"/><path class="a5" d="M381 266l 3-3 4 3-2 3z"/><path class="ai" d="M348 265l 2-2 5 0-3 3z"/><path class="au" d="M443 253l 2-6 4 9-2 3z"/><path class="a2a" d="M260 278l 3-7 3-7-3 2z"/><path class="a5" d="M232 264l 3-4 5 7-3 2z"/><path class="a7" d="M366 261l 2-3 5 2-3 3z"/><path class="a1h" d="M329 266l 3-2 4 1-2 3z"/><path class="a1p" d="M386 269l 2-3 5 2-3 3z"/><path class="a4" d="M228 261l 3-4 4 3-3 4z"/><path class="ay" d="M341 267l 2-3 5 1-3 3z"/><path class="a17" d="M437 212l 2 8 4 6-2-7z"/><path class="ab" d="M416 254l 2-5 5-8-3 9z"/><path class="a2r" d="M456 265l 2-3 5 1-3 3z"/><path class="a10" d="M479 266l 2-3 4 2-2 3z"/><path class="ac" d="M284 262l 3 0 4 1-3 2z"/><path class="ap" d="M359 264l 2-4 5 1-3 4z"/><path class="a1h" d="M467 265l 3-3 4 2-2 3z"/><path class="a4" d="M445 263l 2-4 5 4-3 3zM370 263l 3-3 4 3-2 3z"/><path class="ae" d="M413 258l 3-4 4-4-2 6z"/><path class="au" d="M440 258l 3-5 4 6-2 4z"/><path class="a1k" d="M397 269l 3-2 4-1-2 3z"/><path class="az" d="M418 249l 3-7 4-14-2 13z"/><path class="a46" d="M302 306l 2-18 4-2-2 14z"/><path class="a2p" d="M293 291l 2-12 5 7-2 17z"/><path class="a1k" d="M404 266l 2-2 5-2-3 3z"/><path class="a3g" d="M383 188l 3 7 4-5-3-10z"/><path class="a3" d="M352 266l 3-3 4 1-3 3z"/><path class="a5" d="M375 266l 2-3 4 3-2 3z"/><path class="av" d="M376 221l 2-16 4-5-2 18z"/><path class="a1h" d="M334 268l 2-3 5 2-3 3z"/><path class="a10" d="M449 266l 3-3 4 2-2 3z"/><path class="a5" d="M288 265l 3-2 5 2-3 3z"/><path class="a1h" d="M483 268l 2-3 5 1-2 3z"/><path class="ai" d="M390 271l 3-3 4 1-2 3z"/><path class="al" d="M441 233l 2-3 4 15-2 2z"/><path class="ae" d="M273 259l 3 1 4 1-3-4z"/><path class="a1h" d="M460 266l 3-3 4 2-2 3z"/><path class="a10" d="M472 267l 2-3 5 2-3 2z"/><path class="a9" d="M379 269l 2-3 5 3-3 2z"/><path class="a1e" d="M387 207l 2-14 5 20-2 9z"/><path class="a6" d="M345 268l 3-3 4 1-3 3z"/><path class="a17" d="M423 233l 2-5 5-16-3 4z"/><path class="a6" d="M363 265l 3-4 4 2-2 4z"/><path class="ao" d="M411 262l 2-4 5-2-3 5z"/><path class="a2s" d="M257 281l 3-3 3-12-3 2z"/><path class="a1d" d="M380 218l 2-18 5 7-2 16z"/><path class="a5" d="M293 268l 3-3 4 2-3 5z"/><path class="a1a" d="M421 242l 2-9 4-17-2 12z"/><path class="a4" d="M438 263l 2-5 5 5-3 4z"/><path class="am" d="M438 242l 3-9 4 14-2 6z"/><path class="af" d="M436 251l 2-9 5 11-3 5z"/><path class="a3h" d="M389 193l 3-4 4 21-2 3z"/><path class="a4g" d="M336 342l 3-7 5 10-3 8z"/><path class="ae" d="M266 264l 3-1 4-4-4-4z"/><path class="a1h" d="M327 269l 2-3 5 2-3 3z"/><path class="a5" d="M442 267l 3-4 4 3-2 3z"/><path class="a1h" d="M454 268l 2-3 4 1-2 3z"/><path class="a10" d="M383 271l 3-2 4 2-2 2z"/><path class="a1t" d="M297 272l 3-5 4 2-2 6z"/><path class="a10" d="M356 267l 3-3 4 1-2 3z"/><path class="a1h" d="M338 270l 3-3 4 1-3 3z"/><path class="a10" d="M476 268l 3-2 4 2-2 2z"/><path class="a9" d="M368 267l 2-4 5 3-3 3z"/><path class="au" d="M433 259l 3-8 4 7-2 5z"/><path class="a1h" d="M465 268l 2-3 5 2-3 3z"/><path class="a2n" d="M300 286l 2-11 4 2-2 11z"/><path class="a29" d="M295 279l 2-7 5 3-2 11z"/><path class="ag" d="M418 256l 2-6 5 0-3 7z"/><path class="ac" d="M402 269l 2-3 4-1-2 4z"/><path class="a3g" d="M387 180l 3 10 4 7-2-8z"/><path class="ac" d="M395 272l 2-3 5 0-3 3z"/><path class="a6" d="M349 269l 3-3 4 1-2 3z"/><path class="ac" d="M408 265l 3-3 4-1-2 5z"/><path class="a9" d="M372 269l 3-3 4 3-3 3z"/><path class="a4h" d="M341 353l 3-8 4-7-3 7z"/><path class="a1t" d="M302 275l 2-6 5 2-3 6z"/><path class="au" d="M415 261l 3-5 4 1-2 6z"/><path class="a4" d="M431 264l 2-5 5 4-3 5z"/><path class="a1h" d="M331 271l 3-3 4 2-3 2z"/><path class="am" d="M420 250l 3-9 4-1-2 10z"/><path class="af" d="M429 254l 2-10 5 7-3 8z"/><path class="a1h" d="M481 270l 2-2 5 1-3 3z"/><path class="ae" d="M277 257l 3 4 4 1-3-4z"/><path class="a4" d="M435 268l 3-5 4 4-2 4z"/><path class="a1h" d="M458 269l 2-3 5 2-2 3z"/><path class="a10" d="M361 268l 2-3 5 2-3 3z"/><path class="au" d="M427 260l 2-6 4 5-2 5z"/><path class="a1t" d="M290 271l 3-3 4 4-2 7z"/><path class="a10" d="M469 270l 3-3 4 1-2 3z"/><path class="a1i" d="M388 273l 2-2 5 1-3 2z"/><path class="ag" d="M422 257l 3-7 4 4-2 6z"/><path class="a10" d="M342 271l 3-3 4 1-2 3z"/><path class="a8" d="M376 272l 3-3 4 2-2 3z"/><path class="as" d="M439 213l 2 6 4 13-2-2z"/><path class="a2f" d="M304 288l 2-11 4 0-2 9z"/><path class="am" d="M425 250l 2-10 4 4-2 10z"/><path class="au" d="M420 263l 2-6 5 3-3 6z"/><path class="a1t" d="M306 277l 3-6 4 1-3 5z"/><path class="a10" d="M354 270l 2-3 5 1-3 3z"/><path class="a4" d="M285 263l 3 2 5 3-3 3z"/><path class="ap" d="M365 270l 3-3 4 2-3 3z"/><path class="a4" d="M424 266l 3-6 4 4-2 5zM413 266l 2-5 5 2-3 4z"/><path class="a3c" d="M431 244l 3-14 4 12-2 9z"/><path class="a1h" d="M324 272l 3-3 4 2-3 2z"/><path class="a2s" d="M254 282l 3-1 3-13-3 4z"/><path class="aa" d="M281 258l 3 4 4 3-3-2z"/><path class="a1h" d="M474 271l 2-3 5 2-3 3z"/><path class="a2w" d="M287 274l 3-3 5 8-2 12z"/><path class="a1h" d="M335 272l 3-2 4 1-2 3zM381 274l 2-3 5 2-3 3z"/><path class="a7" d="M406 269l 2-4 5 1-3 4z"/><path class="a1h" d="M463 271l 2-3 4 2-2 2z"/><path class="a4" d="M429 269l 2-5 4 4-2 4z"/><path class="a2n" d="M284 277l 3-3 6 17-2 11z"/><path class="a26" d="M282 280l 2-3 7 25-3 6z"/><path class="a2k" d="M304 313l 2-13 3-15-3 5z"/><path class="ac" d="M399 272l 3-3 4 0-3 3z"/><path class="a42" d="M430 212l 2 4 5-4-3-7z"/><path class="a10" d="M347 272l 2-3 5 1-3 3z"/><path class="a3k" d="M378 205l 2-14 5-8-3 17z"/><path class="a8" d="M369 272l 3-3 4 3-2 3z"/><path class="a0" d="M392 274l 3-2 4 0-2 3z"/><path class="a9" d="M433 272l 2-4 5 3-2 3z"/><path class="a4" d="M417 267l 3-4 4 3-2 4z"/><path class="a4b" d="M339 335l 2-17 4 7-1 20z"/><path class="a4i" d="M333 336l 3 6 5 11-3-8z"/><path class="a10" d="M358 271l 3-3 4 2-3 3z"/><path class="a2u" d="M302 320l 2-7 2-23-2 4z"/><path class="a1h" d="M478 273l 3-3 4 2-2 3zM328 273l 3-2 4 1-2 3zM467 272l 2-2 5 1-2 3z"/><path class="a11" d="M423 241l 2-13 4-4-2 16z"/><path class="a4j" d="M344 345l 1-20 4-4-1 17z"/><path class="a3l" d="M380 191l 3-3 4-8-2 3z"/><path class="a3b" d="M306 300l 2-14 4-6-3 5z"/><path class="a4" d="M422 270l 2-4 5 3-3 4z"/><path class="ac" d="M310 277l 3-5 4 1-3 3z"/><path class="a1h" d="M340 274l 2-3 5 1-3 3z"/><path class="a1i" d="M385 276l 3-3 4 1-2 3z"/><path class="ap" d="M374 275l 2-3 5 2-3 3z"/><path class="a3" d="M410 270l 3-4 4 1-2 4z"/><path class="a1r" d="M382 200l 3-17 4 10-2 14z"/><path class="ad" d="M263 266l 3-2 3-9-3-4z"/><path class="a26" d="M279 282l 3-2 6 28-3-3z"/><path class="at" d="M434 230l 2-13 5 16-3 9z"/><path class="a5" d="M426 273l 3-4 4 3-2 3z"/><path class="a1h" d="M351 273l 3-3 4 1-3 4z"/><path class="a11" d="M427 240l 2-16 5 6-3 14z"/><path class="a3" d="M403 272l 3-3 4 1-2 3z"/><path class="ap" d="M362 273l 3-3 4 2-2 3z"/><path class="a3p" d="M308 286l 2-9 4-1-2 4z"/><path class="ab" d="M269 255l 4 4 4-2-4-8z"/><path class="a1h" d="M472 274l 2-3 4 2-2 3z"/><path class="a1f" d="M436 217l 3-4 4 17-2 3z"/><path class="a1i" d="M321 274l 3-2 4 1-2 2z"/><path class="a1h" d="M333 275l 2-3 5 2-3 2z"/><path class="ai" d="M397 275l 2-3 4 0-2 3z"/><path class="a7" d="M415 271l 2-4 5 3-3 4z"/><path class="a42" d="M434 205l 3 7 4 7-2-6z"/><path class="a1h" d="M378 277l 3-3 4 2-2 2z"/><path class="a4k" d="M338 345l 3 8 4-8-3-6z"/><path class="ap" d="M431 275l 2-3 5 2-3 3z"/><path class="a1h" d="M344 275l 3-3 4 1-3 3z"/><path class="a4l" d="M385 183l 2-3 5 9-3 4z"/><path class="ap" d="M367 275l 2-3 5 3-3 2z"/><path class="ai" d="M390 277l 2-3 5 1-3 3z"/><path class="a1h" d="M355 275l 3-4 4 2-2 3z"/><path class="a9" d="M419 274l 3-4 4 3-2 3z"/><path class="a1" d="M314 276l 3-3 4 1-3 1z"/><path class="ap" d="M408 273l 2-3 5 1-3 4z"/><path class="a2r" d="M476 276l 2-3 5 2-2 3z"/><path class="ai" d="M326 275l 2-2 5 2-3 2z"/><path class="a1h" d="M337 276l 3-2 4 1-3 3z"/><path class="a24" d="M383 278l 2-2 5 1-3 2z"/><path class="a10" d="M371 277l 3-2 4 2-2 2z"/><path class="a8" d="M424 276l 2-3 5 2-3 3z"/><path class="ap" d="M401 275l 2-3 5 1-3 3z"/><path class="au" d="M282 258l 3 5 5 8-3 3z"/><path class="a1h" d="M348 276l 3-3 4 2-2 3z"/><path class="a10" d="M360 276l 2-3 5 2-3 3z"/><path class="a8" d="M412 275l 3-4 4 3-2 3z"/><path class="a1m" d="M425 228l 2-12 5-7-3 15z"/><path class="a1i" d="M394 278l 3-3 4 0-3 3z"/><path class="a3d" d="M427 216l 3-4 4-7-2 4z"/><path class="a1h" d="M428 278l 3-3 4 2-2 3z"/><path class="a47" d="M331 316l 2-5 6 24-3 7z"/><path class="a1h" d="M376 279l 2-2 5 1-3 3z"/><path class="a6" d="M330 277l 3-2 4 1-3 2z"/><path class="a1h" d="M341 278l 3-3 4 1-2 3z"/><path class="a2m" d="M298 315l 4 5 2-26-3 1z"/><path class="a8" d="M417 277l 2-3 5 2-3 3z"/><path class="a10" d="M364 278l 3-3 4 2-2 3z"/><path class="aa" d="M318 275l 3-1 5 1-3 0z"/><path class="a1h" d="M353 278l 2-3 5 1-3 3z"/><path class="a10" d="M405 276l 3-3 4 2-2 3z"/><path class="a1i" d="M387 279l 3-2 4 1-3 2z"/><path class="a1d" d="M429 224l 3-15 4 8-2 13z"/><path class="ax" d="M273 249l 4 8 4 1-4-9z"/><path class="aa" d="M312 280l 2-4 4-1-3-1z"/><path class="ab" d="M260 268l 3-2 3-15-3 1z"/><path class="a10" d="M421 279l 3-3 4 2-2 3zM398 278l 3-3 4 1-2 4zM334 278l 3-2 4 2-2 2z"/><path class="a1h" d="M369 280l 2-3 5 2-3 3z"/><path class="a24" d="M380 281l 3-3 4 1-3 3z"/><path class="ab" d="M277 249l 4 9 4 5-3-5z"/><path class="a1h" d="M346 279l 2-3 5 2-3 3z"/><path class="ap" d="M410 278l 2-3 5 2-3 3z"/><path class="a1h" d="M357 279l 3-3 4 2-2 3z"/><path class="a3v" d="M432 209l 2-4 5 8-3 4z"/><path class="a3s" d="M341 318l 2-17 4 4-2 20z"/><path class="a20" d="M333 311l 3-9 5 16-2 17z"/><path class="a6" d="M391 280l 3-2 4 0-2 3z"/><path class="a39" d="M345 325l 2-20 4-1-2 17z"/><path class="aa" d="M323 275l 3 0 4 2-3-1z"/><path class="a4m" d="M328 315l 3 1 5 26-3-6z"/><path class="a1h" d="M426 281l 2-3 5 2-3 3zM339 280l 2-2 5 1-3 3z"/><path class="ap" d="M414 280l 3-3 4 2-2 3z"/><path class="a1h" d="M373 282l 3-3 4 2-3 2zM403 280l 2-4 5 2-3 3zM350 281l 3-3 4 1-2 3zM362 281l 2-3 5 2-3 3z"/><path class="a24" d="M384 282l 3-3 4 1-2 3z"/><path class="a2g" d="M345 345l 3-7 3-21-3 5z"/><path class="a10" d="M419 282l 2-3 5 2-3 3z"/><path class="a1" d="M327 276l 3 1 4 1-3 1z"/><path class="a2d" d="M348 338l 1-17 4-13-2 9z"/><path class="a1h" d="M396 281l 2-3 5 2-3 3z"/><path class="ag" d="M278 253l 4 5 5 16-3 3z"/><path class="ap" d="M343 282l 3-3 4 2-3 3z"/><path class="a10" d="M407 281l 3-3 4 2-2 3z"/><path class="ab" d="M257 272l 3-4 3-16-3 7z"/><path class="a1h" d="M366 283l 3-3 4 2-3 3z"/><path class="ae" d="M309 285l 3-5 3-6-3-5z"/><path class="a1h" d="M355 282l 2-3 5 2-3 3zM377 283l 3-2 4 1-2 3z"/><path class="ak" d="M266 251l 3 4 4-6-4-9z"/><path class="a10" d="M389 283l 2-3 5 1-3 3z"/><path class="a4" d="M331 279l 3-1 5 2-3 2z"/><path class="a2r" d="M423 284l 3-3 4 2-2 3z"/><path class="ae" d="M315 274l 3 1 5 0-4-6z"/><path class="a8" d="M347 284l 3-3 5 1-3 4z"/><path class="a10" d="M412 283l 2-3 5 2-3 3z"/><path class="a1h" d="M400 283l 3-3 4 1-2 3z"/><path class="a26" d="M336 302l 2-9 5 8-2 17z"/><path class="a5" d="M336 282l 3-2 4 2-3 5z"/><path class="a1h" d="M370 285l 3-3 4 1-2 3zM359 284l 3-3 4 2-3 3z"/><path class="a10" d="M382 285l 2-3 5 1-3 3z"/><path class="a1x" d="M340 287l 3-5 4 2-2 6z"/><path class="a2n" d="M343 301l 2-11 4 3-2 12z"/><path class="a1h" d="M393 284l 3-3 4 2-2 3zM416 285l 3-3 4 2-2 3z"/><path class="ap" d="M352 286l 3-4 4 2-3 4z"/><path class="a1h" d="M405 284l 2-3 5 2-3 3z"/><path class="a1t" d="M345 290l 2-6 5 2-3 7z"/><path class="a2w" d="M338 293l 2-6 5 3-2 11z"/><path class="a2r" d="M363 286l 3-3 4 2-2 2z"/><path class="a2n" d="M347 305l 2-12 5 0-3 11z"/><path class="a1h" d="M375 286l 2-3 5 2-3 3z"/><path class="a3f" d="M349 321l 2-17 5-5-3 9z"/><path class="af" d="M275 253l 3 0 6 24-2 3z"/><path class="a1h" d="M386 286l 3-3 4 1-2 3z"/><path class="a4n" d="M385 365l 2-8 5-1-3 7z"/><path class="a2r" d="M421 287l 2-3 5 2-3 3z"/><path class="a1h" d="M398 286l 2-3 5 1-3 3zM409 286l 3-3 4 2-2 3z"/><path class="a10" d="M356 288l 3-4 4 2-2 3z"/><path class="a1t" d="M349 293l 3-7 4 2-2 5z"/><path class="a1h" d="M368 287l 2-2 5 1-3 3z"/><path class="a2h" d="M342 339l 3 6 3-23-3-1z"/><path class="af" d="M273 262l 2-9 7 27-3 2z"/><path class="a5" d="M333 283l 3-1 4 5-2 6z"/><path class="ad" d="M319 269l 4 6 4 1-3-7z"/><path class="ae" d="M306 290l 3-5 3-16-3-6z"/><path class="a1h" d="M379 288l 3-3 4 1-2 3zM391 287l 2-3 5 2-3 3zM414 288l 2-3 5 2-3 3zM402 287l 3-3 4 2-2 3zM361 289l 2-3 5 1-3 3z"/><path class="a3a" d="M351 304l 3-11 4 0-2 6z"/><path class="a1x" d="M354 293l 2-5 5 1-3 4z"/><path class="a4o" d="M380 349l 2-7 5 15-2 8z"/><path class="a1h" d="M372 289l 3-3 4 2-2 2z"/><path class="a1" d="M328 274l 3 5 5 3-3 1z"/><path class="a12" d="M273 240l 4 9 5 9-4-5z"/><path class="ad" d="M324 269l 3 7 4 3-3-5z"/><path class="a1h" d="M384 289l 2-3 5 1-3 3z"/><path class="ah" d="M269 240l 4 9 4 0-4-9z"/><path class="a2r" d="M395 289l 3-3 4 1-2 3z"/><path class="a1h" d="M407 289l 2-3 5 2-3 3z"/><path class="a2r" d="M418 290l 3-3 4 2-2 2z"/><path class="a4j" d="M387 357l 2-19 5 0-2 18z"/><path class="a1i" d="M365 290l 3-3 4 2-2 2z"/><path class="a1x" d="M330 282l 3 1 5 10-2 9z"/><path class="a1h" d="M377 290l 2-2 5 1-3 3z"/><path class="ah" d="M263 252l 3-1 3-11-4-1z"/><path class="a2r" d="M388 290l 3-3 4 2-2 3z"/><path class="a1h" d="M400 290l 2-3 5 2-3 3z"/><path class="a2r" d="M411 291l 3-3 4 2-2 3z"/><path class="ac" d="M358 293l 3-4 4 1-3 2z"/><path class="a4c" d="M382 358l 3 7 4-2-3-6z"/><path class="ax" d="M312 269l 3 5 4-5-3-12z"/><path class="ai" d="M370 291l 2-2 5 1-3 2z"/><path class="a2r" d="M381 292l 3-3 4 1-2 3z"/><path class="a47" d="M382 342l 3-14 4 10-2 19z"/><path class="a2r" d="M393 292l 2-3 5 1-3 3z"/><path class="a1h" d="M404 292l 3-3 4 2-2 3z"/><path class="a4p" d="M377 345l 3 4 5 16-3-7z"/><path class="a1t" d="M327 280l 3 2 6 20-3 9z"/><path class="ad" d="M304 294l 2-4 3-27-3 1z"/><path class="ah" d="M260 259l 3-7 2-13-2 11z"/><path class="a2a" d="M356 299l 2-6 4-1-2 1z"/><path class="a1k" d="M362 292l 3-2 5 1-3 0z"/><path class="a2r" d="M386 293l 2-3 5 2-3 3z"/><path class="ai" d="M374 292l 3-2 4 2-3 2z"/><path class="a2r" d="M397 293l 3-3 4 2-2 3zM409 294l 2-3 5 2-3 3z"/><path class="a1t" d="M324 282l 3-2 6 31-2 5z"/><path class="a1w" d="M389 363l 3-7 4-15-3 5z"/><path class="a2a" d="M353 308l 3-9 4-6-3-2z"/><path class="a2r" d="M390 295l 3-3 4 1-2 4z"/><path class="a10" d="M378 294l 3-2 5 1-3 3z"/><path class="a2r" d="M402 295l 2-3 5 2-3 3z"/><path class="a1t" d="M322 288l 2-6 7 34-3-1z"/><path class="as" d="M270 239l 3 1 5 13-3 0z"/><path class="a2h" d="M392 356l 2-18 4-9-2 12z"/><path class="aa" d="M367 291l 3 0 4 1-3 0z"/><path class="a19" d="M325 264l 3 10 5 9-3-1z"/><path class="a1h" d="M383 296l 3-3 4 2-2 3z"/><path class="an" d="M267 250l 3-11 5 14-2 9z"/><path class="a1h" d="M395 297l 2-4 5 2-3 3z"/><path class="a2r" d="M406 297l 3-3 4 2-2 2z"/><path class="ad" d="M301 295l 3-1 2-30-3 8z"/><path class="a2b" d="M389 338l 3-18 4 1-2 17z"/><path class="aq" d="M265 239l 4 1 4 0-3-1z"/><path class="a2a" d="M351 317l 2-9 4-17-3-1z"/><path class="a2c" d="M385 328l 2-14 5 6-3 18z"/><path class="a1k" d="M371 292l 3 0 4 2-2 0z"/><path class="a10" d="M388 298l 2-3 5 2-3 3z"/><path class="ak" d="M316 257l 3 12 5 0-4-14z"/><path class="ae" d="M360 293l 2-1 5-1-3-4z"/><path class="a2r" d="M399 298l 3-3 4 2-2 3z"/><path class="a1f" d="M263 250l 2-11 5 0-3 11z"/><path class="ac" d="M376 294l 2 0 5 2-3 1z"/><path class="ap" d="M392 300l 3-3 4 1-2 4z"/><path class="a2j" d="M320 255l 4 14 4 5-3-10z"/><path class="a2r" d="M404 300l 2-3 5 1-3 3z"/><path class="a3i" d="M386 357l 3 6 4-17-2-2z"/><path class="a5" d="M380 297l 3-1 5 2-3 3z"/><path class="a2b" d="M375 319l 2-3 5 26-2 7z"/><path class="a5" d="M385 301l 3-3 4 2-3 5z"/><path class="a33" d="M394 338l 2-17 5-4-3 12z"/><path class="a2a" d="M348 322l 3-5 3-27-3 2z"/><path class="ap" d="M397 302l 2-4 5 2-3 4z"/><path class="a29" d="M387 314l 2-9 5 3-2 12z"/><path class="a1t" d="M389 305l 3-5 5 2-3 6z"/><path class="a2p" d="M377 316l 3-5 5 17-3 14z"/><path class="a2n" d="M392 320l 2-12 5 2-3 11z"/><path class="ah" d="M309 263l 3 6 4-12-4-14z"/><path class="ad" d="M364 287l 3 4 4 1-3-7z"/><path class="a1t" d="M382 305l 3-4 4 4-2 9zM394 308l 3-6 4 2-2 6z"/><path class="a2n" d="M380 311l 2-6 5 9-2 14z"/><path class="a2b" d="M372 321l 3-2 5 30-3-4z"/><path class="a2f" d="M396 321l 3-11 4 0-2 7z"/><path class="a5" d="M378 296l 2 1 5 4-3 4z"/><path class="a1t" d="M399 310l 2-6 5 1-3 5z"/><path class="ab" d="M357 291l 3 2 4-6-3-10z"/><path class="ad" d="M368 285l 3 7 5 2-3-6z"/><path class="a13" d="M321 253l 4 11 5 18-3-2z"/><path class="ae" d="M373 288l 3 6 4 3-2-1z"/><path class="a2a" d="M345 321l 3 1 3-30-2 5z"/><path class="ac" d="M403 310l 3-5 4 1-2 3z"/><path class="a3p" d="M401 317l 2-7 5-1-3 3z"/><path class="a2s" d="M398 329l 3-12 4-5-3 3z"/><path class="a37" d="M396 341l 2-12 4-14-2 3z"/><path class="a1" d="M408 309l 2-3 5 1-3 2z"/><path class="a4" d="M375 291l 3 5 4 9-2 6z"/><path class="a2o" d="M393 346l 3-5 4-23-3 3z"/><path class="a15" d="M318 252l 3 1 6 27-3 2z"/><path class="aq" d="M306 264l 3-1 3-20-4-2z"/><path class="a11" d="M316 264l 2-12 6 30-2 6z"/><path class="a1k" d="M412 309l 3-2 4 2-2 0z"/><path class="a42" d="M312 243l 4 14 4-2-4-16z"/><path class="aa" d="M405 312l 3-3 4 0-2-2z"/><path class="a1m" d="M316 239l 4 16 5 9-4-11z"/><path class="a2j" d="M361 277l 3 10 4-2-3-15z"/><path class="a1" d="M417 309l 2 0 5 1-3 1z"/><path class="ak" d="M354 290l 3 1 4-14-4-11z"/><path class="aq" d="M303 272l 3-8 2-23-2 14z"/><path class="au" d="M372 285l 3 6 5 20-3 5z"/><path class="ac" d="M421 311l 3-1 5 2-3 2z"/><path class="ax" d="M370 276l 3 12 5 8-3-5z"/><path class="a2o" d="M391 344l 2 2 4-25-2 3z"/><path class="a9" d="M426 314l 3-2 4 2-2 3z"/><path class="ak" d="M365 270l 3 15 5 3-3-12z"/><path class="ae" d="M410 307l 2 2 5 0-3-3z"/><path class="ap" d="M431 317l 2-3 5 2-3 4z"/><path class="ae" d="M402 315l 3-3 5-5-3-5z"/><path class="ag" d="M369 286l 3-1 5 31-2 3z"/><path class="a8" d="M435 320l 3-4 5 2-3 4z"/><path class="ag" d="M366 294l 3-8 6 33-3 2z"/><path class="ae" d="M414 306l 3 3 4 2-2-3z"/><path class="a8" d="M440 322l 3-4 4 1-2 4z"/><path class="a5" d="M428 319l 3-2 4 3-2 5z"/><path class="a1t" d="M433 325l 2-5 5 2-2 6z"/><path class="a4" d="M424 313l 2 1 5 3-3 2z"/><path class="aa" d="M419 308l 2 3 5 3-2-1z"/><path class="a26" d="M432 346l 3-9 5 1-3 8z"/><path class="a2e" d="M428 338l 2-7 5 6-3 9z"/><path class="a29" d="M430 331l 3-6 5 3-3 9z"/><path class="ah" d="M351 292l 3-2 3-24-3-2z"/><path class="a1t" d="M438 328l 2-6 5 1-3 6z"/><path class="a8" d="M445 323l 2-4 5 2-3 4z"/><path class="a29" d="M435 337l 3-9 4 1-2 9z"/><path class="a3r" d="M430 351l 2-5 5 0-2 5z"/><path class="a26" d="M425 342l 3-4 4 8-2 5z"/><path class="a1g" d="M312 236l 4 3 5 14-3-1z"/><path class="a3g" d="M308 241l 4 2 4-4-4-3z"/><path class="a3v" d="M310 252l 2-16 6 16-2 12z"/><path class="ad" d="M400 318l 2-3 5-13-3-5z"/><path class="a1x" d="M426 321l 2-2 5 6-3 6z"/><path class="a10" d="M449 325l 3-4 5 1-3 4z"/><path class="a1t" d="M442 329l 3-6 4 2-2 4z"/><path class="a4q" d="M306 255l 2-14 4-5-2 16z"/><path class="a2f" d="M440 338l 2-9 5 0-3 6z"/><path class="a3o" d="M437 346l 3-8 4-3-2 7z"/><path class="ab" d="M407 302l 3 5 4-1-3-9z"/><path class="a1a" d="M349 297l 2-5 3-28-2 13z"/><path class="a26" d="M423 343l 2-1 5 9-3-1z"/><path class="a1t" d="M423 323l 3-2 4 10-2 7z"/><path class="a1h" d="M454 326l 3-4 4 2-2 3z"/><path class="a2k" d="M427 350l 3 1 5 0-3-1z"/><path class="ac" d="M447 329l 2-4 5 1-2 3z"/><path class="an" d="M366 262l 4 14 5 15-3-6z"/><path class="au" d="M421 309l 3 4 4 6-2 2z"/><path class="a1m" d="M357 266l 4 11 4-7-4-15z"/><path class="a2o" d="M435 351l 2-5 5-4-3 4z"/><path class="a1h" d="M459 327l 2-3 5 2-2 3z"/><path class="a2w" d="M420 326l 3-3 5 15-3 4z"/><path class="a1k" d="M444 335l 3-6 5 0-3 4z"/><path class="a1i" d="M452 329l 2-3 5 1-3 3z"/><path class="ax" d="M411 297l 3 9 5 2-3-9z"/><path class="ab" d="M397 321l 3-3 4-21-3 1zM416 299l 3 9 5 5-3-4z"/><path class="a1h" d="M464 329l 2-3 5 1-3 3z"/><path class="a2w" d="M418 330l 2-4 5 16-2 1z"/><path class="a2s" d="M442 342l 2-7 5-2-2 4z"/><path class="a2o" d="M432 350l 3 1 4-5-2 1z"/><path class="a1i" d="M456 330l 3-3 5 2-3 2z"/><path class="a1h" d="M468 330l 3-3 5 2-3 3z"/><path class="a42" d="M361 255l 4 15 5 6-4-14z"/><path class="a1" d="M449 333l 3-4 4 1-2 2z"/><path class="ag" d="M418 305l 3 4 5 12-3 2z"/><path class="a2s" d="M439 346l 3-4 5-5-3 3z"/><path class="a6" d="M461 331l 3-2 4 1-2 3z"/><path class="ab" d="M395 324l 2-3 4-23-2 8z"/><path class="a1d" d="M363 260l 3 2 6 23-3 1z"/><path class="a10" d="M466 333l 2-3 5 2-2 3z"/><path class="av" d="M361 274l 2-14 6 26-3 8z"/><path class="a0" d="M454 332l 2-2 5 1-2 2z"/><path class="a1a" d="M404 297l 3 5 4-5-2-10z"/><path class="a1k" d="M447 337l 2-4 5-1-3 2z"/><path class="a1h" d="M471 335l 2-3 5 2-3 3z"/><path class="a2s" d="M437 347l 2-1 5-6-2 3z"/><path class="a0" d="M459 333l 2-2 5 2-3 2z"/><path class="af" d="M416 306l 2-1 5 18-3 3z"/><path class="a1o" d="M354 264l 3 2 4-11-3-3z"/><path class="a2r" d="M475 337l 3-3 5 2-3 3z"/><path class="a8" d="M463 335l 3-2 5 2-3 3z"/><path class="aa" d="M444 340l 3-3 4-3-2 3z"/><path class="af" d="M413 314l 3-8 4 20-2 4z"/><path class="a1" d="M451 334l 3-2 5 1-3 2z"/><path class="ar" d="M413 290l 3 9 5 10-3-4z"/><path class="a1c" d="M352 277l 2-13 4-12-2 15z"/><path class="a10" d="M468 338l 3-3 4 2-2 3z"/><path class="ah" d="M409 287l 2 10 5 2-3-9z"/><path class="a7" d="M456 335l 3-2 4 2-2 2z"/><path class="a1h" d="M473 340l 2-3 5 2-2 3z"/><path class="a3k" d="M358 252l 3 3 5 7-3-2z"/><path class="a7" d="M461 337l 2-2 5 3-2 2z"/><path class="aa" d="M442 343l 2-3 5-3-3 4z"/><path class="a1" d="M449 337l 2-3 5 1-2 2z"/><path class="a1g" d="M356 267l 2-15 5 8-2 14z"/><path class="a8" d="M466 340l 2-2 5 2-2 3z"/><path class="a17" d="M401 298l 3-1 5-10-3-1z"/><path class="a10" d="M471 343l 2-3 5 2-3 3z"/><path class="a6" d="M454 337l 2-2 5 2-3 3z"/><path class="a4" d="M458 340l 3-3 5 3-3 3z"/><path class="ac" d="M446 341l 3-4 5 0-3 5z"/><path class="a2r" d="M475 345l 3-3 5 2-3 3z"/><path class="at" d="M411 290l 2 0 5 15-2 1z"/><path class="a17" d="M399 306l 2-8 5-12-3 12z"/><path class="a9" d="M463 343l 3-3 5 3-3 3z"/><path class="a15" d="M408 301l 3-11 5 16-3 8z"/><path class="a10" d="M468 346l 3-3 4 2-2 4z"/><path class="a3" d="M451 342l 3-5 4 3-2 4z"/><path class="a4" d="M456 344l 2-4 5 3-2 4z"/><path class="a2r" d="M473 349l 2-4 5 2-2 3z"/><path class="a1m" d="M406 286l 3 1 4 3-2 0z"/><path class="a8" d="M461 347l 2-4 5 3-2 4z"/><path class="a10" d="M466 350l 2-4 5 3-3 3z"/><path class="a1f" d="M403 298l 3-12 5 4-3 11z"/><path class="a2r" d="M470 352l 3-3 5 1-3 4z"/></g><path d="M73.1 90.6L266.5 156.9" stroke="#a8a8a8" stroke-width="0.9" fill="none"/><path d="M266.5 156.9L348.5 45.5" stroke="#a8a8a8" stroke-width="0.9" fill="none"/><path d="M73.1 90.6L83.3 154.9" stroke="#a8a8a8" stroke-width="0.9" fill="none"/><path d="M266.5 156.9L262.4 223.9" stroke="#a8a8a8" stroke-width="0.9" fill="none"/><path d="M348.5 45.5L339.8 107.1" stroke="#a8a8a8" stroke-width="0.9" fill="none"/><path d="M83.3 154.9L262.4 223.9" stroke="#a8a8a8" stroke-width="0.9" fill="none"/><path d="M262.4 223.9L339.8 107.1" stroke="#a8a8a8" stroke-width="0.9" fill="none"/><path d="M86.3 156.1L89.8 152.8M264.2 221.1L258.5 218.9M101.9 162.1L104.0 160.1M273.1 207.7L269.7 206.5M117.8 168.2L119.8 166.1M281.6 194.9L278.3 193.7M134.0 174.4L136.0 172.3M289.8 182.6L286.5 181.4M150.6 180.8L152.6 178.7M297.6 170.8L294.4 169.7M167.6 187.4L170.8 183.7M305.2 159.5L299.8 157.7M185.0 194.1L186.8 191.8M312.4 148.6L309.2 147.5M202.7 200.9L204.5 198.6M319.3 138.1L316.2 137.1M220.9 207.9L222.7 205.6M326.0 128.0L322.9 127.1M239.5 215.1L241.2 212.7M332.4 118.3L329.4 117.4M258.5 222.4L261.3 218.3M338.6 109.0L333.7 107.5M83.4 155.5L85.5 153.5M82.7 151.5L84.8 149.5M82.1 147.4L84.2 145.4M81.4 143.3L85.0 140.0M80.8 139.1L82.9 137.2M80.1 134.9L82.3 133.0M79.4 130.6L81.6 128.7M78.7 126.4L80.9 124.4M78.1 122.0L81.7 118.8M77.4 117.7L79.6 115.7M76.7 113.2L78.9 111.3M76.0 108.8L78.2 106.9M75.2 104.3L77.5 102.4M74.5 99.7L78.3 96.6M73.8 95.1L76.1 93.2" stroke="#777" stroke-width="0.8" fill="none"/>
<defs><filter id="bd1" x="-20%" y="-20%" width="140%" height="140%"><feGaussianBlur stdDeviation="1.3"/></filter><filter id="bd2" x="-20%" y="-20%" width="140%" height="140%"><feGaussianBlur stdDeviation="2.2"/></filter><filter id="bd05" x="-20%" y="-20%" width="140%" height="140%"><feGaussianBlur stdDeviation="0.6"/></filter><clipPath id="cpd"><circle cx="568.7" cy="391.4" r="130.4"/></clipPath><linearGradient id="lobeA" x1="0" x2="1" y1="0" y2="0"><stop offset="0" stop-opacity="1" stop-color="#fff"/><stop offset="0.14" stop-opacity="1" stop-color="#fff"/><stop offset="0.24" stop-opacity="0.45" stop-color="#fff"/><stop offset="0.32" stop-opacity="0" stop-color="#fff"/><stop offset="0.68" stop-opacity="0" stop-color="#fff"/><stop offset="0.76" stop-opacity="0.45" stop-color="#fff"/><stop offset="0.86" stop-opacity="1" stop-color="#fff"/><stop offset="1" stop-opacity="1" stop-color="#fff"/></linearGradient><linearGradient id="lobeB" x1="0" x2="1" y1="0" y2="0"><stop offset="0" stop-opacity="1" stop-color="#fff"/><stop offset="0.14" stop-opacity="1" stop-color="#fff"/><stop offset="0.19" stop-opacity="0.6" stop-color="#fff"/><stop offset="0.23" stop-opacity="0" stop-color="#fff"/><stop offset="0.77" stop-opacity="0" stop-color="#fff"/><stop offset="0.81" stop-opacity="0.6" stop-color="#fff"/><stop offset="0.86" stop-opacity="1" stop-color="#fff"/><stop offset="1" stop-opacity="1" stop-color="#fff"/></linearGradient><mask id="mA" maskUnits="userSpaceOnUse" x="0" y="0" width="754" height="576"><rect x="502.7" y="325.4" width="132.0" height="132.0" fill="url(#lobeA)"/></mask><mask id="mB" maskUnits="userSpaceOnUse" x="0" y="0" width="754" height="576"><rect x="502.7" y="325.4" width="132.0" height="132.0" fill="url(#lobeB)"/></mask><mask id="mR" maskUnits="userSpaceOnUse" x="0" y="0" width="754" height="576"><rect x="520.7" y="343.4" width="96.0" height="96.0" fill="url(#lobeA)"/></mask></defs>
<circle cx="568.7" cy="391.4" r="130.4" fill="#0e0c0e"/>
<g clip-path="url(#cpd)"><circle cx="568.7" cy="391.4" r="60" fill="none" stroke="#6a32a8" stroke-width="7" filter="url(#bd1)"/><g mask="url(#mA)"><circle cx="568.7" cy="391.4" r="58" fill="none" stroke="#5a2c92" stroke-width="18" filter="url(#bd2)"/></g><g mask="url(#mA)"><circle cx="568.7" cy="391.4" r="59" fill="none" stroke="#e8503a" stroke-width="13" filter="url(#bd1)"/></g><g mask="url(#mB)"><circle cx="568.7" cy="391.4" r="59.5" fill="none" stroke="#f8b030" stroke-width="7" filter="url(#bd1)"/><circle cx="568.7" cy="391.4" r="59.5" fill="none" stroke="#fff2b0" stroke-width="2.2" filter="url(#bd05)"/></g><circle cx="568.7" cy="391.4" r="44" fill="none" stroke="#6a2a92" stroke-width="7" opacity="0.6" filter="url(#bd1)"/><circle cx="568.7" cy="391.4" r="43.8" fill="none" stroke="#e0443e" stroke-width="4" filter="url(#bd05)"/><g opacity="0.95"><circle cx="571.9" cy="434.2" r="1.1" fill="#e04a40"/><circle cx="534.4" cy="364.6" r="1.0" fill="#e04a40"/><circle cx="584.3" cy="432.1" r="0.9" fill="#e04a40"/><circle cx="573.5" cy="433.8" r="1.3" fill="#fff0b0"/><circle cx="566.3" cy="347.8" r="1.1" fill="#c83a58"/><circle cx="576.9" cy="348.7" r="0.9" fill="#c83a58"/><circle cx="558.7" cy="347.9" r="1.0" fill="#e04a40"/><circle cx="600.1" cy="361.5" r="0.8" fill="#fce080"/><circle cx="566.5" cy="434.4" r="1.0" fill="#c83a58"/><circle cx="530.8" cy="372.4" r="0.9" fill="#fce080"/><circle cx="604.1" cy="367.1" r="1.3" fill="#e04a40"/><circle cx="555.4" cy="351.6" r="1.0" fill="#f8b040"/><circle cx="558.7" cy="348.3" r="0.9" fill="#e04a40"/><circle cx="523.5" cy="396.5" r="1.0" fill="#f07030"/><circle cx="582.3" cy="350.2" r="1.2" fill="#f8b040"/><circle cx="611.1" cy="403.5" r="0.7" fill="#f07030"/><circle cx="526.5" cy="377.4" r="0.7" fill="#f8b040"/><circle cx="607.2" cy="411.6" r="0.7" fill="#fce080"/><circle cx="611.6" cy="383.6" r="1.3" fill="#f07030"/><circle cx="551.3" cy="432.4" r="1.2" fill="#c83a58"/><circle cx="537.0" cy="422.5" r="1.1" fill="#e04a40"/><circle cx="537.3" cy="361.8" r="1.0" fill="#c83a58"/><circle cx="539.9" cy="359.0" r="0.9" fill="#f07030"/><circle cx="528.9" cy="378.9" r="0.9" fill="#f07030"/><circle cx="611.2" cy="396.8" r="1.1" fill="#fff0b0"/><circle cx="542.8" cy="425.7" r="1.1" fill="#c83a58"/><circle cx="565.4" cy="347.4" r="1.3" fill="#c83a58"/><circle cx="538.3" cy="359.8" r="1.1" fill="#fce080"/><circle cx="540.2" cy="424.2" r="0.9" fill="#fff0b0"/><circle cx="604.0" cy="418.7" r="1.3" fill="#e04a40"/><circle cx="552.5" cy="432.4" r="0.8" fill="#fff0b0"/><circle cx="541.9" cy="354.7" r="1.1" fill="#f07030"/><circle cx="548.7" cy="352.1" r="0.7" fill="#e04a40"/><circle cx="602.7" cy="361.3" r="0.8" fill="#f8b040"/><circle cx="612.2" cy="400.8" r="1.0" fill="#f07030"/><circle cx="545.3" cy="428.2" r="0.8" fill="#c83a58"/><circle cx="532.5" cy="368.6" r="1.0" fill="#c83a58"/><circle cx="557.6" cy="434.3" r="0.7" fill="#c83a58"/><circle cx="594.3" cy="429.6" r="1.3" fill="#c83a58"/><circle cx="527.8" cy="375.5" r="1.1" fill="#e04a40"/><circle cx="567.4" cy="346.9" r="0.9" fill="#c83a58"/><circle cx="601.5" cy="364.1" r="1.2" fill="#c83a58"/><circle cx="600.6" cy="421.4" r="1.0" fill="#e04a40"/><circle cx="603.8" cy="364.8" r="1.0" fill="#e04a40"/><circle cx="524.4" cy="396.7" r="0.7" fill="#fff0b0"/><circle cx="610.8" cy="406.0" r="0.8" fill="#e04a40"/><circle cx="568.0" cy="435.9" r="0.9" fill="#e04a40"/><circle cx="599.6" cy="421.3" r="0.8" fill="#e04a40"/><circle cx="580.4" cy="347.7" r="0.7" fill="#c83a58"/><circle cx="609.6" cy="404.7" r="0.9" fill="#fff0b0"/><circle cx="609.6" cy="405.0" r="1.2" fill="#f8b040"/><circle cx="600.8" cy="423.4" r="1.3" fill="#f8b040"/><circle cx="525.6" cy="387.2" r="0.9" fill="#fff0b0"/><circle cx="531.2" cy="368.7" r="0.8" fill="#f07030"/><circle cx="529.2" cy="410.4" r="1.2" fill="#fce080"/><circle cx="611.0" cy="403.1" r="1.1" fill="#fff0b0"/><circle cx="538.9" cy="356.9" r="1.1" fill="#f07030"/><circle cx="529.8" cy="412.6" r="1.0" fill="#fce080"/><circle cx="577.2" cy="434.2" r="0.8" fill="#e04a40"/><circle cx="601.4" cy="360.5" r="0.9" fill="#c83a58"/><circle cx="599.8" cy="421.1" r="1.2" fill="#c83a58"/><circle cx="548.0" cy="355.1" r="1.0" fill="#e04a40"/><circle cx="585.2" cy="351.0" r="0.9" fill="#f8b040"/><circle cx="529.3" cy="374.6" r="0.9" fill="#f8b040"/><circle cx="544.8" cy="428.3" r="1.0" fill="#f07030"/><circle cx="530.3" cy="370.6" r="0.7" fill="#fce080"/><circle cx="603.0" cy="418.6" r="0.9" fill="#fce080"/><circle cx="588.3" cy="354.6" r="0.8" fill="#fce080"/><circle cx="527.3" cy="403.7" r="1.1" fill="#f07030"/><circle cx="529.6" cy="376.9" r="0.9" fill="#e04a40"/><circle cx="610.6" cy="384.2" r="1.1" fill="#fff0b0"/><circle cx="593.5" cy="428.5" r="1.2" fill="#fce080"/><circle cx="604.8" cy="416.2" r="1.0" fill="#fce080"/><circle cx="596.1" cy="423.0" r="0.8" fill="#c83a58"/><circle cx="609.5" cy="373.7" r="1.1" fill="#fff0b0"/><circle cx="533.3" cy="367.2" r="1.3" fill="#fce080"/><circle cx="553.4" cy="432.2" r="1.0" fill="#fce080"/><circle cx="548.8" cy="432.2" r="0.8" fill="#c83a58"/><circle cx="555.5" cy="349.3" r="1.1" fill="#e04a40"/><circle cx="524.1" cy="396.7" r="1.2" fill="#fff0b0"/><circle cx="577.8" cy="348.3" r="1.2" fill="#e04a40"/><circle cx="610.9" cy="380.2" r="0.8" fill="#fce080"/><circle cx="575.9" cy="347.4" r="0.7" fill="#c83a58"/><circle cx="590.3" cy="430.6" r="0.8" fill="#f8b040"/><circle cx="562.9" cy="347.6" r="0.9" fill="#c83a58"/><circle cx="526.7" cy="404.4" r="0.9" fill="#f8b040"/><circle cx="546.9" cy="428.3" r="1.1" fill="#fff0b0"/><circle cx="534.5" cy="419.4" r="0.8" fill="#f07030"/><circle cx="606.8" cy="411.2" r="0.9" fill="#f07030"/><circle cx="549.5" cy="351.6" r="1.0" fill="#f07030"/><circle cx="603.5" cy="419.2" r="1.0" fill="#fff0b0"/><circle cx="525.2" cy="389.0" r="0.9" fill="#fce080"/><circle cx="542.1" cy="356.7" r="1.3" fill="#fff0b0"/><circle cx="599.7" cy="421.7" r="0.8" fill="#c83a58"/><circle cx="542.2" cy="357.2" r="0.8" fill="#fff0b0"/><circle cx="552.2" cy="431.2" r="0.7" fill="#fce080"/><circle cx="569.9" cy="349.0" r="0.9" fill="#c83a58"/><circle cx="609.7" cy="405.7" r="1.0" fill="#f07030"/><circle cx="569.5" cy="435.3" r="0.9" fill="#f8b040"/><circle cx="542.8" cy="425.7" r="0.8" fill="#c83a58"/><circle cx="532.1" cy="368.2" r="0.8" fill="#e04a40"/><circle cx="529.7" cy="373.9" r="0.9" fill="#fce080"/><circle cx="531.5" cy="367.2" r="1.0" fill="#fce080"/><circle cx="581.9" cy="433.9" r="1.2" fill="#f8b040"/><circle cx="592.2" cy="355.5" r="0.9" fill="#c83a58"/><circle cx="539.2" cy="358.6" r="1.1" fill="#c83a58"/><circle cx="603.3" cy="364.8" r="1.1" fill="#f8b040"/><circle cx="574.3" cy="348.2" r="1.0" fill="#c83a58"/><circle cx="582.6" cy="433.1" r="1.3" fill="#c83a58"/><circle cx="601.7" cy="419.3" r="1.1" fill="#fce080"/><circle cx="597.8" cy="424.6" r="0.9" fill="#fce080"/><circle cx="526.1" cy="389.8" r="0.7" fill="#f07030"/><circle cx="548.9" cy="431.5" r="1.2" fill="#f8b040"/><circle cx="559.6" cy="349.6" r="0.9" fill="#e04a40"/><circle cx="609.1" cy="372.9" r="1.0" fill="#f8b040"/><circle cx="578.6" cy="349.5" r="1.2" fill="#e04a40"/><circle cx="534.9" cy="418.8" r="0.8" fill="#c83a58"/><circle cx="553.9" cy="432.7" r="1.2" fill="#c83a58"/><circle cx="528.4" cy="407.8" r="1.2" fill="#fff0b0"/><circle cx="525.6" cy="383.4" r="0.8" fill="#f8b040"/><circle cx="583.3" cy="350.2" r="1.0" fill="#e04a40"/><circle cx="580.0" cy="434.6" r="0.9" fill="#fce080"/><circle cx="539.6" cy="357.6" r="0.8" fill="#f8b040"/><circle cx="532.0" cy="417.0" r="0.7" fill="#f8b040"/><circle cx="571.7" cy="436.1" r="1.2" fill="#e04a40"/><circle cx="605.3" cy="416.0" r="0.8" fill="#f8b040"/><circle cx="543.7" cy="427.6" r="0.9" fill="#c83a58"/><circle cx="579.4" cy="348.7" r="1.0" fill="#c83a58"/><circle cx="610.3" cy="399.4" r="0.7" fill="#fff0b0"/><circle cx="614.1" cy="382.5" r="0.7" fill="#f8b040"/><circle cx="549.8" cy="350.7" r="0.8" fill="#c83a58"/><circle cx="582.1" cy="433.2" r="1.0" fill="#c83a58"/><circle cx="606.9" cy="369.6" r="1.1" fill="#fff0b0"/><circle cx="605.9" cy="414.3" r="1.2" fill="#f8b040"/><circle cx="526.0" cy="389.4" r="0.9" fill="#fff0b0"/><circle cx="591.0" cy="354.1" r="1.3" fill="#c83a58"/><circle cx="582.4" cy="350.7" r="0.9" fill="#e04a40"/><circle cx="524.6" cy="389.4" r="1.2" fill="#fff0b0"/><circle cx="610.8" cy="377.6" r="1.2" fill="#f8b040"/><circle cx="571.0" cy="347.5" r="0.8" fill="#e04a40"/><circle cx="533.3" cy="365.4" r="0.7" fill="#fff0b0"/><circle cx="603.4" cy="365.1" r="0.9" fill="#c83a58"/><circle cx="613.0" cy="391.9" r="0.9" fill="#f07030"/><circle cx="603.6" cy="420.3" r="1.1" fill="#fce080"/><circle cx="551.3" cy="348.9" r="1.3" fill="#f8b040"/><circle cx="574.2" cy="434.6" r="0.8" fill="#c83a58"/><circle cx="524.3" cy="390.0" r="1.2" fill="#fff0b0"/><circle cx="587.8" cy="430.4" r="1.2" fill="#f8b040"/><circle cx="532.8" cy="365.9" r="0.9" fill="#e04a40"/><circle cx="526.3" cy="400.8" r="1.2" fill="#f8b040"/><circle cx="541.1" cy="357.2" r="1.1" fill="#fff0b0"/><circle cx="576.0" cy="350.1" r="1.3" fill="#fff0b0"/><circle cx="586.2" cy="350.9" r="1.1" fill="#e04a40"/><circle cx="544.3" cy="429.1" r="1.2" fill="#f07030"/><circle cx="530.6" cy="411.5" r="0.9" fill="#f8b040"/><circle cx="546.9" cy="428.2" r="0.8" fill="#fce080"/><circle cx="549.3" cy="430.6" r="1.2" fill="#fff0b0"/><circle cx="607.9" cy="373.3" r="1.0" fill="#fce080"/><circle cx="605.4" cy="365.8" r="0.9" fill="#e04a40"/><circle cx="557.3" cy="433.4" r="0.8" fill="#e04a40"/><circle cx="612.4" cy="399.2" r="1.0" fill="#fce080"/><circle cx="567.3" cy="346.8" r="1.0" fill="#f07030"/><circle cx="525.3" cy="400.2" r="1.0" fill="#fff0b0"/><circle cx="526.2" cy="407.0" r="1.0" fill="#f07030"/><circle cx="613.8" cy="384.7" r="0.8" fill="#f07030"/><circle cx="609.2" cy="375.4" r="1.3" fill="#fce080"/><circle cx="540.6" cy="425.5" r="1.2" fill="#f07030"/><circle cx="568.0" cy="348.2" r="1.0" fill="#e04a40"/><circle cx="597.6" cy="422.8" r="0.7" fill="#fce080"/><circle cx="612.1" cy="386.9" r="0.9" fill="#f07030"/><circle cx="612.7" cy="385.6" r="1.0" fill="#f07030"/><circle cx="591.2" cy="353.7" r="1.2" fill="#c83a58"/><circle cx="552.2" cy="432.0" r="0.9" fill="#f8b040"/><circle cx="613.4" cy="399.7" r="1.3" fill="#fce080"/><circle cx="606.3" cy="368.4" r="1.2" fill="#fff0b0"/><circle cx="525.6" cy="389.0" r="1.0" fill="#f07030"/><circle cx="613.3" cy="396.1" r="1.2" fill="#fff0b0"/><circle cx="525.5" cy="400.3" r="1.3" fill="#fff0b0"/><circle cx="538.9" cy="422.8" r="0.8" fill="#f8b040"/><circle cx="532.5" cy="415.0" r="1.0" fill="#f07030"/><circle cx="526.4" cy="404.4" r="1.0" fill="#fff0b0"/><circle cx="525.2" cy="395.4" r="1.0" fill="#f07030"/><circle cx="610.7" cy="399.6" r="0.9" fill="#f07030"/><circle cx="603.3" cy="417.4" r="0.9" fill="#fff0b0"/><circle cx="604.4" cy="363.9" r="1.3" fill="#fce080"/><circle cx="544.0" cy="355.6" r="0.9" fill="#e04a40"/><circle cx="562.7" cy="436.9" r="0.9" fill="#f07030"/><circle cx="610.8" cy="401.0" r="0.9" fill="#f8b040"/><circle cx="523.5" cy="392.8" r="0.8" fill="#f8b040"/><circle cx="539.2" cy="359.6" r="0.7" fill="#c83a58"/><circle cx="611.6" cy="384.4" r="1.0" fill="#c83a58"/><circle cx="527.6" cy="379.1" r="0.8" fill="#fce080"/><circle cx="596.0" cy="426.2" r="1.1" fill="#e04a40"/><circle cx="595.9" cy="425.3" r="1.2" fill="#fce080"/><circle cx="552.4" cy="431.8" r="1.0" fill="#fce080"/><circle cx="526.3" cy="382.0" r="0.8" fill="#fff0b0"/><circle cx="587.1" cy="431.6" r="0.9" fill="#fff0b0"/><circle cx="542.4" cy="426.5" r="0.7" fill="#e04a40"/><circle cx="612.1" cy="393.4" r="0.7" fill="#fff0b0"/><circle cx="603.8" cy="418.2" r="1.0" fill="#c83a58"/><circle cx="525.1" cy="382.8" r="1.0" fill="#f07030"/><circle cx="528.5" cy="406.7" r="1.2" fill="#fce080"/><circle cx="570.5" cy="348.1" r="0.9" fill="#e04a40"/><circle cx="550.2" cy="432.7" r="0.8" fill="#e04a40"/><circle cx="531.6" cy="415.2" r="1.2" fill="#fff0b0"/><circle cx="612.1" cy="389.1" r="1.0" fill="#f07030"/><circle cx="604.5" cy="414.9" r="1.1" fill="#f07030"/><circle cx="526.8" cy="403.2" r="1.1" fill="#f07030"/><circle cx="555.8" cy="349.4" r="1.1" fill="#f07030"/><circle cx="559.0" cy="432.6" r="0.9" fill="#e04a40"/><circle cx="533.2" cy="364.9" r="0.8" fill="#fff0b0"/><circle cx="614.4" cy="381.8" r="1.0" fill="#fce080"/><circle cx="611.4" cy="387.8" r="0.7" fill="#fff0b0"/><circle cx="527.2" cy="378.0" r="0.9" fill="#fce080"/><circle cx="594.3" cy="358.2" r="0.8" fill="#fff0b0"/><circle cx="602.6" cy="361.1" r="1.2" fill="#f07030"/><circle cx="611.8" cy="394.6" r="1.2" fill="#f8b040"/><circle cx="530.4" cy="368.9" r="0.8" fill="#f07030"/><circle cx="610.7" cy="409.4" r="1.0" fill="#fce080"/><circle cx="611.8" cy="399.5" r="1.3" fill="#fff0b0"/></g><circle cx="568.7" cy="391.4" r="30.8" fill="none" stroke="#4e2a80" stroke-width="3.6" filter="url(#bd1)"/><circle cx="568.7" cy="391.4" r="18" fill="none" stroke="#e05530" stroke-width="7" filter="url(#bd05)"/><g opacity="0.9" filter="url(#bd05)"><circle cx="567.2" cy="372.3" r="1.6" fill="#fbd860"/><circle cx="560.3" cy="404.8" r="1.4" fill="#fde890"/><circle cx="581.0" cy="379.8" r="1.6" fill="#f08030"/><circle cx="550.7" cy="385.2" r="1.0" fill="#f7a838"/><circle cx="553.8" cy="380.8" r="1.2" fill="#fbd860"/><circle cx="550.6" cy="392.5" r="1.7" fill="#fbd860"/><circle cx="566.2" cy="408.0" r="1.2" fill="#f08030"/><circle cx="551.2" cy="398.8" r="1.0" fill="#fff0c0"/><circle cx="586.7" cy="399.1" r="1.2" fill="#fbd860"/><circle cx="561.3" cy="406.1" r="1.6" fill="#fff0c0"/><circle cx="576.7" cy="376.0" r="1.4" fill="#ffffff"/><circle cx="574.4" cy="409.7" r="1.2" fill="#fff0c0"/><circle cx="583.1" cy="396.3" r="1.3" fill="#fde890"/><circle cx="552.9" cy="383.5" r="1.0" fill="#fde890"/><circle cx="577.0" cy="374.0" r="1.2" fill="#ffffff"/><circle cx="584.0" cy="389.7" r="1.4" fill="#fde890"/><circle cx="571.2" cy="408.1" r="1.4" fill="#f9c050"/><circle cx="551.6" cy="388.0" r="1.4" fill="#ffffff"/><circle cx="561.1" cy="408.9" r="1.5" fill="#fde890"/><circle cx="573.5" cy="407.4" r="0.9" fill="#f9c050"/><circle cx="579.3" cy="378.2" r="1.6" fill="#f7a838"/><circle cx="576.2" cy="376.2" r="1.7" fill="#fff0c0"/><circle cx="582.7" cy="384.6" r="1.2" fill="#fbd860"/><circle cx="560.3" cy="407.3" r="1.1" fill="#fbd860"/><circle cx="570.1" cy="408.7" r="1.1" fill="#ffffff"/><circle cx="567.1" cy="410.0" r="1.5" fill="#ffffff"/><circle cx="566.7" cy="373.2" r="1.0" fill="#f7a838"/><circle cx="569.2" cy="410.5" r="1.5" fill="#fde890"/><circle cx="575.2" cy="375.3" r="1.4" fill="#fde890"/><circle cx="554.0" cy="402.9" r="1.3" fill="#f9c050"/><circle cx="576.5" cy="407.2" r="1.0" fill="#fde890"/><circle cx="580.9" cy="376.6" r="1.3" fill="#f9c050"/><circle cx="576.1" cy="406.3" r="1.3" fill="#f9c050"/><circle cx="576.0" cy="375.1" r="1.7" fill="#ffffff"/><circle cx="555.1" cy="400.5" r="1.0" fill="#f9c050"/><circle cx="560.0" cy="405.4" r="1.5" fill="#f9c050"/><circle cx="561.1" cy="407.2" r="1.1" fill="#fde890"/><circle cx="579.4" cy="406.6" r="1.6" fill="#ffffff"/><circle cx="552.8" cy="392.1" r="1.1" fill="#fff0c0"/><circle cx="563.7" cy="375.4" r="1.7" fill="#f9c050"/><circle cx="562.2" cy="410.4" r="1.3" fill="#f9c050"/><circle cx="577.1" cy="377.4" r="1.5" fill="#f08030"/><circle cx="583.4" cy="383.8" r="1.5" fill="#f9c050"/><circle cx="550.1" cy="393.9" r="1.4" fill="#fde890"/><circle cx="563.4" cy="409.6" r="1.5" fill="#ffffff"/><circle cx="549.6" cy="384.7" r="1.2" fill="#fbd860"/><circle cx="576.8" cy="406.7" r="1.2" fill="#f9c050"/><circle cx="556.4" cy="405.2" r="1.5" fill="#f9c050"/><circle cx="550.4" cy="393.5" r="1.0" fill="#fff0c0"/><circle cx="550.3" cy="385.2" r="1.0" fill="#f9c050"/><circle cx="580.0" cy="379.1" r="1.0" fill="#f08030"/><circle cx="561.5" cy="375.0" r="1.1" fill="#f08030"/><circle cx="583.1" cy="404.4" r="1.2" fill="#f08030"/><circle cx="556.8" cy="404.2" r="1.4" fill="#f08030"/><circle cx="553.3" cy="384.0" r="1.1" fill="#f08030"/><circle cx="573.2" cy="374.0" r="1.5" fill="#fff0c0"/><circle cx="582.9" cy="401.5" r="1.1" fill="#fbd860"/><circle cx="560.7" cy="405.2" r="1.0" fill="#f7a838"/><circle cx="577.6" cy="406.5" r="1.3" fill="#ffffff"/><circle cx="582.5" cy="381.3" r="1.3" fill="#f9c050"/><circle cx="551.2" cy="390.9" r="1.5" fill="#f08030"/><circle cx="564.0" cy="407.5" r="1.1" fill="#f9c050"/><circle cx="579.7" cy="407.3" r="0.9" fill="#f7a838"/><circle cx="550.4" cy="390.8" r="1.7" fill="#ffffff"/><circle cx="568.0" cy="408.2" r="1.7" fill="#ffffff"/><circle cx="573.6" cy="407.5" r="1.0" fill="#fff0c0"/><circle cx="550.8" cy="393.1" r="1.3" fill="#f9c050"/><circle cx="566.6" cy="374.3" r="1.1" fill="#fff0c0"/><circle cx="555.6" cy="378.3" r="0.9" fill="#fff0c0"/><circle cx="556.6" cy="378.7" r="1.3" fill="#fbd860"/><circle cx="552.4" cy="385.8" r="1.0" fill="#fbd860"/><circle cx="583.9" cy="398.5" r="1.4" fill="#f9c050"/><circle cx="578.0" cy="408.6" r="1.2" fill="#ffffff"/><circle cx="583.4" cy="402.3" r="1.5" fill="#f9c050"/><circle cx="583.7" cy="392.5" r="1.5" fill="#fde890"/><circle cx="552.5" cy="397.7" r="1.1" fill="#fbd860"/><circle cx="558.5" cy="406.4" r="1.0" fill="#ffffff"/><circle cx="587.9" cy="389.1" r="1.0" fill="#f9c050"/><circle cx="569.4" cy="410.5" r="1.4" fill="#fde890"/><circle cx="574.9" cy="409.1" r="1.4" fill="#f08030"/><circle cx="556.4" cy="376.5" r="1.6" fill="#fde890"/><circle cx="551.0" cy="389.0" r="1.2" fill="#f08030"/><circle cx="574.5" cy="373.7" r="1.3" fill="#f08030"/><circle cx="586.0" cy="382.8" r="1.4" fill="#f9c050"/><circle cx="578.8" cy="404.9" r="1.3" fill="#fde890"/><circle cx="556.8" cy="404.7" r="1.7" fill="#fff0c0"/><circle cx="586.7" cy="400.3" r="1.5" fill="#f9c050"/><circle cx="587.5" cy="393.8" r="0.9" fill="#f9c050"/><circle cx="586.0" cy="391.9" r="1.6" fill="#fbd860"/><circle cx="560.1" cy="404.2" r="1.1" fill="#fbd860"/><circle cx="550.3" cy="392.4" r="1.1" fill="#f9c050"/><circle cx="582.0" cy="399.7" r="1.7" fill="#fbd860"/><circle cx="582.0" cy="402.9" r="1.0" fill="#f9c050"/><circle cx="551.9" cy="388.1" r="1.5" fill="#fde890"/><circle cx="581.4" cy="406.5" r="1.1" fill="#fde890"/><circle cx="589.5" cy="392.2" r="1.0" fill="#fbd860"/><circle cx="583.2" cy="384.2" r="1.3" fill="#f9c050"/><circle cx="551.3" cy="399.0" r="1.2" fill="#fbd860"/><circle cx="561.6" cy="405.9" r="1.5" fill="#f08030"/><circle cx="573.7" cy="408.9" r="1.0" fill="#f08030"/><circle cx="567.9" cy="372.0" r="1.1" fill="#ffffff"/><circle cx="554.5" cy="381.1" r="1.4" fill="#f9c050"/><circle cx="584.9" cy="396.5" r="1.2" fill="#f7a838"/><circle cx="584.7" cy="381.7" r="1.3" fill="#f9c050"/><circle cx="581.3" cy="380.1" r="1.2" fill="#fbd860"/><circle cx="557.1" cy="404.6" r="1.6" fill="#f9c050"/><circle cx="557.0" cy="404.9" r="1.1" fill="#fde890"/><circle cx="581.0" cy="379.7" r="1.5" fill="#fbd860"/><circle cx="557.5" cy="377.4" r="1.5" fill="#fbd860"/><circle cx="551.5" cy="393.8" r="1.3" fill="#fde890"/><circle cx="551.9" cy="398.9" r="1.4" fill="#f7a838"/><circle cx="585.3" cy="381.6" r="1.1" fill="#fff0c0"/><circle cx="588.0" cy="388.9" r="1.6" fill="#fff0c0"/><circle cx="584.3" cy="403.4" r="1.1" fill="#f08030"/><circle cx="550.7" cy="385.6" r="1.7" fill="#f7a838"/><circle cx="572.8" cy="409.9" r="1.6" fill="#f9c050"/><circle cx="551.8" cy="391.6" r="0.9" fill="#fde890"/><circle cx="585.5" cy="393.3" r="1.7" fill="#ffffff"/><circle cx="551.5" cy="385.5" r="1.1" fill="#fde890"/><circle cx="582.9" cy="379.3" r="1.1" fill="#fde890"/><circle cx="580.4" cy="379.2" r="1.0" fill="#fde890"/><circle cx="562.2" cy="410.1" r="1.1" fill="#fde890"/><circle cx="573.5" cy="408.8" r="1.4" fill="#fde890"/><circle cx="585.1" cy="384.2" r="1.5" fill="#f9c050"/><circle cx="584.9" cy="399.1" r="1.0" fill="#fde890"/><circle cx="584.3" cy="380.8" r="1.6" fill="#fde890"/><circle cx="572.0" cy="374.7" r="1.3" fill="#f9c050"/><circle cx="566.9" cy="409.6" r="1.1" fill="#fde890"/><circle cx="574.5" cy="409.5" r="1.4" fill="#fff0c0"/><circle cx="553.3" cy="399.6" r="1.5" fill="#ffffff"/><circle cx="573.8" cy="373.9" r="1.5" fill="#f9c050"/><circle cx="553.5" cy="383.6" r="0.9" fill="#ffffff"/><circle cx="558.4" cy="406.8" r="1.0" fill="#ffffff"/><circle cx="553.9" cy="379.5" r="1.0" fill="#ffffff"/><circle cx="550.5" cy="384.7" r="1.5" fill="#f7a838"/><circle cx="550.6" cy="393.4" r="1.0" fill="#f7a838"/><circle cx="556.0" cy="405.0" r="1.6" fill="#fde890"/><circle cx="578.5" cy="377.3" r="1.2" fill="#ffffff"/><circle cx="562.9" cy="374.7" r="1.2" fill="#f9c050"/><circle cx="553.7" cy="391.8" r="1.3" fill="#fbd860"/><circle cx="584.5" cy="399.3" r="1.3" fill="#f7a838"/><circle cx="577.3" cy="408.2" r="1.5" fill="#f08030"/><circle cx="561.7" cy="407.9" r="1.1" fill="#ffffff"/><circle cx="581.7" cy="378.8" r="1.7" fill="#fbd860"/><circle cx="587.5" cy="389.5" r="1.3" fill="#ffffff"/><circle cx="568.0" cy="371.8" r="1.5" fill="#fbd860"/><circle cx="560.2" cy="374.2" r="1.0" fill="#fff0c0"/><circle cx="560.2" cy="376.9" r="1.1" fill="#fff0c0"/><circle cx="565.3" cy="408.9" r="1.1" fill="#fbd860"/><circle cx="585.9" cy="395.6" r="1.3" fill="#fde890"/><circle cx="562.0" cy="404.3" r="1.1" fill="#ffffff"/><circle cx="562.6" cy="373.2" r="0.9" fill="#fde890"/><circle cx="563.4" cy="374.3" r="1.5" fill="#f9c050"/><circle cx="581.0" cy="404.3" r="1.6" fill="#fbd860"/><circle cx="552.1" cy="389.4" r="1.4" fill="#f08030"/><circle cx="580.6" cy="376.9" r="1.1" fill="#fde890"/><circle cx="569.6" cy="374.5" r="1.5" fill="#fde890"/><circle cx="551.2" cy="389.1" r="1.5" fill="#ffffff"/><circle cx="564.3" cy="407.6" r="1.0" fill="#ffffff"/><circle cx="586.4" cy="400.2" r="1.6" fill="#f08030"/><circle cx="556.0" cy="382.9" r="1.2" fill="#fde890"/><circle cx="586.2" cy="382.0" r="1.4" fill="#fbd860"/><circle cx="555.9" cy="382.0" r="1.4" fill="#fbd860"/><circle cx="548.7" cy="387.6" r="1.6" fill="#f08030"/><circle cx="556.6" cy="380.3" r="1.3" fill="#fde890"/><circle cx="579.1" cy="376.6" r="1.7" fill="#fff0c0"/><circle cx="579.9" cy="375.7" r="1.3" fill="#f7a838"/><circle cx="574.2" cy="409.2" r="1.1" fill="#f7a838"/><circle cx="586.9" cy="386.7" r="1.7" fill="#fde890"/><circle cx="556.4" cy="379.1" r="1.1" fill="#f9c050"/><circle cx="581.5" cy="403.2" r="1.3" fill="#fff0c0"/><circle cx="587.3" cy="391.6" r="1.3" fill="#fbd860"/><circle cx="552.8" cy="380.0" r="1.5" fill="#f7a838"/><circle cx="556.7" cy="379.3" r="1.4" fill="#fbd860"/><circle cx="561.5" cy="409.5" r="1.1" fill="#fde890"/><circle cx="551.8" cy="385.6" r="1.2" fill="#fde890"/><circle cx="585.1" cy="399.6" r="1.3" fill="#ffffff"/><circle cx="583.0" cy="401.0" r="1.6" fill="#f9c050"/><circle cx="576.1" cy="376.7" r="1.3" fill="#fbd860"/><circle cx="568.8" cy="373.2" r="1.1" fill="#ffffff"/><circle cx="579.9" cy="405.2" r="1.6" fill="#ffffff"/><circle cx="552.1" cy="382.3" r="1.0" fill="#f9c050"/><circle cx="560.6" cy="376.7" r="1.2" fill="#fbd860"/><circle cx="585.8" cy="383.6" r="1.5" fill="#f9c050"/><circle cx="585.5" cy="400.7" r="1.2" fill="#fbd860"/><circle cx="576.0" cy="407.1" r="1.5" fill="#fff0c0"/><circle cx="552.1" cy="402.4" r="1.2" fill="#fde890"/><circle cx="561.5" cy="374.3" r="1.6" fill="#fbd860"/><circle cx="586.5" cy="385.4" r="1.6" fill="#ffffff"/><circle cx="581.5" cy="379.2" r="1.5" fill="#fde890"/><circle cx="563.0" cy="375.3" r="1.5" fill="#f9c050"/><circle cx="555.6" cy="405.4" r="1.2" fill="#f9c050"/><circle cx="577.7" cy="405.4" r="1.1" fill="#f7a838"/><circle cx="549.2" cy="393.2" r="1.1" fill="#f9c050"/><circle cx="582.8" cy="376.9" r="1.3" fill="#fbd860"/><circle cx="581.9" cy="379.6" r="1.0" fill="#f9c050"/><circle cx="578.8" cy="373.9" r="1.2" fill="#fde890"/><circle cx="555.9" cy="403.8" r="1.0" fill="#f9c050"/><circle cx="556.9" cy="405.3" r="1.6" fill="#f9c050"/><circle cx="558.3" cy="377.9" r="1.5" fill="#f7a838"/><circle cx="558.1" cy="378.2" r="1.7" fill="#f9c050"/><circle cx="569.7" cy="373.5" r="1.1" fill="#fde890"/><circle cx="574.8" cy="407.8" r="1.6" fill="#fde890"/><circle cx="552.1" cy="389.0" r="1.2" fill="#f9c050"/><circle cx="567.2" cy="409.4" r="1.0" fill="#fff0c0"/><circle cx="548.0" cy="389.6" r="1.7" fill="#fbd860"/><circle cx="560.0" cy="378.2" r="0.9" fill="#f9c050"/><circle cx="552.6" cy="386.5" r="1.7" fill="#f08030"/><circle cx="554.7" cy="378.4" r="1.1" fill="#f7a838"/><circle cx="575.1" cy="373.4" r="1.3" fill="#f9c050"/><circle cx="567.4" cy="409.5" r="1.4" fill="#fbd860"/><circle cx="586.0" cy="401.4" r="1.6" fill="#fbd860"/><circle cx="585.4" cy="390.2" r="1.3" fill="#f9c050"/><circle cx="580.6" cy="381.2" r="1.4" fill="#ffffff"/><circle cx="553.9" cy="400.6" r="1.4" fill="#fff0c0"/><circle cx="549.4" cy="395.8" r="1.1" fill="#f08030"/><circle cx="552.2" cy="398.2" r="1.0" fill="#fde890"/><circle cx="554.4" cy="382.3" r="1.2" fill="#fde890"/><circle cx="553.6" cy="383.2" r="1.2" fill="#fff0c0"/><circle cx="585.6" cy="388.4" r="0.9" fill="#fde890"/><circle cx="556.2" cy="378.9" r="1.2" fill="#fde890"/><circle cx="570.4" cy="374.0" r="1.0" fill="#fde890"/><circle cx="549.5" cy="396.9" r="1.1" fill="#f9c050"/><circle cx="571.8" cy="375.1" r="1.0" fill="#fff0c0"/><circle cx="563.8" cy="375.2" r="1.6" fill="#fde890"/><circle cx="575.9" cy="407.5" r="1.0" fill="#ffffff"/><circle cx="583.2" cy="398.5" r="1.0" fill="#fde890"/><circle cx="557.5" cy="377.1" r="1.1" fill="#fbd860"/><circle cx="582.2" cy="379.3" r="1.4" fill="#fff0c0"/><circle cx="556.6" cy="376.6" r="1.0" fill="#f9c050"/></g><path d="M458.7 316.4A150.6 150.6 0 0 0 458.7 466.4A471.8 471.8 0 0 1 458.7 316.4Z" fill="#56288c" opacity="1" filter="url(#bd1)"/><path d="M452.7 328.4A168.8 168.8 0 0 0 452.7 454.4A568.8 568.8 0 0 1 452.7 328.4Z" fill="#c83a5a" opacity="1" filter="url(#bd1)"/><path d="M448.7 341.4A187.2 187.2 0 0 0 448.7 441.4A626.0 626.0 0 0 1 448.7 341.4Z" fill="#ee7a34" opacity="1" filter="url(#bd05)"/><g opacity="0.85"><circle cx="452.9" cy="342.8" r="1.0" fill="#f8c050"/><circle cx="448.3" cy="426.4" r="0.9" fill="#fbe080"/><circle cx="446.7" cy="411.8" r="0.6" fill="#f8c050"/><circle cx="444.7" cy="384.9" r="0.9" fill="#f8c050"/><circle cx="449.4" cy="352.2" r="1.0" fill="#f8c050"/><circle cx="447.6" cy="363.1" r="1.0" fill="#f59a38"/><circle cx="445.6" cy="367.1" r="1.0" fill="#fbe080"/><circle cx="452.9" cy="342.9" r="0.8" fill="#f8c050"/><circle cx="444.0" cy="396.0" r="0.6" fill="#fbe080"/><circle cx="454.1" cy="343.8" r="1.1" fill="#f8c050"/><circle cx="446.9" cy="373.3" r="0.8" fill="#f59a38"/><circle cx="445.4" cy="387.2" r="0.6" fill="#f8c050"/><circle cx="448.8" cy="422.3" r="0.6" fill="#fbe080"/><circle cx="444.9" cy="372.2" r="0.6" fill="#fbe080"/><circle cx="449.7" cy="352.1" r="0.9" fill="#fbe080"/><circle cx="445.9" cy="405.0" r="1.0" fill="#fbe080"/><circle cx="446.7" cy="413.6" r="0.7" fill="#f59a38"/><circle cx="444.8" cy="376.0" r="0.9" fill="#f8c050"/><circle cx="446.5" cy="372.9" r="0.9" fill="#f8c050"/><circle cx="445.2" cy="379.9" r="0.6" fill="#f59a38"/><circle cx="448.7" cy="362.0" r="0.8" fill="#f8c050"/><circle cx="446.6" cy="403.1" r="1.1" fill="#f59a38"/><circle cx="444.5" cy="396.3" r="0.7" fill="#f59a38"/><circle cx="443.9" cy="399.9" r="0.8" fill="#f59a38"/><circle cx="445.3" cy="405.3" r="1.1" fill="#f8c050"/><circle cx="444.8" cy="412.7" r="0.9" fill="#f59a38"/><circle cx="453.9" cy="340.6" r="0.8" fill="#f59a38"/><circle cx="442.6" cy="382.3" r="1.0" fill="#f59a38"/><circle cx="446.5" cy="385.1" r="0.9" fill="#fbe080"/><circle cx="452.7" cy="348.6" r="1.0" fill="#f59a38"/><circle cx="446.5" cy="416.7" r="1.1" fill="#f59a38"/><circle cx="444.7" cy="383.4" r="1.0" fill="#fbe080"/><circle cx="451.1" cy="350.1" r="1.0" fill="#fbe080"/><circle cx="447.7" cy="356.2" r="0.7" fill="#fbe080"/><circle cx="446.0" cy="413.8" r="0.6" fill="#f59a38"/><circle cx="453.5" cy="440.8" r="0.9" fill="#fbe080"/><circle cx="452.5" cy="348.0" r="0.6" fill="#fbe080"/><circle cx="444.8" cy="382.2" r="0.8" fill="#fbe080"/><circle cx="450.0" cy="428.5" r="1.0" fill="#fbe080"/><circle cx="453.3" cy="438.3" r="0.8" fill="#f8c050"/></g><path d="M678.7 316.4A150.6 150.6 0 0 1 678.7 466.4A471.8 471.8 0 0 0 678.7 316.4Z" fill="#56288c" opacity="1" filter="url(#bd1)"/><path d="M684.7 328.4A168.8 168.8 0 0 1 684.7 454.4A568.8 568.8 0 0 0 684.7 328.4Z" fill="#c83a5a" opacity="1" filter="url(#bd1)"/><path d="M688.7 341.4A187.2 187.2 0 0 1 688.7 441.4A626.0 626.0 0 0 0 688.7 341.4Z" fill="#ee7a34" opacity="1" filter="url(#bd05)"/><g opacity="0.85"><circle cx="691.0" cy="364.8" r="0.9" fill="#f8c050"/><circle cx="690.8" cy="409.6" r="0.8" fill="#f59a38"/><circle cx="687.0" cy="433.7" r="0.8" fill="#f8c050"/><circle cx="691.0" cy="371.7" r="0.9" fill="#f59a38"/><circle cx="688.0" cy="426.7" r="0.6" fill="#fbe080"/><circle cx="691.9" cy="413.7" r="1.1" fill="#f8c050"/><circle cx="687.0" cy="430.4" r="0.7" fill="#fbe080"/><circle cx="692.9" cy="399.8" r="0.6" fill="#f59a38"/><circle cx="692.6" cy="380.8" r="0.8" fill="#f59a38"/><circle cx="687.6" cy="354.0" r="0.8" fill="#f8c050"/><circle cx="692.7" cy="384.6" r="1.0" fill="#f8c050"/><circle cx="687.6" cy="428.3" r="0.7" fill="#fbe080"/><circle cx="691.7" cy="372.0" r="0.7" fill="#f8c050"/><circle cx="691.9" cy="374.9" r="0.8" fill="#f59a38"/><circle cx="691.0" cy="364.7" r="0.8" fill="#fbe080"/><circle cx="693.8" cy="378.0" r="0.8" fill="#f8c050"/><circle cx="686.2" cy="433.1" r="1.0" fill="#fbe080"/><circle cx="690.2" cy="363.0" r="1.0" fill="#f8c050"/><circle cx="692.9" cy="388.2" r="0.7" fill="#f8c050"/><circle cx="693.6" cy="380.6" r="0.7" fill="#f8c050"/><circle cx="685.9" cy="431.8" r="1.1" fill="#f8c050"/><circle cx="688.3" cy="357.8" r="1.1" fill="#f59a38"/><circle cx="688.1" cy="425.4" r="1.1" fill="#f8c050"/><circle cx="689.0" cy="360.1" r="0.9" fill="#fbe080"/><circle cx="689.5" cy="421.6" r="1.0" fill="#fbe080"/><circle cx="690.8" cy="414.0" r="0.7" fill="#fbe080"/><circle cx="686.0" cy="435.6" r="1.1" fill="#fbe080"/><circle cx="693.4" cy="395.3" r="0.8" fill="#f59a38"/><circle cx="694.6" cy="385.2" r="1.0" fill="#f59a38"/><circle cx="691.1" cy="413.9" r="0.9" fill="#fbe080"/><circle cx="691.9" cy="399.5" r="0.8" fill="#f8c050"/><circle cx="691.7" cy="411.4" r="1.1" fill="#f8c050"/><circle cx="693.9" cy="388.9" r="0.7" fill="#f59a38"/><circle cx="688.5" cy="355.1" r="0.8" fill="#f59a38"/><circle cx="691.5" cy="367.8" r="1.0" fill="#f8c050"/><circle cx="692.4" cy="402.0" r="0.9" fill="#f8c050"/><circle cx="692.8" cy="372.0" r="0.9" fill="#f59a38"/><circle cx="691.5" cy="371.7" r="0.8" fill="#f59a38"/><circle cx="684.3" cy="349.0" r="0.9" fill="#fbe080"/><circle cx="693.8" cy="398.6" r="1.0" fill="#f8c050"/></g></g>
<defs><filter id="bc1" x="-30%" y="-30%" width="160%" height="160%"><feGaussianBlur stdDeviation="1.2"/></filter><filter id="bc2" x="-30%" y="-30%" width="160%" height="160%"><feGaussianBlur stdDeviation="2.2"/></filter><filter id="bc05" x="-30%" y="-30%" width="160%" height="160%"><feGaussianBlur stdDeviation="0.6"/></filter><linearGradient id="bandc" gradientUnits="userSpaceOnUse" x1="0" y1="261.0" x2="0" y2="522.0"><stop offset="0.0000" stop-color="#ef6826"/><stop offset="0.0127" stop-color="#ef6826"/><stop offset="0.0253" stop-color="#ef6826"/><stop offset="0.0380" stop-color="#ef6826"/><stop offset="0.0506" stop-color="#ef6826"/><stop offset="0.0633" stop-color="#ef6826"/><stop offset="0.0759" stop-color="#ef6826"/><stop offset="0.0886" stop-color="#ef6726"/><stop offset="0.1013" stop-color="#ef6726"/><stop offset="0.1139" stop-color="#ef6826"/><stop offset="0.1266" stop-color="#ef6a26"/><stop offset="0.1392" stop-color="#f06c27"/><stop offset="0.1519" stop-color="#f06c27"/><stop offset="0.1646" stop-color="#ef6926"/><stop offset="0.1772" stop-color="#ee6327"/><stop offset="0.1899" stop-color="#ec5e28"/><stop offset="0.2025" stop-color="#ec5e28"/><stop offset="0.2152" stop-color="#ee6527"/><stop offset="0.2278" stop-color="#f07027"/><stop offset="0.2405" stop-color="#f27729"/><stop offset="0.2532" stop-color="#f17628"/><stop offset="0.2658" stop-color="#f06c27"/><stop offset="0.2785" stop-color="#ec5c28"/><stop offset="0.2911" stop-color="#e9512b"/><stop offset="0.3038" stop-color="#ea532b"/><stop offset="0.3165" stop-color="#ed6127"/><stop offset="0.3291" stop-color="#f17328"/><stop offset="0.3418" stop-color="#f37e2a"/><stop offset="0.3544" stop-color="#f27c29"/><stop offset="0.3671" stop-color="#f06f27"/><stop offset="0.3797" stop-color="#ec5b29"/><stop offset="0.3924" stop-color="#e84e2c"/><stop offset="0.4051" stop-color="#e94f2b"/><stop offset="0.4177" stop-color="#ed5f28"/><stop offset="0.4304" stop-color="#f17228"/><stop offset="0.4430" stop-color="#f37f2a"/><stop offset="0.4557" stop-color="#f37e2a"/><stop offset="0.4684" stop-color="#f07027"/><stop offset="0.4810" stop-color="#ec5d28"/><stop offset="0.4937" stop-color="#e84e2c"/><stop offset="0.5063" stop-color="#e94e2c"/><stop offset="0.5190" stop-color="#ec5d28"/><stop offset="0.5316" stop-color="#f07127"/><stop offset="0.5443" stop-color="#f37e2a"/><stop offset="0.5570" stop-color="#f37e2a"/><stop offset="0.5696" stop-color="#f17228"/><stop offset="0.5823" stop-color="#ed5f28"/><stop offset="0.5949" stop-color="#e94f2b"/><stop offset="0.6076" stop-color="#e94f2b"/><stop offset="0.6203" stop-color="#ec5c28"/><stop offset="0.6329" stop-color="#f06f27"/><stop offset="0.6456" stop-color="#f27b29"/><stop offset="0.6582" stop-color="#f27b29"/><stop offset="0.6709" stop-color="#f17128"/><stop offset="0.6835" stop-color="#ed6227"/><stop offset="0.6962" stop-color="#eb572a"/><stop offset="0.7089" stop-color="#eb572a"/><stop offset="0.7215" stop-color="#ed6028"/><stop offset="0.7342" stop-color="#f06b27"/><stop offset="0.7468" stop-color="#f17128"/><stop offset="0.7595" stop-color="#f07127"/><stop offset="0.7722" stop-color="#f06c27"/><stop offset="0.7848" stop-color="#ef6626"/><stop offset="0.7975" stop-color="#ee6327"/><stop offset="0.8101" stop-color="#ee6427"/><stop offset="0.8228" stop-color="#ef6626"/><stop offset="0.8354" stop-color="#ef6826"/><stop offset="0.8481" stop-color="#ef6926"/><stop offset="0.8608" stop-color="#ef6926"/><stop offset="0.8734" stop-color="#ef6826"/><stop offset="0.8861" stop-color="#ef6826"/><stop offset="0.8987" stop-color="#ef6826"/><stop offset="0.9114" stop-color="#ef6826"/><stop offset="0.9241" stop-color="#ef6826"/><stop offset="0.9367" stop-color="#ef6826"/><stop offset="0.9494" stop-color="#ef6826"/><stop offset="0.9620" stop-color="#ef6826"/><stop offset="0.9747" stop-color="#ef6826"/><stop offset="0.9873" stop-color="#ef6826"/><stop offset="1.0000" stop-color="#ef6826"/></linearGradient><clipPath id="cpc"><ellipse cx="193.3" cy="391.4" rx="123.2" ry="130.3"/></clipPath></defs>
<ellipse cx="193.3" cy="391.4" rx="123.2" ry="130.3" fill="url(#bandc)"/>
<g clip-path="url(#cpc)"><ellipse cx="193.3" cy="391.4" rx="118.2" ry="125.30000000000001" fill="none" stroke="#f58a3a" stroke-width="2.5" opacity="0.6" filter="url(#bc1)"/><path d="M241.8 356.4A59.2 61.0 0 0 0 144.8 356.4" fill="none" stroke="#f59a40" stroke-width="6" stroke-linecap="round" opacity="0.85" filter="url(#bc2)" /><path d="M235.1 430.2A56.3 58.0 0 0 0 235.1 352.6" fill="none" stroke="#f9c85a" stroke-width="6" stroke-linecap="round" opacity="0.9" filter="url(#bc1)" /><path d="M151.5 352.6A56.3 58.0 0 0 0 151.5 430.2" fill="none" stroke="#f9c85a" stroke-width="6" stroke-linecap="round" opacity="0.9" filter="url(#bc1)" /><path d="M249.7 401.6A57.2 59.0 0 0 0 249.7 381.2" fill="none" stroke="#fde9a0" stroke-width="3" stroke-linecap="round" opacity="0.9" filter="url(#bc1)" /><path d="M136.9 381.2A57.2 59.0 0 0 0 136.9 401.6" fill="none" stroke="#fde9a0" stroke-width="3" stroke-linecap="round" opacity="0.9" filter="url(#bc1)" /><ellipse cx="245.5" cy="376.0" rx="9.0" ry="4.5" transform="rotate(74.0 245.5 376.0)" fill="#5a2a8c" opacity="0.8" filter="url(#bc1)"/><ellipse cx="244.3" cy="410.6" rx="9.0" ry="4.5" transform="rotate(110.0 244.3 410.6)" fill="#5a2a8c" opacity="0.8" filter="url(#bc1)"/><ellipse cx="245.5" cy="376.0" rx="5.5" ry="2.5" transform="rotate(74.0 245.5 376.0)" fill="#1a1020" opacity="0.95" filter="url(#bc1)"/><ellipse cx="244.3" cy="410.6" rx="5.5" ry="2.5" transform="rotate(110.0 244.3 410.6)" fill="#1a1020" opacity="0.95" filter="url(#bc1)"/><ellipse cx="238.3" cy="360.1" rx="5.0" ry="2.5" transform="rotate(56.0 238.3 360.1)" fill="#5a2a8c" opacity="0.7" filter="url(#bc1)"/><ellipse cx="234.7" cy="374.2" rx="5.0" ry="1.8" transform="rotate(68.0 234.7 374.2)" fill="#5a2a8c" opacity="0.8" filter="url(#bc1)"/><ellipse cx="232.7" cy="413.0" rx="5.0" ry="1.8" transform="rotate(118.0 232.7 413.0)" fill="#5a2a8c" opacity="0.8" filter="url(#bc1)"/><ellipse cx="141.1" cy="376.0" rx="9.0" ry="4.5" transform="rotate(-74.0 141.1 376.0)" fill="#5a2a8c" opacity="0.8" filter="url(#bc1)"/><ellipse cx="142.3" cy="410.6" rx="9.0" ry="4.5" transform="rotate(-110.0 142.3 410.6)" fill="#5a2a8c" opacity="0.8" filter="url(#bc1)"/><ellipse cx="141.1" cy="376.0" rx="5.5" ry="2.5" transform="rotate(-74.0 141.1 376.0)" fill="#1a1020" opacity="0.95" filter="url(#bc1)"/><ellipse cx="142.3" cy="410.6" rx="5.5" ry="2.5" transform="rotate(-110.0 142.3 410.6)" fill="#1a1020" opacity="0.95" filter="url(#bc1)"/><ellipse cx="148.3" cy="360.1" rx="5.0" ry="2.5" transform="rotate(-56.0 148.3 360.1)" fill="#5a2a8c" opacity="0.7" filter="url(#bc1)"/><ellipse cx="151.9" cy="374.2" rx="5.0" ry="1.8" transform="rotate(-68.0 151.9 374.2)" fill="#5a2a8c" opacity="0.8" filter="url(#bc1)"/><ellipse cx="153.9" cy="413.0" rx="5.0" ry="1.8" transform="rotate(-118.0 153.9 413.0)" fill="#5a2a8c" opacity="0.8" filter="url(#bc1)"/><ellipse cx="228.9" cy="342.7" rx="6.5" ry="3.0" transform="rotate(37.0 228.9 342.7)" fill="#5a2a8c" opacity="0.8" filter="url(#bc1)"/><ellipse cx="157.7" cy="342.7" rx="6.5" ry="3.0" transform="rotate(-37.0 157.7 342.7)" fill="#5a2a8c" opacity="0.8" filter="url(#bc1)"/><path d="M216.9 352.4A44.6 46.0 0 0 0 169.7 352.4" fill="none" stroke="#6a2a80" stroke-width="2.6" stroke-linecap="round" opacity="0.85" filter="url(#bc05)" /><path d="M165.5 437.2A52.4 54.0 0 0 0 221.1 437.2" fill="none" stroke="#6a2c88" stroke-width="4" stroke-linecap="round" opacity="0.8" filter="url(#bc1)" /><path d="M164.0 430.0A47.5 49.0 0 0 0 222.6 430.0" fill="none" stroke="#f7a845" stroke-width="4" stroke-linecap="round" opacity="0.6" filter="url(#bc1)" /><path d="M234.0 391.4A40.7 42.0 0 1 0 234.0 391.5" fill="none" stroke="#f8b850" stroke-width="2.4" stroke-linecap="round" opacity="0.85" filter="url(#bc05)" /><path d="M230.2 409.1A40.7 42.0 0 0 0 230.2 373.7" fill="none" stroke="#fcd878" stroke-width="3.0" stroke-linecap="round" opacity="0.85" filter="url(#bc1)" /><path d="M156.4 373.7A40.7 42.0 0 0 0 156.4 409.1" fill="none" stroke="#fcd878" stroke-width="3.0" stroke-linecap="round" opacity="0.85" filter="url(#bc1)" /><path d="M157.3 408.7A39.8 41.0 0 0 0 173.4 426.9" fill="none" stroke="#5a2a8c" stroke-width="3" stroke-linecap="round" opacity="0.85" filter="url(#bc05)" /><path d="M213.2 426.9A39.8 41.0 0 0 0 229.3 408.7" fill="none" stroke="#5a2a8c" stroke-width="3" stroke-linecap="round" opacity="0.85" filter="url(#bc05)" /><path d="M212.2 391.4A18.9 19.5 0 1 0 212.2 391.4" fill="none" stroke="#f6a848" stroke-width="3.2" stroke-linecap="round" opacity="0.85" filter="url(#bc05)" /><path d="M176.9 381.6A18.9 19.5 0 0 0 176.9 401.1" fill="none" stroke="#fde9a0" stroke-width="3" stroke-linecap="round" opacity="0.95" filter="url(#bc05)" /><path d="M209.7 401.1A18.9 19.5 0 0 0 209.7 381.6" fill="none" stroke="#fde9a0" stroke-width="3" stroke-linecap="round" opacity="0.95" filter="url(#bc05)" /><g opacity="0.9" filter="url(#bc05)"><circle cx="199.8" cy="372.2" r="0.7" fill="#fde9a0"/><circle cx="179.2" cy="406.1" r="1.0" fill="#fde9a0"/><circle cx="203.6" cy="374.0" r="0.8" fill="#fde9a0"/><circle cx="190.5" cy="411.2" r="1.1" fill="#1a1020"/><circle cx="179.6" cy="379.3" r="0.7" fill="#fde9a0"/><circle cx="189.8" cy="409.6" r="1.2" fill="#1a1020"/><circle cx="191.2" cy="371.3" r="1.0" fill="#fde9a0"/><circle cx="186.2" cy="410.3" r="1.1" fill="#5a2a8c"/><circle cx="206.0" cy="377.7" r="0.7" fill="#1a1020"/><circle cx="195.6" cy="410.5" r="1.0" fill="#1a1020"/><circle cx="187.1" cy="373.8" r="1.0" fill="#1a1020"/><circle cx="188.2" cy="410.6" r="0.8" fill="#5a2a8c"/><circle cx="186.2" cy="373.3" r="1.0" fill="#2a1430"/><circle cx="201.9" cy="410.2" r="0.8" fill="#1a1020"/><circle cx="205.0" cy="378.0" r="0.8" fill="#1a1020"/><circle cx="190.3" cy="411.5" r="1.2" fill="#1a1020"/><circle cx="185.0" cy="376.0" r="0.9" fill="#2a1430"/><circle cx="196.6" cy="409.7" r="1.0" fill="#1a1020"/><circle cx="207.7" cy="377.8" r="1.0" fill="#1a1020"/><circle cx="178.9" cy="404.7" r="1.1" fill="#fde9a0"/><circle cx="177.7" cy="379.8" r="0.9" fill="#2a1430"/><circle cx="178.9" cy="402.8" r="0.9" fill="#5a2a8c"/><circle cx="189.4" cy="373.0" r="0.8" fill="#5a2a8c"/><circle cx="189.6" cy="410.6" r="1.2" fill="#1a1020"/><circle cx="206.1" cy="378.7" r="1.1" fill="#1a1020"/><circle cx="205.7" cy="406.6" r="0.8" fill="#1a1020"/><circle cx="178.4" cy="380.0" r="0.8" fill="#1a1020"/><circle cx="182.8" cy="406.5" r="0.8" fill="#5a2a8c"/><circle cx="208.8" cy="379.7" r="0.8" fill="#5a2a8c"/><circle cx="190.5" cy="410.1" r="0.9" fill="#fde9a0"/><circle cx="200.2" cy="371.8" r="1.2" fill="#1a1020"/><circle cx="191.6" cy="412.2" r="1.1" fill="#fde9a0"/><circle cx="197.1" cy="372.7" r="1.0" fill="#1a1020"/><circle cx="182.6" cy="407.8" r="1.2" fill="#1a1020"/><circle cx="204.6" cy="376.0" r="0.7" fill="#5a2a8c"/><circle cx="194.6" cy="411.1" r="1.2" fill="#fde9a0"/><circle cx="209.0" cy="378.9" r="0.8" fill="#2a1430"/><circle cx="207.1" cy="403.3" r="1.0" fill="#1a1020"/><circle cx="207.0" cy="375.4" r="0.9" fill="#1a1020"/><circle cx="187.5" cy="407.2" r="0.8" fill="#2a1430"/><circle cx="185.5" cy="375.3" r="1.0" fill="#5a2a8c"/><circle cx="207.9" cy="404.2" r="1.0" fill="#5a2a8c"/><circle cx="186.0" cy="371.8" r="0.8" fill="#1a1020"/><circle cx="199.9" cy="408.7" r="0.8" fill="#2a1430"/><circle cx="180.2" cy="377.9" r="1.0" fill="#fde9a0"/><circle cx="187.0" cy="410.4" r="0.8" fill="#5a2a8c"/><circle cx="182.4" cy="374.6" r="0.8" fill="#fde9a0"/><circle cx="193.1" cy="409.4" r="1.1" fill="#1a1020"/><circle cx="183.6" cy="375.4" r="1.0" fill="#2a1430"/><circle cx="191.4" cy="410.9" r="1.2" fill="#2a1430"/><circle cx="179.1" cy="379.2" r="0.8" fill="#5a2a8c"/><circle cx="187.3" cy="410.5" r="0.9" fill="#fde9a0"/><circle cx="182.6" cy="377.1" r="1.1" fill="#1a1020"/><circle cx="204.7" cy="407.2" r="0.8" fill="#1a1020"/><circle cx="183.5" cy="374.7" r="0.8" fill="#2a1430"/><circle cx="180.6" cy="404.3" r="1.2" fill="#1a1020"/><circle cx="194.6" cy="372.0" r="0.8" fill="#5a2a8c"/><circle cx="178.7" cy="403.2" r="1.0" fill="#1a1020"/><circle cx="182.2" cy="374.2" r="1.2" fill="#2a1430"/><circle cx="180.8" cy="408.0" r="1.0" fill="#1a1020"/><circle cx="209.6" cy="378.9" r="1.0" fill="#5a2a8c"/><circle cx="190.9" cy="410.5" r="1.1" fill="#5a2a8c"/><circle cx="208.4" cy="379.2" r="1.1" fill="#2a1430"/><circle cx="184.4" cy="409.9" r="0.9" fill="#5a2a8c"/><circle cx="207.3" cy="378.5" r="1.0" fill="#fde9a0"/><circle cx="190.7" cy="408.6" r="1.2" fill="#fde9a0"/><circle cx="206.1" cy="376.1" r="1.1" fill="#5a2a8c"/><circle cx="197.4" cy="411.4" r="1.1" fill="#5a2a8c"/><circle cx="203.5" cy="376.9" r="1.0" fill="#2a1430"/><circle cx="199.9" cy="410.0" r="1.0" fill="#1a1020"/><circle cx="183.0" cy="373.9" r="0.8" fill="#2a1430"/><circle cx="178.1" cy="404.3" r="0.7" fill="#1a1020"/><circle cx="191.0" cy="371.9" r="0.9" fill="#fde9a0"/><circle cx="206.5" cy="402.0" r="1.0" fill="#5a2a8c"/><circle cx="186.9" cy="374.3" r="0.9" fill="#5a2a8c"/><circle cx="200.5" cy="409.8" r="1.1" fill="#2a1430"/><circle cx="179.2" cy="377.6" r="0.9" fill="#1a1020"/><circle cx="181.0" cy="405.7" r="0.9" fill="#1a1020"/><circle cx="187.4" cy="373.5" r="0.9" fill="#1a1020"/><circle cx="206.6" cy="405.7" r="0.8" fill="#2a1430"/><circle cx="206.5" cy="374.8" r="0.8" fill="#1a1020"/><circle cx="190.0" cy="408.8" r="0.9" fill="#5a2a8c"/><circle cx="204.1" cy="376.7" r="0.9" fill="#5a2a8c"/><circle cx="188.0" cy="410.6" r="0.7" fill="#2a1430"/><circle cx="207.6" cy="380.2" r="0.7" fill="#2a1430"/><circle cx="193.9" cy="410.5" r="0.8" fill="#1a1020"/><circle cx="206.5" cy="376.6" r="1.1" fill="#1a1020"/><circle cx="185.2" cy="408.6" r="0.7" fill="#5a2a8c"/><circle cx="201.7" cy="373.1" r="1.2" fill="#2a1430"/><circle cx="189.8" cy="411.3" r="1.0" fill="#fde9a0"/></g><path d="M90.3 329.4A104.0 104.0 0 0 0 90.3 453.4A197.2 197.2 0 0 1 90.3 329.4Z" fill="#f6a040" opacity="0.85" filter="url(#bc1)"/><path d="M86.3 337.4A101.8 101.8 0 0 0 86.3 445.4A150.8 150.8 0 0 1 86.3 337.4Z" fill="#f9cc60" opacity="0.85" filter="url(#bc1)"/><g filter="url(#bc1)"><ellipse cx="80.0" cy="357" rx="2.4" ry="8.0" transform="rotate(25 80.0 357)" fill="#5a2a8c" opacity="0.85"/><ellipse cx="75.6" cy="389" rx="2.4" ry="9.0" transform="rotate(25 75.6 389)" fill="#1a1020" opacity="0.9"/><ellipse cx="75.6" cy="389" rx="2.4" ry="12.0" transform="rotate(25 75.6 389)" fill="#5a2a8c" opacity="0.6"/><ellipse cx="80.6" cy="428" rx="2.4" ry="7.0" transform="rotate(-25 80.6 428)" fill="#5a2a8c" opacity="0.85"/><ellipse cx="85.6" cy="340" rx="2.4" ry="4.0" transform="rotate(25 85.6 340)" fill="#5a2a8c" opacity="0.6"/><ellipse cx="86.9" cy="446" rx="2.4" ry="4.0" transform="rotate(-25 86.9 446)" fill="#5a2a8c" opacity="0.6"/></g><path d="M296.3 329.4A104.0 104.0 0 0 1 296.3 453.4A197.2 197.2 0 0 0 296.3 329.4Z" fill="#f6a040" opacity="0.85" filter="url(#bc1)"/><path d="M300.3 337.4A101.8 101.8 0 0 1 300.3 445.4A150.8 150.8 0 0 0 300.3 337.4Z" fill="#f9cc60" opacity="0.85" filter="url(#bc1)"/><g filter="url(#bc1)"><ellipse cx="306.6" cy="357" rx="2.4" ry="8.0" transform="rotate(-25 306.6 357)" fill="#5a2a8c" opacity="0.85"/><ellipse cx="311.0" cy="389" rx="2.4" ry="9.0" transform="rotate(-25 311.0 389)" fill="#1a1020" opacity="0.9"/><ellipse cx="311.0" cy="389" rx="2.4" ry="12.0" transform="rotate(-25 311.0 389)" fill="#5a2a8c" opacity="0.6"/><ellipse cx="306.0" cy="428" rx="2.4" ry="7.0" transform="rotate(25 306.0 428)" fill="#5a2a8c" opacity="0.85"/><ellipse cx="301.0" cy="340" rx="2.4" ry="4.0" transform="rotate(-25 301.0 340)" fill="#5a2a8c" opacity="0.6"/><ellipse cx="299.7" cy="446" rx="2.4" ry="4.0" transform="rotate(25 299.7 446)" fill="#5a2a8c" opacity="0.6"/></g></g>
<path d="M65.0 255.7V526.7H321.8" fill="none" stroke="#6e504b" stroke-width="1.7"/>
<path d="M65.8 521.9h2.0M70.1 525.9v-2.0M65.8 508.8h2.0M82.4 525.9v-2.0M65.8 495.8h3.6M94.7 525.9v-3.6M65.8 482.8h2.0M107.0 525.9v-2.0M65.8 469.7h2.0M119.4 525.9v-2.0M65.8 456.6h2.0M131.7 525.9v-2.0M65.8 443.6h3.6M144.0 525.9v-3.6M65.8 430.5h2.0M156.3 525.9v-2.0M65.8 417.5h2.0M168.7 525.9v-2.0M65.8 404.4h2.0M181.0 525.9v-2.0M65.8 391.4h3.6M193.3 525.9v-3.6M65.8 378.3h2.0M205.6 525.9v-2.0M65.8 365.3h2.0M218.0 525.9v-2.0M65.8 352.2h2.0M230.3 525.9v-2.0M65.8 339.2h3.6M242.6 525.9v-3.6M65.8 326.1h2.0M254.9 525.9v-2.0M65.8 313.1h2.0M267.2 525.9v-2.0M65.8 300.0h2.0M279.6 525.9v-2.0M65.8 287.0h3.6M291.9 525.9v-3.6M65.8 273.9h2.0M304.2 525.9v-2.0M65.8 260.9h2.0M316.6 525.9v-2.0" stroke="#2a1a18" stroke-width="1.1"/>
<g font-family="Liberation Sans, Arial, sans-serif" font-size="17" fill="#1a1412"><text x="61.5" y="501.9" text-anchor="end">−4</text><text x="90.2" y="545.8" text-anchor="middle">−4</text><text x="61.5" y="449.7" text-anchor="end">−2</text><text x="139.5" y="545.8" text-anchor="middle">−2</text><text x="61.5" y="397.5" text-anchor="end">0</text><text x="193.3" y="545.8" text-anchor="middle">0</text><text x="61.5" y="345.3" text-anchor="end">2</text><text x="242.6" y="545.8" text-anchor="middle">2</text><text x="61.5" y="293.1" text-anchor="end">4</text><text x="291.9" y="545.8" text-anchor="middle">4</text></g>
<path d="M432.8 255.7V526.7H704.4" fill="none" stroke="#6e504b" stroke-width="1.7"/>
<path d="M433.6 521.9h2.0M438.2 525.9v-2.0M433.6 508.8h2.0M451.3 525.9v-2.0M433.6 495.8h3.6M464.3 525.9v-3.6M433.6 482.8h2.0M477.4 525.9v-2.0M433.6 469.7h2.0M490.4 525.9v-2.0M433.6 456.6h2.0M503.5 525.9v-2.0M433.6 443.6h3.6M516.5 525.9v-3.6M433.6 430.5h2.0M529.6 525.9v-2.0M433.6 417.5h2.0M542.6 525.9v-2.0M433.6 404.4h2.0M555.7 525.9v-2.0M433.6 391.4h3.6M568.7 525.9v-3.6M433.6 378.3h2.0M581.8 525.9v-2.0M433.6 365.3h2.0M594.8 525.9v-2.0M433.6 352.2h2.0M607.9 525.9v-2.0M433.6 339.2h3.6M620.9 525.9v-3.6M433.6 326.1h2.0M634.0 525.9v-2.0M433.6 313.1h2.0M647.0 525.9v-2.0M433.6 300.0h2.0M660.1 525.9v-2.0M433.6 287.0h3.6M673.1 525.9v-3.6M433.6 273.9h2.0M686.2 525.9v-2.0M433.6 260.9h2.0M699.2 525.9v-2.0" stroke="#2a1a18" stroke-width="1.1"/>
<g font-family="Liberation Sans, Arial, sans-serif" font-size="17" fill="#1a1412"><text x="429.3" y="501.9" text-anchor="end">−4</text><text x="459.8" y="545.8" text-anchor="middle">−4</text><text x="429.3" y="449.7" text-anchor="end">−2</text><text x="512.0" y="545.8" text-anchor="middle">−2</text><text x="429.3" y="397.5" text-anchor="end">0</text><text x="568.7" y="545.8" text-anchor="middle">0</text><text x="429.3" y="345.3" text-anchor="end">2</text><text x="620.9" y="545.8" text-anchor="middle">2</text><text x="429.3" y="293.1" text-anchor="end">4</text><text x="673.1" y="545.8" text-anchor="middle">4</text></g>
<linearGradient id="cbc" x1="0" y1="0" x2="0" y2="1"><stop offset="0.000" stop-color="#fffffa"/><stop offset="0.080" stop-color="#faebaa"/><stop offset="0.180" stop-color="#f8cd50"/><stop offset="0.270" stop-color="#f5aa28"/><stop offset="0.365" stop-color="#f08723"/><stop offset="0.480" stop-color="#ee6428"/><stop offset="0.510" stop-color="#eb5c2a"/><stop offset="0.624" stop-color="#de373e"/><stop offset="0.716" stop-color="#aa2882"/><stop offset="0.790" stop-color="#6432a0"/><stop offset="0.863" stop-color="#37285a"/><stop offset="0.937" stop-color="#1e1923"/><stop offset="1.000" stop-color="#0c0a0c"/></linearGradient>
<rect x="329.0" y="261.0" width="10.5" height="271.5" fill="url(#cbc)"/>
<rect x="329.0" y="261.0" width="10.5" height="271.5" fill="none" stroke="#ddd" stroke-width="0.6"/>
<g font-family="Liberation Sans, Arial, sans-serif" font-size="17" fill="#1a1412"><text x="345.0" y="306.9">0.50</text><text x="345.0" y="356.1">0.25</text><text x="345.0" y="405.6">0</text><text x="345.0" y="456.1">−0.25</text><text x="345.0" y="506.1">−0.50</text></g>
<linearGradient id="cbd" x1="0" y1="0" x2="0" y2="1"><stop offset="0.000" stop-color="#fffffa"/><stop offset="0.080" stop-color="#faebaa"/><stop offset="0.180" stop-color="#f8cd50"/><stop offset="0.270" stop-color="#f5aa28"/><stop offset="0.365" stop-color="#f08723"/><stop offset="0.480" stop-color="#ee6428"/><stop offset="0.510" stop-color="#eb5c2a"/><stop offset="0.624" stop-color="#de373e"/><stop offset="0.716" stop-color="#aa2882"/><stop offset="0.790" stop-color="#6432a0"/><stop offset="0.863" stop-color="#37285a"/><stop offset="0.937" stop-color="#1e1923"/><stop offset="1.000" stop-color="#0c0a0c"/></linearGradient>
<rect x="711.3" y="261.0" width="11.5" height="271.0" fill="url(#cbd)"/>
<rect x="711.3" y="261.0" width="11.5" height="271.0" fill="none" stroke="#ddd" stroke-width="0.6"/>
<g font-family="Liberation Sans, Arial, sans-serif" font-size="17" fill="#1a1412"><text x="728.0" y="321.1">0.4</text><text x="728.0" y="374.6">0.3</text><text x="728.0" y="430.4">0.2</text><text x="728.0" y="485.1">0.1</text><text x="728.0" y="538.6">0</text></g>
<g font-family="Liberation Sans, Arial, sans-serif" font-size="22" fill="#1a1412"><text x="192" y="571.6" text-anchor="middle">x/λ</text><text x="568" y="571.6" text-anchor="middle">x/λ</text><text x="8" y="398.3">y/λ</text><text x="377" y="398.3">y/λ</text></g>
<g font-family="Liberation Sans, Arial, sans-serif" font-size="19" fill="#1a1412" text-anchor="middle"><text x="140.0" y="19.5">(a)</text><text x="504" y="20.5">(b)</text><text x="200.7" y="250.3">(c)</text><text x="573.4" y="250.8">(d)</text></g>
<g font-family="Liberation Sans, Arial, sans-serif" font-size="19" fill="#1a1412"><text x="279.8" y="281.8" textLength="46" lengthAdjust="spacingAndGlyphs">E<tspan font-size="10" dx="-2">t</tspan>(x,y)</text><text x="660.8" y="283.0" textLength="41" lengthAdjust="spacingAndGlyphs">I<tspan font-size="11">t</tspan>(x,y)</text></g>
<g font-family="Liberation Sans, Arial, sans-serif" font-size="11" fill="#2a2220"><text x="70.6" y="101.0" text-anchor="end">0.5</text><text x="73.6" y="124.4" text-anchor="end">0.0</text><text x="77.0" y="145.0" text-anchor="end">−0.5</text><text x="76.5" y="169.8" text-anchor="middle">−5</text><text x="161.8" y="201.5" text-anchor="middle">0</text><text x="253.9" y="237.4" text-anchor="middle">5</text><text x="276.2" y="230.4" text-anchor="middle">−5</text><text x="312.0" y="167.0" text-anchor="middle">0</text><text x="345.3" y="115.7" text-anchor="middle">5</text></g><text font-family="Liberation Sans, Arial, sans-serif" font-size="19" fill="#1a1412" transform="matrix(0.84 0.26 -0.45 1.12 143.5 220.5)">y/λ</text><text font-family="Liberation Sans, Arial, sans-serif" font-size="19" fill="#1a1412" transform="matrix(0.46 -0.96 0.87 0.63 324.0 181.0)">x/λ</text><text font-family="Liberation Sans, Arial, sans-serif" font-size="19" fill="#1a1412" x="0.8" y="140.6" textLength="46.5" lengthAdjust="spacingAndGlyphs">E<tspan font-size="10" dx="-2">t</tspan>(x,y)</text>
<g font-family="Liberation Sans, Arial, sans-serif" font-size="11" fill="#2a2220"><text x="437.2" y="105.7" text-anchor="end">0.4</text><text x="440.7" y="130.7" text-anchor="end">0.2</text><text x="444.9" y="154.3" text-anchor="end">0.0</text><text x="442.3" y="169.8" text-anchor="middle">−5</text><text x="527.6" y="201.5" text-anchor="middle">0</text><text x="619.7" y="237.4" text-anchor="middle">5</text><text x="642.0" y="230.4" text-anchor="middle">−5</text><text x="677.8" y="167.0" text-anchor="middle">0</text><text x="711.1" y="115.7" text-anchor="middle">5</text></g><text font-family="Liberation Sans, Arial, sans-serif" font-size="19" fill="#1a1412" transform="matrix(0.84 0.26 -0.45 1.12 512.8 220.5)">y/λ</text><text font-family="Liberation Sans, Arial, sans-serif" font-size="19" fill="#1a1412" transform="matrix(0.46 -0.96 0.87 0.63 694.8 186.0)">x/λ</text><text font-family="Liberation Sans, Arial, sans-serif" font-size="19" fill="#1a1412" x="377.2" y="138.9" textLength="41.5" lengthAdjust="spacingAndGlyphs">I<tspan font-size="11">t</tspan>(x,y)</text>
</svg></body></html>
